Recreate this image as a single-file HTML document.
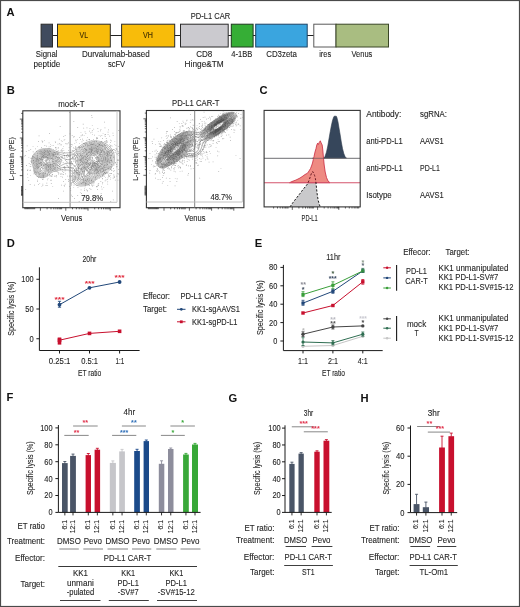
<!DOCTYPE html>
<html><head><meta charset="utf-8"><style>
html,body{margin:0;padding:0;background:#fff;overflow:hidden;}
svg{display:block;font-family:"Liberation Sans", sans-serif;will-change:transform;}
</style></head><body>
<svg width="520" height="607" viewBox="0 0 520 607">
<rect x="0" y="0" width="520" height="607" fill="#fff"/>
<rect x="0.50" y="0.50" width="519.00" height="606.00" fill="none" stroke="#4a4a4a" stroke-width="1.2"/>
<text x="6.60" y="16.00" font-size="11.2" fill="#111" font-weight="bold">A</text>
<line x1="52.00" y1="35.50" x2="314.00" y2="35.50" stroke="#222" stroke-width="1"/>
<rect x="41.10" y="24.20" width="11.40" height="22.80" fill="#404b5e" stroke="#2a2a2a" stroke-width="1.0"/>
<rect x="57.50" y="24.20" width="52.80" height="22.80" fill="#f8bc0a" stroke="#2a2a2a" stroke-width="1.0"/>
<rect x="121.60" y="24.20" width="53.10" height="22.80" fill="#f8bc0a" stroke="#2a2a2a" stroke-width="1.0"/>
<rect x="180.50" y="24.20" width="47.70" height="22.80" fill="#cbcacf" stroke="#2a2a2a" stroke-width="1.0"/>
<rect x="231.30" y="24.20" width="21.80" height="22.80" fill="#36ae36" stroke="#1f3a1f" stroke-width="1.0"/>
<rect x="255.70" y="24.20" width="51.50" height="22.80" fill="#3aa5df" stroke="#1e4466" stroke-width="1.0"/>
<rect x="313.80" y="24.20" width="22.20" height="22.80" fill="#ffffff" stroke="#5a5a5a" stroke-width="1.0"/>
<rect x="336.00" y="24.20" width="52.50" height="22.80" fill="#a9bd81" stroke="#3a4626" stroke-width="1.0"/>
<text x="79.50" y="37.90" font-size="8.4" fill="#3a2a00" stroke="#3a2a00" stroke-width="0.1" textLength="8.50" lengthAdjust="spacingAndGlyphs">VL</text>
<text x="143.10" y="37.90" font-size="8.4" fill="#3a2a00" stroke="#3a2a00" stroke-width="0.1" textLength="9.90" lengthAdjust="spacingAndGlyphs">VH</text>
<text x="190.80" y="19.10" font-size="8.6" fill="#242424" stroke="#242424" stroke-width="0.1" textLength="39.40" lengthAdjust="spacingAndGlyphs">PD-L1 CAR</text>
<text x="35.80" y="57.00" font-size="8.3" fill="#242424" stroke="#242424" stroke-width="0.1" textLength="21.70" lengthAdjust="spacingAndGlyphs">Signal</text>
<text x="33.50" y="66.70" font-size="8.3" fill="#242424" stroke="#242424" stroke-width="0.1" textLength="26.80" lengthAdjust="spacingAndGlyphs">peptide</text>
<text x="81.90" y="57.00" font-size="8.3" fill="#242424" stroke="#242424" stroke-width="0.1" textLength="67.80" lengthAdjust="spacingAndGlyphs">Durvalumab-based</text>
<text x="107.90" y="66.70" font-size="8.3" fill="#242424" stroke="#242424" stroke-width="0.1" textLength="17.30" lengthAdjust="spacingAndGlyphs">scFV</text>
<text x="196.20" y="57.00" font-size="8.3" fill="#242424" stroke="#242424" stroke-width="0.1" textLength="16.10" lengthAdjust="spacingAndGlyphs">CD8</text>
<text x="184.60" y="66.70" font-size="8.3" fill="#242424" stroke="#242424" stroke-width="0.1" textLength="39.20" lengthAdjust="spacingAndGlyphs">Hinge&amp;TM</text>
<text x="231.20" y="57.00" font-size="8.3" fill="#242424" stroke="#242424" stroke-width="0.1" textLength="21.10" lengthAdjust="spacingAndGlyphs">4-1BB</text>
<text x="266.20" y="57.00" font-size="8.3" fill="#242424" stroke="#242424" stroke-width="0.1" textLength="30.70" lengthAdjust="spacingAndGlyphs">CD3zeta</text>
<text x="319.20" y="57.00" font-size="8.3" fill="#242424" stroke="#242424" stroke-width="0.1" textLength="11.90" lengthAdjust="spacingAndGlyphs">ires</text>
<text x="351.50" y="57.00" font-size="8.3" fill="#242424" stroke="#242424" stroke-width="0.1" textLength="20.80" lengthAdjust="spacingAndGlyphs">Venus</text>
<text x="6.80" y="93.90" font-size="11.2" fill="#111" font-weight="bold">B</text>
<rect x="22.80" y="110.80" width="97.20" height="96.90" fill="none" stroke="#333" stroke-width="1.1"/>
<line x1="70.10" y1="110.80" x2="70.10" y2="207.70" stroke="#777" stroke-width="0.9"/>
<line x1="22.80" y1="202.30" x2="117.00" y2="202.30" stroke="#bbb" stroke-width="0.9"/>
<line x1="117.00" y1="110.80" x2="117.00" y2="202.30" stroke="#c4c4c4" stroke-width="0.9"/>
<path d="M22.8,119.1h-3.0M22.8,138.0h-3.0M22.8,156.8h-3.0M22.8,175.6h-3.0M22.8,113.4h-1.6M22.8,132.3h-1.6M22.8,129.0h-1.6M22.8,126.7h-1.6M22.8,124.9h-1.6M22.8,123.4h-1.6M22.8,122.1h-1.6M22.8,121.0h-1.6M22.8,120.1h-1.6M22.8,151.1h-1.6M22.8,147.8h-1.6M22.8,145.5h-1.6M22.8,143.7h-1.6M22.8,142.2h-1.6M22.8,140.9h-1.6M22.8,139.8h-1.6M22.8,138.9h-1.6M22.8,169.9h-1.6M22.8,166.6h-1.6M22.8,164.3h-1.6M22.8,162.5h-1.6M22.8,161.0h-1.6M22.8,159.7h-1.6M22.8,158.6h-1.6M22.8,157.7h-1.6M22.8,186.5h-1.8M22.8,187.3h-1.8M22.8,188.1h-1.8M22.8,188.9h-1.8M22.8,189.7h-1.8M22.8,190.5h-1.8M22.8,191.3h-1.8M22.8,192.1h-1.8M22.8,192.9h-1.8M22.8,193.7h-1.8M22.8,194.5h-1.8M22.8,195.3h-1.8" fill="none" stroke="#222" stroke-width="0.7"/>
<path d="M40.4,207.7v3.0M65.8,207.7v3.0M88.0,207.7v3.0M110.2,207.7v3.0M47.1,207.7v1.6M51.0,207.7v1.6M53.8,207.7v1.6M55.9,207.7v1.6M57.7,207.7v1.6M59.2,207.7v1.6M60.4,207.7v1.6M61.6,207.7v1.6M72.5,207.7v1.6M76.4,207.7v1.6M79.2,207.7v1.6M81.3,207.7v1.6M83.1,207.7v1.6M84.6,207.7v1.6M85.8,207.7v1.6M87.0,207.7v1.6M94.7,207.7v1.6M98.6,207.7v1.6M101.4,207.7v1.6M103.5,207.7v1.6M105.3,207.7v1.6M106.8,207.7v1.6M108.0,207.7v1.6M109.2,207.7v1.6M24.8,207.7v1.5M25.7,207.7v1.5M26.6,207.7v1.5M27.5,207.7v1.5M28.4,207.7v1.5M29.3,207.7v1.5M30.2,207.7v1.5M31.1,207.7v1.5M32.0,207.7v1.5M32.9,207.7v1.5M33.8,207.7v1.5M34.7,207.7v1.5" fill="none" stroke="#222" stroke-width="0.7"/>
<text x="58.30" y="106.50" font-size="8.3" fill="#242424" stroke="#242424" stroke-width="0.1" textLength="26.20" lengthAdjust="spacingAndGlyphs">mock-T</text>
<text x="61.10" y="220.60" font-size="8.3" fill="#242424" stroke="#242424" stroke-width="0.1" textLength="21.20" lengthAdjust="spacingAndGlyphs">Venus</text>
<text x="14.30" y="180.50" font-size="8.1" fill="#242424" stroke="#242424" stroke-width="0.1" textLength="43.20" lengthAdjust="spacingAndGlyphs" transform="rotate(-90 14.30 180.50)">L-protein (PE)</text>
<text x="81.30" y="200.60" font-size="8.3" fill="#242424" stroke="#242424" stroke-width="0.1" textLength="21.80" lengthAdjust="spacingAndGlyphs">79.8%</text>
<rect x="146.40" y="110.50" width="97.50" height="97.20" fill="none" stroke="#333" stroke-width="1.1"/>
<line x1="194.70" y1="110.50" x2="194.70" y2="207.70" stroke="#777" stroke-width="0.9"/>
<line x1="146.40" y1="202.00" x2="242.40" y2="202.00" stroke="#bbb" stroke-width="0.9"/>
<line x1="242.40" y1="110.50" x2="242.40" y2="202.00" stroke="#c4c4c4" stroke-width="0.9"/>
<path d="M146.4,118.8h-3.0M146.4,137.7h-3.0M146.4,156.5h-3.0M146.4,175.3h-3.0M146.4,113.1h-1.6M146.4,132.0h-1.6M146.4,128.7h-1.6M146.4,126.4h-1.6M146.4,124.6h-1.6M146.4,123.1h-1.6M146.4,121.8h-1.6M146.4,120.7h-1.6M146.4,119.8h-1.6M146.4,150.8h-1.6M146.4,147.5h-1.6M146.4,145.2h-1.6M146.4,143.4h-1.6M146.4,141.9h-1.6M146.4,140.6h-1.6M146.4,139.5h-1.6M146.4,138.6h-1.6M146.4,169.6h-1.6M146.4,166.3h-1.6M146.4,164.0h-1.6M146.4,162.2h-1.6M146.4,160.7h-1.6M146.4,159.4h-1.6M146.4,158.3h-1.6M146.4,157.4h-1.6M146.4,186.2h-1.8M146.4,187.0h-1.8M146.4,187.8h-1.8M146.4,188.6h-1.8M146.4,189.4h-1.8M146.4,190.2h-1.8M146.4,191.0h-1.8M146.4,191.8h-1.8M146.4,192.6h-1.8M146.4,193.4h-1.8M146.4,194.2h-1.8M146.4,195.0h-1.8" fill="none" stroke="#222" stroke-width="0.7"/>
<path d="M164.0,207.7v3.0M189.4,207.7v3.0M211.6,207.7v3.0M233.8,207.7v3.0M170.7,207.7v1.6M174.6,207.7v1.6M177.4,207.7v1.6M179.5,207.7v1.6M181.3,207.7v1.6M182.8,207.7v1.6M184.0,207.7v1.6M185.2,207.7v1.6M196.1,207.7v1.6M200.0,207.7v1.6M202.8,207.7v1.6M204.9,207.7v1.6M206.7,207.7v1.6M208.2,207.7v1.6M209.4,207.7v1.6M210.6,207.7v1.6M218.3,207.7v1.6M222.2,207.7v1.6M225.0,207.7v1.6M227.1,207.7v1.6M228.9,207.7v1.6M230.4,207.7v1.6M231.6,207.7v1.6M232.8,207.7v1.6M148.4,207.7v1.5M149.3,207.7v1.5M150.2,207.7v1.5M151.1,207.7v1.5M152.0,207.7v1.5M152.9,207.7v1.5M153.8,207.7v1.5M154.7,207.7v1.5M155.6,207.7v1.5M156.5,207.7v1.5M157.4,207.7v1.5M158.3,207.7v1.5" fill="none" stroke="#222" stroke-width="0.7"/>
<text x="172.00" y="105.70" font-size="8.3" fill="#242424" stroke="#242424" stroke-width="0.1" textLength="47.50" lengthAdjust="spacingAndGlyphs">PD-L1 CAR-T</text>
<text x="184.60" y="220.60" font-size="8.3" fill="#242424" stroke="#242424" stroke-width="0.1" textLength="20.90" lengthAdjust="spacingAndGlyphs">Venus</text>
<text x="137.60" y="180.80" font-size="8.1" fill="#242424" stroke="#242424" stroke-width="0.1" textLength="43.60" lengthAdjust="spacingAndGlyphs" transform="rotate(-90 137.60 180.80)">L-protein (PE)</text>
<text x="210.40" y="199.80" font-size="8.3" fill="#242424" stroke="#242424" stroke-width="0.1" textLength="21.60" lengthAdjust="spacingAndGlyphs">48.7%</text>
<path d="M56.4,151.5h0.7v0.7h-0.7zM71.3,161.0h0.7v0.7h-0.7zM29.6,170.2h0.7v0.7h-0.7zM107.0,164.1h0.7v0.7h-0.7zM51.7,145.4h0.7v0.7h-0.7zM75.5,157.5h0.7v0.7h-0.7zM85.8,154.1h0.7v0.7h-0.7zM40.9,159.8h0.7v0.7h-0.7zM42.1,172.9h0.7v0.7h-0.7zM65.0,173.5h0.7v0.7h-0.7zM79.4,147.1h0.7v0.7h-0.7zM81.2,163.8h0.7v0.7h-0.7zM111.3,159.8h0.7v0.7h-0.7zM90.5,169.3h0.7v0.7h-0.7zM68.3,167.4h0.7v0.7h-0.7zM101.9,145.4h0.7v0.7h-0.7zM86.1,174.6h0.7v0.7h-0.7zM50.4,166.4h0.7v0.7h-0.7zM83.0,179.4h0.7v0.7h-0.7zM94.8,146.9h0.7v0.7h-0.7zM29.8,184.2h0.7v0.7h-0.7zM104.5,165.0h0.7v0.7h-0.7zM64.7,167.4h0.7v0.7h-0.7zM32.9,156.3h0.7v0.7h-0.7zM41.5,166.9h0.7v0.7h-0.7zM108.7,167.3h0.7v0.7h-0.7zM58.0,198.1h0.7v0.7h-0.7zM86.3,189.5h0.7v0.7h-0.7zM28.4,180.3h0.7v0.7h-0.7zM63.8,185.3h0.7v0.7h-0.7zM92.9,164.6h0.7v0.7h-0.7zM37.3,156.6h0.7v0.7h-0.7zM82.7,172.4h0.7v0.7h-0.7zM69.3,186.2h0.7v0.7h-0.7zM99.1,166.1h0.7v0.7h-0.7zM86.8,166.7h0.7v0.7h-0.7zM40.6,152.8h0.7v0.7h-0.7zM59.3,166.1h0.7v0.7h-0.7zM87.5,163.1h0.7v0.7h-0.7zM53.5,158.7h0.7v0.7h-0.7zM96.5,186.6h0.7v0.7h-0.7zM92.4,168.1h0.7v0.7h-0.7zM105.7,161.7h0.7v0.7h-0.7zM105.8,140.5h0.7v0.7h-0.7zM58.8,158.1h0.7v0.7h-0.7zM43.4,171.9h0.7v0.7h-0.7zM50.1,169.6h0.7v0.7h-0.7zM106.4,167.6h0.7v0.7h-0.7zM118.3,152.7h0.7v0.7h-0.7zM85.4,155.8h0.7v0.7h-0.7zM70.9,163.1h0.7v0.7h-0.7zM97.3,157.6h0.7v0.7h-0.7zM67.0,165.3h0.7v0.7h-0.7zM100.7,157.8h0.7v0.7h-0.7zM86.6,127.5h0.7v0.7h-0.7zM81.8,134.8h0.7v0.7h-0.7zM79.9,192.4h0.7v0.7h-0.7zM91.8,163.0h0.7v0.7h-0.7zM106.4,142.1h0.7v0.7h-0.7zM79.3,174.3h0.7v0.7h-0.7zM116.7,166.0h0.7v0.7h-0.7zM96.2,156.5h0.7v0.7h-0.7zM89.2,139.6h0.7v0.7h-0.7zM97.0,153.0h0.7v0.7h-0.7zM117.2,159.4h0.7v0.7h-0.7zM100.5,181.1h0.7v0.7h-0.7zM62.2,140.9h0.7v0.7h-0.7zM86.4,162.3h0.7v0.7h-0.7zM98.3,167.0h0.7v0.7h-0.7zM73.8,171.6h0.7v0.7h-0.7zM85.0,179.9h0.7v0.7h-0.7zM27.5,176.9h0.7v0.7h-0.7zM92.3,163.7h0.7v0.7h-0.7zM91.3,166.7h0.7v0.7h-0.7zM107.7,131.8h0.7v0.7h-0.7zM106.5,153.3h0.7v0.7h-0.7zM35.9,163.1h0.7v0.7h-0.7zM36.9,171.5h0.7v0.7h-0.7zM84.7,186.6h0.7v0.7h-0.7zM81.6,178.9h0.7v0.7h-0.7zM47.4,158.3h0.7v0.7h-0.7zM80.0,155.2h0.7v0.7h-0.7zM103.3,158.5h0.7v0.7h-0.7zM70.8,164.8h0.7v0.7h-0.7zM72.3,168.9h0.7v0.7h-0.7zM104.2,121.7h0.7v0.7h-0.7zM102.3,173.9h0.7v0.7h-0.7zM58.4,161.3h0.7v0.7h-0.7zM101.3,168.6h0.7v0.7h-0.7zM84.9,142.8h0.7v0.7h-0.7zM92.6,143.9h0.7v0.7h-0.7zM99.5,154.4h0.7v0.7h-0.7zM82.2,171.2h0.7v0.7h-0.7zM64.5,139.4h0.7v0.7h-0.7zM60.5,150.5h0.7v0.7h-0.7zM111.0,150.6h0.7v0.7h-0.7zM104.8,180.5h0.7v0.7h-0.7zM74.4,142.9h0.7v0.7h-0.7zM61.0,184.8h0.7v0.7h-0.7zM111.0,164.5h0.7v0.7h-0.7zM93.9,141.5h0.7v0.7h-0.7zM46.6,156.9h0.7v0.7h-0.7zM102.8,169.6h0.7v0.7h-0.7zM101.0,164.4h0.7v0.7h-0.7zM84.7,131.6h0.7v0.7h-0.7zM111.8,150.4h0.7v0.7h-0.7zM95.9,173.5h0.7v0.7h-0.7zM90.4,182.9h0.7v0.7h-0.7zM61.0,159.3h0.7v0.7h-0.7zM89.6,173.1h0.7v0.7h-0.7zM102.6,151.6h0.7v0.7h-0.7zM113.8,152.4h0.7v0.7h-0.7zM102.8,175.4h0.7v0.7h-0.7zM90.5,157.1h0.7v0.7h-0.7zM72.1,181.9h0.7v0.7h-0.7zM74.8,154.7h0.7v0.7h-0.7zM114.4,163.5h0.7v0.7h-0.7zM53.6,162.7h0.7v0.7h-0.7zM104.6,127.6h0.7v0.7h-0.7zM90.7,168.2h0.7v0.7h-0.7zM101.5,154.1h0.7v0.7h-0.7zM105.2,158.6h0.7v0.7h-0.7zM57.8,150.2h0.7v0.7h-0.7zM87.5,154.9h0.7v0.7h-0.7zM110.3,169.1h0.7v0.7h-0.7zM75.6,177.6h0.7v0.7h-0.7zM83.0,171.3h0.7v0.7h-0.7zM101.4,166.4h0.7v0.7h-0.7zM78.6,146.8h0.7v0.7h-0.7zM65.8,143.5h0.7v0.7h-0.7zM63.4,136.3h0.7v0.7h-0.7zM85.3,184.5h0.7v0.7h-0.7zM112.9,199.6h0.7v0.7h-0.7zM103.5,165.8h0.7v0.7h-0.7zM94.5,165.5h0.7v0.7h-0.7zM69.3,174.9h0.7v0.7h-0.7zM30.2,169.7h0.7v0.7h-0.7zM50.5,175.7h0.7v0.7h-0.7zM92.0,170.4h0.7v0.7h-0.7zM92.6,141.2h0.7v0.7h-0.7zM97.2,163.7h0.7v0.7h-0.7zM59.6,163.6h0.7v0.7h-0.7zM84.8,156.5h0.7v0.7h-0.7zM46.8,185.1h0.7v0.7h-0.7zM90.4,170.2h0.7v0.7h-0.7zM57.6,157.0h0.7v0.7h-0.7zM87.2,174.8h0.7v0.7h-0.7zM74.4,170.3h0.7v0.7h-0.7zM38.1,141.1h0.7v0.7h-0.7zM26.3,165.4h0.7v0.7h-0.7zM98.6,166.7h0.7v0.7h-0.7zM80.6,131.9h0.7v0.7h-0.7zM76.6,172.8h0.7v0.7h-0.7zM99.9,149.4h0.7v0.7h-0.7zM98.9,144.0h0.7v0.7h-0.7zM110.9,140.5h0.7v0.7h-0.7zM93.5,143.5h0.7v0.7h-0.7zM108.9,162.6h0.7v0.7h-0.7zM110.0,157.5h0.7v0.7h-0.7zM84.2,152.5h0.7v0.7h-0.7zM76.0,171.8h0.7v0.7h-0.7zM73.9,153.7h0.7v0.7h-0.7zM118.4,155.4h0.7v0.7h-0.7zM91.7,117.0h0.7v0.7h-0.7zM30.4,149.0h0.7v0.7h-0.7zM59.7,164.1h0.7v0.7h-0.7zM39.2,173.5h0.7v0.7h-0.7zM91.4,151.7h0.7v0.7h-0.7zM115.0,151.8h0.7v0.7h-0.7zM63.4,172.2h0.7v0.7h-0.7zM28.6,150.2h0.7v0.7h-0.7zM51.3,157.9h0.7v0.7h-0.7zM105.8,172.6h0.7v0.7h-0.7zM70.9,158.6h0.7v0.7h-0.7zM91.4,180.6h0.7v0.7h-0.7zM91.6,182.6h0.7v0.7h-0.7zM60.4,161.6h0.7v0.7h-0.7zM56.0,175.2h0.7v0.7h-0.7zM114.5,140.9h0.7v0.7h-0.7zM73.5,158.7h0.7v0.7h-0.7zM55.4,154.2h0.7v0.7h-0.7zM106.3,155.2h0.7v0.7h-0.7zM117.9,146.2h0.7v0.7h-0.7zM113.8,170.0h0.7v0.7h-0.7zM96.2,163.2h0.7v0.7h-0.7zM108.6,168.2h0.7v0.7h-0.7zM81.7,163.8h0.7v0.7h-0.7zM70.0,174.9h0.7v0.7h-0.7zM95.6,166.0h0.7v0.7h-0.7zM96.2,137.8h0.7v0.7h-0.7zM93.7,181.6h0.7v0.7h-0.7zM72.2,150.2h0.7v0.7h-0.7zM100.2,168.6h0.7v0.7h-0.7zM104.5,152.5h0.7v0.7h-0.7zM53.8,163.6h0.7v0.7h-0.7zM87.7,154.8h0.7v0.7h-0.7zM100.9,160.7h0.7v0.7h-0.7zM70.3,155.5h0.7v0.7h-0.7zM82.6,161.8h0.7v0.7h-0.7zM89.0,130.7h0.7v0.7h-0.7zM60.8,173.6h0.7v0.7h-0.7zM94.0,148.4h0.7v0.7h-0.7zM96.2,186.0h0.7v0.7h-0.7zM59.8,126.2h0.7v0.7h-0.7zM66.1,155.2h0.7v0.7h-0.7zM76.6,185.3h0.7v0.7h-0.7zM48.4,157.5h0.7v0.7h-0.7zM32.4,155.7h0.7v0.7h-0.7zM88.6,184.5h0.7v0.7h-0.7zM49.0,175.6h0.7v0.7h-0.7zM38.7,176.5h0.7v0.7h-0.7zM93.2,167.1h0.7v0.7h-0.7zM89.6,145.2h0.7v0.7h-0.7zM41.1,147.2h0.7v0.7h-0.7zM109.4,152.2h0.7v0.7h-0.7zM97.1,146.2h0.7v0.7h-0.7zM64.8,183.7h0.7v0.7h-0.7zM96.1,172.8h0.7v0.7h-0.7zM84.4,171.6h0.7v0.7h-0.7zM103.9,175.7h0.7v0.7h-0.7zM61.7,156.1h0.7v0.7h-0.7zM109.9,179.4h0.7v0.7h-0.7zM93.7,162.0h0.7v0.7h-0.7zM72.1,156.5h0.7v0.7h-0.7zM64.7,170.5h0.7v0.7h-0.7zM25.0,155.1h0.7v0.7h-0.7zM61.9,169.0h0.7v0.7h-0.7zM116.3,166.5h0.7v0.7h-0.7zM44.5,145.2h0.7v0.7h-0.7zM73.6,184.7h0.7v0.7h-0.7zM93.5,143.8h0.7v0.7h-0.7zM118.3,150.9h0.7v0.7h-0.7zM66.8,157.0h0.7v0.7h-0.7zM107.9,148.9h0.7v0.7h-0.7zM73.8,136.0h0.7v0.7h-0.7zM108.1,129.5h0.7v0.7h-0.7zM71.0,172.9h0.7v0.7h-0.7zM97.7,143.3h0.7v0.7h-0.7zM113.7,175.8h0.7v0.7h-0.7zM82.4,182.0h0.7v0.7h-0.7zM35.5,173.9h0.7v0.7h-0.7zM98.2,171.5h0.7v0.7h-0.7zM32.7,145.9h0.7v0.7h-0.7zM57.2,165.0h0.7v0.7h-0.7zM97.6,156.1h0.7v0.7h-0.7zM48.3,167.3h0.7v0.7h-0.7zM59.4,143.3h0.7v0.7h-0.7zM73.8,171.8h0.7v0.7h-0.7zM45.5,151.4h0.7v0.7h-0.7zM99.8,142.2h0.7v0.7h-0.7zM106.8,141.5h0.7v0.7h-0.7zM51.7,153.6h0.7v0.7h-0.7zM95.6,163.3h0.7v0.7h-0.7zM85.5,164.6h0.7v0.7h-0.7zM80.3,159.5h0.7v0.7h-0.7zM77.6,172.8h0.7v0.7h-0.7zM33.7,162.2h0.7v0.7h-0.7zM85.9,139.9h0.7v0.7h-0.7zM50.8,168.3h0.7v0.7h-0.7zM85.9,149.3h0.7v0.7h-0.7zM107.3,156.4h0.7v0.7h-0.7zM113.9,177.0h0.7v0.7h-0.7zM55.0,142.1h0.7v0.7h-0.7zM106.5,163.0h0.7v0.7h-0.7zM111.3,166.3h0.7v0.7h-0.7zM114.9,150.3h0.7v0.7h-0.7zM87.6,184.9h0.7v0.7h-0.7zM100.0,154.7h0.7v0.7h-0.7zM102.0,175.9h0.7v0.7h-0.7zM114.9,179.7h0.7v0.7h-0.7zM92.3,164.6h0.7v0.7h-0.7zM68.3,167.3h0.7v0.7h-0.7zM90.0,152.8h0.7v0.7h-0.7zM52.2,174.1h0.7v0.7h-0.7zM92.2,157.1h0.7v0.7h-0.7zM89.4,148.7h0.7v0.7h-0.7zM91.7,159.7h0.7v0.7h-0.7zM85.6,167.8h0.7v0.7h-0.7zM91.8,173.3h0.7v0.7h-0.7zM91.2,172.3h0.7v0.7h-0.7zM86.1,149.8h0.7v0.7h-0.7zM41.1,164.2h0.7v0.7h-0.7zM63.2,181.1h0.7v0.7h-0.7zM96.7,152.5h0.7v0.7h-0.7zM59.8,169.4h0.7v0.7h-0.7zM103.3,171.4h0.7v0.7h-0.7zM87.3,156.1h0.7v0.7h-0.7zM72.9,167.5h0.7v0.7h-0.7zM69.3,160.7h0.7v0.7h-0.7zM99.4,144.6h0.7v0.7h-0.7zM91.6,160.5h0.7v0.7h-0.7zM73.5,121.0h0.7v0.7h-0.7zM79.1,143.4h0.7v0.7h-0.7zM39.7,168.9h0.7v0.7h-0.7zM108.2,165.9h0.7v0.7h-0.7zM97.8,130.9h0.7v0.7h-0.7zM112.8,177.8h0.7v0.7h-0.7zM72.8,179.5h0.7v0.7h-0.7zM113.5,174.6h0.7v0.7h-0.7zM64.2,185.8h0.7v0.7h-0.7zM112.1,190.7h0.7v0.7h-0.7zM97.1,164.3h0.7v0.7h-0.7zM32.8,151.6h0.7v0.7h-0.7zM107.7,150.7h0.7v0.7h-0.7zM57.3,153.0h0.7v0.7h-0.7zM81.0,156.2h0.7v0.7h-0.7zM110.1,160.0h0.7v0.7h-0.7zM58.9,157.1h0.7v0.7h-0.7zM98.1,149.8h0.7v0.7h-0.7zM98.1,160.0h0.7v0.7h-0.7zM73.0,158.5h0.7v0.7h-0.7zM87.9,180.7h0.7v0.7h-0.7zM79.1,174.6h0.7v0.7h-0.7zM105.4,158.2h0.7v0.7h-0.7zM106.1,168.8h0.7v0.7h-0.7zM105.7,173.4h0.7v0.7h-0.7zM46.2,156.3h0.7v0.7h-0.7zM60.6,156.9h0.7v0.7h-0.7zM75.4,172.6h0.7v0.7h-0.7zM92.0,133.9h0.7v0.7h-0.7zM80.0,169.5h0.7v0.7h-0.7zM109.8,146.2h0.7v0.7h-0.7zM62.3,176.8h0.7v0.7h-0.7zM88.6,139.3h0.7v0.7h-0.7zM88.9,178.6h0.7v0.7h-0.7zM54.2,168.6h0.7v0.7h-0.7zM90.0,162.3h0.7v0.7h-0.7zM81.4,158.7h0.7v0.7h-0.7zM85.1,166.8h0.7v0.7h-0.7zM71.3,145.9h0.7v0.7h-0.7zM104.3,145.6h0.7v0.7h-0.7zM102.4,182.3h0.7v0.7h-0.7zM99.8,154.1h0.7v0.7h-0.7zM110.9,169.6h0.7v0.7h-0.7zM96.0,169.3h0.7v0.7h-0.7zM51.4,163.8h0.7v0.7h-0.7zM98.9,144.2h0.7v0.7h-0.7zM89.2,157.1h0.7v0.7h-0.7zM53.2,155.1h0.7v0.7h-0.7zM99.5,170.2h0.7v0.7h-0.7zM91.0,167.5h0.7v0.7h-0.7zM84.2,173.7h0.7v0.7h-0.7zM73.4,136.7h0.7v0.7h-0.7zM38.1,167.3h0.7v0.7h-0.7zM102.0,159.9h0.7v0.7h-0.7zM84.1,190.1h0.7v0.7h-0.7zM90.8,151.3h0.7v0.7h-0.7zM110.2,150.3h0.7v0.7h-0.7zM46.7,169.4h0.7v0.7h-0.7zM98.8,167.1h0.7v0.7h-0.7zM44.1,140.4h0.7v0.7h-0.7zM71.8,135.2h0.7v0.7h-0.7zM97.6,171.0h0.7v0.7h-0.7zM77.2,172.1h0.7v0.7h-0.7zM73.0,158.5h0.7v0.7h-0.7zM37.1,155.4h0.7v0.7h-0.7zM69.4,155.9h0.7v0.7h-0.7zM53.3,154.4h0.7v0.7h-0.7zM46.9,159.3h0.7v0.7h-0.7zM98.4,157.9h0.7v0.7h-0.7zM92.0,144.2h0.7v0.7h-0.7zM77.6,179.9h0.7v0.7h-0.7zM82.6,149.1h0.7v0.7h-0.7zM95.8,140.7h0.7v0.7h-0.7zM105.9,138.2h0.7v0.7h-0.7zM103.6,154.6h0.7v0.7h-0.7zM108.3,174.6h0.7v0.7h-0.7zM27.2,170.2h0.7v0.7h-0.7zM95.7,147.8h0.7v0.7h-0.7zM100.7,177.4h0.7v0.7h-0.7zM117.0,160.1h0.7v0.7h-0.7zM61.2,149.9h0.7v0.7h-0.7zM46.3,162.1h0.7v0.7h-0.7zM78.1,167.5h0.7v0.7h-0.7zM68.8,156.4h0.7v0.7h-0.7zM68.2,179.2h0.7v0.7h-0.7zM95.9,167.0h0.7v0.7h-0.7zM108.7,160.2h0.7v0.7h-0.7zM80.6,158.8h0.7v0.7h-0.7zM44.8,166.7h0.7v0.7h-0.7zM105.3,134.0h0.7v0.7h-0.7zM35.4,165.9h0.7v0.7h-0.7zM73.0,160.8h0.7v0.7h-0.7zM91.4,115.1h0.7v0.7h-0.7zM26.1,165.3h0.7v0.7h-0.7zM46.5,182.7h0.7v0.7h-0.7zM37.2,166.0h0.7v0.7h-0.7zM98.2,160.0h0.7v0.7h-0.7zM79.8,160.0h0.7v0.7h-0.7zM65.4,179.1h0.7v0.7h-0.7zM74.1,198.0h0.7v0.7h-0.7zM111.2,160.2h0.7v0.7h-0.7zM109.2,161.6h0.7v0.7h-0.7zM106.9,141.8h0.7v0.7h-0.7zM78.0,164.6h0.7v0.7h-0.7zM74.7,179.4h0.7v0.7h-0.7zM57.1,168.7h0.7v0.7h-0.7zM101.1,166.5h0.7v0.7h-0.7zM45.6,163.9h0.7v0.7h-0.7zM100.7,172.1h0.7v0.7h-0.7zM40.9,151.1h0.7v0.7h-0.7zM59.2,161.6h0.7v0.7h-0.7zM94.1,173.0h0.7v0.7h-0.7zM55.3,156.6h0.7v0.7h-0.7zM83.4,127.8h0.7v0.7h-0.7zM39.9,169.9h0.7v0.7h-0.7zM52.8,154.2h0.7v0.7h-0.7zM88.2,159.0h0.7v0.7h-0.7zM95.0,163.0h0.7v0.7h-0.7zM42.5,159.0h0.7v0.7h-0.7zM76.3,170.0h0.7v0.7h-0.7zM42.5,152.6h0.7v0.7h-0.7zM88.2,152.3h0.7v0.7h-0.7zM39.4,182.9h0.7v0.7h-0.7zM71.0,181.9h0.7v0.7h-0.7zM60.2,173.8h0.7v0.7h-0.7zM71.2,162.3h0.7v0.7h-0.7zM64.2,151.9h0.7v0.7h-0.7zM87.1,190.6h0.7v0.7h-0.7zM97.7,185.3h0.7v0.7h-0.7zM58.9,157.1h0.7v0.7h-0.7zM89.8,162.7h0.7v0.7h-0.7zM86.8,175.4h0.7v0.7h-0.7zM58.5,168.5h0.7v0.7h-0.7zM109.2,176.0h0.7v0.7h-0.7zM84.5,168.5h0.7v0.7h-0.7zM109.3,172.9h0.7v0.7h-0.7zM68.0,154.8h0.7v0.7h-0.7zM36.2,166.8h0.7v0.7h-0.7zM41.7,162.5h0.7v0.7h-0.7zM76.4,152.5h0.7v0.7h-0.7zM94.4,162.0h0.7v0.7h-0.7zM109.4,144.4h0.7v0.7h-0.7zM58.4,153.8h0.7v0.7h-0.7zM58.9,138.8h0.7v0.7h-0.7zM55.7,147.6h0.7v0.7h-0.7zM75.4,146.3h0.7v0.7h-0.7zM83.1,166.5h0.7v0.7h-0.7zM104.7,147.1h0.7v0.7h-0.7zM93.6,172.1h0.7v0.7h-0.7zM90.1,172.7h0.7v0.7h-0.7zM93.7,176.6h0.7v0.7h-0.7zM58.5,152.3h0.7v0.7h-0.7zM33.6,157.6h0.7v0.7h-0.7zM31.0,162.3h0.7v0.7h-0.7zM76.6,147.6h0.7v0.7h-0.7zM108.6,154.1h0.7v0.7h-0.7zM104.0,148.8h0.7v0.7h-0.7zM82.3,138.8h0.7v0.7h-0.7zM86.9,168.4h0.7v0.7h-0.7zM72.3,163.0h0.7v0.7h-0.7zM91.1,183.7h0.7v0.7h-0.7zM96.6,169.8h0.7v0.7h-0.7zM105.2,173.5h0.7v0.7h-0.7zM49.1,162.0h0.7v0.7h-0.7zM43.4,155.5h0.7v0.7h-0.7zM94.3,141.6h0.7v0.7h-0.7zM61.0,144.6h0.7v0.7h-0.7zM44.7,173.1h0.7v0.7h-0.7zM75.1,176.5h0.7v0.7h-0.7zM61.4,149.5h0.7v0.7h-0.7zM91.9,130.1h0.7v0.7h-0.7zM76.9,154.7h0.7v0.7h-0.7zM68.3,142.5h0.7v0.7h-0.7zM107.1,167.4h0.7v0.7h-0.7zM96.6,168.0h0.7v0.7h-0.7zM105.2,176.9h0.7v0.7h-0.7zM80.9,149.5h0.7v0.7h-0.7zM90.1,172.4h0.7v0.7h-0.7zM98.1,161.2h0.7v0.7h-0.7zM49.3,133.2h0.7v0.7h-0.7zM43.7,162.6h0.7v0.7h-0.7zM77.9,162.6h0.7v0.7h-0.7zM100.3,130.5h0.7v0.7h-0.7zM42.3,168.7h0.7v0.7h-0.7zM110.5,154.7h0.7v0.7h-0.7zM63.7,155.3h0.7v0.7h-0.7zM47.6,165.0h0.7v0.7h-0.7zM91.6,185.0h0.7v0.7h-0.7zM44.0,162.4h0.7v0.7h-0.7zM111.0,173.0h0.7v0.7h-0.7zM54.6,171.0h0.7v0.7h-0.7zM94.3,163.6h0.7v0.7h-0.7zM53.0,154.8h0.7v0.7h-0.7zM50.6,171.6h0.7v0.7h-0.7zM103.4,186.9h0.7v0.7h-0.7zM69.4,176.3h0.7v0.7h-0.7zM115.0,162.6h0.7v0.7h-0.7zM83.0,151.8h0.7v0.7h-0.7zM102.3,138.0h0.7v0.7h-0.7zM104.8,136.3h0.7v0.7h-0.7zM52.1,161.6h0.7v0.7h-0.7zM55.0,165.0h0.7v0.7h-0.7zM88.8,176.4h0.7v0.7h-0.7zM52.4,186.4h0.7v0.7h-0.7zM90.3,144.1h0.7v0.7h-0.7zM104.5,134.5h0.7v0.7h-0.7zM88.9,148.5h0.7v0.7h-0.7zM104.3,166.7h0.7v0.7h-0.7zM48.2,170.1h0.7v0.7h-0.7zM98.2,144.9h0.7v0.7h-0.7zM87.0,169.5h0.7v0.7h-0.7zM85.4,179.9h0.7v0.7h-0.7zM92.0,148.7h0.7v0.7h-0.7zM68.5,155.8h0.7v0.7h-0.7zM50.2,164.1h0.7v0.7h-0.7zM92.0,160.0h0.7v0.7h-0.7zM82.8,168.0h0.7v0.7h-0.7zM104.6,154.3h0.7v0.7h-0.7zM84.9,182.9h0.7v0.7h-0.7zM57.6,159.6h0.7v0.7h-0.7zM93.6,182.1h0.7v0.7h-0.7zM101.4,168.6h0.7v0.7h-0.7zM107.6,152.6h0.7v0.7h-0.7zM25.4,189.2h0.7v0.7h-0.7zM37.3,152.8h0.7v0.7h-0.7zM102.3,178.0h0.7v0.7h-0.7zM106.5,140.4h0.7v0.7h-0.7zM86.0,156.9h0.7v0.7h-0.7zM85.0,144.6h0.7v0.7h-0.7zM80.4,167.9h0.7v0.7h-0.7zM40.5,150.8h0.7v0.7h-0.7zM118.0,159.7h0.7v0.7h-0.7zM73.4,150.5h0.7v0.7h-0.7zM99.2,177.9h0.7v0.7h-0.7zM80.9,168.1h0.7v0.7h-0.7zM111.1,155.4h0.7v0.7h-0.7zM101.2,186.6h0.7v0.7h-0.7zM39.6,162.9h0.7v0.7h-0.7zM57.8,148.4h0.7v0.7h-0.7zM75.4,147.2h0.7v0.7h-0.7zM100.4,150.4h0.7v0.7h-0.7zM50.6,158.3h0.7v0.7h-0.7zM96.2,141.4h0.7v0.7h-0.7zM80.7,135.6h0.7v0.7h-0.7zM57.5,153.9h0.7v0.7h-0.7zM105.0,169.0h0.7v0.7h-0.7zM55.7,162.7h0.7v0.7h-0.7zM97.4,151.8h0.7v0.7h-0.7zM27.3,173.7h0.7v0.7h-0.7zM98.9,154.7h0.7v0.7h-0.7zM97.8,183.7h0.7v0.7h-0.7zM91.1,149.3h0.7v0.7h-0.7zM91.4,160.3h0.7v0.7h-0.7zM87.1,179.3h0.7v0.7h-0.7zM40.8,152.8h0.7v0.7h-0.7zM57.7,172.2h0.7v0.7h-0.7zM100.6,163.3h0.7v0.7h-0.7zM73.4,175.4h0.7v0.7h-0.7zM55.5,170.6h0.7v0.7h-0.7zM86.0,169.9h0.7v0.7h-0.7zM110.9,173.4h0.7v0.7h-0.7zM99.5,144.0h0.7v0.7h-0.7zM53.3,163.0h0.7v0.7h-0.7zM89.0,148.9h0.7v0.7h-0.7zM90.6,189.2h0.7v0.7h-0.7zM62.1,150.5h0.7v0.7h-0.7zM108.6,150.7h0.7v0.7h-0.7zM77.7,151.3h0.7v0.7h-0.7zM36.6,164.7h0.7v0.7h-0.7zM107.1,153.4h0.7v0.7h-0.7zM86.6,149.8h0.7v0.7h-0.7zM46.6,167.6h0.7v0.7h-0.7zM105.1,140.9h0.7v0.7h-0.7zM37.5,168.2h0.7v0.7h-0.7zM84.7,148.0h0.7v0.7h-0.7zM97.4,157.3h0.7v0.7h-0.7zM78.6,163.7h0.7v0.7h-0.7zM86.6,180.4h0.7v0.7h-0.7zM71.9,196.3h0.7v0.7h-0.7zM69.2,112.2h0.7v0.7h-0.7zM33.3,163.0h0.7v0.7h-0.7zM110.4,201.3h0.7v0.7h-0.7zM38.7,174.1h0.7v0.7h-0.7zM92.8,152.7h0.7v0.7h-0.7zM35.2,148.6h0.7v0.7h-0.7zM97.1,185.9h0.7v0.7h-0.7zM94.4,151.2h0.7v0.7h-0.7zM87.7,172.5h0.7v0.7h-0.7zM73.0,157.6h0.7v0.7h-0.7zM47.5,151.8h0.7v0.7h-0.7zM111.5,170.1h0.7v0.7h-0.7zM57.1,167.2h0.7v0.7h-0.7zM54.3,154.5h0.7v0.7h-0.7zM105.7,160.7h0.7v0.7h-0.7zM75.6,155.4h0.7v0.7h-0.7zM59.2,158.1h0.7v0.7h-0.7zM65.5,143.3h0.7v0.7h-0.7zM84.7,176.6h0.7v0.7h-0.7zM53.1,144.9h0.7v0.7h-0.7zM107.7,172.4h0.7v0.7h-0.7zM52.7,166.2h0.7v0.7h-0.7zM62.4,171.3h0.7v0.7h-0.7zM40.9,162.6h0.7v0.7h-0.7zM107.4,181.6h0.7v0.7h-0.7zM69.5,163.8h0.7v0.7h-0.7zM113.9,149.5h0.7v0.7h-0.7zM106.8,148.4h0.7v0.7h-0.7zM52.5,154.2h0.7v0.7h-0.7zM77.6,168.5h0.7v0.7h-0.7zM78.1,168.0h0.7v0.7h-0.7zM47.2,157.3h0.7v0.7h-0.7zM77.0,156.7h0.7v0.7h-0.7zM85.0,169.3h0.7v0.7h-0.7zM81.9,161.6h0.7v0.7h-0.7zM91.7,159.3h0.7v0.7h-0.7zM95.9,158.2h0.7v0.7h-0.7zM109.2,153.1h0.7v0.7h-0.7zM85.5,169.4h0.7v0.7h-0.7zM80.5,153.7h0.7v0.7h-0.7zM65.3,160.3h0.7v0.7h-0.7zM52.6,164.9h0.7v0.7h-0.7zM73.2,147.5h0.7v0.7h-0.7zM83.6,167.4h0.7v0.7h-0.7zM88.6,171.2h0.7v0.7h-0.7zM96.9,137.4h0.7v0.7h-0.7zM45.3,157.2h0.7v0.7h-0.7zM55.6,153.1h0.7v0.7h-0.7zM92.3,158.3h0.7v0.7h-0.7zM73.2,172.9h0.7v0.7h-0.7zM89.6,170.7h0.7v0.7h-0.7zM68.9,171.5h0.7v0.7h-0.7zM77.5,166.3h0.7v0.7h-0.7zM36.8,176.1h0.7v0.7h-0.7zM61.8,173.8h0.7v0.7h-0.7zM85.7,157.8h0.7v0.7h-0.7zM34.1,184.8h0.7v0.7h-0.7zM103.7,152.6h0.7v0.7h-0.7zM61.5,156.8h0.7v0.7h-0.7zM54.4,152.0h0.7v0.7h-0.7zM34.5,164.8h0.7v0.7h-0.7zM110.8,148.8h0.7v0.7h-0.7zM73.8,178.6h0.7v0.7h-0.7zM44.7,154.1h0.7v0.7h-0.7zM100.5,171.2h0.7v0.7h-0.7zM35.7,171.9h0.7v0.7h-0.7zM78.8,173.7h0.7v0.7h-0.7zM82.0,176.0h0.7v0.7h-0.7zM108.8,155.1h0.7v0.7h-0.7zM97.0,170.1h0.7v0.7h-0.7zM81.6,155.3h0.7v0.7h-0.7zM50.2,151.3h0.7v0.7h-0.7zM73.7,170.2h0.7v0.7h-0.7zM81.8,161.4h0.7v0.7h-0.7zM106.7,164.8h0.7v0.7h-0.7zM78.9,156.6h0.7v0.7h-0.7zM64.3,155.0h0.7v0.7h-0.7zM75.4,177.8h0.7v0.7h-0.7zM117.4,173.2h0.7v0.7h-0.7zM70.4,190.1h0.7v0.7h-0.7zM89.5,188.3h0.7v0.7h-0.7zM94.4,170.1h0.7v0.7h-0.7zM36.2,158.6h0.7v0.7h-0.7zM52.9,165.7h0.7v0.7h-0.7zM93.7,171.1h0.7v0.7h-0.7zM32.9,160.0h0.7v0.7h-0.7zM59.8,144.5h0.7v0.7h-0.7zM66.5,156.0h0.7v0.7h-0.7zM69.6,133.6h0.7v0.7h-0.7zM94.3,163.8h0.7v0.7h-0.7zM77.4,195.3h0.7v0.7h-0.7zM43.7,165.4h0.7v0.7h-0.7zM112.1,150.0h0.7v0.7h-0.7zM88.0,168.6h0.7v0.7h-0.7zM117.9,173.9h0.7v0.7h-0.7zM39.5,158.4h0.7v0.7h-0.7zM85.5,196.9h0.7v0.7h-0.7zM42.8,157.1h0.7v0.7h-0.7zM109.4,135.7h0.7v0.7h-0.7zM113.6,164.7h0.7v0.7h-0.7zM33.9,169.8h0.7v0.7h-0.7zM105.7,179.5h0.7v0.7h-0.7zM87.2,160.3h0.7v0.7h-0.7zM49.4,150.7h0.7v0.7h-0.7zM104.8,166.8h0.7v0.7h-0.7zM77.4,127.0h0.7v0.7h-0.7zM111.4,152.3h0.7v0.7h-0.7zM97.0,157.2h0.7v0.7h-0.7zM70.5,149.7h0.7v0.7h-0.7zM60.9,140.5h0.7v0.7h-0.7zM63.3,174.3h0.7v0.7h-0.7zM89.6,173.4h0.7v0.7h-0.7zM83.9,143.3h0.7v0.7h-0.7zM91.7,131.7h0.7v0.7h-0.7zM64.2,168.3h0.7v0.7h-0.7zM88.4,163.5h0.7v0.7h-0.7zM92.6,161.1h0.7v0.7h-0.7zM95.0,178.7h0.7v0.7h-0.7zM83.7,179.7h0.7v0.7h-0.7zM101.7,188.8h0.7v0.7h-0.7zM50.3,167.0h0.7v0.7h-0.7zM95.4,145.3h0.7v0.7h-0.7zM55.4,152.6h0.7v0.7h-0.7zM97.2,189.3h0.7v0.7h-0.7zM42.8,177.5h0.7v0.7h-0.7zM87.2,137.4h0.7v0.7h-0.7zM87.1,158.2h0.7v0.7h-0.7zM95.9,169.1h0.7v0.7h-0.7zM110.2,155.6h0.7v0.7h-0.7zM116.5,175.7h0.7v0.7h-0.7zM81.3,183.3h0.7v0.7h-0.7zM91.5,178.9h0.7v0.7h-0.7zM63.6,167.3h0.7v0.7h-0.7zM33.4,160.6h0.7v0.7h-0.7zM50.7,157.5h0.7v0.7h-0.7zM58.1,157.4h0.7v0.7h-0.7zM78.8,201.3h0.7v0.7h-0.7zM38.7,135.6h0.7v0.7h-0.7zM50.7,179.7h0.7v0.7h-0.7zM82.9,123.9h0.7v0.7h-0.7zM88.8,165.0h0.7v0.7h-0.7zM56.5,159.7h0.7v0.7h-0.7zM40.4,173.0h0.7v0.7h-0.7zM98.5,165.2h0.7v0.7h-0.7zM72.0,157.0h0.7v0.7h-0.7zM52.5,158.5h0.7v0.7h-0.7zM45.8,164.7h0.7v0.7h-0.7zM91.9,124.9h0.7v0.7h-0.7zM103.7,168.9h0.7v0.7h-0.7zM89.2,185.2h0.7v0.7h-0.7zM70.1,188.1h0.7v0.7h-0.7zM83.5,162.4h0.7v0.7h-0.7zM88.8,173.0h0.7v0.7h-0.7zM89.9,162.3h0.7v0.7h-0.7zM54.0,175.8h0.7v0.7h-0.7zM48.2,171.7h0.7v0.7h-0.7zM69.3,162.4h0.7v0.7h-0.7zM95.6,161.0h0.7v0.7h-0.7zM107.2,160.0h0.7v0.7h-0.7zM82.6,172.9h0.7v0.7h-0.7zM89.3,172.4h0.7v0.7h-0.7zM77.5,153.5h0.7v0.7h-0.7zM79.7,164.2h0.7v0.7h-0.7zM100.8,193.1h0.7v0.7h-0.7zM100.6,151.8h0.7v0.7h-0.7zM107.8,155.7h0.7v0.7h-0.7zM43.6,152.9h0.7v0.7h-0.7zM65.4,168.7h0.7v0.7h-0.7zM74.6,155.1h0.7v0.7h-0.7zM72.6,181.7h0.7v0.7h-0.7zM35.6,160.7h0.7v0.7h-0.7zM79.5,148.4h0.7v0.7h-0.7zM31.4,160.7h0.7v0.7h-0.7zM107.2,154.7h0.7v0.7h-0.7zM86.6,139.7h0.7v0.7h-0.7zM89.5,152.1h0.7v0.7h-0.7zM53.7,152.1h0.7v0.7h-0.7zM80.2,162.1h0.7v0.7h-0.7zM78.4,160.7h0.7v0.7h-0.7zM45.6,185.2h0.7v0.7h-0.7zM98.7,135.4h0.7v0.7h-0.7zM96.1,149.6h0.7v0.7h-0.7zM91.3,169.9h0.7v0.7h-0.7zM102.7,167.3h0.7v0.7h-0.7zM97.3,138.3h0.7v0.7h-0.7zM100.5,159.8h0.7v0.7h-0.7zM42.2,156.1h0.7v0.7h-0.7zM90.9,165.1h0.7v0.7h-0.7zM36.9,158.8h0.7v0.7h-0.7zM79.3,174.8h0.7v0.7h-0.7zM97.5,128.3h0.7v0.7h-0.7zM115.7,148.2h0.7v0.7h-0.7zM83.4,169.7h0.7v0.7h-0.7zM56.2,176.5h0.7v0.7h-0.7zM42.2,141.8h0.7v0.7h-0.7zM79.1,159.6h0.7v0.7h-0.7zM58.5,172.7h0.7v0.7h-0.7zM107.6,152.1h0.7v0.7h-0.7zM93.2,165.8h0.7v0.7h-0.7zM52.3,174.5h0.7v0.7h-0.7zM88.6,170.2h0.7v0.7h-0.7zM89.5,159.7h0.7v0.7h-0.7zM74.7,157.7h0.7v0.7h-0.7zM95.4,168.7h0.7v0.7h-0.7zM96.7,171.9h0.7v0.7h-0.7zM55.5,163.7h0.7v0.7h-0.7zM116.1,148.9h0.7v0.7h-0.7zM84.5,166.3h0.7v0.7h-0.7zM102.1,155.7h0.7v0.7h-0.7zM79.4,137.3h0.7v0.7h-0.7zM64.8,135.3h0.7v0.7h-0.7zM92.1,185.8h0.7v0.7h-0.7zM76.9,179.0h0.7v0.7h-0.7zM103.5,160.5h0.7v0.7h-0.7zM93.5,182.7h0.7v0.7h-0.7zM85.0,183.4h0.7v0.7h-0.7zM86.7,143.8h0.7v0.7h-0.7zM110.6,167.1h0.7v0.7h-0.7zM88.4,171.1h0.7v0.7h-0.7zM42.8,176.6h0.7v0.7h-0.7zM108.0,168.3h0.7v0.7h-0.7zM91.3,143.8h0.7v0.7h-0.7zM81.6,141.6h0.7v0.7h-0.7zM43.5,155.1h0.7v0.7h-0.7zM42.8,160.8h0.7v0.7h-0.7zM34.7,168.0h0.7v0.7h-0.7zM67.3,154.6h0.7v0.7h-0.7zM80.4,153.8h0.7v0.7h-0.7zM97.2,175.2h0.7v0.7h-0.7zM85.2,149.1h0.7v0.7h-0.7zM68.0,181.2h0.7v0.7h-0.7zM75.7,140.5h0.7v0.7h-0.7zM83.6,172.4h0.7v0.7h-0.7zM87.2,179.1h0.7v0.7h-0.7zM87.7,184.2h0.7v0.7h-0.7zM60.2,168.7h0.7v0.7h-0.7zM71.3,184.7h0.7v0.7h-0.7zM84.1,164.8h0.7v0.7h-0.7zM91.4,146.5h0.7v0.7h-0.7zM116.6,148.8h0.7v0.7h-0.7zM72.5,170.5h0.7v0.7h-0.7zM69.8,144.4h0.7v0.7h-0.7zM81.1,193.0h0.7v0.7h-0.7zM27.5,169.6h0.7v0.7h-0.7zM53.1,155.1h0.7v0.7h-0.7zM105.2,156.8h0.7v0.7h-0.7zM104.8,169.7h0.7v0.7h-0.7zM101.1,145.0h0.7v0.7h-0.7zM83.8,135.4h0.7v0.7h-0.7zM81.9,155.0h0.7v0.7h-0.7zM73.3,154.6h0.7v0.7h-0.7zM107.7,177.5h0.7v0.7h-0.7zM82.8,123.7h0.7v0.7h-0.7zM41.9,156.6h0.7v0.7h-0.7zM108.4,175.1h0.7v0.7h-0.7zM85.3,149.4h0.7v0.7h-0.7zM86.2,164.0h0.7v0.7h-0.7zM74.4,166.1h0.7v0.7h-0.7zM50.9,183.3h0.7v0.7h-0.7zM93.6,152.9h0.7v0.7h-0.7zM47.6,148.4h0.7v0.7h-0.7zM85.2,168.3h0.7v0.7h-0.7zM90.2,158.6h0.7v0.7h-0.7zM87.7,152.5h0.7v0.7h-0.7zM118.1,130.2h0.7v0.7h-0.7zM71.3,167.7h0.7v0.7h-0.7zM50.3,143.9h0.7v0.7h-0.7zM28.8,163.0h0.7v0.7h-0.7zM54.9,141.5h0.7v0.7h-0.7zM38.1,159.6h0.7v0.7h-0.7zM101.6,150.4h0.7v0.7h-0.7zM88.9,174.5h0.7v0.7h-0.7zM71.7,153.1h0.7v0.7h-0.7zM91.0,180.1h0.7v0.7h-0.7zM78.0,166.9h0.7v0.7h-0.7zM114.4,144.4h0.7v0.7h-0.7zM33.6,173.6h0.7v0.7h-0.7zM102.4,142.6h0.7v0.7h-0.7zM54.5,169.0h0.7v0.7h-0.7zM53.1,149.4h0.7v0.7h-0.7zM98.6,160.7h0.7v0.7h-0.7z" fill="#959595" stroke="none" stroke-width="0"/>
<path d="M82.1,146.9h0.7v0.7h-0.7zM53.4,161.0h0.7v0.7h-0.7zM57.1,151.9h0.7v0.7h-0.7zM76.2,155.5h0.7v0.7h-0.7zM40.2,162.2h0.7v0.7h-0.7zM105.1,169.5h0.7v0.7h-0.7zM42.0,154.1h0.7v0.7h-0.7zM95.1,156.9h0.7v0.7h-0.7zM53.9,155.8h0.7v0.7h-0.7zM65.9,159.0h0.7v0.7h-0.7zM40.9,162.4h0.7v0.7h-0.7zM88.0,155.1h0.7v0.7h-0.7zM101.5,159.9h0.7v0.7h-0.7zM84.5,166.8h0.7v0.7h-0.7zM82.2,162.0h0.7v0.7h-0.7zM41.6,140.6h0.7v0.7h-0.7zM78.4,172.7h0.7v0.7h-0.7zM85.1,144.8h0.7v0.7h-0.7zM45.8,167.8h0.7v0.7h-0.7zM97.7,146.3h0.7v0.7h-0.7zM49.0,153.2h0.7v0.7h-0.7zM97.8,169.7h0.7v0.7h-0.7zM94.1,153.7h0.7v0.7h-0.7zM104.4,172.6h0.7v0.7h-0.7zM43.7,167.5h0.7v0.7h-0.7zM107.5,160.8h0.7v0.7h-0.7zM40.6,177.2h0.7v0.7h-0.7zM63.0,190.7h0.7v0.7h-0.7zM52.3,157.2h0.7v0.7h-0.7zM41.9,158.7h0.7v0.7h-0.7zM43.3,173.6h0.7v0.7h-0.7zM94.3,160.2h0.7v0.7h-0.7zM26.8,145.5h0.7v0.7h-0.7zM83.8,176.2h0.7v0.7h-0.7zM96.7,138.2h0.7v0.7h-0.7zM97.8,171.6h0.7v0.7h-0.7zM86.4,153.7h0.7v0.7h-0.7zM89.2,170.1h0.7v0.7h-0.7zM57.1,157.3h0.7v0.7h-0.7zM70.6,182.7h0.7v0.7h-0.7zM97.5,167.1h0.7v0.7h-0.7zM55.0,147.3h0.7v0.7h-0.7zM51.8,155.3h0.7v0.7h-0.7zM71.9,144.5h0.7v0.7h-0.7zM82.9,168.1h0.7v0.7h-0.7zM110.2,145.2h0.7v0.7h-0.7zM88.4,168.2h0.7v0.7h-0.7zM91.8,158.3h0.7v0.7h-0.7zM110.6,145.3h0.7v0.7h-0.7zM105.9,149.9h0.7v0.7h-0.7zM90.4,162.7h0.7v0.7h-0.7zM86.3,183.6h0.7v0.7h-0.7zM76.8,157.3h0.7v0.7h-0.7zM31.9,158.0h0.7v0.7h-0.7zM95.9,169.8h0.7v0.7h-0.7zM90.5,153.7h0.7v0.7h-0.7zM39.9,171.4h0.7v0.7h-0.7zM75.5,139.8h0.7v0.7h-0.7zM108.4,159.1h0.7v0.7h-0.7zM103.9,172.1h0.7v0.7h-0.7zM96.2,168.3h0.7v0.7h-0.7zM95.3,170.0h0.7v0.7h-0.7zM55.3,167.5h0.7v0.7h-0.7zM84.1,155.7h0.7v0.7h-0.7zM102.7,168.0h0.7v0.7h-0.7zM98.2,151.3h0.7v0.7h-0.7zM106.0,140.7h0.7v0.7h-0.7zM37.1,157.5h0.7v0.7h-0.7zM83.6,145.9h0.7v0.7h-0.7zM70.4,179.9h0.7v0.7h-0.7zM91.5,149.5h0.7v0.7h-0.7zM88.2,166.8h0.7v0.7h-0.7zM46.6,170.0h0.7v0.7h-0.7zM96.4,166.7h0.7v0.7h-0.7zM62.0,157.6h0.7v0.7h-0.7zM110.1,139.8h0.7v0.7h-0.7zM108.0,168.0h0.7v0.7h-0.7zM75.5,149.3h0.7v0.7h-0.7zM86.1,154.1h0.7v0.7h-0.7zM86.2,167.3h0.7v0.7h-0.7zM95.8,152.3h0.7v0.7h-0.7zM41.5,185.9h0.7v0.7h-0.7zM117.1,162.4h0.7v0.7h-0.7zM97.7,148.9h0.7v0.7h-0.7zM92.5,164.6h0.7v0.7h-0.7zM97.3,151.8h0.7v0.7h-0.7zM104.7,158.8h0.7v0.7h-0.7zM47.5,164.5h0.7v0.7h-0.7zM92.6,165.8h0.7v0.7h-0.7zM37.2,181.3h0.7v0.7h-0.7zM110.4,166.5h0.7v0.7h-0.7zM80.2,165.0h0.7v0.7h-0.7zM96.9,146.0h0.7v0.7h-0.7zM77.3,164.3h0.7v0.7h-0.7zM82.1,167.2h0.7v0.7h-0.7zM92.4,183.6h0.7v0.7h-0.7zM103.8,144.2h0.7v0.7h-0.7zM78.3,171.4h0.7v0.7h-0.7zM76.3,149.8h0.7v0.7h-0.7zM97.4,161.2h0.7v0.7h-0.7zM47.5,161.8h0.7v0.7h-0.7zM45.0,164.3h0.7v0.7h-0.7zM67.4,143.6h0.7v0.7h-0.7zM76.7,160.0h0.7v0.7h-0.7zM47.7,177.9h0.7v0.7h-0.7zM102.1,175.5h0.7v0.7h-0.7zM83.3,157.7h0.7v0.7h-0.7zM86.5,168.7h0.7v0.7h-0.7zM101.9,164.6h0.7v0.7h-0.7zM83.0,182.1h0.7v0.7h-0.7zM71.2,176.3h0.7v0.7h-0.7zM46.3,169.2h0.7v0.7h-0.7zM101.3,141.3h0.7v0.7h-0.7zM77.9,175.9h0.7v0.7h-0.7zM79.9,179.1h0.7v0.7h-0.7zM82.3,158.1h0.7v0.7h-0.7zM47.8,170.7h0.7v0.7h-0.7zM24.4,155.7h0.7v0.7h-0.7zM95.4,170.0h0.7v0.7h-0.7zM44.0,149.7h0.7v0.7h-0.7zM33.9,157.4h0.7v0.7h-0.7zM87.2,166.3h0.7v0.7h-0.7zM105.0,157.1h0.7v0.7h-0.7zM86.9,161.5h0.7v0.7h-0.7zM98.3,167.5h0.7v0.7h-0.7zM79.8,181.8h0.7v0.7h-0.7zM47.8,169.1h0.7v0.7h-0.7zM76.0,159.8h0.7v0.7h-0.7zM43.1,157.4h0.7v0.7h-0.7zM85.5,133.2h0.7v0.7h-0.7zM101.7,168.1h0.7v0.7h-0.7zM55.8,157.1h0.7v0.7h-0.7zM36.1,164.9h0.7v0.7h-0.7zM63.5,166.8h0.7v0.7h-0.7zM104.8,153.1h0.7v0.7h-0.7zM83.4,173.7h0.7v0.7h-0.7zM96.9,171.8h0.7v0.7h-0.7zM75.8,161.2h0.7v0.7h-0.7zM90.0,149.3h0.7v0.7h-0.7zM71.6,180.2h0.7v0.7h-0.7zM102.3,178.5h0.7v0.7h-0.7zM91.3,167.0h0.7v0.7h-0.7zM97.9,159.4h0.7v0.7h-0.7zM43.2,164.7h0.7v0.7h-0.7zM49.2,154.0h0.7v0.7h-0.7zM68.8,147.2h0.7v0.7h-0.7zM47.4,175.6h0.7v0.7h-0.7zM95.0,165.6h0.7v0.7h-0.7zM107.3,179.3h0.7v0.7h-0.7zM72.4,155.6h0.7v0.7h-0.7zM28.5,156.9h0.7v0.7h-0.7zM40.9,157.2h0.7v0.7h-0.7zM101.6,144.4h0.7v0.7h-0.7zM108.5,158.5h0.7v0.7h-0.7zM90.3,161.9h0.7v0.7h-0.7zM73.0,181.0h0.7v0.7h-0.7zM105.3,148.8h0.7v0.7h-0.7zM99.6,149.3h0.7v0.7h-0.7zM104.1,166.8h0.7v0.7h-0.7zM63.7,139.8h0.7v0.7h-0.7zM39.6,171.4h0.7v0.7h-0.7zM72.4,158.9h0.7v0.7h-0.7zM104.6,145.6h0.7v0.7h-0.7zM93.4,163.3h0.7v0.7h-0.7zM67.7,166.0h0.7v0.7h-0.7zM41.3,158.0h0.7v0.7h-0.7zM79.6,177.6h0.7v0.7h-0.7zM112.6,132.8h0.7v0.7h-0.7zM44.8,170.0h0.7v0.7h-0.7zM42.9,156.8h0.7v0.7h-0.7zM101.0,141.4h0.7v0.7h-0.7zM53.3,154.2h0.7v0.7h-0.7zM57.0,161.9h0.7v0.7h-0.7zM106.9,164.1h0.7v0.7h-0.7zM88.5,172.2h0.7v0.7h-0.7zM57.3,157.9h0.7v0.7h-0.7zM87.0,190.5h0.7v0.7h-0.7zM97.7,156.8h0.7v0.7h-0.7zM109.6,149.9h0.7v0.7h-0.7zM96.5,163.8h0.7v0.7h-0.7zM92.4,173.4h0.7v0.7h-0.7zM99.8,143.0h0.7v0.7h-0.7zM84.1,167.3h0.7v0.7h-0.7zM85.8,177.6h0.7v0.7h-0.7zM92.9,162.7h0.7v0.7h-0.7zM97.5,165.7h0.7v0.7h-0.7zM53.2,165.4h0.7v0.7h-0.7zM106.8,151.6h0.7v0.7h-0.7zM73.6,165.5h0.7v0.7h-0.7zM117.5,153.5h0.7v0.7h-0.7zM87.2,156.2h0.7v0.7h-0.7zM87.5,161.8h0.7v0.7h-0.7zM38.6,172.8h0.7v0.7h-0.7zM80.7,189.5h0.7v0.7h-0.7zM80.7,159.4h0.7v0.7h-0.7zM107.4,183.8h0.7v0.7h-0.7zM73.5,172.5h0.7v0.7h-0.7zM40.0,159.3h0.7v0.7h-0.7zM87.1,156.3h0.7v0.7h-0.7zM63.5,150.0h0.7v0.7h-0.7zM97.4,162.3h0.7v0.7h-0.7zM70.9,175.6h0.7v0.7h-0.7zM117.6,179.8h0.7v0.7h-0.7zM99.4,154.7h0.7v0.7h-0.7zM47.8,159.5h0.7v0.7h-0.7zM94.3,163.2h0.7v0.7h-0.7zM42.1,179.0h0.7v0.7h-0.7zM86.3,149.7h0.7v0.7h-0.7zM47.2,157.0h0.7v0.7h-0.7zM30.3,175.4h0.7v0.7h-0.7zM54.9,175.7h0.7v0.7h-0.7zM44.5,156.3h0.7v0.7h-0.7zM55.0,167.6h0.7v0.7h-0.7zM88.7,164.8h0.7v0.7h-0.7zM48.3,166.2h0.7v0.7h-0.7zM96.3,157.2h0.7v0.7h-0.7zM100.6,156.3h0.7v0.7h-0.7zM43.2,176.5h0.7v0.7h-0.7zM64.4,156.5h0.7v0.7h-0.7zM103.9,170.3h0.7v0.7h-0.7zM102.4,149.5h0.7v0.7h-0.7zM71.2,194.8h0.7v0.7h-0.7zM90.6,172.3h0.7v0.7h-0.7zM48.0,148.4h0.7v0.7h-0.7zM68.3,150.1h0.7v0.7h-0.7zM45.9,161.0h0.7v0.7h-0.7zM90.2,155.3h0.7v0.7h-0.7zM103.9,151.9h0.7v0.7h-0.7zM81.4,146.7h0.7v0.7h-0.7zM48.9,157.6h0.7v0.7h-0.7zM83.9,143.4h0.7v0.7h-0.7zM91.2,167.7h0.7v0.7h-0.7zM118.9,161.8h0.7v0.7h-0.7zM86.5,165.8h0.7v0.7h-0.7zM97.8,163.5h0.7v0.7h-0.7zM53.2,168.4h0.7v0.7h-0.7zM96.9,169.0h0.7v0.7h-0.7zM91.1,168.6h0.7v0.7h-0.7zM39.0,163.3h0.7v0.7h-0.7zM58.1,173.7h0.7v0.7h-0.7zM116.2,153.5h0.7v0.7h-0.7zM95.6,163.8h0.7v0.7h-0.7zM74.5,169.4h0.7v0.7h-0.7zM47.8,151.3h0.7v0.7h-0.7zM50.6,180.0h0.7v0.7h-0.7zM98.6,160.6h0.7v0.7h-0.7zM86.9,169.8h0.7v0.7h-0.7zM49.4,168.6h0.7v0.7h-0.7zM97.6,164.1h0.7v0.7h-0.7zM97.7,160.8h0.7v0.7h-0.7zM113.9,161.7h0.7v0.7h-0.7zM82.0,134.5h0.7v0.7h-0.7zM37.1,164.3h0.7v0.7h-0.7zM46.6,158.8h0.7v0.7h-0.7zM64.1,166.2h0.7v0.7h-0.7zM62.5,148.2h0.7v0.7h-0.7zM77.3,153.5h0.7v0.7h-0.7zM102.2,146.1h0.7v0.7h-0.7zM80.8,169.3h0.7v0.7h-0.7zM112.8,149.2h0.7v0.7h-0.7zM91.2,151.3h0.7v0.7h-0.7zM74.0,158.7h0.7v0.7h-0.7zM48.3,164.4h0.7v0.7h-0.7zM103.3,169.8h0.7v0.7h-0.7zM86.6,163.3h0.7v0.7h-0.7zM83.6,166.5h0.7v0.7h-0.7zM41.7,154.1h0.7v0.7h-0.7zM71.4,183.7h0.7v0.7h-0.7zM87.9,173.7h0.7v0.7h-0.7zM110.1,173.3h0.7v0.7h-0.7zM95.6,176.0h0.7v0.7h-0.7zM78.0,165.6h0.7v0.7h-0.7zM81.6,146.4h0.7v0.7h-0.7zM36.3,151.3h0.7v0.7h-0.7zM78.5,157.9h0.7v0.7h-0.7zM51.1,175.9h0.7v0.7h-0.7zM48.6,158.2h0.7v0.7h-0.7zM91.6,157.3h0.7v0.7h-0.7zM96.2,148.2h0.7v0.7h-0.7zM64.6,167.3h0.7v0.7h-0.7zM39.0,150.9h0.7v0.7h-0.7zM42.8,157.5h0.7v0.7h-0.7zM42.5,183.7h0.7v0.7h-0.7zM35.0,171.4h0.7v0.7h-0.7zM105.1,142.6h0.7v0.7h-0.7zM88.6,158.3h0.7v0.7h-0.7zM76.1,168.8h0.7v0.7h-0.7zM103.8,164.9h0.7v0.7h-0.7zM75.7,161.7h0.7v0.7h-0.7zM46.2,166.4h0.7v0.7h-0.7zM118.3,173.4h0.7v0.7h-0.7zM103.2,157.6h0.7v0.7h-0.7zM75.2,148.0h0.7v0.7h-0.7zM61.7,157.7h0.7v0.7h-0.7zM86.6,152.3h0.7v0.7h-0.7zM67.0,161.8h0.7v0.7h-0.7zM78.9,165.9h0.7v0.7h-0.7zM91.2,154.5h0.7v0.7h-0.7zM103.3,170.6h0.7v0.7h-0.7zM102.1,145.3h0.7v0.7h-0.7zM48.3,153.7h0.7v0.7h-0.7zM100.6,129.1h0.7v0.7h-0.7zM37.8,162.4h0.7v0.7h-0.7zM74.3,176.0h0.7v0.7h-0.7zM76.9,170.3h0.7v0.7h-0.7zM102.5,163.8h0.7v0.7h-0.7zM49.3,153.8h0.7v0.7h-0.7zM48.7,142.6h0.7v0.7h-0.7zM42.8,155.3h0.7v0.7h-0.7zM90.9,140.4h0.7v0.7h-0.7zM113.4,171.0h0.7v0.7h-0.7zM25.9,151.1h0.7v0.7h-0.7zM39.8,163.3h0.7v0.7h-0.7zM89.7,169.6h0.7v0.7h-0.7zM91.5,152.5h0.7v0.7h-0.7zM102.4,145.7h0.7v0.7h-0.7zM94.3,167.8h0.7v0.7h-0.7zM94.5,164.4h0.7v0.7h-0.7zM56.9,150.9h0.7v0.7h-0.7zM41.8,167.3h0.7v0.7h-0.7zM110.3,157.5h0.7v0.7h-0.7zM76.6,160.8h0.7v0.7h-0.7zM30.4,164.0h0.7v0.7h-0.7zM91.3,144.3h0.7v0.7h-0.7zM92.0,149.7h0.7v0.7h-0.7zM97.9,147.7h0.7v0.7h-0.7zM81.1,168.0h0.7v0.7h-0.7zM84.0,162.4h0.7v0.7h-0.7zM79.7,150.9h0.7v0.7h-0.7zM86.7,161.3h0.7v0.7h-0.7zM83.8,163.6h0.7v0.7h-0.7zM107.8,168.5h0.7v0.7h-0.7zM89.8,164.2h0.7v0.7h-0.7zM77.6,174.8h0.7v0.7h-0.7zM39.6,158.1h0.7v0.7h-0.7zM90.7,150.6h0.7v0.7h-0.7zM102.1,161.7h0.7v0.7h-0.7zM102.6,149.8h0.7v0.7h-0.7zM87.5,178.0h0.7v0.7h-0.7zM87.7,165.9h0.7v0.7h-0.7zM86.7,154.8h0.7v0.7h-0.7zM34.6,154.0h0.7v0.7h-0.7zM109.7,175.0h0.7v0.7h-0.7zM68.4,156.4h0.7v0.7h-0.7zM35.9,160.7h0.7v0.7h-0.7zM96.5,166.5h0.7v0.7h-0.7zM52.1,158.4h0.7v0.7h-0.7zM92.6,161.5h0.7v0.7h-0.7zM99.5,145.2h0.7v0.7h-0.7zM99.8,156.4h0.7v0.7h-0.7zM103.5,151.1h0.7v0.7h-0.7zM44.8,171.1h0.7v0.7h-0.7zM80.0,139.0h0.7v0.7h-0.7zM119.0,170.4h0.7v0.7h-0.7zM100.3,135.8h0.7v0.7h-0.7zM83.1,143.2h0.7v0.7h-0.7zM45.8,160.5h0.7v0.7h-0.7zM79.9,155.2h0.7v0.7h-0.7zM83.2,159.8h0.7v0.7h-0.7zM105.4,159.1h0.7v0.7h-0.7zM91.7,159.7h0.7v0.7h-0.7zM106.7,151.2h0.7v0.7h-0.7zM71.2,182.7h0.7v0.7h-0.7zM98.5,143.9h0.7v0.7h-0.7zM74.0,177.4h0.7v0.7h-0.7zM98.3,157.1h0.7v0.7h-0.7zM82.9,180.1h0.7v0.7h-0.7zM79.6,153.2h0.7v0.7h-0.7zM42.2,159.5h0.7v0.7h-0.7zM98.8,172.9h0.7v0.7h-0.7zM38.1,172.1h0.7v0.7h-0.7zM33.3,166.8h0.7v0.7h-0.7zM75.9,141.9h0.7v0.7h-0.7zM38.4,160.2h0.7v0.7h-0.7zM77.5,164.5h0.7v0.7h-0.7zM81.0,160.5h0.7v0.7h-0.7zM110.4,177.6h0.7v0.7h-0.7zM70.3,162.3h0.7v0.7h-0.7zM113.4,155.8h0.7v0.7h-0.7zM75.7,169.5h0.7v0.7h-0.7zM110.0,157.5h0.7v0.7h-0.7zM81.5,176.6h0.7v0.7h-0.7zM100.9,151.8h0.7v0.7h-0.7zM83.0,156.6h0.7v0.7h-0.7zM64.6,167.4h0.7v0.7h-0.7zM49.9,165.0h0.7v0.7h-0.7zM69.3,163.0h0.7v0.7h-0.7zM35.9,172.7h0.7v0.7h-0.7zM107.0,161.6h0.7v0.7h-0.7zM94.0,169.4h0.7v0.7h-0.7zM92.3,162.5h0.7v0.7h-0.7zM101.1,147.8h0.7v0.7h-0.7zM83.7,171.2h0.7v0.7h-0.7zM50.7,169.7h0.7v0.7h-0.7zM52.6,163.9h0.7v0.7h-0.7zM40.7,170.6h0.7v0.7h-0.7zM69.5,153.9h0.7v0.7h-0.7zM75.9,173.5h0.7v0.7h-0.7zM46.4,157.3h0.7v0.7h-0.7zM68.8,180.2h0.7v0.7h-0.7zM82.9,145.7h0.7v0.7h-0.7zM51.6,176.3h0.7v0.7h-0.7zM66.3,164.8h0.7v0.7h-0.7zM94.4,155.8h0.7v0.7h-0.7zM106.0,165.6h0.7v0.7h-0.7zM95.2,168.4h0.7v0.7h-0.7zM94.8,150.4h0.7v0.7h-0.7zM79.7,160.3h0.7v0.7h-0.7zM62.9,153.2h0.7v0.7h-0.7zM30.8,157.8h0.7v0.7h-0.7zM93.5,159.7h0.7v0.7h-0.7zM37.1,154.9h0.7v0.7h-0.7zM85.1,163.0h0.7v0.7h-0.7zM104.4,167.0h0.7v0.7h-0.7zM102.4,170.9h0.7v0.7h-0.7zM80.2,171.5h0.7v0.7h-0.7zM99.0,161.5h0.7v0.7h-0.7zM87.4,144.9h0.7v0.7h-0.7zM82.4,177.3h0.7v0.7h-0.7zM101.0,141.9h0.7v0.7h-0.7zM97.3,149.0h0.7v0.7h-0.7zM107.7,134.2h0.7v0.7h-0.7zM97.1,164.6h0.7v0.7h-0.7zM92.3,164.8h0.7v0.7h-0.7zM77.6,170.0h0.7v0.7h-0.7zM38.4,165.4h0.7v0.7h-0.7zM49.6,165.7h0.7v0.7h-0.7zM107.1,168.8h0.7v0.7h-0.7zM89.3,179.8h0.7v0.7h-0.7zM85.4,162.9h0.7v0.7h-0.7zM79.5,145.9h0.7v0.7h-0.7zM101.3,157.8h0.7v0.7h-0.7zM73.6,179.3h0.7v0.7h-0.7zM48.7,146.5h0.7v0.7h-0.7zM93.9,163.0h0.7v0.7h-0.7zM80.5,159.7h0.7v0.7h-0.7zM50.2,163.7h0.7v0.7h-0.7zM117.3,150.7h0.7v0.7h-0.7zM79.4,178.6h0.7v0.7h-0.7zM80.5,147.1h0.7v0.7h-0.7zM78.2,178.5h0.7v0.7h-0.7zM101.6,154.4h0.7v0.7h-0.7zM93.0,139.3h0.7v0.7h-0.7zM47.2,155.1h0.7v0.7h-0.7zM54.2,163.1h0.7v0.7h-0.7zM103.8,173.4h0.7v0.7h-0.7zM62.8,162.2h0.7v0.7h-0.7zM98.7,158.7h0.7v0.7h-0.7zM83.0,175.5h0.7v0.7h-0.7zM94.6,165.2h0.7v0.7h-0.7zM81.9,164.9h0.7v0.7h-0.7zM38.3,167.4h0.7v0.7h-0.7zM93.4,168.9h0.7v0.7h-0.7zM111.5,161.6h0.7v0.7h-0.7zM78.2,159.6h0.7v0.7h-0.7zM84.1,188.5h0.7v0.7h-0.7zM93.1,154.8h0.7v0.7h-0.7zM89.9,163.5h0.7v0.7h-0.7zM89.0,182.6h0.7v0.7h-0.7zM102.6,163.5h0.7v0.7h-0.7zM78.9,147.0h0.7v0.7h-0.7zM42.6,174.8h0.7v0.7h-0.7zM91.4,147.0h0.7v0.7h-0.7zM117.8,159.8h0.7v0.7h-0.7zM82.1,171.6h0.7v0.7h-0.7zM88.6,151.5h0.7v0.7h-0.7zM100.7,152.4h0.7v0.7h-0.7zM96.6,159.1h0.7v0.7h-0.7zM38.3,177.1h0.7v0.7h-0.7zM87.1,160.4h0.7v0.7h-0.7zM97.6,161.3h0.7v0.7h-0.7zM95.6,177.7h0.7v0.7h-0.7zM86.7,153.0h0.7v0.7h-0.7zM102.5,163.5h0.7v0.7h-0.7zM78.9,172.5h0.7v0.7h-0.7zM111.7,145.7h0.7v0.7h-0.7zM96.7,161.4h0.7v0.7h-0.7zM51.4,148.4h0.7v0.7h-0.7zM92.0,153.1h0.7v0.7h-0.7zM97.2,158.5h0.7v0.7h-0.7zM106.8,157.5h0.7v0.7h-0.7zM100.8,150.4h0.7v0.7h-0.7zM40.4,168.1h0.7v0.7h-0.7zM107.2,150.8h0.7v0.7h-0.7zM98.4,164.9h0.7v0.7h-0.7zM77.0,167.6h0.7v0.7h-0.7zM30.6,166.4h0.7v0.7h-0.7zM55.0,157.9h0.7v0.7h-0.7zM103.2,159.6h0.7v0.7h-0.7zM48.5,169.4h0.7v0.7h-0.7zM101.5,135.3h0.7v0.7h-0.7zM83.1,157.4h0.7v0.7h-0.7zM91.1,150.6h0.7v0.7h-0.7zM46.9,163.3h0.7v0.7h-0.7zM104.5,145.3h0.7v0.7h-0.7zM49.3,148.0h0.7v0.7h-0.7zM102.3,183.5h0.7v0.7h-0.7zM85.8,157.4h0.7v0.7h-0.7zM46.0,167.6h0.7v0.7h-0.7zM48.5,158.0h0.7v0.7h-0.7zM56.7,154.4h0.7v0.7h-0.7zM45.5,168.5h0.7v0.7h-0.7zM118.9,164.9h0.7v0.7h-0.7zM47.0,159.9h0.7v0.7h-0.7zM86.5,174.0h0.7v0.7h-0.7zM49.3,174.3h0.7v0.7h-0.7zM90.7,173.6h0.7v0.7h-0.7zM83.7,172.9h0.7v0.7h-0.7zM77.8,174.1h0.7v0.7h-0.7zM72.1,163.0h0.7v0.7h-0.7zM100.8,149.9h0.7v0.7h-0.7zM74.3,156.0h0.7v0.7h-0.7zM95.9,156.9h0.7v0.7h-0.7zM99.8,169.4h0.7v0.7h-0.7zM100.1,163.3h0.7v0.7h-0.7zM81.3,173.2h0.7v0.7h-0.7zM102.9,151.6h0.7v0.7h-0.7zM101.9,171.2h0.7v0.7h-0.7zM79.3,164.9h0.7v0.7h-0.7zM37.3,167.6h0.7v0.7h-0.7zM97.1,172.0h0.7v0.7h-0.7zM89.3,151.6h0.7v0.7h-0.7zM41.4,164.4h0.7v0.7h-0.7zM90.1,158.8h0.7v0.7h-0.7zM90.3,169.7h0.7v0.7h-0.7zM54.8,160.6h0.7v0.7h-0.7zM33.9,171.6h0.7v0.7h-0.7zM30.7,158.2h0.7v0.7h-0.7zM78.0,166.7h0.7v0.7h-0.7zM84.4,161.0h0.7v0.7h-0.7zM95.3,154.0h0.7v0.7h-0.7zM88.0,162.8h0.7v0.7h-0.7zM116.0,164.3h0.7v0.7h-0.7zM72.4,170.6h0.7v0.7h-0.7zM91.7,160.9h0.7v0.7h-0.7zM97.9,173.2h0.7v0.7h-0.7zM50.1,146.2h0.7v0.7h-0.7zM46.6,157.4h0.7v0.7h-0.7zM39.1,158.3h0.7v0.7h-0.7zM81.6,174.1h0.7v0.7h-0.7zM100.1,152.6h0.7v0.7h-0.7zM74.8,152.6h0.7v0.7h-0.7zM38.6,160.4h0.7v0.7h-0.7zM88.5,163.3h0.7v0.7h-0.7zM99.0,154.1h0.7v0.7h-0.7zM55.5,161.5h0.7v0.7h-0.7zM83.1,178.0h0.7v0.7h-0.7zM43.0,175.2h0.7v0.7h-0.7zM102.0,150.1h0.7v0.7h-0.7zM107.4,153.5h0.7v0.7h-0.7zM105.2,145.3h0.7v0.7h-0.7zM96.6,150.8h0.7v0.7h-0.7zM45.8,167.4h0.7v0.7h-0.7zM94.5,163.0h0.7v0.7h-0.7zM48.2,151.9h0.7v0.7h-0.7zM85.0,179.6h0.7v0.7h-0.7zM45.1,151.4h0.7v0.7h-0.7zM107.0,152.9h0.7v0.7h-0.7zM55.5,147.6h0.7v0.7h-0.7zM72.3,158.0h0.7v0.7h-0.7zM83.1,179.6h0.7v0.7h-0.7zM73.4,187.4h0.7v0.7h-0.7zM74.1,180.8h0.7v0.7h-0.7zM100.3,176.4h0.7v0.7h-0.7zM37.0,179.7h0.7v0.7h-0.7zM56.9,154.4h0.7v0.7h-0.7zM89.5,163.8h0.7v0.7h-0.7zM118.3,169.2h0.7v0.7h-0.7zM90.8,167.5h0.7v0.7h-0.7zM85.1,180.0h0.7v0.7h-0.7zM57.6,143.7h0.7v0.7h-0.7zM55.8,149.2h0.7v0.7h-0.7zM107.5,173.2h0.7v0.7h-0.7zM54.2,166.9h0.7v0.7h-0.7zM72.4,167.7h0.7v0.7h-0.7zM77.3,139.4h0.7v0.7h-0.7zM87.1,170.3h0.7v0.7h-0.7zM44.4,163.5h0.7v0.7h-0.7zM106.3,147.1h0.7v0.7h-0.7zM88.8,173.2h0.7v0.7h-0.7zM56.3,160.7h0.7v0.7h-0.7zM104.5,171.7h0.7v0.7h-0.7zM112.8,135.0h0.7v0.7h-0.7zM89.4,174.0h0.7v0.7h-0.7zM78.6,183.4h0.7v0.7h-0.7zM84.4,175.4h0.7v0.7h-0.7zM96.6,160.6h0.7v0.7h-0.7zM92.9,147.8h0.7v0.7h-0.7zM87.7,176.6h0.7v0.7h-0.7zM38.3,160.9h0.7v0.7h-0.7zM107.5,154.5h0.7v0.7h-0.7zM110.5,168.1h0.7v0.7h-0.7zM47.0,165.5h0.7v0.7h-0.7zM87.8,164.7h0.7v0.7h-0.7zM87.3,160.3h0.7v0.7h-0.7zM48.8,164.6h0.7v0.7h-0.7zM32.0,156.7h0.7v0.7h-0.7zM42.8,155.8h0.7v0.7h-0.7zM96.6,149.9h0.7v0.7h-0.7zM103.6,162.4h0.7v0.7h-0.7zM52.4,170.3h0.7v0.7h-0.7zM84.4,170.2h0.7v0.7h-0.7zM86.5,153.3h0.7v0.7h-0.7zM57.9,147.0h0.7v0.7h-0.7zM113.1,168.2h0.7v0.7h-0.7zM60.6,176.3h0.7v0.7h-0.7zM42.7,179.2h0.7v0.7h-0.7zM88.8,154.2h0.7v0.7h-0.7zM89.1,165.0h0.7v0.7h-0.7zM97.4,169.8h0.7v0.7h-0.7zM36.7,164.2h0.7v0.7h-0.7zM55.2,160.5h0.7v0.7h-0.7zM83.0,163.5h0.7v0.7h-0.7zM101.9,160.8h0.7v0.7h-0.7zM48.0,165.9h0.7v0.7h-0.7zM47.3,159.4h0.7v0.7h-0.7zM87.5,166.9h0.7v0.7h-0.7zM81.9,157.1h0.7v0.7h-0.7zM76.6,151.2h0.7v0.7h-0.7zM94.3,163.0h0.7v0.7h-0.7zM56.0,171.2h0.7v0.7h-0.7zM109.7,162.3h0.7v0.7h-0.7zM85.8,162.7h0.7v0.7h-0.7zM85.2,161.9h0.7v0.7h-0.7zM115.6,145.3h0.7v0.7h-0.7zM92.2,156.7h0.7v0.7h-0.7zM85.6,176.5h0.7v0.7h-0.7zM43.8,152.5h0.7v0.7h-0.7zM40.1,164.8h0.7v0.7h-0.7zM94.6,166.9h0.7v0.7h-0.7zM78.6,172.3h0.7v0.7h-0.7zM41.2,163.9h0.7v0.7h-0.7zM30.5,160.8h0.7v0.7h-0.7zM100.9,150.7h0.7v0.7h-0.7zM48.7,155.1h0.7v0.7h-0.7zM42.4,141.0h0.7v0.7h-0.7zM85.0,159.4h0.7v0.7h-0.7zM41.3,164.7h0.7v0.7h-0.7zM101.3,164.0h0.7v0.7h-0.7zM65.7,162.8h0.7v0.7h-0.7zM86.3,142.7h0.7v0.7h-0.7zM85.8,159.0h0.7v0.7h-0.7zM89.9,166.8h0.7v0.7h-0.7zM110.0,142.3h0.7v0.7h-0.7zM67.4,175.8h0.7v0.7h-0.7zM99.9,153.6h0.7v0.7h-0.7zM47.3,174.1h0.7v0.7h-0.7zM77.6,177.0h0.7v0.7h-0.7zM88.6,173.0h0.7v0.7h-0.7zM88.5,145.3h0.7v0.7h-0.7zM96.9,162.7h0.7v0.7h-0.7zM34.7,172.2h0.7v0.7h-0.7zM103.0,174.3h0.7v0.7h-0.7zM77.6,177.9h0.7v0.7h-0.7zM66.9,154.3h0.7v0.7h-0.7zM52.0,164.0h0.7v0.7h-0.7zM52.4,158.7h0.7v0.7h-0.7zM103.6,168.4h0.7v0.7h-0.7zM39.6,153.2h0.7v0.7h-0.7zM95.4,164.8h0.7v0.7h-0.7zM85.5,184.7h0.7v0.7h-0.7zM103.0,145.9h0.7v0.7h-0.7zM95.7,171.8h0.7v0.7h-0.7zM38.4,165.8h0.7v0.7h-0.7zM69.8,176.6h0.7v0.7h-0.7zM59.8,159.2h0.7v0.7h-0.7zM55.2,147.3h0.7v0.7h-0.7zM93.4,163.3h0.7v0.7h-0.7zM41.1,165.6h0.7v0.7h-0.7zM45.1,168.4h0.7v0.7h-0.7zM104.8,164.5h0.7v0.7h-0.7zM50.8,174.8h0.7v0.7h-0.7zM82.1,150.9h0.7v0.7h-0.7zM96.3,161.2h0.7v0.7h-0.7zM94.6,160.7h0.7v0.7h-0.7zM76.6,149.1h0.7v0.7h-0.7zM57.4,171.2h0.7v0.7h-0.7zM38.0,184.2h0.7v0.7h-0.7zM96.3,138.5h0.7v0.7h-0.7zM50.0,164.3h0.7v0.7h-0.7zM88.7,171.0h0.7v0.7h-0.7zM107.7,161.0h0.7v0.7h-0.7zM85.3,162.8h0.7v0.7h-0.7zM43.4,164.4h0.7v0.7h-0.7zM45.9,163.7h0.7v0.7h-0.7zM102.9,166.4h0.7v0.7h-0.7zM59.2,160.4h0.7v0.7h-0.7zM44.0,157.0h0.7v0.7h-0.7zM74.0,153.7h0.7v0.7h-0.7zM91.3,148.6h0.7v0.7h-0.7zM94.0,164.8h0.7v0.7h-0.7zM108.9,150.8h0.7v0.7h-0.7zM69.0,168.3h0.7v0.7h-0.7zM86.9,166.1h0.7v0.7h-0.7zM86.4,162.3h0.7v0.7h-0.7zM41.7,157.3h0.7v0.7h-0.7zM104.4,164.4h0.7v0.7h-0.7zM97.7,153.3h0.7v0.7h-0.7zM91.3,166.0h0.7v0.7h-0.7zM104.8,147.8h0.7v0.7h-0.7zM50.3,158.5h0.7v0.7h-0.7zM90.4,132.5h0.7v0.7h-0.7zM72.9,172.7h0.7v0.7h-0.7zM101.4,151.5h0.7v0.7h-0.7zM77.6,154.6h0.7v0.7h-0.7zM82.5,153.3h0.7v0.7h-0.7zM56.2,156.7h0.7v0.7h-0.7zM103.6,143.5h0.7v0.7h-0.7zM48.7,159.6h0.7v0.7h-0.7zM100.0,165.6h0.7v0.7h-0.7zM104.6,161.9h0.7v0.7h-0.7zM93.2,161.0h0.7v0.7h-0.7zM78.3,146.6h0.7v0.7h-0.7zM95.3,165.5h0.7v0.7h-0.7zM47.2,179.6h0.7v0.7h-0.7zM72.9,153.9h0.7v0.7h-0.7zM82.1,169.0h0.7v0.7h-0.7zM49.9,148.2h0.7v0.7h-0.7zM49.8,155.8h0.7v0.7h-0.7zM52.5,161.6h0.7v0.7h-0.7zM100.0,145.3h0.7v0.7h-0.7zM82.2,170.5h0.7v0.7h-0.7zM99.6,152.2h0.7v0.7h-0.7zM49.4,171.7h0.7v0.7h-0.7zM94.9,158.2h0.7v0.7h-0.7zM80.9,157.7h0.7v0.7h-0.7zM84.3,181.7h0.7v0.7h-0.7zM96.1,150.8h0.7v0.7h-0.7zM105.9,151.7h0.7v0.7h-0.7zM97.2,151.3h0.7v0.7h-0.7zM93.1,162.9h0.7v0.7h-0.7zM41.0,159.4h0.7v0.7h-0.7zM85.5,151.5h0.7v0.7h-0.7zM102.5,175.7h0.7v0.7h-0.7zM99.3,169.6h0.7v0.7h-0.7zM41.5,156.4h0.7v0.7h-0.7zM100.2,170.2h0.7v0.7h-0.7zM76.4,172.3h0.7v0.7h-0.7zM82.8,140.0h0.7v0.7h-0.7zM89.6,128.3h0.7v0.7h-0.7zM81.7,178.8h0.7v0.7h-0.7zM52.7,169.6h0.7v0.7h-0.7zM86.8,160.2h0.7v0.7h-0.7zM93.9,162.6h0.7v0.7h-0.7zM98.5,167.7h0.7v0.7h-0.7zM87.5,164.0h0.7v0.7h-0.7zM109.7,152.4h0.7v0.7h-0.7zM87.3,173.0h0.7v0.7h-0.7zM103.7,156.6h0.7v0.7h-0.7zM61.6,151.3h0.7v0.7h-0.7zM102.5,149.1h0.7v0.7h-0.7zM36.5,159.5h0.7v0.7h-0.7zM43.1,165.2h0.7v0.7h-0.7zM92.6,164.7h0.7v0.7h-0.7zM77.6,187.0h0.7v0.7h-0.7zM112.4,153.3h0.7v0.7h-0.7zM40.4,158.8h0.7v0.7h-0.7zM98.2,185.1h0.7v0.7h-0.7zM102.7,132.9h0.7v0.7h-0.7zM102.3,168.0h0.7v0.7h-0.7zM45.8,164.0h0.7v0.7h-0.7zM88.9,170.9h0.7v0.7h-0.7zM75.5,165.2h0.7v0.7h-0.7zM80.7,161.2h0.7v0.7h-0.7zM45.1,156.4h0.7v0.7h-0.7zM94.6,171.0h0.7v0.7h-0.7zM81.9,164.2h0.7v0.7h-0.7zM86.1,170.4h0.7v0.7h-0.7zM92.0,150.0h0.7v0.7h-0.7zM36.8,158.5h0.7v0.7h-0.7zM90.5,155.3h0.7v0.7h-0.7zM104.1,141.0h0.7v0.7h-0.7zM100.1,166.4h0.7v0.7h-0.7zM117.8,153.3h0.7v0.7h-0.7zM98.8,175.1h0.7v0.7h-0.7zM104.9,160.2h0.7v0.7h-0.7zM93.3,159.7h0.7v0.7h-0.7zM114.0,176.6h0.7v0.7h-0.7zM74.8,170.1h0.7v0.7h-0.7zM84.0,177.0h0.7v0.7h-0.7zM87.1,145.8h0.7v0.7h-0.7zM75.0,168.0h0.7v0.7h-0.7zM104.3,151.6h0.7v0.7h-0.7zM92.6,181.0h0.7v0.7h-0.7zM110.6,151.3h0.7v0.7h-0.7zM102.6,168.6h0.7v0.7h-0.7zM89.2,168.8h0.7v0.7h-0.7zM90.9,154.5h0.7v0.7h-0.7zM44.2,152.1h0.7v0.7h-0.7zM108.4,176.3h0.7v0.7h-0.7zM71.2,144.0h0.7v0.7h-0.7zM45.0,173.1h0.7v0.7h-0.7zM66.0,161.0h0.7v0.7h-0.7zM39.6,156.2h0.7v0.7h-0.7zM84.0,148.2h0.7v0.7h-0.7zM41.5,162.5h0.7v0.7h-0.7zM92.1,166.1h0.7v0.7h-0.7zM58.1,159.4h0.7v0.7h-0.7zM109.2,166.6h0.7v0.7h-0.7zM88.4,163.4h0.7v0.7h-0.7zM92.4,169.8h0.7v0.7h-0.7zM85.4,159.2h0.7v0.7h-0.7zM49.3,150.4h0.7v0.7h-0.7zM91.5,150.1h0.7v0.7h-0.7zM85.4,175.2h0.7v0.7h-0.7zM93.7,155.6h0.7v0.7h-0.7zM89.0,164.3h0.7v0.7h-0.7zM89.2,139.3h0.7v0.7h-0.7zM81.8,178.6h0.7v0.7h-0.7zM81.2,169.6h0.7v0.7h-0.7zM77.1,163.4h0.7v0.7h-0.7zM108.3,151.8h0.7v0.7h-0.7zM63.0,145.9h0.7v0.7h-0.7zM98.7,158.5h0.7v0.7h-0.7zM106.9,154.2h0.7v0.7h-0.7zM43.6,169.3h0.7v0.7h-0.7zM73.9,148.4h0.7v0.7h-0.7zM85.2,182.6h0.7v0.7h-0.7zM64.5,157.6h0.7v0.7h-0.7zM113.5,149.0h0.7v0.7h-0.7zM90.9,142.4h0.7v0.7h-0.7zM95.1,170.0h0.7v0.7h-0.7zM86.5,154.0h0.7v0.7h-0.7zM90.3,163.1h0.7v0.7h-0.7zM111.2,154.7h0.7v0.7h-0.7zM98.1,159.8h0.7v0.7h-0.7zM52.8,152.8h0.7v0.7h-0.7zM106.8,158.8h0.7v0.7h-0.7zM69.9,151.6h0.7v0.7h-0.7zM70.9,161.3h0.7v0.7h-0.7zM37.1,145.9h0.7v0.7h-0.7zM92.2,165.4h0.7v0.7h-0.7zM84.9,150.6h0.7v0.7h-0.7zM40.4,170.7h0.7v0.7h-0.7zM46.3,145.8h0.7v0.7h-0.7zM96.6,158.2h0.7v0.7h-0.7zM94.9,169.2h0.7v0.7h-0.7zM92.8,166.3h0.7v0.7h-0.7zM113.3,157.0h0.7v0.7h-0.7zM55.9,156.0h0.7v0.7h-0.7zM96.0,159.0h0.7v0.7h-0.7zM89.5,143.1h0.7v0.7h-0.7zM95.3,177.2h0.7v0.7h-0.7zM96.2,136.9h0.7v0.7h-0.7zM103.3,173.1h0.7v0.7h-0.7zM83.8,150.5h0.7v0.7h-0.7zM111.6,164.3h0.7v0.7h-0.7zM100.7,150.4h0.7v0.7h-0.7zM75.0,171.1h0.7v0.7h-0.7zM79.0,168.1h0.7v0.7h-0.7zM95.1,157.4h0.7v0.7h-0.7zM61.6,160.3h0.7v0.7h-0.7zM59.7,167.5h0.7v0.7h-0.7zM105.0,172.8h0.7v0.7h-0.7zM97.1,164.8h0.7v0.7h-0.7zM86.7,172.9h0.7v0.7h-0.7zM58.5,165.3h0.7v0.7h-0.7zM115.0,162.3h0.7v0.7h-0.7zM117.3,153.9h0.7v0.7h-0.7zM35.0,158.4h0.7v0.7h-0.7zM52.7,156.3h0.7v0.7h-0.7zM79.2,172.6h0.7v0.7h-0.7zM98.4,183.1h0.7v0.7h-0.7zM90.3,158.7h0.7v0.7h-0.7zM90.3,148.4h0.7v0.7h-0.7zM91.4,151.5h0.7v0.7h-0.7zM94.0,134.7h0.7v0.7h-0.7zM106.8,171.7h0.7v0.7h-0.7zM89.1,142.4h0.7v0.7h-0.7zM89.0,155.7h0.7v0.7h-0.7zM29.8,166.0h0.7v0.7h-0.7zM46.4,159.4h0.7v0.7h-0.7zM88.1,166.8h0.7v0.7h-0.7zM93.5,184.7h0.7v0.7h-0.7zM83.0,180.9h0.7v0.7h-0.7zM75.4,171.0h0.7v0.7h-0.7zM47.3,150.0h0.7v0.7h-0.7zM99.6,159.4h0.7v0.7h-0.7zM95.6,150.8h0.7v0.7h-0.7zM99.5,147.6h0.7v0.7h-0.7zM99.5,160.7h0.7v0.7h-0.7zM82.5,176.0h0.7v0.7h-0.7zM50.5,175.4h0.7v0.7h-0.7zM39.2,165.9h0.7v0.7h-0.7zM86.1,181.1h0.7v0.7h-0.7zM93.4,128.8h0.7v0.7h-0.7zM116.7,163.8h0.7v0.7h-0.7zM37.9,163.2h0.7v0.7h-0.7zM83.8,167.0h0.7v0.7h-0.7zM42.5,185.0h0.7v0.7h-0.7zM56.4,164.3h0.7v0.7h-0.7zM96.9,164.5h0.7v0.7h-0.7z" fill="#a0a0a0" stroke="none" stroke-width="0"/>
<path d="M84.4,185.6 L83.6,185.8 L82.8,185.9 L82.0,186.0 L81.2,186.0 L80.4,186.0 L79.6,185.9 L78.8,185.8 L78.0,185.6 L77.6,185.5 L76.8,185.3 L76.4,185.1 L75.8,184.8 L75.2,184.4 L74.8,184.1 L74.4,183.8 L74.0,183.4 L73.6,182.9 L73.3,182.4 L73.1,182.0 L72.8,181.4 L72.6,180.8 L72.4,180.0 L72.3,179.6 L72.3,178.8 L72.3,178.0 L72.3,177.2 L72.4,176.4 L72.4,176.0 L72.5,175.2 L72.6,174.4 L72.7,173.6 L72.7,172.8 L72.5,172.0 L72.3,171.6 L72.0,171.2 L71.5,170.8 L70.8,170.5 L70.4,170.3 L69.6,170.2 L68.8,170.1 L68.0,170.0 L67.2,170.0 L66.8,170.0 L66.0,170.0 L65.2,170.0 L64.4,169.9 L63.6,169.9 L62.8,169.9 L62.0,169.9 L61.2,169.9 L60.4,170.0 L60.0,170.0 L59.2,170.1 L58.4,170.3 L57.7,170.4 L57.2,170.5 L56.4,170.7 L56.0,170.8 L55.2,171.0 L54.6,171.2 L54.0,171.4 L53.4,171.6 L52.8,171.9 L52.4,172.1 L51.9,172.4 L51.3,172.8 L50.8,173.2 L50.4,173.5 L50.0,173.9 L49.6,174.2 L49.2,174.6 L48.8,174.9 L48.4,175.3 L48.0,175.6 L47.4,176.0 L46.8,176.4 L46.4,176.6 L46.0,176.8 L45.2,177.1 L44.8,177.3 L44.0,177.5 L43.4,177.6 L42.8,177.7 L42.0,177.7 L41.2,177.7 L40.8,177.6 L40.0,177.5 L39.2,177.2 L38.8,177.1 L38.2,176.8 L37.6,176.5 L37.2,176.2 L36.8,175.9 L36.4,175.6 L36.0,175.2 L35.6,174.7 L35.2,174.2 L34.8,173.6 L34.6,173.2 L34.4,172.7 L34.1,172.0 L34.0,171.5 L33.8,170.8 L33.7,170.0 L33.6,169.4 L33.5,168.8 L33.4,168.0 L33.2,167.3 L33.1,166.8 L32.8,166.0 L32.7,165.6 L32.5,164.8 L32.3,164.4 L32.1,163.6 L32.0,163.0 L31.9,162.4 L31.8,161.6 L31.7,160.8 L31.7,160.0 L31.8,159.2 L32.0,158.4 L32.0,158.0 L32.3,157.2 L32.4,156.8 L32.7,156.0 L32.9,155.6 L33.2,155.1 L33.6,154.5 L33.9,154.0 L34.2,153.6 L34.6,153.2 L35.0,152.8 L35.4,152.4 L35.8,152.0 L36.3,151.6 L36.8,151.2 L37.2,151.0 L37.6,150.7 L38.2,150.4 L38.8,150.1 L39.2,149.9 L39.9,149.6 L40.4,149.4 L41.1,149.2 L41.6,149.1 L42.4,148.9 L43.1,148.8 L43.6,148.7 L44.4,148.7 L45.2,148.6 L46.0,148.6 L46.8,148.7 L47.6,148.8 L48.0,148.8 L48.8,149.0 L49.6,149.1 L50.0,149.2 L50.8,149.4 L51.4,149.6 L52.0,149.8 L52.7,150.0 L53.2,150.2 L53.8,150.4 L54.4,150.6 L54.9,150.8 L55.6,151.0 L56.0,151.2 L56.8,151.5 L57.2,151.6 L58.0,151.9 L58.4,152.0 L59.2,152.3 L59.7,152.4 L60.4,152.6 L61.2,152.7 L61.7,152.8 L62.4,152.9 L63.2,152.9 L64.0,153.0 L64.8,153.0 L65.6,153.0 L66.4,152.9 L67.2,152.9 L68.0,152.9 L68.8,152.8 L69.2,152.8 L70.0,152.6 L70.8,152.5 L71.2,152.4 L72.0,152.1 L72.4,151.9 L73.0,151.6 L73.6,151.2 L74.0,151.0 L74.4,150.7 L74.8,150.4 L75.3,150.0 L75.8,149.6 L76.2,149.2 L76.7,148.8 L77.1,148.4 L77.6,148.0 L78.0,147.6 L78.4,147.3 L78.8,146.9 L79.2,146.6 L79.6,146.3 L80.0,146.0 L80.5,145.6 L81.1,145.2 L81.6,144.8 L82.0,144.6 L82.4,144.3 L83.0,144.0 L83.6,143.6 L84.0,143.4 L84.5,143.2 L85.2,142.9 L85.6,142.7 L86.3,142.4 L86.8,142.2 L87.5,142.0 L88.0,141.8 L88.8,141.6 L89.2,141.5 L90.0,141.3 L90.7,141.2 L91.2,141.1 L92.0,141.0 L92.8,140.9 L93.6,140.9 L94.4,140.8 L95.2,140.8 L96.0,140.9 L96.8,140.9 L97.6,141.0 L98.4,141.1 L98.8,141.2 L99.6,141.3 L100.4,141.5 L100.8,141.6 L101.6,141.9 L102.0,142.0 L102.8,142.3 L103.2,142.5 L104.0,142.8 L104.4,143.0 L104.8,143.2 L105.6,143.6 L106.0,143.9 L106.4,144.1 L106.9,144.4 L107.4,144.8 L108.0,145.2 L108.4,145.6 L108.8,145.9 L109.2,146.3 L109.6,146.6 L110.0,147.1 L110.4,147.5 L110.8,148.0 L111.1,148.4 L111.4,148.8 L111.7,149.2 L112.0,149.6 L112.4,150.3 L112.7,150.8 L112.9,151.2 L113.2,151.9 L113.4,152.4 L113.6,152.9 L113.8,153.6 L114.0,154.2 L114.1,154.8 L114.3,155.6 L114.4,156.4 L114.4,156.8 L114.5,157.6 L114.5,158.4 L114.5,159.2 L114.4,159.8 L114.3,160.4 L114.2,161.2 L114.0,162.0 L113.9,162.4 L113.7,163.2 L113.5,163.6 L113.2,164.4 L113.0,164.8 L112.8,165.3 L112.5,166.0 L112.2,166.4 L112.0,166.8 L111.6,167.4 L111.2,168.0 L110.9,168.4 L110.6,168.8 L110.3,169.2 L109.9,169.6 L109.6,170.0 L109.2,170.4 L108.8,170.8 L108.4,171.2 L107.9,171.6 L107.4,172.0 L107.0,172.4 L106.4,172.8 L106.0,173.1 L105.6,173.4 L105.2,173.7 L104.7,174.0 L104.1,174.4 L103.6,174.7 L103.2,175.0 L102.8,175.3 L102.2,175.6 L101.6,176.0 L101.2,176.3 L100.8,176.5 L100.4,176.8 L99.7,177.2 L99.2,177.6 L98.8,177.8 L98.4,178.1 L98.0,178.4 L97.5,178.8 L96.9,179.2 L96.4,179.6 L96.0,179.9 L95.6,180.2 L95.2,180.4 L94.7,180.8 L94.1,181.2 L93.6,181.6 L93.2,181.8 L92.8,182.1 L92.3,182.4 L91.6,182.8 L91.2,183.0 L90.8,183.3 L90.1,183.6 L89.6,183.9 L89.2,184.0 L88.4,184.4 L88.0,184.6 L87.4,184.8 L86.8,185.0 L86.1,185.2 L85.6,185.4 L84.8,185.6 L84.4,185.6 M84.4,184.5 L83.6,184.6 L82.8,184.7 L82.0,184.7 L81.2,184.7 L80.4,184.7 L79.6,184.6 L78.8,184.4 L78.4,184.3 L77.6,184.0 L77.2,183.8 L76.8,183.6 L76.2,183.2 L75.7,182.8 L75.3,182.4 L75.0,182.0 L74.7,181.6 L74.4,181.0 L74.2,180.4 L74.0,179.8 L73.9,179.2 L73.8,178.4 L73.8,177.6 L73.9,176.8 L74.0,176.1 L74.1,175.6 L74.3,174.8 L74.4,174.3 L74.6,173.6 L74.7,172.8 L74.8,172.4 L74.9,171.6 L74.9,170.8 L74.8,170.3 L74.5,169.6 L74.3,169.2 L73.9,168.8 L73.4,168.4 L72.8,168.1 L72.4,167.9 L71.6,167.7 L71.2,167.6 L70.4,167.5 L69.6,167.4 L68.8,167.4 L68.0,167.4 L67.2,167.4 L66.4,167.4 L65.6,167.4 L64.8,167.4 L64.0,167.5 L63.2,167.5 L62.7,167.6 L62.0,167.7 L61.2,167.9 L60.6,168.0 L60.0,168.2 L59.2,168.4 L58.8,168.5 L58.0,168.8 L57.6,168.9 L56.8,169.2 L56.4,169.3 L55.6,169.6 L55.2,169.7 L54.4,170.0 L54.0,170.2 L53.3,170.4 L52.8,170.6 L52.4,170.8 L51.7,171.2 L51.2,171.5 L50.8,171.8 L50.4,172.1 L50.0,172.4 L49.6,172.8 L49.2,173.2 L48.8,173.6 L48.4,174.0 L47.9,174.4 L47.4,174.8 L46.9,175.2 L46.4,175.5 L46.0,175.8 L45.5,176.0 L44.8,176.3 L44.4,176.4 L43.6,176.6 L42.8,176.8 L42.0,176.8 L41.2,176.7 L40.4,176.6 L39.7,176.4 L39.2,176.2 L38.7,176.0 L38.0,175.6 L37.6,175.3 L37.2,175.0 L36.8,174.6 L36.4,174.2 L36.0,173.6 L35.7,173.2 L35.5,172.8 L35.2,172.0 L35.1,171.6 L34.9,170.8 L34.8,170.3 L34.7,169.6 L34.6,168.8 L34.5,168.0 L34.4,167.6 L34.2,166.8 L34.0,166.1 L33.8,165.6 L33.6,164.8 L33.5,164.4 L33.2,163.6 L33.1,163.2 L33.0,162.4 L32.9,161.6 L32.8,160.8 L32.8,160.0 L32.9,159.2 L33.1,158.4 L33.2,157.8 L33.4,157.2 L33.6,156.7 L33.9,156.0 L34.1,155.6 L34.4,155.2 L34.8,154.6 L35.2,154.1 L35.6,153.6 L36.0,153.2 L36.4,152.8 L36.8,152.5 L37.2,152.2 L37.6,151.9 L38.1,151.6 L38.8,151.2 L39.2,151.0 L39.6,150.8 L40.4,150.5 L40.8,150.3 L41.6,150.1 L42.0,150.0 L42.8,149.8 L43.6,149.7 L44.4,149.6 L45.0,149.6 L45.6,149.6 L46.0,149.6 L46.8,149.7 L47.6,149.7 L48.4,149.9 L49.0,150.0 L49.6,150.1 L50.4,150.3 L50.8,150.5 L51.6,150.7 L52.0,150.9 L52.8,151.1 L53.2,151.3 L54.0,151.6 L54.4,151.8 L54.9,152.0 L55.6,152.3 L56.0,152.5 L56.8,152.8 L57.2,153.0 L57.6,153.2 L58.4,153.5 L58.8,153.7 L59.5,154.0 L60.0,154.2 L60.4,154.4 L61.2,154.7 L61.6,154.8 L62.4,155.1 L63.0,155.2 L63.6,155.3 L64.4,155.4 L65.2,155.5 L66.0,155.5 L66.8,155.5 L67.6,155.5 L68.4,155.4 L69.2,155.4 L70.0,155.3 L70.4,155.2 L71.2,155.0 L71.6,154.8 L72.4,154.5 L72.8,154.2 L73.2,154.0 L73.7,153.6 L74.2,153.2 L74.7,152.8 L75.2,152.4 L75.6,152.0 L76.0,151.6 L76.4,151.2 L76.8,150.8 L77.2,150.4 L77.5,150.0 L77.9,149.6 L78.4,149.2 L78.8,148.8 L79.2,148.4 L79.6,148.0 L80.0,147.7 L80.4,147.4 L80.8,147.0 L81.2,146.7 L81.6,146.4 L82.2,146.0 L82.8,145.6 L83.2,145.4 L83.6,145.1 L84.2,144.8 L84.8,144.5 L85.2,144.3 L85.8,144.0 L86.4,143.7 L86.8,143.6 L87.6,143.3 L88.0,143.2 L88.8,142.9 L89.2,142.8 L90.0,142.6 L90.8,142.5 L91.2,142.4 L92.0,142.3 L92.8,142.2 L93.6,142.1 L94.4,142.1 L95.2,142.1 L96.0,142.1 L96.8,142.2 L97.6,142.3 L98.3,142.4 L98.8,142.5 L99.6,142.7 L100.1,142.8 L100.8,143.0 L101.5,143.2 L102.0,143.4 L102.5,143.6 L103.2,143.9 L103.6,144.1 L104.3,144.4 L104.8,144.7 L105.2,144.9 L105.6,145.2 L106.2,145.6 L106.8,146.0 L107.2,146.3 L107.6,146.7 L108.0,147.0 L108.4,147.4 L108.8,147.8 L109.2,148.2 L109.6,148.7 L110.0,149.2 L110.3,149.6 L110.6,150.0 L110.8,150.4 L111.2,151.1 L111.5,151.6 L111.7,152.0 L112.0,152.7 L112.2,153.2 L112.4,153.9 L112.6,154.4 L112.7,155.2 L112.8,155.6 L112.9,156.4 L113.0,157.2 L113.1,158.0 L113.0,158.8 L113.0,159.6 L112.9,160.4 L112.8,160.9 L112.7,161.6 L112.4,162.4 L112.3,162.8 L112.0,163.6 L111.9,164.0 L111.6,164.6 L111.3,165.2 L111.1,165.6 L110.8,166.1 L110.4,166.8 L110.1,167.2 L109.8,167.6 L109.5,168.0 L109.2,168.4 L108.8,168.9 L108.4,169.3 L108.0,169.7 L107.6,170.1 L107.2,170.5 L106.8,170.8 L106.4,171.2 L105.9,171.6 L105.4,172.0 L104.8,172.4 L104.4,172.7 L104.0,173.0 L103.6,173.3 L103.1,173.6 L102.5,174.0 L102.0,174.3 L101.6,174.6 L101.2,174.8 L100.6,175.2 L100.0,175.6 L99.6,175.9 L99.2,176.1 L98.8,176.4 L98.3,176.8 L97.7,177.2 L97.2,177.6 L96.8,177.9 L96.4,178.2 L96.0,178.5 L95.6,178.8 L95.0,179.2 L94.5,179.6 L94.0,180.0 L93.6,180.3 L93.2,180.5 L92.8,180.8 L92.2,181.2 L91.6,181.6 L91.2,181.8 L90.8,182.0 L90.1,182.4 L89.6,182.7 L89.2,182.9 L88.5,183.2 L88.0,183.4 L87.5,183.6 L86.8,183.8 L86.3,184.0 L85.6,184.2 L84.8,184.4 L84.4,184.5 M84.8,183.3 L84.0,183.4 L83.2,183.5 L82.4,183.5 L81.6,183.5 L80.8,183.5 L80.0,183.3 L79.6,183.2 L78.8,182.9 L78.4,182.8 L77.8,182.4 L77.2,182.0 L76.8,181.6 L76.4,181.2 L76.1,180.8 L75.9,180.4 L75.6,179.6 L75.5,179.2 L75.3,178.4 L75.3,177.6 L75.4,176.8 L75.5,176.0 L75.6,175.5 L75.8,174.8 L76.0,174.0 L76.1,173.6 L76.4,172.8 L76.5,172.4 L76.7,171.6 L76.8,171.2 L76.9,170.4 L76.9,169.6 L76.8,169.1 L76.6,168.4 L76.4,168.0 L76.0,167.4 L75.6,166.8 L75.2,166.4 L74.8,166.0 L74.4,165.6 L74.0,165.3 L73.6,164.9 L73.2,164.7 L72.8,164.4 L72.1,164.0 L71.6,163.8 L71.2,163.6 L70.4,163.4 L69.6,163.2 L69.1,163.2 L68.4,163.2 L68.0,163.2 L67.2,163.3 L66.4,163.4 L65.6,163.6 L65.2,163.7 L64.4,163.9 L64.0,164.1 L63.4,164.4 L62.8,164.7 L62.4,164.9 L61.8,165.2 L61.2,165.6 L60.8,165.8 L60.4,166.0 L59.7,166.4 L59.2,166.7 L58.8,166.9 L58.2,167.2 L57.6,167.5 L57.2,167.7 L56.5,168.0 L56.0,168.2 L55.5,168.4 L54.8,168.7 L54.4,168.9 L53.6,169.2 L53.2,169.3 L52.6,169.6 L52.0,169.9 L51.6,170.1 L51.0,170.4 L50.4,170.8 L50.0,171.1 L49.6,171.4 L49.2,171.8 L48.8,172.1 L48.4,172.6 L48.0,173.0 L47.6,173.4 L47.2,173.7 L46.8,174.1 L46.4,174.4 L45.8,174.8 L45.2,175.1 L44.8,175.3 L44.0,175.6 L43.6,175.7 L42.8,175.8 L42.0,175.9 L41.2,175.8 L40.4,175.7 L40.0,175.5 L39.2,175.2 L38.8,175.0 L38.4,174.7 L38.0,174.4 L37.6,174.0 L37.2,173.6 L36.8,173.0 L36.5,172.4 L36.3,172.0 L36.0,171.2 L35.9,170.8 L35.8,170.0 L35.7,169.2 L35.6,168.7 L35.5,168.0 L35.3,167.2 L35.2,166.6 L35.0,166.0 L34.8,165.3 L34.6,164.8 L34.4,164.0 L34.3,163.6 L34.1,162.8 L34.0,162.4 L33.9,161.6 L33.8,160.8 L33.8,160.0 L33.9,159.2 L34.0,158.8 L34.2,158.0 L34.4,157.4 L34.6,156.8 L34.8,156.4 L35.2,155.8 L35.6,155.2 L35.9,154.8 L36.2,154.4 L36.6,154.0 L37.0,153.6 L37.4,153.2 L38.0,152.8 L38.4,152.5 L38.8,152.2 L39.2,152.0 L40.0,151.6 L40.4,151.4 L41.1,151.2 L41.6,151.0 L42.4,150.8 L42.8,150.7 L43.6,150.6 L44.4,150.5 L45.2,150.5 L46.0,150.5 L46.8,150.6 L47.6,150.7 L48.4,150.8 L48.8,150.9 L49.6,151.1 L50.0,151.2 L50.8,151.4 L51.3,151.6 L52.0,151.9 L52.4,152.0 L53.2,152.3 L53.6,152.5 L54.2,152.8 L54.8,153.1 L55.2,153.3 L55.9,153.6 L56.4,153.9 L56.8,154.1 L57.3,154.4 L58.0,154.8 L58.4,155.0 L58.8,155.3 L59.3,155.6 L59.9,156.0 L60.4,156.3 L60.8,156.6 L61.2,156.9 L61.7,157.2 L62.3,157.6 L62.8,158.0 L63.2,158.2 L63.6,158.4 L64.3,158.8 L64.8,159.0 L65.3,159.2 L66.0,159.4 L66.8,159.5 L67.4,159.6 L68.0,159.6 L68.8,159.6 L69.2,159.6 L70.0,159.4 L70.5,159.2 L71.2,158.8 L71.6,158.6 L72.0,158.3 L72.4,158.0 L72.9,157.6 L73.3,157.2 L73.7,156.8 L74.0,156.4 L74.4,156.0 L74.8,155.5 L75.2,155.0 L75.6,154.5 L76.0,154.0 L76.3,153.6 L76.6,153.2 L77.0,152.8 L77.3,152.4 L77.6,152.0 L78.0,151.6 L78.4,151.1 L78.8,150.7 L79.2,150.2 L79.6,149.8 L80.0,149.4 L80.4,149.0 L80.8,148.7 L81.2,148.3 L81.6,148.0 L82.1,147.6 L82.6,147.2 L83.2,146.8 L83.6,146.5 L84.0,146.3 L84.5,146.0 L85.2,145.6 L85.6,145.4 L86.0,145.2 L86.8,144.8 L87.2,144.7 L88.0,144.4 L88.4,144.3 L89.2,144.0 L89.6,143.9 L90.4,143.7 L91.0,143.6 L91.6,143.5 L92.4,143.4 L93.2,143.3 L94.0,143.3 L94.8,143.3 L95.6,143.3 L96.4,143.3 L97.2,143.4 L98.0,143.6 L98.4,143.6 L99.2,143.8 L100.0,144.0 L100.4,144.1 L101.2,144.4 L101.6,144.5 L102.3,144.8 L102.8,145.0 L103.2,145.2 L103.9,145.6 L104.4,145.9 L104.8,146.1 L105.2,146.4 L105.8,146.8 L106.3,147.2 L106.7,147.6 L107.2,148.0 L107.6,148.4 L108.0,148.8 L108.3,149.2 L108.7,149.6 L109.0,150.0 L109.2,150.4 L109.6,150.9 L110.0,151.6 L110.2,152.0 L110.4,152.4 L110.8,153.2 L110.9,153.6 L111.2,154.4 L111.3,154.8 L111.5,155.6 L111.6,156.4 L111.6,156.8 L111.7,157.6 L111.7,158.4 L111.7,159.2 L111.6,160.0 L111.5,160.4 L111.4,161.2 L111.2,161.9 L111.1,162.4 L110.8,163.2 L110.6,163.6 L110.4,164.1 L110.1,164.8 L109.9,165.2 L109.6,165.7 L109.2,166.3 L108.9,166.8 L108.6,167.2 L108.2,167.6 L107.9,168.0 L107.6,168.4 L107.2,168.8 L106.8,169.2 L106.4,169.6 L105.9,170.0 L105.5,170.4 L105.0,170.8 L104.5,171.2 L104.0,171.5 L103.6,171.8 L103.2,172.1 L102.8,172.4 L102.2,172.8 L101.6,173.2 L101.2,173.4 L100.8,173.7 L100.3,174.0 L99.7,174.4 L99.2,174.8 L98.8,175.0 L98.4,175.3 L98.0,175.6 L97.5,176.0 L96.9,176.4 L96.4,176.8 L96.0,177.1 L95.6,177.4 L95.2,177.7 L94.8,178.0 L94.3,178.4 L93.8,178.8 L93.3,179.2 L92.8,179.5 L92.4,179.8 L92.0,180.1 L91.5,180.4 L90.9,180.8 L90.4,181.1 L90.0,181.3 L89.5,181.6 L88.8,181.9 L88.4,182.1 L87.7,182.4 L87.2,182.6 L86.6,182.8 L86.0,183.0 L85.2,183.2 L84.8,183.3 M85.2,182.1 L84.4,182.2 L83.6,182.3 L82.8,182.4 L82.0,182.3 L81.2,182.2 L80.4,182.0 L80.0,181.9 L79.3,181.6 L78.8,181.3 L78.4,181.0 L78.0,180.6 L77.6,180.1 L77.3,179.6 L77.1,179.2 L76.9,178.4 L76.8,177.7 L76.8,177.2 L76.8,176.8 L76.9,176.0 L77.1,175.2 L77.2,174.8 L77.4,174.0 L77.6,173.5 L77.9,172.8 L78.0,172.4 L78.3,171.6 L78.4,171.2 L78.6,170.4 L78.6,169.6 L78.6,168.8 L78.4,168.0 L78.3,167.6 L78.0,167.0 L77.7,166.4 L77.5,166.0 L77.2,165.5 L76.8,164.8 L76.5,164.4 L76.3,164.0 L76.0,163.4 L75.7,162.8 L75.6,162.4 L75.3,161.6 L75.2,160.8 L75.3,160.0 L75.4,159.2 L75.6,158.5 L75.8,158.0 L76.0,157.4 L76.3,156.8 L76.5,156.4 L76.8,155.8 L77.1,155.2 L77.4,154.8 L77.6,154.4 L78.0,153.8 L78.4,153.2 L78.7,152.8 L79.0,152.4 L79.3,152.0 L79.6,151.6 L80.0,151.2 L80.4,150.7 L80.8,150.3 L81.2,149.9 L81.6,149.5 L82.0,149.1 L82.4,148.8 L82.9,148.4 L83.4,148.0 L84.0,147.6 L84.4,147.3 L84.8,147.1 L85.3,146.8 L86.0,146.4 L86.4,146.2 L86.9,146.0 L87.6,145.7 L88.0,145.5 L88.8,145.3 L89.2,145.1 L90.0,144.9 L90.5,144.8 L91.2,144.7 L92.0,144.5 L92.8,144.4 L93.3,144.4 L94.0,144.4 L94.8,144.4 L95.6,144.4 L96.0,144.4 L96.8,144.5 L97.6,144.6 L98.4,144.7 L98.8,144.8 L99.6,145.0 L100.1,145.2 L100.8,145.4 L101.3,145.6 L102.0,145.9 L102.4,146.1 L103.0,146.4 L103.6,146.7 L104.0,147.0 L104.4,147.3 L104.9,147.6 L105.4,148.0 L105.9,148.4 L106.3,148.8 L106.7,149.2 L107.1,149.6 L107.4,150.0 L107.8,150.4 L108.1,150.8 L108.4,151.3 L108.8,152.0 L109.0,152.4 L109.2,152.8 L109.6,153.6 L109.7,154.0 L110.0,154.8 L110.1,155.2 L110.3,156.0 L110.4,156.8 L110.4,157.2 L110.5,158.0 L110.5,158.8 L110.4,159.6 L110.4,160.0 L110.2,160.8 L110.0,161.6 L109.9,162.0 L109.7,162.8 L109.5,163.2 L109.2,163.9 L109.0,164.4 L108.7,164.8 L108.4,165.4 L108.0,166.0 L107.7,166.4 L107.4,166.8 L107.1,167.2 L106.7,167.6 L106.4,168.0 L106.0,168.4 L105.6,168.8 L105.2,169.2 L104.7,169.6 L104.2,170.0 L103.7,170.4 L103.2,170.8 L102.8,171.1 L102.4,171.3 L102.0,171.6 L101.4,172.0 L100.8,172.4 L100.4,172.7 L100.0,172.9 L99.6,173.2 L99.0,173.6 L98.4,174.0 L98.0,174.3 L97.6,174.6 L97.2,174.8 L96.7,175.2 L96.2,175.6 L95.7,176.0 L95.2,176.4 L94.8,176.7 L94.4,177.0 L94.0,177.4 L93.6,177.7 L93.2,178.0 L92.7,178.4 L92.1,178.8 L91.6,179.2 L91.2,179.4 L90.8,179.7 L90.3,180.0 L89.6,180.4 L89.2,180.6 L88.8,180.8 L88.0,181.2 L87.6,181.3 L86.9,181.6 L86.4,181.8 L85.6,182.0 L85.2,182.1 M43.2,174.8 L42.4,174.9 L41.6,174.9 L40.9,174.8 L40.4,174.7 L39.8,174.4 L39.2,174.1 L38.8,173.8 L38.4,173.4 L38.0,173.0 L37.6,172.4 L37.4,172.0 L37.2,171.6 L37.0,170.8 L36.8,170.0 L36.7,169.6 L36.6,168.8 L36.5,168.0 L36.4,167.3 L36.3,166.8 L36.1,166.0 L35.9,165.6 L35.7,164.8 L35.5,164.4 L35.3,163.6 L35.2,163.2 L35.0,162.4 L34.8,161.6 L34.8,161.1 L34.8,160.4 L34.8,160.0 L34.9,159.2 L35.1,158.4 L35.2,158.0 L35.5,157.2 L35.7,156.8 L36.0,156.2 L36.4,155.6 L36.7,155.2 L37.1,154.8 L37.4,154.4 L37.9,154.0 L38.4,153.6 L38.8,153.3 L39.2,153.0 L39.6,152.8 L40.4,152.4 L40.8,152.2 L41.4,152.0 L42.0,151.8 L42.8,151.6 L43.2,151.5 L44.0,151.4 L44.8,151.3 L45.6,151.3 L46.4,151.4 L47.2,151.4 L48.0,151.6 L48.4,151.7 L49.2,151.8 L49.7,152.0 L50.4,152.2 L51.0,152.4 L51.6,152.6 L52.0,152.8 L52.8,153.2 L53.2,153.3 L53.7,153.6 L54.4,153.9 L54.8,154.2 L55.2,154.4 L55.9,154.8 L56.4,155.1 L56.8,155.4 L57.2,155.7 L57.7,156.0 L58.2,156.4 L58.6,156.8 L59.0,157.2 L59.4,157.6 L59.7,158.0 L60.1,158.4 L60.4,158.9 L60.7,159.6 L60.9,160.0 L61.1,160.8 L61.1,161.6 L60.9,162.4 L60.7,162.8 L60.4,163.3 L60.0,163.9 L59.6,164.4 L59.2,164.8 L58.8,165.1 L58.4,165.5 L58.0,165.8 L57.6,166.0 L57.0,166.4 L56.4,166.8 L56.0,167.0 L55.6,167.2 L54.8,167.6 L54.4,167.8 L53.9,168.0 L53.2,168.3 L52.8,168.5 L52.1,168.8 L51.6,169.0 L51.2,169.2 L50.4,169.6 L50.0,169.9 L49.6,170.1 L49.2,170.4 L48.8,170.8 L48.3,171.2 L47.9,171.6 L47.6,172.0 L47.2,172.4 L46.8,172.8 L46.4,173.2 L45.9,173.6 L45.3,174.0 L44.8,174.3 L44.4,174.5 L43.6,174.7 L43.2,174.8 M85.6,180.9 L84.8,181.0 L84.0,181.1 L83.2,181.1 L82.4,181.1 L81.6,180.9 L81.1,180.8 L80.4,180.5 L80.0,180.3 L79.6,180.0 L79.2,179.6 L78.8,179.0 L78.5,178.4 L78.4,178.0 L78.3,177.2 L78.3,176.4 L78.4,175.6 L78.5,175.2 L78.7,174.4 L78.8,174.0 L79.1,173.2 L79.3,172.8 L79.6,172.0 L79.7,171.6 L80.0,170.8 L80.1,170.4 L80.2,169.6 L80.2,168.8 L80.0,168.0 L79.9,167.6 L79.6,166.8 L79.5,166.4 L79.2,165.8 L78.9,165.2 L78.7,164.8 L78.4,164.2 L78.1,163.6 L78.0,163.2 L77.7,162.4 L77.6,162.0 L77.4,161.2 L77.3,160.4 L77.4,159.6 L77.4,158.8 L77.6,158.1 L77.7,157.6 L78.0,156.8 L78.1,156.4 L78.4,155.8 L78.7,155.2 L78.9,154.8 L79.2,154.3 L79.6,153.6 L79.9,153.2 L80.2,152.8 L80.5,152.4 L80.8,152.0 L81.2,151.5 L81.6,151.0 L82.0,150.6 L82.4,150.2 L82.8,149.9 L83.2,149.5 L83.6,149.2 L84.1,148.8 L84.7,148.4 L85.2,148.1 L85.6,147.8 L86.0,147.6 L86.7,147.2 L87.2,147.0 L87.6,146.8 L88.4,146.5 L88.8,146.3 L89.6,146.1 L90.0,146.0 L90.8,145.8 L91.6,145.6 L92.0,145.6 L92.8,145.4 L93.6,145.4 L94.4,145.4 L95.2,145.4 L96.0,145.4 L96.8,145.5 L97.4,145.6 L98.0,145.7 L98.8,145.9 L99.2,146.0 L100.0,146.2 L100.4,146.4 L101.2,146.7 L101.6,146.9 L102.2,147.2 L102.8,147.5 L103.2,147.8 L103.6,148.0 L104.1,148.4 L104.7,148.8 L105.1,149.2 L105.6,149.6 L106.0,150.0 L106.3,150.4 L106.7,150.8 L107.0,151.2 L107.2,151.6 L107.6,152.2 L108.0,152.8 L108.2,153.2 L108.4,153.7 L108.7,154.4 L108.8,154.8 L109.0,155.6 L109.2,156.4 L109.2,156.8 L109.3,157.6 L109.3,158.4 L109.3,159.2 L109.2,160.0 L109.1,160.4 L109.0,161.2 L108.8,161.8 L108.6,162.4 L108.4,162.9 L108.1,163.6 L107.9,164.0 L107.6,164.6 L107.2,165.2 L107.0,165.6 L106.7,166.0 L106.4,166.4 L106.0,166.8 L105.6,167.3 L105.2,167.7 L104.8,168.1 L104.4,168.5 L104.0,168.8 L103.6,169.2 L103.1,169.6 L102.5,170.0 L102.0,170.4 L101.6,170.7 L101.2,170.9 L100.8,171.2 L100.2,171.6 L99.6,172.0 L99.2,172.2 L98.8,172.5 L98.3,172.8 L97.7,173.2 L97.2,173.6 L96.8,173.8 L96.4,174.1 L96.0,174.4 L95.5,174.8 L95.0,175.2 L94.5,175.6 L94.0,176.0 L93.6,176.4 L93.2,176.7 L92.8,177.0 L92.4,177.3 L92.0,177.6 L91.5,178.0 L90.9,178.4 L90.4,178.7 L90.0,179.0 L89.6,179.2 L88.9,179.6 L88.4,179.9 L88.0,180.0 L87.2,180.4 L86.8,180.5 L86.0,180.8 L85.6,180.9 M43.6,173.7 L42.8,173.9 L42.0,173.9 L41.2,173.8 L40.5,173.6 L40.0,173.4 L39.6,173.1 L39.2,172.8 L38.8,172.3 L38.4,171.6 L38.2,171.2 L38.0,170.6 L37.9,170.0 L37.7,169.2 L37.6,168.4 L37.6,168.0 L37.4,167.2 L37.2,166.4 L37.1,166.0 L36.8,165.3 L36.6,164.8 L36.4,164.2 L36.2,163.6 L36.0,162.9 L35.9,162.4 L35.7,161.6 L35.7,160.8 L35.7,160.0 L35.8,159.2 L36.0,158.4 L36.1,158.0 L36.4,157.4 L36.7,156.8 L36.9,156.4 L37.2,156.0 L37.6,155.5 L38.0,155.1 L38.4,154.7 L38.8,154.3 L39.2,154.0 L39.9,153.6 L40.4,153.3 L40.8,153.1 L41.5,152.8 L42.0,152.6 L42.8,152.4 L43.2,152.3 L44.0,152.2 L44.8,152.1 L45.6,152.1 L46.4,152.2 L47.2,152.3 L48.0,152.4 L48.4,152.5 L49.2,152.7 L49.6,152.8 L50.4,153.1 L50.8,153.2 L51.6,153.5 L52.0,153.7 L52.6,154.0 L53.2,154.3 L53.6,154.5 L54.1,154.8 L54.8,155.2 L55.2,155.5 L55.6,155.8 L56.0,156.1 L56.4,156.4 L56.9,156.8 L57.3,157.2 L57.7,157.6 L58.0,158.0 L58.4,158.6 L58.7,159.2 L58.9,159.6 L59.1,160.4 L59.1,161.2 L59.0,162.0 L58.8,162.6 L58.5,163.2 L58.3,163.6 L58.0,164.0 L57.6,164.4 L57.2,164.8 L56.8,165.2 L56.3,165.6 L55.7,166.0 L55.2,166.3 L54.8,166.5 L54.3,166.8 L53.6,167.1 L53.2,167.3 L52.6,167.6 L52.0,167.9 L51.6,168.0 L50.8,168.4 L50.4,168.6 L50.0,168.8 L49.3,169.2 L48.8,169.5 L48.4,169.8 L48.0,170.2 L47.6,170.5 L47.2,170.9 L46.8,171.3 L46.4,171.8 L46.0,172.2 L45.6,172.5 L45.2,172.9 L44.7,173.2 L44.0,173.6 L43.6,173.7 M85.6,179.7 L84.8,179.8 L84.0,179.9 L83.2,179.8 L82.4,179.7 L82.0,179.5 L81.3,179.2 L80.8,178.8 L80.4,178.4 L80.2,178.0 L80.0,177.5 L79.8,176.8 L79.8,176.0 L79.9,175.2 L80.0,174.8 L80.3,174.0 L80.4,173.6 L80.7,172.8 L80.9,172.4 L81.2,171.6 L81.3,171.2 L81.5,170.4 L81.6,169.9 L81.6,169.2 L81.6,168.5 L81.5,168.0 L81.3,167.2 L81.1,166.8 L80.8,166.0 L80.6,165.6 L80.4,165.2 L80.0,164.4 L79.8,164.0 L79.6,163.4 L79.4,162.8 L79.2,162.2 L79.1,161.6 L78.9,160.8 L78.9,160.0 L78.9,159.2 L79.0,158.4 L79.2,157.6 L79.3,157.2 L79.5,156.4 L79.7,156.0 L80.0,155.3 L80.2,154.8 L80.5,154.4 L80.8,153.8 L81.2,153.2 L81.5,152.8 L81.8,152.4 L82.1,152.0 L82.5,151.6 L82.9,151.2 L83.3,150.8 L83.7,150.4 L84.2,150.0 L84.7,149.6 L85.2,149.2 L85.6,149.0 L86.0,148.7 L86.5,148.4 L87.2,148.0 L87.6,147.8 L88.2,147.6 L88.8,147.3 L89.2,147.2 L90.0,147.0 L90.6,146.8 L91.2,146.7 L92.0,146.5 L92.8,146.4 L93.2,146.4 L94.0,146.3 L94.8,146.3 L95.6,146.4 L96.2,146.4 L96.8,146.5 L97.6,146.6 L98.4,146.8 L98.8,146.9 L99.6,147.1 L100.0,147.3 L100.8,147.6 L101.2,147.8 L101.6,148.0 L102.3,148.4 L102.8,148.7 L103.2,149.0 L103.6,149.3 L104.0,149.6 L104.5,150.0 L104.9,150.4 L105.3,150.8 L105.6,151.2 L106.0,151.7 L106.4,152.3 L106.7,152.8 L107.0,153.2 L107.2,153.7 L107.5,154.4 L107.7,154.8 L107.9,155.6 L108.0,156.1 L108.1,156.8 L108.2,157.6 L108.2,158.4 L108.2,159.2 L108.1,160.0 L108.0,160.6 L107.9,161.2 L107.6,162.0 L107.5,162.4 L107.2,163.1 L107.0,163.6 L106.7,164.0 L106.4,164.6 L106.0,165.2 L105.7,165.6 L105.4,166.0 L105.1,166.4 L104.7,166.8 L104.3,167.2 L103.9,167.6 L103.5,168.0 L103.0,168.4 L102.5,168.8 L102.0,169.2 L101.6,169.5 L101.2,169.7 L100.8,170.0 L100.2,170.4 L99.6,170.8 L99.2,171.0 L98.8,171.3 L98.3,171.6 L97.7,172.0 L97.2,172.3 L96.8,172.6 L96.4,172.8 L95.9,173.2 L95.3,173.6 L94.8,174.0 L94.4,174.3 L94.0,174.6 L93.6,175.0 L93.2,175.3 L92.8,175.6 L92.3,176.0 L91.8,176.4 L91.3,176.8 L90.8,177.2 L90.4,177.5 L90.0,177.7 L89.6,178.0 L88.9,178.4 L88.4,178.7 L88.0,178.9 L87.2,179.2 L86.8,179.3 L86.0,179.6 L85.6,179.7 M43.6,172.5 L42.8,172.7 L42.0,172.8 L41.2,172.6 L40.8,172.4 L40.2,172.0 L39.8,171.6 L39.5,171.2 L39.2,170.4 L39.1,170.0 L38.9,169.2 L38.8,168.6 L38.7,168.0 L38.5,167.2 L38.4,166.8 L38.1,166.0 L37.9,165.6 L37.6,164.8 L37.4,164.4 L37.2,163.8 L37.0,163.2 L36.8,162.5 L36.7,162.0 L36.6,161.2 L36.6,160.4 L36.6,159.6 L36.8,158.8 L36.9,158.4 L37.2,157.7 L37.4,157.2 L37.7,156.8 L38.0,156.3 L38.4,155.8 L38.8,155.4 L39.2,155.1 L39.6,154.7 L40.1,154.4 L40.8,154.0 L41.2,153.8 L41.6,153.6 L42.4,153.3 L42.9,153.2 L43.6,153.0 L44.4,152.9 L45.2,152.9 L46.0,152.9 L46.8,153.0 L47.6,153.1 L48.1,153.2 L48.8,153.4 L49.6,153.6 L50.0,153.7 L50.7,154.0 L51.2,154.2 L51.6,154.4 L52.4,154.8 L52.8,155.0 L53.2,155.3 L53.8,155.6 L54.4,156.0 L54.8,156.3 L55.2,156.7 L55.6,157.0 L56.0,157.4 L56.4,157.9 L56.8,158.4 L57.1,158.8 L57.3,159.2 L57.5,160.0 L57.6,160.4 L57.7,161.2 L57.6,161.6 L57.4,162.4 L57.2,162.8 L56.8,163.5 L56.4,164.0 L56.0,164.4 L55.6,164.8 L55.2,165.1 L54.8,165.4 L54.4,165.7 L53.8,166.0 L53.2,166.4 L52.8,166.6 L52.3,166.8 L51.6,167.1 L51.2,167.3 L50.5,167.6 L50.0,167.9 L49.6,168.0 L48.9,168.4 L48.4,168.7 L48.0,168.9 L47.6,169.2 L47.1,169.6 L46.6,170.0 L46.2,170.4 L45.8,170.8 L45.4,171.2 L45.0,171.6 L44.5,172.0 L44.0,172.3 L43.6,172.5 M86.8,178.0 L86.0,178.2 L85.2,178.4 L84.4,178.4 L83.6,178.3 L82.9,178.0 L82.4,177.7 L82.0,177.2 L81.8,176.8 L81.6,176.2 L81.6,175.6 L81.6,175.1 L81.7,174.4 L82.0,173.6 L82.1,173.2 L82.4,172.4 L82.6,172.0 L82.8,171.3 L82.9,170.8 L83.1,170.0 L83.1,169.2 L83.0,168.4 L82.8,167.6 L82.7,167.2 L82.4,166.5 L82.2,166.0 L82.0,165.6 L81.6,164.8 L81.4,164.4 L81.2,164.0 L80.9,163.2 L80.7,162.8 L80.5,162.0 L80.4,161.6 L80.2,160.8 L80.2,160.0 L80.2,159.2 L80.3,158.4 L80.4,157.6 L80.5,157.2 L80.8,156.4 L80.9,156.0 L81.2,155.3 L81.5,154.8 L81.7,154.4 L82.0,153.9 L82.4,153.3 L82.8,152.8 L83.1,152.4 L83.5,152.0 L83.8,151.6 L84.3,151.2 L84.7,150.8 L85.2,150.4 L85.6,150.1 L86.0,149.8 L86.4,149.6 L87.0,149.2 L87.6,148.9 L88.0,148.7 L88.6,148.4 L89.2,148.2 L89.7,148.0 L90.4,147.8 L91.2,147.6 L91.6,147.5 L92.4,147.4 L93.2,147.3 L94.0,147.2 L94.8,147.2 L95.6,147.3 L96.4,147.4 L97.2,147.5 L97.8,147.6 L98.4,147.8 L99.2,148.0 L99.6,148.1 L100.2,148.4 L100.8,148.7 L101.2,148.9 L101.8,149.2 L102.4,149.6 L102.8,149.9 L103.2,150.2 L103.6,150.5 L104.0,150.9 L104.4,151.3 L104.8,151.8 L105.2,152.3 L105.5,152.8 L105.8,153.2 L106.0,153.6 L106.4,154.4 L106.5,154.8 L106.8,155.6 L106.9,156.0 L107.1,156.8 L107.2,157.6 L107.2,158.4 L107.2,159.2 L107.1,160.0 L106.9,160.8 L106.8,161.2 L106.6,162.0 L106.4,162.4 L106.0,163.2 L105.8,163.6 L105.6,164.0 L105.2,164.6 L104.8,165.2 L104.5,165.6 L104.1,166.0 L103.7,166.4 L103.4,166.8 L102.9,167.2 L102.5,167.6 L102.0,168.0 L101.6,168.3 L101.2,168.6 L100.8,168.9 L100.3,169.2 L99.7,169.6 L99.2,169.9 L98.8,170.2 L98.4,170.4 L97.7,170.8 L97.2,171.1 L96.8,171.4 L96.4,171.6 L95.8,172.0 L95.2,172.4 L94.8,172.6 L94.4,172.9 L94.0,173.2 L93.5,173.6 L93.0,174.0 L92.5,174.4 L92.0,174.8 L91.6,175.1 L91.2,175.4 L90.8,175.7 L90.4,176.0 L89.9,176.4 L89.3,176.8 L88.8,177.1 L88.4,177.3 L87.8,177.6 L87.2,177.9 L86.8,178.0 M43.2,171.0 L42.4,171.1 L41.6,170.9 L41.2,170.6 L40.8,170.2 L40.5,169.6 L40.4,169.2 L40.1,168.4 L40.0,168.0 L39.7,167.2 L39.5,166.8 L39.2,166.1 L39.0,165.6 L38.8,165.2 L38.4,164.4 L38.2,164.0 L38.0,163.5 L37.8,162.8 L37.6,162.2 L37.5,161.6 L37.4,160.8 L37.4,160.0 L37.6,159.2 L37.7,158.8 L38.0,158.0 L38.2,157.6 L38.4,157.2 L38.8,156.6 L39.2,156.2 L39.6,155.8 L40.0,155.4 L40.4,155.1 L40.9,154.8 L41.6,154.5 L42.0,154.3 L42.8,154.0 L43.2,153.9 L44.0,153.7 L44.8,153.7 L45.6,153.6 L46.4,153.7 L47.2,153.8 L48.0,153.9 L48.4,154.0 L49.2,154.3 L49.6,154.4 L50.4,154.7 L50.8,154.9 L51.4,155.2 L52.0,155.5 L52.4,155.7 L52.8,156.0 L53.4,156.4 L53.9,156.8 L54.4,157.2 L54.8,157.6 L55.2,158.0 L55.5,158.4 L55.7,158.8 L56.0,159.3 L56.2,160.0 L56.4,160.8 L56.3,161.6 L56.0,162.4 L55.9,162.8 L55.6,163.2 L55.2,163.7 L54.8,164.1 L54.4,164.5 L54.0,164.8 L53.4,165.2 L52.8,165.6 L52.4,165.8 L52.0,166.0 L51.2,166.4 L50.8,166.6 L50.3,166.8 L49.6,167.1 L49.2,167.3 L48.5,167.6 L48.0,167.9 L47.6,168.1 L47.0,168.4 L46.4,168.7 L46.0,169.0 L45.6,169.3 L45.2,169.6 L44.7,170.0 L44.2,170.4 L43.6,170.8 L43.2,171.0 M86.0,176.4 L85.4,176.4 L84.8,176.3 L84.4,176.0 L84.0,175.5 L83.8,174.8 L83.8,174.0 L84.0,173.3 L84.1,172.8 L84.4,172.0 L84.5,171.6 L84.7,170.8 L84.7,170.0 L84.7,169.2 L84.5,168.4 L84.4,168.0 L84.1,167.2 L83.9,166.8 L83.6,166.2 L83.3,165.6 L83.1,165.2 L82.8,164.7 L82.5,164.0 L82.3,163.6 L82.0,162.9 L81.8,162.4 L81.6,161.6 L81.5,161.2 L81.4,160.4 L81.3,159.6 L81.4,158.8 L81.5,158.0 L81.6,157.4 L81.8,156.8 L82.0,156.2 L82.2,155.6 L82.4,155.2 L82.8,154.5 L83.1,154.0 L83.4,153.6 L83.7,153.2 L84.0,152.8 L84.4,152.4 L84.8,152.0 L85.2,151.6 L85.7,151.2 L86.2,150.8 L86.8,150.4 L87.2,150.1 L87.6,149.9 L88.2,149.6 L88.8,149.3 L89.2,149.1 L90.0,148.8 L90.4,148.7 L91.2,148.5 L91.7,148.4 L92.4,148.3 L93.2,148.2 L94.0,148.1 L94.8,148.1 L95.6,148.2 L96.4,148.3 L97.2,148.4 L97.6,148.5 L98.4,148.7 L98.8,148.8 L99.6,149.1 L100.0,149.3 L100.6,149.6 L101.2,150.0 L101.6,150.2 L102.0,150.5 L102.4,150.8 L102.9,151.2 L103.3,151.6 L103.7,152.0 L104.0,152.4 L104.4,152.9 L104.8,153.5 L105.1,154.0 L105.3,154.4 L105.6,155.2 L105.8,155.6 L106.0,156.4 L106.0,156.8 L106.2,157.6 L106.2,158.4 L106.2,159.2 L106.1,160.0 L106.0,160.4 L105.8,161.2 L105.6,161.7 L105.3,162.4 L105.1,162.8 L104.8,163.4 L104.5,164.0 L104.2,164.4 L103.9,164.8 L103.6,165.2 L103.2,165.6 L102.8,166.0 L102.4,166.4 L102.0,166.8 L101.5,167.2 L101.0,167.6 L100.4,168.0 L100.0,168.3 L99.6,168.6 L99.2,168.8 L98.6,169.2 L98.0,169.5 L97.6,169.7 L97.1,170.0 L96.4,170.4 L96.0,170.6 L95.6,170.8 L95.0,171.2 L94.4,171.5 L94.0,171.8 L93.6,172.0 L93.0,172.4 L92.4,172.8 L92.0,173.1 L91.6,173.4 L91.2,173.7 L90.7,174.0 L90.2,174.4 L89.7,174.8 L89.2,175.1 L88.8,175.4 L88.4,175.6 L87.6,176.0 L87.2,176.1 L86.4,176.4 L86.0,176.4 M43.6,168.5 L42.8,168.4 L42.4,168.3 L42.0,168.0 L41.6,167.6 L41.2,167.1 L40.8,166.6 L40.4,166.0 L40.1,165.6 L39.9,165.2 L39.6,164.7 L39.2,164.0 L39.0,163.6 L38.8,163.1 L38.6,162.4 L38.4,161.8 L38.3,161.2 L38.3,160.4 L38.4,159.6 L38.5,159.2 L38.7,158.4 L38.9,158.0 L39.2,157.5 L39.6,157.0 L40.0,156.5 L40.4,156.2 L40.8,155.8 L41.2,155.6 L41.9,155.2 L42.4,155.0 L42.9,154.8 L43.6,154.6 L44.4,154.5 L45.1,154.4 L45.6,154.4 L46.0,154.4 L46.8,154.5 L47.6,154.6 L48.4,154.8 L48.8,154.9 L49.6,155.2 L50.0,155.4 L50.5,155.6 L51.2,156.0 L51.6,156.2 L52.0,156.5 L52.5,156.8 L53.0,157.2 L53.5,157.6 L53.8,158.0 L54.2,158.4 L54.5,158.8 L54.8,159.5 L55.0,160.0 L55.1,160.8 L55.0,161.6 L54.8,162.3 L54.5,162.8 L54.2,163.2 L53.9,163.6 L53.5,164.0 L53.0,164.4 L52.4,164.8 L52.0,165.1 L51.6,165.3 L51.0,165.6 L50.4,165.9 L50.0,166.1 L49.2,166.4 L48.8,166.6 L48.2,166.8 L47.6,167.0 L47.2,167.2 L46.4,167.5 L46.0,167.7 L45.2,168.0 L44.8,168.1 L44.0,168.4 L43.6,168.5 M88.8,172.4 L88.0,172.4 L87.6,172.1 L87.3,171.6 L87.1,171.2 L86.9,170.4 L86.8,170.0 L86.5,169.2 L86.3,168.8 L86.0,168.1 L85.7,167.6 L85.5,167.2 L85.2,166.6 L84.8,166.0 L84.6,165.6 L84.3,165.2 L84.0,164.6 L83.7,164.0 L83.5,163.6 L83.2,162.9 L83.0,162.4 L82.8,161.8 L82.6,161.2 L82.5,160.4 L82.5,159.6 L82.5,158.8 L82.6,158.0 L82.8,157.2 L82.9,156.8 L83.2,156.0 L83.3,155.6 L83.6,155.1 L84.0,154.4 L84.3,154.0 L84.6,153.6 L84.9,153.2 L85.3,152.8 L85.7,152.4 L86.2,152.0 L86.6,151.6 L87.2,151.2 L87.6,150.9 L88.0,150.7 L88.6,150.4 L89.2,150.1 L89.6,149.9 L90.4,149.6 L90.8,149.5 L91.6,149.3 L92.1,149.2 L92.8,149.1 L93.6,149.0 L94.4,149.0 L95.2,149.0 L96.0,149.1 L96.7,149.2 L97.2,149.3 L98.0,149.5 L98.4,149.6 L99.2,150.0 L99.6,150.1 L100.1,150.4 L100.8,150.8 L101.2,151.1 L101.6,151.4 L102.0,151.7 L102.4,152.1 L102.8,152.5 L103.2,152.9 L103.6,153.5 L104.0,154.0 L104.2,154.4 L104.4,154.9 L104.7,155.6 L104.8,156.0 L105.0,156.8 L105.1,157.6 L105.2,158.4 L105.2,159.2 L105.0,160.0 L104.9,160.8 L104.7,161.2 L104.4,162.0 L104.3,162.4 L104.0,162.9 L103.6,163.6 L103.3,164.0 L103.0,164.4 L102.7,164.8 L102.3,165.2 L101.9,165.6 L101.5,166.0 L101.0,166.4 L100.5,166.8 L100.0,167.2 L99.6,167.5 L99.2,167.7 L98.8,168.0 L98.1,168.4 L97.6,168.6 L97.2,168.9 L96.5,169.2 L96.0,169.4 L95.6,169.6 L94.8,170.0 L94.4,170.2 L93.9,170.4 L93.2,170.7 L92.8,170.9 L92.1,171.2 L91.6,171.4 L91.2,171.6 L90.4,171.9 L90.0,172.1 L89.2,172.3 L88.8,172.4 M46.4,166.5 L45.6,166.6 L44.8,166.8 L44.0,166.8 L43.2,166.6 L42.7,166.4 L42.1,166.0 L41.6,165.6 L41.2,165.2 L40.9,164.8 L40.5,164.4 L40.3,164.0 L40.0,163.5 L39.6,162.8 L39.5,162.4 L39.3,161.6 L39.2,161.1 L39.2,160.4 L39.2,160.0 L39.4,159.2 L39.6,158.6 L39.9,158.0 L40.2,157.6 L40.5,157.2 L40.9,156.8 L41.4,156.4 L42.0,156.0 L42.4,155.8 L43.0,155.6 L43.6,155.4 L44.4,155.2 L44.8,155.2 L45.6,155.2 L46.4,155.2 L46.8,155.2 L47.6,155.4 L48.4,155.6 L48.8,155.7 L49.4,156.0 L50.0,156.3 L50.4,156.5 L51.0,156.8 L51.5,157.2 L52.0,157.6 L52.4,157.9 L52.8,158.3 L53.2,158.8 L53.4,159.2 L53.6,159.6 L53.8,160.4 L53.8,161.2 L53.6,162.0 L53.4,162.4 L53.2,162.8 L52.8,163.2 L52.4,163.6 L51.9,164.0 L51.4,164.4 L50.8,164.7 L50.4,164.9 L49.9,165.2 L49.2,165.5 L48.8,165.7 L48.0,166.0 L47.6,166.1 L46.8,166.3 L46.4,166.5 M93.2,169.3 L92.4,169.4 L91.6,169.6 L90.8,169.6 L90.0,169.5 L89.3,169.2 L88.8,168.9 L88.4,168.5 L88.0,168.2 L87.6,167.7 L87.2,167.2 L86.8,166.8 L86.5,166.4 L86.2,166.0 L85.9,165.6 L85.6,165.1 L85.2,164.5 L84.9,164.0 L84.7,163.6 L84.4,163.0 L84.1,162.4 L84.0,162.0 L83.8,161.2 L83.6,160.4 L83.6,160.0 L83.5,159.2 L83.6,158.4 L83.6,158.0 L83.8,157.2 L84.0,156.7 L84.3,156.0 L84.5,155.6 L84.8,155.0 L85.2,154.4 L85.5,154.0 L85.8,153.6 L86.2,153.2 L86.6,152.8 L87.1,152.4 L87.6,152.0 L88.0,151.7 L88.4,151.5 L88.9,151.2 L89.6,150.9 L90.0,150.7 L90.8,150.4 L91.2,150.3 L92.0,150.1 L92.6,150.0 L93.2,149.9 L94.0,149.9 L94.8,149.9 L95.6,149.9 L96.1,150.0 L96.8,150.1 L97.6,150.3 L98.0,150.5 L98.8,150.8 L99.2,151.0 L99.7,151.2 L100.3,151.6 L100.8,151.9 L101.2,152.3 L101.6,152.6 L102.0,153.0 L102.4,153.5 L102.8,154.0 L103.0,154.4 L103.3,154.8 L103.6,155.5 L103.8,156.0 L104.0,156.8 L104.1,157.2 L104.2,158.0 L104.2,158.8 L104.1,159.6 L104.0,160.2 L103.8,160.8 L103.6,161.5 L103.4,162.0 L103.2,162.4 L102.8,163.1 L102.4,163.6 L102.1,164.0 L101.8,164.4 L101.4,164.8 L101.0,165.2 L100.6,165.6 L100.1,166.0 L99.6,166.4 L99.2,166.6 L98.8,166.9 L98.3,167.2 L97.6,167.6 L97.2,167.8 L96.7,168.0 L96.0,168.3 L95.6,168.5 L94.8,168.8 L94.4,168.9 L93.6,169.2 L93.2,169.3 M47.2,165.3 L46.4,165.5 L45.6,165.6 L44.8,165.6 L44.0,165.5 L43.2,165.2 L42.8,165.0 L42.4,164.8 L41.9,164.4 L41.5,164.0 L41.2,163.6 L40.8,163.0 L40.5,162.4 L40.4,162.0 L40.2,161.2 L40.1,160.4 L40.2,159.6 L40.4,159.1 L40.8,158.4 L41.0,158.0 L41.4,157.6 L41.8,157.2 L42.4,156.8 L42.8,156.6 L43.2,156.4 L44.0,156.2 L44.8,156.0 L45.2,156.0 L46.0,156.0 L46.4,156.0 L47.2,156.1 L48.0,156.3 L48.4,156.5 L49.2,156.8 L49.6,157.0 L50.0,157.2 L50.5,157.6 L51.0,158.0 L51.5,158.4 L51.8,158.8 L52.1,159.2 L52.4,159.9 L52.5,160.4 L52.5,161.2 L52.4,161.7 L52.0,162.4 L51.7,162.8 L51.3,163.2 L50.8,163.6 L50.4,163.9 L50.0,164.1 L49.5,164.4 L48.8,164.7 L48.4,164.9 L47.6,165.2 L47.2,165.3 M92.4,168.0 L92.0,168.0 L91.2,167.9 L90.4,167.7 L90.0,167.6 L89.3,167.2 L88.8,166.8 L88.4,166.5 L88.0,166.2 L87.6,165.8 L87.2,165.3 L86.8,164.8 L86.5,164.4 L86.2,164.0 L85.9,163.6 L85.6,163.0 L85.3,162.4 L85.1,162.0 L84.9,161.2 L84.8,160.8 L84.6,160.0 L84.6,159.2 L84.7,158.4 L84.8,157.6 L84.9,157.2 L85.2,156.4 L85.4,156.0 L85.6,155.6 L86.0,155.0 L86.4,154.4 L86.8,154.0 L87.2,153.6 L87.6,153.2 L88.0,152.9 L88.4,152.6 L88.8,152.3 L89.4,152.0 L90.0,151.7 L90.4,151.5 L91.2,151.2 L91.6,151.1 L92.4,150.9 L93.2,150.8 L93.6,150.8 L94.4,150.8 L95.2,150.8 L95.6,150.8 L96.4,151.0 L97.2,151.2 L97.6,151.3 L98.4,151.6 L98.8,151.8 L99.2,152.0 L99.8,152.4 L100.3,152.8 L100.8,153.2 L101.2,153.6 L101.6,154.0 L101.9,154.4 L102.1,154.8 L102.4,155.3 L102.7,156.0 L102.8,156.4 L103.0,157.2 L103.2,158.0 L103.2,158.8 L103.1,159.6 L102.9,160.4 L102.8,160.8 L102.5,161.6 L102.3,162.0 L102.0,162.5 L101.6,163.1 L101.2,163.6 L100.9,164.0 L100.5,164.4 L100.1,164.8 L99.6,165.2 L99.2,165.5 L98.8,165.8 L98.4,166.0 L97.8,166.4 L97.2,166.7 L96.8,166.9 L96.0,167.2 L95.6,167.4 L94.8,167.6 L94.4,167.7 L93.6,167.9 L92.8,168.0 L92.4,168.0 M46.4,164.4 L45.6,164.5 L44.8,164.5 L44.4,164.4 L43.6,164.1 L43.2,163.9 L42.7,163.6 L42.3,163.2 L41.9,162.8 L41.6,162.2 L41.3,161.6 L41.2,160.9 L41.2,160.4 L41.2,160.0 L41.5,159.2 L41.7,158.8 L42.0,158.4 L42.4,158.0 L42.9,157.6 L43.6,157.3 L44.0,157.1 L44.8,156.9 L45.6,156.9 L46.4,156.9 L47.2,157.1 L47.7,157.2 L48.4,157.5 L48.8,157.7 L49.3,158.0 L49.9,158.4 L50.3,158.8 L50.6,159.2 L50.9,159.6 L51.1,160.4 L51.1,161.2 L50.8,161.9 L50.5,162.4 L50.1,162.8 L49.6,163.2 L49.2,163.4 L48.8,163.7 L48.0,164.0 L47.6,164.1 L46.8,164.4 L46.4,164.4 M94.8,166.5 L94.0,166.6 L93.2,166.7 L92.4,166.7 L91.6,166.6 L90.9,166.4 L90.4,166.2 L90.0,166.0 L89.3,165.6 L88.8,165.2 L88.4,164.9 L88.0,164.5 L87.6,164.0 L87.3,163.6 L87.0,163.2 L86.7,162.8 L86.4,162.2 L86.1,161.6 L86.0,161.2 L85.8,160.4 L85.7,159.6 L85.7,158.8 L85.8,158.0 L86.0,157.3 L86.2,156.8 L86.4,156.3 L86.8,155.6 L87.1,155.2 L87.4,154.8 L87.7,154.4 L88.2,154.0 L88.6,153.6 L89.2,153.2 L89.6,152.9 L90.0,152.7 L90.7,152.4 L91.2,152.2 L91.9,152.0 L92.4,151.9 L93.2,151.7 L94.0,151.7 L94.8,151.7 L95.6,151.8 L96.4,151.9 L96.8,152.0 L97.6,152.3 L98.0,152.5 L98.6,152.8 L99.2,153.2 L99.6,153.5 L100.0,153.8 L100.4,154.2 L100.8,154.7 L101.1,155.2 L101.4,155.6 L101.6,156.1 L101.9,156.8 L102.0,157.4 L102.1,158.0 L102.1,158.8 L102.0,159.6 L102.0,160.0 L101.7,160.8 L101.6,161.2 L101.2,161.9 L100.9,162.4 L100.6,162.8 L100.3,163.2 L99.9,163.6 L99.5,164.0 L99.0,164.4 L98.5,164.8 L98.0,165.1 L97.6,165.4 L97.2,165.6 L96.4,165.9 L96.0,166.1 L95.2,166.4 L94.8,166.5 M46.4,163.3 L45.6,163.3 L44.8,163.2 L44.4,163.1 L43.8,162.8 L43.3,162.4 L43.0,162.0 L42.7,161.6 L42.5,160.8 L42.6,160.0 L42.8,159.5 L43.2,158.9 L43.6,158.6 L44.0,158.3 L44.8,158.1 L45.2,158.0 L46.0,158.0 L46.4,158.0 L47.2,158.2 L47.7,158.4 L48.4,158.8 L48.8,159.2 L49.2,159.6 L49.4,160.0 L49.5,160.8 L49.2,161.6 L48.9,162.0 L48.5,162.4 L48.0,162.7 L47.6,162.9 L46.8,163.2 L46.4,163.3 M95.2,165.2 L94.4,165.4 L93.6,165.5 L92.8,165.5 L92.0,165.4 L91.4,165.2 L90.8,165.0 L90.4,164.8 L89.8,164.4 L89.3,164.0 L88.8,163.6 L88.4,163.2 L88.1,162.8 L87.8,162.4 L87.6,162.0 L87.2,161.2 L87.1,160.8 L86.9,160.0 L86.8,159.2 L86.9,158.4 L87.1,157.6 L87.2,157.2 L87.6,156.4 L87.8,156.0 L88.1,155.6 L88.4,155.2 L88.8,154.8 L89.3,154.4 L89.8,154.0 L90.4,153.6 L90.8,153.4 L91.4,153.2 L92.0,153.0 L92.8,152.8 L93.2,152.7 L94.0,152.7 L94.8,152.7 L95.6,152.8 L96.0,152.9 L96.8,153.1 L97.2,153.3 L97.9,153.6 L98.4,153.9 L98.8,154.2 L99.2,154.5 L99.6,155.0 L100.0,155.5 L100.3,156.0 L100.5,156.4 L100.8,157.2 L100.9,157.6 L101.0,158.4 L101.0,159.2 L100.8,160.0 L100.7,160.4 L100.4,161.1 L100.2,161.6 L99.9,162.0 L99.6,162.4 L99.2,162.9 L98.8,163.3 L98.4,163.6 L97.9,164.0 L97.2,164.4 L96.8,164.6 L96.4,164.8 L95.6,165.1 L95.2,165.2 M46.0,161.3 L45.3,161.2 L44.9,160.8 L45.2,160.1 L45.6,159.9 L46.3,160.0 L46.7,160.4 L46.4,161.2 L46.0,161.3 M94.8,164.1 L94.0,164.2 L93.2,164.2 L92.4,164.1 L92.0,164.0 L91.2,163.7 L90.8,163.5 L90.3,163.2 L89.8,162.8 L89.4,162.4 L89.1,162.0 L88.8,161.5 L88.4,160.8 L88.3,160.4 L88.1,159.6 L88.1,158.8 L88.3,158.0 L88.4,157.5 L88.7,156.8 L89.0,156.4 L89.3,156.0 L89.6,155.6 L90.1,155.2 L90.6,154.8 L91.2,154.5 L91.6,154.3 L92.4,154.0 L92.8,153.9 L93.6,153.8 L94.4,153.8 L95.2,153.8 L95.9,154.0 L96.4,154.2 L97.0,154.4 L97.6,154.8 L98.0,155.1 L98.4,155.4 L98.8,155.9 L99.1,156.4 L99.4,156.8 L99.6,157.5 L99.7,158.0 L99.8,158.8 L99.7,159.6 L99.6,160.0 L99.2,160.8 L99.0,161.2 L98.7,161.6 L98.4,162.0 L98.0,162.4 L97.6,162.8 L97.0,163.2 L96.4,163.5 L96.0,163.7 L95.2,164.0 L94.8,164.1 M95.6,162.4 L94.8,162.7 L94.0,162.8 L93.2,162.8 L92.4,162.6 L91.9,162.4 L91.2,162.0 L90.8,161.7 L90.4,161.2 L90.1,160.8 L89.9,160.4 L89.7,159.6 L89.6,158.8 L89.8,158.0 L90.0,157.5 L90.4,156.8 L90.8,156.4 L91.2,156.0 L91.6,155.8 L92.0,155.5 L92.8,155.2 L93.2,155.2 L94.0,155.1 L94.8,155.1 L95.3,155.2 L96.0,155.4 L96.4,155.6 L96.9,156.0 L97.4,156.4 L97.7,156.8 L98.0,157.4 L98.2,158.0 L98.3,158.8 L98.2,159.6 L98.0,160.1 L97.6,160.8 L97.3,161.2 L96.9,161.6 L96.4,162.0 L96.0,162.2 L95.6,162.4" fill="none" stroke="#555" stroke-width="0.42" stroke-linejoin="round"/>
<path d="M157.7,158.2h0.7v0.7h-0.7zM167.9,162.7h0.7v0.7h-0.7zM189.7,150.5h0.7v0.7h-0.7zM192.3,144.5h0.7v0.7h-0.7zM160.8,161.1h0.7v0.7h-0.7zM203.4,132.2h0.7v0.7h-0.7zM200.4,129.3h0.7v0.7h-0.7zM188.2,173.0h0.7v0.7h-0.7zM161.1,154.3h0.7v0.7h-0.7zM195.5,138.9h0.7v0.7h-0.7zM200.6,133.7h0.7v0.7h-0.7zM219.9,129.3h0.7v0.7h-0.7zM179.8,138.0h0.7v0.7h-0.7zM175.2,151.7h0.7v0.7h-0.7zM156.0,156.7h0.7v0.7h-0.7zM177.8,155.1h0.7v0.7h-0.7zM175.2,134.0h0.7v0.7h-0.7zM194.3,146.3h0.7v0.7h-0.7zM216.6,122.0h0.7v0.7h-0.7zM227.1,114.7h0.7v0.7h-0.7zM239.7,158.1h0.7v0.7h-0.7zM170.0,155.7h0.7v0.7h-0.7zM200.2,119.1h0.7v0.7h-0.7zM190.0,144.1h0.7v0.7h-0.7zM191.3,154.6h0.7v0.7h-0.7zM164.9,160.8h0.7v0.7h-0.7zM204.3,132.3h0.7v0.7h-0.7zM163.8,158.5h0.7v0.7h-0.7zM161.7,157.3h0.7v0.7h-0.7zM186.7,131.3h0.7v0.7h-0.7zM189.9,122.0h0.7v0.7h-0.7zM214.1,121.4h0.7v0.7h-0.7zM218.7,115.8h0.7v0.7h-0.7zM174.4,162.9h0.7v0.7h-0.7zM205.9,131.2h0.7v0.7h-0.7zM240.0,117.8h0.7v0.7h-0.7zM155.6,158.7h0.7v0.7h-0.7zM175.2,148.1h0.7v0.7h-0.7zM204.7,133.9h0.7v0.7h-0.7zM201.5,139.3h0.7v0.7h-0.7zM227.1,120.0h0.7v0.7h-0.7zM165.0,151.8h0.7v0.7h-0.7zM177.5,150.2h0.7v0.7h-0.7zM195.8,143.2h0.7v0.7h-0.7zM154.1,166.2h0.7v0.7h-0.7zM182.9,139.7h0.7v0.7h-0.7zM210.1,122.2h0.7v0.7h-0.7zM181.2,155.0h0.7v0.7h-0.7zM189.3,134.1h0.7v0.7h-0.7zM167.4,168.1h0.7v0.7h-0.7zM170.5,150.8h0.7v0.7h-0.7zM189.7,141.4h0.7v0.7h-0.7zM182.8,131.0h0.7v0.7h-0.7zM166.5,159.0h0.7v0.7h-0.7zM193.4,148.9h0.7v0.7h-0.7zM172.9,144.1h0.7v0.7h-0.7zM189.8,151.0h0.7v0.7h-0.7zM224.2,129.2h0.7v0.7h-0.7zM171.8,148.0h0.7v0.7h-0.7zM210.8,138.5h0.7v0.7h-0.7zM209.9,131.9h0.7v0.7h-0.7zM240.3,129.4h0.7v0.7h-0.7zM198.0,144.4h0.7v0.7h-0.7zM232.4,125.8h0.7v0.7h-0.7zM168.7,139.7h0.7v0.7h-0.7zM213.1,133.3h0.7v0.7h-0.7zM173.1,144.8h0.7v0.7h-0.7zM181.9,159.8h0.7v0.7h-0.7zM163.5,154.6h0.7v0.7h-0.7zM160.8,145.6h0.7v0.7h-0.7zM199.4,177.8h0.7v0.7h-0.7zM203.3,136.0h0.7v0.7h-0.7zM172.0,129.0h0.7v0.7h-0.7zM163.0,173.2h0.7v0.7h-0.7zM213.5,128.1h0.7v0.7h-0.7zM191.9,138.7h0.7v0.7h-0.7zM179.8,130.4h0.7v0.7h-0.7zM186.2,150.9h0.7v0.7h-0.7zM207.8,134.9h0.7v0.7h-0.7zM188.4,137.5h0.7v0.7h-0.7zM155.1,162.5h0.7v0.7h-0.7zM210.9,132.3h0.7v0.7h-0.7zM215.2,133.0h0.7v0.7h-0.7zM184.1,144.3h0.7v0.7h-0.7zM178.9,123.4h0.7v0.7h-0.7zM215.6,132.6h0.7v0.7h-0.7zM232.1,120.3h0.7v0.7h-0.7zM174.0,149.2h0.7v0.7h-0.7zM165.7,159.4h0.7v0.7h-0.7zM212.8,140.0h0.7v0.7h-0.7zM207.5,127.5h0.7v0.7h-0.7zM167.4,185.4h0.7v0.7h-0.7zM184.8,155.6h0.7v0.7h-0.7zM214.2,122.4h0.7v0.7h-0.7zM227.0,125.5h0.7v0.7h-0.7zM219.3,122.6h0.7v0.7h-0.7zM230.7,113.5h0.7v0.7h-0.7zM190.6,119.8h0.7v0.7h-0.7zM171.4,148.5h0.7v0.7h-0.7zM167.1,137.6h0.7v0.7h-0.7zM173.1,141.0h0.7v0.7h-0.7zM218.8,121.9h0.7v0.7h-0.7zM220.7,121.3h0.7v0.7h-0.7zM229.0,123.4h0.7v0.7h-0.7zM165.2,152.7h0.7v0.7h-0.7zM225.9,121.4h0.7v0.7h-0.7zM205.5,130.6h0.7v0.7h-0.7zM216.6,123.9h0.7v0.7h-0.7zM216.3,135.7h0.7v0.7h-0.7zM186.7,132.0h0.7v0.7h-0.7zM234.2,118.3h0.7v0.7h-0.7zM191.5,135.1h0.7v0.7h-0.7zM167.8,135.0h0.7v0.7h-0.7zM187.7,151.3h0.7v0.7h-0.7zM175.1,143.3h0.7v0.7h-0.7zM178.5,132.4h0.7v0.7h-0.7zM225.6,115.6h0.7v0.7h-0.7zM218.3,114.7h0.7v0.7h-0.7zM200.2,134.2h0.7v0.7h-0.7zM178.9,153.1h0.7v0.7h-0.7zM199.2,126.0h0.7v0.7h-0.7zM177.7,159.6h0.7v0.7h-0.7zM215.9,128.8h0.7v0.7h-0.7zM215.6,130.0h0.7v0.7h-0.7zM236.3,112.6h0.7v0.7h-0.7zM236.0,121.8h0.7v0.7h-0.7zM211.3,122.3h0.7v0.7h-0.7zM177.5,143.2h0.7v0.7h-0.7zM202.4,140.1h0.7v0.7h-0.7zM194.4,139.8h0.7v0.7h-0.7zM177.4,135.3h0.7v0.7h-0.7zM203.9,145.0h0.7v0.7h-0.7zM181.5,123.1h0.7v0.7h-0.7zM175.7,132.1h0.7v0.7h-0.7zM234.6,122.4h0.7v0.7h-0.7zM192.8,129.4h0.7v0.7h-0.7zM153.6,138.7h0.7v0.7h-0.7zM174.6,165.1h0.7v0.7h-0.7zM193.7,127.9h0.7v0.7h-0.7zM186.0,135.5h0.7v0.7h-0.7zM170.9,136.5h0.7v0.7h-0.7zM180.0,151.6h0.7v0.7h-0.7zM171.0,162.6h0.7v0.7h-0.7zM161.3,163.3h0.7v0.7h-0.7zM186.4,120.5h0.7v0.7h-0.7zM223.5,126.2h0.7v0.7h-0.7zM230.3,140.1h0.7v0.7h-0.7zM184.0,135.6h0.7v0.7h-0.7zM152.1,156.5h0.7v0.7h-0.7zM192.0,119.4h0.7v0.7h-0.7zM158.8,143.6h0.7v0.7h-0.7zM218.1,134.5h0.7v0.7h-0.7zM216.0,125.5h0.7v0.7h-0.7zM182.6,163.7h0.7v0.7h-0.7zM178.0,149.5h0.7v0.7h-0.7zM155.1,177.8h0.7v0.7h-0.7zM200.0,138.7h0.7v0.7h-0.7zM158.6,155.6h0.7v0.7h-0.7zM170.1,136.8h0.7v0.7h-0.7zM223.9,131.2h0.7v0.7h-0.7zM225.8,112.0h0.7v0.7h-0.7zM229.7,120.4h0.7v0.7h-0.7zM196.6,156.7h0.7v0.7h-0.7zM216.7,129.1h0.7v0.7h-0.7zM216.4,125.6h0.7v0.7h-0.7zM171.6,151.2h0.7v0.7h-0.7zM226.6,129.7h0.7v0.7h-0.7zM157.7,156.6h0.7v0.7h-0.7zM230.9,120.7h0.7v0.7h-0.7zM192.4,134.4h0.7v0.7h-0.7zM197.8,131.8h0.7v0.7h-0.7zM226.9,125.7h0.7v0.7h-0.7zM214.5,133.6h0.7v0.7h-0.7zM178.6,154.1h0.7v0.7h-0.7zM218.4,133.0h0.7v0.7h-0.7zM170.9,152.6h0.7v0.7h-0.7zM178.9,143.6h0.7v0.7h-0.7zM180.8,157.7h0.7v0.7h-0.7zM240.6,117.9h0.7v0.7h-0.7zM178.0,140.5h0.7v0.7h-0.7zM175.7,154.2h0.7v0.7h-0.7zM176.7,152.4h0.7v0.7h-0.7zM207.2,132.1h0.7v0.7h-0.7zM180.0,141.8h0.7v0.7h-0.7zM170.2,152.9h0.7v0.7h-0.7zM155.8,149.8h0.7v0.7h-0.7zM166.4,163.9h0.7v0.7h-0.7zM236.8,115.7h0.7v0.7h-0.7zM166.9,153.9h0.7v0.7h-0.7zM204.0,135.7h0.7v0.7h-0.7zM216.3,120.9h0.7v0.7h-0.7zM178.9,142.4h0.7v0.7h-0.7zM226.9,125.7h0.7v0.7h-0.7zM233.5,129.5h0.7v0.7h-0.7zM160.3,154.7h0.7v0.7h-0.7zM225.4,124.4h0.7v0.7h-0.7zM189.0,150.5h0.7v0.7h-0.7zM188.6,146.4h0.7v0.7h-0.7zM176.5,161.0h0.7v0.7h-0.7zM167.3,131.1h0.7v0.7h-0.7zM170.4,146.6h0.7v0.7h-0.7zM200.0,151.3h0.7v0.7h-0.7zM184.9,124.0h0.7v0.7h-0.7zM181.1,132.4h0.7v0.7h-0.7zM203.9,134.8h0.7v0.7h-0.7zM231.3,117.6h0.7v0.7h-0.7zM166.6,165.8h0.7v0.7h-0.7zM158.9,171.6h0.7v0.7h-0.7zM193.3,139.1h0.7v0.7h-0.7zM167.9,135.9h0.7v0.7h-0.7zM208.9,135.6h0.7v0.7h-0.7zM157.7,170.1h0.7v0.7h-0.7zM202.2,127.1h0.7v0.7h-0.7zM208.6,146.8h0.7v0.7h-0.7zM156.9,160.4h0.7v0.7h-0.7zM214.8,124.8h0.7v0.7h-0.7zM192.8,138.6h0.7v0.7h-0.7zM218.2,130.0h0.7v0.7h-0.7zM224.0,131.0h0.7v0.7h-0.7zM181.8,161.5h0.7v0.7h-0.7zM171.3,167.5h0.7v0.7h-0.7zM209.9,146.2h0.7v0.7h-0.7zM181.9,157.2h0.7v0.7h-0.7zM236.6,124.5h0.7v0.7h-0.7zM164.9,152.5h0.7v0.7h-0.7zM226.7,129.9h0.7v0.7h-0.7zM175.5,132.8h0.7v0.7h-0.7zM187.5,138.1h0.7v0.7h-0.7zM191.0,149.0h0.7v0.7h-0.7zM168.3,150.4h0.7v0.7h-0.7zM177.9,145.5h0.7v0.7h-0.7zM199.2,128.1h0.7v0.7h-0.7zM188.7,128.7h0.7v0.7h-0.7zM218.7,132.1h0.7v0.7h-0.7zM210.2,119.6h0.7v0.7h-0.7zM165.2,164.0h0.7v0.7h-0.7zM192.9,147.8h0.7v0.7h-0.7zM171.1,155.3h0.7v0.7h-0.7zM209.8,129.6h0.7v0.7h-0.7zM222.7,122.5h0.7v0.7h-0.7zM221.2,122.4h0.7v0.7h-0.7zM182.0,146.3h0.7v0.7h-0.7zM202.4,133.0h0.7v0.7h-0.7zM226.7,126.4h0.7v0.7h-0.7zM185.9,164.7h0.7v0.7h-0.7zM165.9,132.7h0.7v0.7h-0.7zM200.4,154.3h0.7v0.7h-0.7zM157.7,179.2h0.7v0.7h-0.7zM205.5,146.7h0.7v0.7h-0.7zM218.2,120.0h0.7v0.7h-0.7zM194.9,129.8h0.7v0.7h-0.7zM192.9,125.1h0.7v0.7h-0.7zM162.8,156.9h0.7v0.7h-0.7zM205.4,159.5h0.7v0.7h-0.7zM174.3,127.2h0.7v0.7h-0.7zM170.9,148.8h0.7v0.7h-0.7zM167.2,164.4h0.7v0.7h-0.7zM197.2,145.5h0.7v0.7h-0.7zM167.0,155.0h0.7v0.7h-0.7zM207.5,124.0h0.7v0.7h-0.7zM174.3,158.3h0.7v0.7h-0.7zM210.5,132.5h0.7v0.7h-0.7zM175.6,150.6h0.7v0.7h-0.7zM176.1,158.7h0.7v0.7h-0.7zM179.7,159.4h0.7v0.7h-0.7zM186.9,154.0h0.7v0.7h-0.7zM224.9,121.8h0.7v0.7h-0.7zM187.9,127.2h0.7v0.7h-0.7zM196.1,127.7h0.7v0.7h-0.7zM223.8,120.3h0.7v0.7h-0.7zM168.4,143.6h0.7v0.7h-0.7zM197.7,148.2h0.7v0.7h-0.7zM159.9,166.5h0.7v0.7h-0.7zM231.7,121.8h0.7v0.7h-0.7zM181.7,144.8h0.7v0.7h-0.7zM162.1,163.7h0.7v0.7h-0.7zM163.4,162.7h0.7v0.7h-0.7zM159.9,160.5h0.7v0.7h-0.7zM192.6,119.8h0.7v0.7h-0.7zM156.1,152.7h0.7v0.7h-0.7zM161.5,159.7h0.7v0.7h-0.7zM177.7,148.7h0.7v0.7h-0.7zM190.2,133.9h0.7v0.7h-0.7zM190.8,135.5h0.7v0.7h-0.7zM217.8,141.3h0.7v0.7h-0.7zM182.4,138.3h0.7v0.7h-0.7zM178.3,165.4h0.7v0.7h-0.7zM234.2,120.9h0.7v0.7h-0.7zM178.5,149.4h0.7v0.7h-0.7zM173.9,163.6h0.7v0.7h-0.7zM165.7,136.4h0.7v0.7h-0.7zM181.1,156.2h0.7v0.7h-0.7zM181.4,145.4h0.7v0.7h-0.7zM217.5,134.6h0.7v0.7h-0.7zM170.0,150.8h0.7v0.7h-0.7zM171.5,139.1h0.7v0.7h-0.7zM172.5,150.5h0.7v0.7h-0.7zM214.2,136.9h0.7v0.7h-0.7zM167.6,150.3h0.7v0.7h-0.7zM221.3,133.3h0.7v0.7h-0.7zM198.8,137.9h0.7v0.7h-0.7zM169.7,181.0h0.7v0.7h-0.7zM227.3,127.8h0.7v0.7h-0.7zM170.1,148.2h0.7v0.7h-0.7zM192.3,128.5h0.7v0.7h-0.7zM201.1,125.7h0.7v0.7h-0.7zM167.2,142.7h0.7v0.7h-0.7zM174.7,185.6h0.7v0.7h-0.7zM201.6,145.4h0.7v0.7h-0.7zM161.9,182.8h0.7v0.7h-0.7zM204.1,129.6h0.7v0.7h-0.7zM175.9,162.7h0.7v0.7h-0.7zM161.7,166.1h0.7v0.7h-0.7zM152.1,160.5h0.7v0.7h-0.7zM175.1,156.1h0.7v0.7h-0.7zM161.9,168.4h0.7v0.7h-0.7zM170.6,147.0h0.7v0.7h-0.7zM225.5,123.1h0.7v0.7h-0.7zM151.8,141.2h0.7v0.7h-0.7zM229.7,119.6h0.7v0.7h-0.7zM223.7,132.2h0.7v0.7h-0.7zM168.5,152.5h0.7v0.7h-0.7zM199.1,158.0h0.7v0.7h-0.7zM173.2,158.0h0.7v0.7h-0.7zM224.3,122.5h0.7v0.7h-0.7zM227.0,114.2h0.7v0.7h-0.7zM211.5,123.8h0.7v0.7h-0.7zM184.7,150.4h0.7v0.7h-0.7zM172.2,150.5h0.7v0.7h-0.7zM180.1,146.6h0.7v0.7h-0.7zM148.2,158.0h0.7v0.7h-0.7zM155.4,161.5h0.7v0.7h-0.7zM160.4,141.4h0.7v0.7h-0.7zM173.8,168.7h0.7v0.7h-0.7zM224.2,128.5h0.7v0.7h-0.7zM156.5,159.9h0.7v0.7h-0.7zM162.8,181.0h0.7v0.7h-0.7zM190.5,155.9h0.7v0.7h-0.7zM201.1,139.3h0.7v0.7h-0.7zM161.9,153.9h0.7v0.7h-0.7zM189.6,130.4h0.7v0.7h-0.7zM178.9,154.7h0.7v0.7h-0.7zM211.4,127.0h0.7v0.7h-0.7zM168.3,160.6h0.7v0.7h-0.7zM226.3,128.3h0.7v0.7h-0.7zM189.6,134.9h0.7v0.7h-0.7zM170.5,169.8h0.7v0.7h-0.7zM182.4,163.2h0.7v0.7h-0.7zM177.5,157.9h0.7v0.7h-0.7zM174.9,165.2h0.7v0.7h-0.7zM177.6,140.5h0.7v0.7h-0.7zM218.9,129.0h0.7v0.7h-0.7zM213.8,125.4h0.7v0.7h-0.7zM184.0,157.6h0.7v0.7h-0.7zM173.3,150.7h0.7v0.7h-0.7zM223.5,115.0h0.7v0.7h-0.7zM238.4,124.0h0.7v0.7h-0.7zM222.8,111.6h0.7v0.7h-0.7zM227.0,115.3h0.7v0.7h-0.7zM189.9,155.0h0.7v0.7h-0.7zM167.6,157.2h0.7v0.7h-0.7zM181.3,136.8h0.7v0.7h-0.7zM188.2,147.6h0.7v0.7h-0.7zM157.6,160.1h0.7v0.7h-0.7zM171.1,137.6h0.7v0.7h-0.7zM194.9,144.3h0.7v0.7h-0.7zM202.3,125.6h0.7v0.7h-0.7zM185.5,135.7h0.7v0.7h-0.7zM156.2,170.5h0.7v0.7h-0.7zM201.8,136.1h0.7v0.7h-0.7zM163.8,145.7h0.7v0.7h-0.7zM199.0,123.2h0.7v0.7h-0.7zM208.5,127.0h0.7v0.7h-0.7zM185.6,139.4h0.7v0.7h-0.7zM217.4,125.9h0.7v0.7h-0.7zM190.7,168.5h0.7v0.7h-0.7zM222.9,131.0h0.7v0.7h-0.7zM179.9,153.0h0.7v0.7h-0.7zM171.9,165.2h0.7v0.7h-0.7zM165.5,157.6h0.7v0.7h-0.7zM164.5,144.3h0.7v0.7h-0.7zM159.8,179.3h0.7v0.7h-0.7zM185.7,154.7h0.7v0.7h-0.7zM209.1,126.5h0.7v0.7h-0.7zM203.4,151.0h0.7v0.7h-0.7zM190.3,150.6h0.7v0.7h-0.7zM219.9,113.4h0.7v0.7h-0.7zM166.1,131.3h0.7v0.7h-0.7zM178.4,155.2h0.7v0.7h-0.7zM185.8,152.0h0.7v0.7h-0.7zM199.9,141.0h0.7v0.7h-0.7zM210.2,131.7h0.7v0.7h-0.7zM205.8,152.3h0.7v0.7h-0.7zM233.2,120.7h0.7v0.7h-0.7zM170.5,141.6h0.7v0.7h-0.7zM166.0,163.1h0.7v0.7h-0.7zM204.4,122.8h0.7v0.7h-0.7zM168.1,162.0h0.7v0.7h-0.7zM202.5,132.9h0.7v0.7h-0.7zM168.8,154.8h0.7v0.7h-0.7zM185.4,142.5h0.7v0.7h-0.7zM184.3,147.9h0.7v0.7h-0.7zM176.5,181.3h0.7v0.7h-0.7zM229.1,113.6h0.7v0.7h-0.7zM193.8,136.3h0.7v0.7h-0.7zM180.4,142.2h0.7v0.7h-0.7zM164.3,172.0h0.7v0.7h-0.7zM237.4,120.4h0.7v0.7h-0.7zM162.3,177.1h0.7v0.7h-0.7zM172.0,159.3h0.7v0.7h-0.7zM188.7,149.6h0.7v0.7h-0.7zM196.5,132.5h0.7v0.7h-0.7zM166.9,155.5h0.7v0.7h-0.7zM155.3,173.1h0.7v0.7h-0.7zM189.6,135.3h0.7v0.7h-0.7zM165.1,157.1h0.7v0.7h-0.7zM195.4,140.2h0.7v0.7h-0.7zM201.7,121.3h0.7v0.7h-0.7zM186.8,161.0h0.7v0.7h-0.7zM192.1,158.8h0.7v0.7h-0.7zM225.3,115.0h0.7v0.7h-0.7zM238.1,113.0h0.7v0.7h-0.7zM187.6,174.8h0.7v0.7h-0.7zM185.5,135.2h0.7v0.7h-0.7zM173.7,170.8h0.7v0.7h-0.7zM196.1,136.4h0.7v0.7h-0.7zM163.4,155.5h0.7v0.7h-0.7zM169.6,151.8h0.7v0.7h-0.7zM220.6,167.9h0.7v0.7h-0.7zM172.6,140.8h0.7v0.7h-0.7zM220.8,129.3h0.7v0.7h-0.7zM203.9,120.9h0.7v0.7h-0.7zM202.8,117.1h0.7v0.7h-0.7zM162.6,155.0h0.7v0.7h-0.7zM181.9,152.2h0.7v0.7h-0.7zM220.1,131.6h0.7v0.7h-0.7zM180.1,167.0h0.7v0.7h-0.7zM185.4,139.4h0.7v0.7h-0.7zM179.2,161.4h0.7v0.7h-0.7zM171.0,165.9h0.7v0.7h-0.7zM223.5,138.4h0.7v0.7h-0.7zM168.0,151.1h0.7v0.7h-0.7zM207.4,129.3h0.7v0.7h-0.7zM181.8,148.3h0.7v0.7h-0.7zM232.7,112.3h0.7v0.7h-0.7zM194.1,160.8h0.7v0.7h-0.7zM168.8,157.9h0.7v0.7h-0.7zM176.8,178.5h0.7v0.7h-0.7zM168.3,160.6h0.7v0.7h-0.7zM194.6,145.7h0.7v0.7h-0.7zM192.4,154.8h0.7v0.7h-0.7zM166.2,142.1h0.7v0.7h-0.7zM224.9,126.3h0.7v0.7h-0.7zM184.3,130.5h0.7v0.7h-0.7zM221.0,117.0h0.7v0.7h-0.7zM221.9,114.3h0.7v0.7h-0.7zM157.2,169.2h0.7v0.7h-0.7zM164.8,165.1h0.7v0.7h-0.7zM192.7,124.8h0.7v0.7h-0.7zM160.2,162.0h0.7v0.7h-0.7zM198.1,140.2h0.7v0.7h-0.7zM175.0,144.1h0.7v0.7h-0.7zM168.1,162.5h0.7v0.7h-0.7zM167.3,141.7h0.7v0.7h-0.7zM192.1,154.6h0.7v0.7h-0.7zM160.2,157.6h0.7v0.7h-0.7zM186.0,138.6h0.7v0.7h-0.7zM183.0,143.5h0.7v0.7h-0.7zM191.1,140.6h0.7v0.7h-0.7zM217.2,150.7h0.7v0.7h-0.7zM204.2,146.8h0.7v0.7h-0.7zM197.7,134.9h0.7v0.7h-0.7zM226.0,117.9h0.7v0.7h-0.7zM200.4,138.3h0.7v0.7h-0.7zM164.0,155.3h0.7v0.7h-0.7zM215.1,128.4h0.7v0.7h-0.7zM219.1,132.3h0.7v0.7h-0.7zM178.5,147.1h0.7v0.7h-0.7zM233.1,114.7h0.7v0.7h-0.7zM186.6,157.8h0.7v0.7h-0.7zM152.9,166.5h0.7v0.7h-0.7zM156.3,164.7h0.7v0.7h-0.7zM183.4,133.3h0.7v0.7h-0.7zM155.4,166.4h0.7v0.7h-0.7zM168.9,162.2h0.7v0.7h-0.7zM158.3,159.7h0.7v0.7h-0.7zM189.9,149.1h0.7v0.7h-0.7zM200.4,143.3h0.7v0.7h-0.7zM202.3,149.2h0.7v0.7h-0.7zM215.6,134.7h0.7v0.7h-0.7zM191.0,154.3h0.7v0.7h-0.7zM205.9,151.0h0.7v0.7h-0.7zM221.1,135.9h0.7v0.7h-0.7zM162.8,169.6h0.7v0.7h-0.7zM184.2,149.2h0.7v0.7h-0.7zM230.9,125.7h0.7v0.7h-0.7zM222.7,129.9h0.7v0.7h-0.7zM222.3,113.5h0.7v0.7h-0.7zM224.0,122.2h0.7v0.7h-0.7zM194.8,137.0h0.7v0.7h-0.7zM201.2,128.6h0.7v0.7h-0.7zM181.0,136.5h0.7v0.7h-0.7zM186.5,150.2h0.7v0.7h-0.7zM197.7,145.1h0.7v0.7h-0.7zM174.0,162.3h0.7v0.7h-0.7zM161.5,163.5h0.7v0.7h-0.7zM171.3,163.6h0.7v0.7h-0.7zM230.1,117.7h0.7v0.7h-0.7zM178.2,152.9h0.7v0.7h-0.7zM229.6,123.6h0.7v0.7h-0.7zM188.1,130.6h0.7v0.7h-0.7zM179.1,156.8h0.7v0.7h-0.7zM232.3,116.3h0.7v0.7h-0.7zM231.6,122.0h0.7v0.7h-0.7zM205.0,138.3h0.7v0.7h-0.7zM205.5,122.8h0.7v0.7h-0.7zM210.2,137.9h0.7v0.7h-0.7zM184.8,122.8h0.7v0.7h-0.7zM229.3,127.1h0.7v0.7h-0.7zM180.3,167.8h0.7v0.7h-0.7zM149.8,158.4h0.7v0.7h-0.7zM191.2,148.7h0.7v0.7h-0.7zM160.4,145.7h0.7v0.7h-0.7zM236.8,116.4h0.7v0.7h-0.7zM226.0,134.8h0.7v0.7h-0.7zM188.3,165.5h0.7v0.7h-0.7zM216.8,143.0h0.7v0.7h-0.7zM166.8,155.5h0.7v0.7h-0.7zM183.0,149.3h0.7v0.7h-0.7zM224.5,112.6h0.7v0.7h-0.7zM162.9,160.2h0.7v0.7h-0.7zM192.3,127.4h0.7v0.7h-0.7zM174.8,158.2h0.7v0.7h-0.7zM192.1,127.8h0.7v0.7h-0.7zM179.6,130.7h0.7v0.7h-0.7zM202.7,142.5h0.7v0.7h-0.7zM192.4,155.8h0.7v0.7h-0.7zM166.9,151.8h0.7v0.7h-0.7zM177.1,161.0h0.7v0.7h-0.7zM229.4,114.9h0.7v0.7h-0.7zM166.4,165.4h0.7v0.7h-0.7zM218.8,127.4h0.7v0.7h-0.7zM154.7,156.7h0.7v0.7h-0.7zM178.3,133.9h0.7v0.7h-0.7zM217.7,133.0h0.7v0.7h-0.7zM210.5,139.9h0.7v0.7h-0.7zM203.4,132.2h0.7v0.7h-0.7zM196.5,163.2h0.7v0.7h-0.7zM192.4,137.0h0.7v0.7h-0.7zM220.6,118.6h0.7v0.7h-0.7zM167.6,153.6h0.7v0.7h-0.7zM200.4,140.2h0.7v0.7h-0.7zM221.4,116.7h0.7v0.7h-0.7zM213.2,129.1h0.7v0.7h-0.7zM229.8,136.7h0.7v0.7h-0.7zM195.2,136.3h0.7v0.7h-0.7zM222.3,123.9h0.7v0.7h-0.7zM228.5,134.5h0.7v0.7h-0.7zM169.3,144.7h0.7v0.7h-0.7zM162.3,152.0h0.7v0.7h-0.7zM205.1,125.7h0.7v0.7h-0.7zM193.0,154.0h0.7v0.7h-0.7zM217.9,135.6h0.7v0.7h-0.7zM215.7,147.4h0.7v0.7h-0.7zM209.2,123.9h0.7v0.7h-0.7zM218.3,130.0h0.7v0.7h-0.7zM181.7,156.5h0.7v0.7h-0.7zM173.0,136.3h0.7v0.7h-0.7zM197.2,129.4h0.7v0.7h-0.7zM184.3,150.4h0.7v0.7h-0.7zM186.6,135.4h0.7v0.7h-0.7zM201.4,132.6h0.7v0.7h-0.7zM200.1,132.3h0.7v0.7h-0.7zM212.1,132.2h0.7v0.7h-0.7zM189.6,137.7h0.7v0.7h-0.7zM180.1,145.4h0.7v0.7h-0.7zM163.5,144.5h0.7v0.7h-0.7zM175.9,142.1h0.7v0.7h-0.7zM179.1,147.2h0.7v0.7h-0.7zM218.9,141.2h0.7v0.7h-0.7zM197.8,127.5h0.7v0.7h-0.7zM199.5,144.3h0.7v0.7h-0.7zM170.2,149.7h0.7v0.7h-0.7zM156.8,128.4h0.7v0.7h-0.7zM204.6,140.9h0.7v0.7h-0.7zM205.5,135.9h0.7v0.7h-0.7zM179.0,157.3h0.7v0.7h-0.7zM206.9,137.5h0.7v0.7h-0.7zM213.5,133.9h0.7v0.7h-0.7zM205.6,138.4h0.7v0.7h-0.7zM178.4,145.9h0.7v0.7h-0.7zM222.6,129.1h0.7v0.7h-0.7zM185.2,146.6h0.7v0.7h-0.7zM179.7,126.0h0.7v0.7h-0.7zM186.1,134.9h0.7v0.7h-0.7zM210.9,139.5h0.7v0.7h-0.7zM218.6,120.1h0.7v0.7h-0.7zM178.1,167.5h0.7v0.7h-0.7zM166.8,162.5h0.7v0.7h-0.7zM185.0,132.3h0.7v0.7h-0.7zM181.7,140.9h0.7v0.7h-0.7zM164.2,143.2h0.7v0.7h-0.7zM162.3,172.0h0.7v0.7h-0.7zM225.7,129.2h0.7v0.7h-0.7zM183.6,149.5h0.7v0.7h-0.7zM175.3,143.0h0.7v0.7h-0.7zM181.1,139.1h0.7v0.7h-0.7zM168.8,168.7h0.7v0.7h-0.7zM209.9,153.4h0.7v0.7h-0.7zM231.4,122.9h0.7v0.7h-0.7zM184.3,144.2h0.7v0.7h-0.7zM149.6,153.1h0.7v0.7h-0.7zM187.2,134.6h0.7v0.7h-0.7zM166.2,151.8h0.7v0.7h-0.7zM165.1,152.9h0.7v0.7h-0.7zM200.0,144.0h0.7v0.7h-0.7zM174.7,146.5h0.7v0.7h-0.7zM222.8,115.7h0.7v0.7h-0.7zM232.3,122.3h0.7v0.7h-0.7zM176.4,147.0h0.7v0.7h-0.7zM179.1,133.9h0.7v0.7h-0.7zM228.4,123.4h0.7v0.7h-0.7zM228.7,125.4h0.7v0.7h-0.7zM177.1,132.4h0.7v0.7h-0.7zM219.3,116.1h0.7v0.7h-0.7zM181.3,143.5h0.7v0.7h-0.7zM216.7,122.7h0.7v0.7h-0.7zM166.1,137.9h0.7v0.7h-0.7zM174.5,167.0h0.7v0.7h-0.7zM219.8,117.6h0.7v0.7h-0.7zM166.1,144.8h0.7v0.7h-0.7zM189.8,144.1h0.7v0.7h-0.7zM185.7,152.9h0.7v0.7h-0.7zM188.1,155.8h0.7v0.7h-0.7zM170.3,151.5h0.7v0.7h-0.7zM195.5,144.2h0.7v0.7h-0.7zM173.6,137.6h0.7v0.7h-0.7zM240.6,114.2h0.7v0.7h-0.7zM169.5,178.2h0.7v0.7h-0.7zM208.7,132.9h0.7v0.7h-0.7zM164.1,155.4h0.7v0.7h-0.7zM215.8,124.2h0.7v0.7h-0.7zM187.0,139.6h0.7v0.7h-0.7zM162.8,175.0h0.7v0.7h-0.7zM239.8,125.5h0.7v0.7h-0.7zM231.0,119.2h0.7v0.7h-0.7zM157.7,156.3h0.7v0.7h-0.7zM176.1,150.9h0.7v0.7h-0.7zM159.1,158.7h0.7v0.7h-0.7zM221.5,117.1h0.7v0.7h-0.7zM177.3,148.3h0.7v0.7h-0.7zM222.9,121.8h0.7v0.7h-0.7zM222.2,119.9h0.7v0.7h-0.7zM191.5,132.9h0.7v0.7h-0.7zM172.3,143.4h0.7v0.7h-0.7zM189.9,138.4h0.7v0.7h-0.7zM234.5,129.8h0.7v0.7h-0.7zM185.2,150.2h0.7v0.7h-0.7zM209.3,116.8h0.7v0.7h-0.7zM160.4,154.7h0.7v0.7h-0.7zM164.3,153.1h0.7v0.7h-0.7zM174.9,149.2h0.7v0.7h-0.7zM177.4,152.8h0.7v0.7h-0.7zM197.6,151.7h0.7v0.7h-0.7zM163.6,151.7h0.7v0.7h-0.7zM199.8,134.9h0.7v0.7h-0.7zM216.3,142.1h0.7v0.7h-0.7zM193.0,131.8h0.7v0.7h-0.7zM170.2,117.5h0.7v0.7h-0.7zM222.2,124.3h0.7v0.7h-0.7zM175.0,150.9h0.7v0.7h-0.7zM179.7,171.4h0.7v0.7h-0.7zM197.4,165.1h0.7v0.7h-0.7zM172.6,148.7h0.7v0.7h-0.7zM169.3,160.8h0.7v0.7h-0.7zM237.9,123.5h0.7v0.7h-0.7zM173.4,155.4h0.7v0.7h-0.7zM156.5,159.1h0.7v0.7h-0.7zM194.1,127.0h0.7v0.7h-0.7zM171.1,153.3h0.7v0.7h-0.7zM172.0,145.2h0.7v0.7h-0.7zM204.6,116.7h0.7v0.7h-0.7zM229.0,118.2h0.7v0.7h-0.7zM159.8,146.0h0.7v0.7h-0.7zM208.7,161.7h0.7v0.7h-0.7zM210.6,128.3h0.7v0.7h-0.7zM154.6,150.7h0.7v0.7h-0.7zM201.6,136.6h0.7v0.7h-0.7zM201.6,133.9h0.7v0.7h-0.7zM181.0,150.3h0.7v0.7h-0.7zM166.0,135.4h0.7v0.7h-0.7zM198.4,137.1h0.7v0.7h-0.7zM231.7,119.4h0.7v0.7h-0.7zM184.1,140.0h0.7v0.7h-0.7zM212.7,143.3h0.7v0.7h-0.7zM195.6,158.3h0.7v0.7h-0.7zM190.8,143.9h0.7v0.7h-0.7zM214.0,124.5h0.7v0.7h-0.7zM169.4,147.1h0.7v0.7h-0.7zM173.6,162.9h0.7v0.7h-0.7zM151.3,164.4h0.7v0.7h-0.7zM201.7,140.3h0.7v0.7h-0.7zM211.0,125.0h0.7v0.7h-0.7zM170.4,135.7h0.7v0.7h-0.7zM187.8,144.5h0.7v0.7h-0.7zM155.2,143.9h0.7v0.7h-0.7zM226.9,121.3h0.7v0.7h-0.7zM189.6,146.7h0.7v0.7h-0.7zM165.3,148.1h0.7v0.7h-0.7zM179.5,143.4h0.7v0.7h-0.7zM212.3,138.2h0.7v0.7h-0.7zM196.2,162.0h0.7v0.7h-0.7zM193.3,151.3h0.7v0.7h-0.7zM205.9,135.0h0.7v0.7h-0.7zM220.6,128.1h0.7v0.7h-0.7zM207.6,158.7h0.7v0.7h-0.7zM181.7,150.1h0.7v0.7h-0.7zM195.5,160.0h0.7v0.7h-0.7zM190.1,126.6h0.7v0.7h-0.7zM192.1,145.9h0.7v0.7h-0.7zM178.4,149.9h0.7v0.7h-0.7zM179.4,160.6h0.7v0.7h-0.7zM222.5,130.6h0.7v0.7h-0.7zM241.9,117.0h0.7v0.7h-0.7zM192.4,136.0h0.7v0.7h-0.7zM156.7,163.3h0.7v0.7h-0.7zM160.2,158.7h0.7v0.7h-0.7zM194.3,131.6h0.7v0.7h-0.7zM168.0,165.0h0.7v0.7h-0.7zM156.9,168.3h0.7v0.7h-0.7zM183.1,145.4h0.7v0.7h-0.7zM217.4,132.7h0.7v0.7h-0.7zM171.9,151.6h0.7v0.7h-0.7zM189.3,130.6h0.7v0.7h-0.7zM233.5,123.3h0.7v0.7h-0.7zM182.0,141.0h0.7v0.7h-0.7zM211.1,125.9h0.7v0.7h-0.7zM159.3,157.8h0.7v0.7h-0.7zM152.0,143.2h0.7v0.7h-0.7zM157.8,165.7h0.7v0.7h-0.7zM165.1,153.5h0.7v0.7h-0.7zM187.2,154.3h0.7v0.7h-0.7zM182.5,147.2h0.7v0.7h-0.7zM174.7,144.2h0.7v0.7h-0.7zM228.0,122.0h0.7v0.7h-0.7zM170.5,146.3h0.7v0.7h-0.7zM164.1,150.9h0.7v0.7h-0.7zM169.7,150.2h0.7v0.7h-0.7zM209.2,137.6h0.7v0.7h-0.7zM192.4,140.2h0.7v0.7h-0.7zM192.8,146.1h0.7v0.7h-0.7zM208.9,133.8h0.7v0.7h-0.7zM205.2,127.8h0.7v0.7h-0.7zM175.2,135.4h0.7v0.7h-0.7zM218.4,171.1h0.7v0.7h-0.7zM164.3,145.9h0.7v0.7h-0.7zM212.6,125.7h0.7v0.7h-0.7zM235.8,125.6h0.7v0.7h-0.7zM206.2,118.7h0.7v0.7h-0.7zM177.7,132.3h0.7v0.7h-0.7zM192.4,145.0h0.7v0.7h-0.7zM178.1,146.6h0.7v0.7h-0.7zM182.1,144.7h0.7v0.7h-0.7zM186.6,142.1h0.7v0.7h-0.7zM206.6,152.3h0.7v0.7h-0.7zM186.5,142.1h0.7v0.7h-0.7zM166.7,144.5h0.7v0.7h-0.7zM201.6,134.6h0.7v0.7h-0.7zM161.8,165.6h0.7v0.7h-0.7zM225.3,132.2h0.7v0.7h-0.7zM211.3,122.7h0.7v0.7h-0.7zM162.6,170.4h0.7v0.7h-0.7zM174.4,141.7h0.7v0.7h-0.7zM153.5,164.9h0.7v0.7h-0.7zM183.0,121.9h0.7v0.7h-0.7zM193.2,139.0h0.7v0.7h-0.7zM171.2,144.3h0.7v0.7h-0.7zM208.3,124.3h0.7v0.7h-0.7zM215.8,134.1h0.7v0.7h-0.7zM217.4,155.5h0.7v0.7h-0.7zM179.4,160.6h0.7v0.7h-0.7zM203.7,111.8h0.7v0.7h-0.7zM160.7,157.8h0.7v0.7h-0.7zM158.4,141.4h0.7v0.7h-0.7zM168.3,150.2h0.7v0.7h-0.7zM202.3,135.5h0.7v0.7h-0.7zM214.6,134.8h0.7v0.7h-0.7zM199.8,161.0h0.7v0.7h-0.7zM184.1,131.9h0.7v0.7h-0.7zM162.3,166.8h0.7v0.7h-0.7zM158.3,153.3h0.7v0.7h-0.7zM171.7,150.8h0.7v0.7h-0.7zM216.3,124.7h0.7v0.7h-0.7zM195.6,141.4h0.7v0.7h-0.7zM206.7,156.5h0.7v0.7h-0.7zM205.6,142.6h0.7v0.7h-0.7zM229.9,122.8h0.7v0.7h-0.7zM214.1,136.2h0.7v0.7h-0.7zM191.3,131.7h0.7v0.7h-0.7zM165.9,177.7h0.7v0.7h-0.7zM176.3,151.0h0.7v0.7h-0.7zM191.7,145.2h0.7v0.7h-0.7zM189.2,153.9h0.7v0.7h-0.7zM213.4,133.4h0.7v0.7h-0.7zM188.7,155.2h0.7v0.7h-0.7zM162.9,147.3h0.7v0.7h-0.7zM191.0,137.6h0.7v0.7h-0.7zM196.5,128.6h0.7v0.7h-0.7zM215.0,131.5h0.7v0.7h-0.7zM184.8,147.7h0.7v0.7h-0.7zM185.2,150.9h0.7v0.7h-0.7zM177.9,145.5h0.7v0.7h-0.7zM201.0,137.0h0.7v0.7h-0.7zM169.3,165.4h0.7v0.7h-0.7zM180.7,135.4h0.7v0.7h-0.7zM219.6,124.5h0.7v0.7h-0.7zM197.6,142.8h0.7v0.7h-0.7zM173.8,142.6h0.7v0.7h-0.7zM218.8,123.9h0.7v0.7h-0.7zM235.6,154.9h0.7v0.7h-0.7zM217.3,125.8h0.7v0.7h-0.7zM176.5,156.9h0.7v0.7h-0.7zM230.1,125.9h0.7v0.7h-0.7zM172.6,142.4h0.7v0.7h-0.7zM159.8,144.3h0.7v0.7h-0.7zM175.4,138.3h0.7v0.7h-0.7zM223.9,113.8h0.7v0.7h-0.7zM222.5,132.5h0.7v0.7h-0.7zM232.5,119.7h0.7v0.7h-0.7zM174.4,147.2h0.7v0.7h-0.7zM222.1,132.4h0.7v0.7h-0.7zM176.8,121.2h0.7v0.7h-0.7zM228.4,112.5h0.7v0.7h-0.7zM186.4,148.6h0.7v0.7h-0.7zM214.6,129.4h0.7v0.7h-0.7zM166.1,146.7h0.7v0.7h-0.7zM157.0,151.2h0.7v0.7h-0.7zM205.6,135.7h0.7v0.7h-0.7zM172.7,158.1h0.7v0.7h-0.7zM222.6,123.2h0.7v0.7h-0.7zM183.1,141.4h0.7v0.7h-0.7zM174.9,144.5h0.7v0.7h-0.7zM174.1,141.6h0.7v0.7h-0.7zM197.4,140.9h0.7v0.7h-0.7zM149.4,172.7h0.7v0.7h-0.7zM180.5,138.7h0.7v0.7h-0.7zM236.2,115.1h0.7v0.7h-0.7zM176.0,144.0h0.7v0.7h-0.7zM172.9,149.2h0.7v0.7h-0.7zM167.2,142.2h0.7v0.7h-0.7zM236.7,116.7h0.7v0.7h-0.7zM177.5,145.8h0.7v0.7h-0.7zM218.1,132.9h0.7v0.7h-0.7z" fill="#959595" stroke="none" stroke-width="0"/>
<path d="M216.1,124.5h0.7v0.7h-0.7zM200.7,158.7h0.7v0.7h-0.7zM169.2,150.0h0.7v0.7h-0.7zM207.7,124.1h0.7v0.7h-0.7zM186.7,119.8h0.7v0.7h-0.7zM150.1,169.9h0.7v0.7h-0.7zM216.3,129.0h0.7v0.7h-0.7zM217.7,138.9h0.7v0.7h-0.7zM229.0,122.6h0.7v0.7h-0.7zM171.9,150.5h0.7v0.7h-0.7zM228.6,116.6h0.7v0.7h-0.7zM226.8,121.0h0.7v0.7h-0.7zM215.0,118.6h0.7v0.7h-0.7zM196.2,146.7h0.7v0.7h-0.7zM225.7,119.7h0.7v0.7h-0.7zM185.1,144.9h0.7v0.7h-0.7zM159.6,142.9h0.7v0.7h-0.7zM215.8,126.9h0.7v0.7h-0.7zM217.3,134.5h0.7v0.7h-0.7zM205.1,141.3h0.7v0.7h-0.7zM167.1,160.3h0.7v0.7h-0.7zM180.9,155.1h0.7v0.7h-0.7zM182.4,138.5h0.7v0.7h-0.7zM190.5,139.4h0.7v0.7h-0.7zM169.8,159.4h0.7v0.7h-0.7zM183.8,141.0h0.7v0.7h-0.7zM210.6,129.7h0.7v0.7h-0.7zM177.8,151.2h0.7v0.7h-0.7zM182.3,151.0h0.7v0.7h-0.7zM191.3,126.9h0.7v0.7h-0.7zM176.2,159.8h0.7v0.7h-0.7zM205.2,138.8h0.7v0.7h-0.7zM200.0,152.8h0.7v0.7h-0.7zM220.5,132.4h0.7v0.7h-0.7zM190.0,137.6h0.7v0.7h-0.7zM166.6,140.8h0.7v0.7h-0.7zM164.1,159.0h0.7v0.7h-0.7zM182.9,145.3h0.7v0.7h-0.7zM212.9,128.1h0.7v0.7h-0.7zM193.6,137.8h0.7v0.7h-0.7zM181.6,152.0h0.7v0.7h-0.7zM169.4,145.0h0.7v0.7h-0.7zM217.9,134.2h0.7v0.7h-0.7zM171.9,145.4h0.7v0.7h-0.7zM199.3,139.1h0.7v0.7h-0.7zM184.5,146.1h0.7v0.7h-0.7zM177.2,146.4h0.7v0.7h-0.7zM227.6,127.0h0.7v0.7h-0.7zM173.6,164.8h0.7v0.7h-0.7zM220.1,123.4h0.7v0.7h-0.7zM186.9,141.6h0.7v0.7h-0.7zM179.8,147.6h0.7v0.7h-0.7zM174.6,136.9h0.7v0.7h-0.7zM177.1,149.6h0.7v0.7h-0.7zM220.2,120.8h0.7v0.7h-0.7zM173.4,163.7h0.7v0.7h-0.7zM225.6,125.8h0.7v0.7h-0.7zM179.3,142.2h0.7v0.7h-0.7zM204.9,155.4h0.7v0.7h-0.7zM221.2,121.7h0.7v0.7h-0.7zM169.9,134.6h0.7v0.7h-0.7zM180.4,148.3h0.7v0.7h-0.7zM185.4,136.8h0.7v0.7h-0.7zM173.7,148.5h0.7v0.7h-0.7zM149.1,170.4h0.7v0.7h-0.7zM222.0,132.5h0.7v0.7h-0.7zM214.2,126.3h0.7v0.7h-0.7zM161.6,149.1h0.7v0.7h-0.7zM175.7,152.6h0.7v0.7h-0.7zM228.7,114.3h0.7v0.7h-0.7zM211.7,127.5h0.7v0.7h-0.7zM167.9,162.1h0.7v0.7h-0.7zM172.1,148.5h0.7v0.7h-0.7zM216.6,125.8h0.7v0.7h-0.7zM190.3,136.5h0.7v0.7h-0.7zM188.3,135.5h0.7v0.7h-0.7zM179.8,127.6h0.7v0.7h-0.7zM193.5,140.4h0.7v0.7h-0.7zM166.0,154.0h0.7v0.7h-0.7zM210.3,117.7h0.7v0.7h-0.7zM179.4,154.1h0.7v0.7h-0.7zM201.9,153.7h0.7v0.7h-0.7zM191.9,138.9h0.7v0.7h-0.7zM168.8,158.2h0.7v0.7h-0.7zM218.6,133.6h0.7v0.7h-0.7zM162.8,162.2h0.7v0.7h-0.7zM170.7,143.8h0.7v0.7h-0.7zM168.4,153.7h0.7v0.7h-0.7zM226.7,111.9h0.7v0.7h-0.7zM186.8,144.9h0.7v0.7h-0.7zM183.7,130.5h0.7v0.7h-0.7zM219.3,127.6h0.7v0.7h-0.7zM210.2,133.3h0.7v0.7h-0.7zM212.7,161.6h0.7v0.7h-0.7zM228.1,116.5h0.7v0.7h-0.7zM182.4,160.6h0.7v0.7h-0.7zM166.9,156.9h0.7v0.7h-0.7zM209.4,125.7h0.7v0.7h-0.7zM177.5,143.2h0.7v0.7h-0.7zM222.7,120.0h0.7v0.7h-0.7zM174.5,147.4h0.7v0.7h-0.7zM164.0,164.9h0.7v0.7h-0.7zM189.3,144.6h0.7v0.7h-0.7zM222.3,120.1h0.7v0.7h-0.7zM198.3,138.9h0.7v0.7h-0.7zM212.6,122.3h0.7v0.7h-0.7zM210.1,131.7h0.7v0.7h-0.7zM148.7,158.2h0.7v0.7h-0.7zM186.4,157.2h0.7v0.7h-0.7zM223.8,130.8h0.7v0.7h-0.7zM207.4,135.7h0.7v0.7h-0.7zM178.6,152.5h0.7v0.7h-0.7zM193.2,151.1h0.7v0.7h-0.7zM232.7,121.5h0.7v0.7h-0.7zM207.9,118.0h0.7v0.7h-0.7zM191.1,151.4h0.7v0.7h-0.7zM161.0,152.0h0.7v0.7h-0.7zM218.6,151.5h0.7v0.7h-0.7zM210.0,130.2h0.7v0.7h-0.7zM166.3,156.4h0.7v0.7h-0.7zM202.5,130.3h0.7v0.7h-0.7zM179.5,166.9h0.7v0.7h-0.7zM190.5,140.2h0.7v0.7h-0.7zM211.2,116.0h0.7v0.7h-0.7zM187.4,133.6h0.7v0.7h-0.7zM179.2,147.8h0.7v0.7h-0.7zM230.8,116.3h0.7v0.7h-0.7zM209.2,144.2h0.7v0.7h-0.7zM188.5,150.7h0.7v0.7h-0.7zM229.2,119.7h0.7v0.7h-0.7zM203.2,130.0h0.7v0.7h-0.7zM176.6,138.3h0.7v0.7h-0.7zM225.3,125.0h0.7v0.7h-0.7zM223.1,119.2h0.7v0.7h-0.7zM167.1,159.3h0.7v0.7h-0.7zM190.6,132.5h0.7v0.7h-0.7zM181.2,135.1h0.7v0.7h-0.7zM192.5,134.2h0.7v0.7h-0.7zM199.7,141.6h0.7v0.7h-0.7zM187.0,145.4h0.7v0.7h-0.7zM188.9,159.7h0.7v0.7h-0.7zM176.4,150.9h0.7v0.7h-0.7zM164.5,161.9h0.7v0.7h-0.7zM219.0,115.8h0.7v0.7h-0.7zM166.4,155.8h0.7v0.7h-0.7zM177.2,153.7h0.7v0.7h-0.7zM218.7,127.2h0.7v0.7h-0.7zM218.8,137.4h0.7v0.7h-0.7zM174.5,153.0h0.7v0.7h-0.7zM179.4,142.4h0.7v0.7h-0.7zM218.5,123.4h0.7v0.7h-0.7zM212.4,116.3h0.7v0.7h-0.7zM214.3,124.6h0.7v0.7h-0.7zM183.4,144.4h0.7v0.7h-0.7zM214.9,131.5h0.7v0.7h-0.7zM192.5,144.2h0.7v0.7h-0.7zM194.1,146.2h0.7v0.7h-0.7zM173.5,168.3h0.7v0.7h-0.7zM181.7,143.8h0.7v0.7h-0.7zM171.6,151.2h0.7v0.7h-0.7zM163.5,146.7h0.7v0.7h-0.7zM182.8,142.0h0.7v0.7h-0.7zM220.7,133.9h0.7v0.7h-0.7zM169.6,153.6h0.7v0.7h-0.7zM211.2,127.2h0.7v0.7h-0.7zM179.8,143.4h0.7v0.7h-0.7zM183.3,143.3h0.7v0.7h-0.7zM187.7,139.2h0.7v0.7h-0.7zM176.7,160.9h0.7v0.7h-0.7zM182.6,120.7h0.7v0.7h-0.7zM172.3,153.6h0.7v0.7h-0.7zM154.7,154.5h0.7v0.7h-0.7zM220.3,121.5h0.7v0.7h-0.7zM180.9,162.5h0.7v0.7h-0.7zM178.7,145.1h0.7v0.7h-0.7zM183.3,132.5h0.7v0.7h-0.7zM170.1,158.8h0.7v0.7h-0.7zM170.3,152.4h0.7v0.7h-0.7zM179.6,151.4h0.7v0.7h-0.7zM218.4,123.1h0.7v0.7h-0.7zM166.7,164.7h0.7v0.7h-0.7zM167.5,145.8h0.7v0.7h-0.7zM193.9,138.2h0.7v0.7h-0.7zM163.9,172.9h0.7v0.7h-0.7zM184.1,150.0h0.7v0.7h-0.7zM176.9,145.1h0.7v0.7h-0.7zM170.9,147.4h0.7v0.7h-0.7zM179.5,149.5h0.7v0.7h-0.7zM181.6,141.8h0.7v0.7h-0.7zM232.2,114.4h0.7v0.7h-0.7zM150.9,158.4h0.7v0.7h-0.7zM176.7,142.4h0.7v0.7h-0.7zM169.7,164.3h0.7v0.7h-0.7zM198.4,144.0h0.7v0.7h-0.7zM158.8,153.9h0.7v0.7h-0.7zM158.7,159.1h0.7v0.7h-0.7zM177.6,145.5h0.7v0.7h-0.7zM177.5,153.6h0.7v0.7h-0.7zM214.3,131.9h0.7v0.7h-0.7zM204.2,129.1h0.7v0.7h-0.7zM186.7,132.4h0.7v0.7h-0.7zM184.0,138.6h0.7v0.7h-0.7zM168.4,150.4h0.7v0.7h-0.7zM229.3,123.4h0.7v0.7h-0.7zM190.1,166.2h0.7v0.7h-0.7zM183.6,149.7h0.7v0.7h-0.7zM185.3,145.8h0.7v0.7h-0.7zM178.9,139.3h0.7v0.7h-0.7zM195.3,162.6h0.7v0.7h-0.7zM180.4,151.3h0.7v0.7h-0.7zM176.6,139.2h0.7v0.7h-0.7zM186.7,127.7h0.7v0.7h-0.7zM179.3,142.6h0.7v0.7h-0.7zM183.7,134.9h0.7v0.7h-0.7zM183.8,160.2h0.7v0.7h-0.7zM202.2,124.5h0.7v0.7h-0.7zM217.8,122.3h0.7v0.7h-0.7zM233.4,117.6h0.7v0.7h-0.7zM179.5,166.3h0.7v0.7h-0.7zM232.2,119.2h0.7v0.7h-0.7zM231.1,115.3h0.7v0.7h-0.7zM167.1,145.3h0.7v0.7h-0.7zM160.6,163.3h0.7v0.7h-0.7zM215.6,124.6h0.7v0.7h-0.7zM176.0,150.3h0.7v0.7h-0.7zM173.0,164.4h0.7v0.7h-0.7zM180.3,133.4h0.7v0.7h-0.7zM220.0,115.7h0.7v0.7h-0.7zM197.3,141.0h0.7v0.7h-0.7zM173.5,155.7h0.7v0.7h-0.7zM177.2,151.5h0.7v0.7h-0.7zM161.4,137.5h0.7v0.7h-0.7zM208.6,126.2h0.7v0.7h-0.7zM164.2,148.0h0.7v0.7h-0.7zM182.4,125.3h0.7v0.7h-0.7zM179.8,146.5h0.7v0.7h-0.7zM207.0,133.8h0.7v0.7h-0.7zM168.9,156.7h0.7v0.7h-0.7zM188.1,127.0h0.7v0.7h-0.7zM228.7,123.6h0.7v0.7h-0.7zM173.4,153.6h0.7v0.7h-0.7zM167.0,150.2h0.7v0.7h-0.7zM207.7,133.6h0.7v0.7h-0.7zM208.8,132.8h0.7v0.7h-0.7zM174.5,150.4h0.7v0.7h-0.7zM175.2,165.3h0.7v0.7h-0.7zM170.1,149.1h0.7v0.7h-0.7zM172.0,139.6h0.7v0.7h-0.7zM183.7,137.7h0.7v0.7h-0.7zM182.9,130.1h0.7v0.7h-0.7zM193.9,162.8h0.7v0.7h-0.7zM186.7,136.7h0.7v0.7h-0.7zM194.5,139.5h0.7v0.7h-0.7zM193.3,130.5h0.7v0.7h-0.7zM232.2,121.0h0.7v0.7h-0.7zM190.2,150.4h0.7v0.7h-0.7zM195.8,130.9h0.7v0.7h-0.7zM177.1,149.4h0.7v0.7h-0.7zM174.4,158.8h0.7v0.7h-0.7zM161.2,146.4h0.7v0.7h-0.7zM169.9,154.9h0.7v0.7h-0.7zM192.0,147.9h0.7v0.7h-0.7zM213.4,140.5h0.7v0.7h-0.7zM202.9,139.8h0.7v0.7h-0.7zM224.2,117.2h0.7v0.7h-0.7zM235.6,122.7h0.7v0.7h-0.7zM185.6,135.2h0.7v0.7h-0.7zM183.8,150.1h0.7v0.7h-0.7zM215.3,129.0h0.7v0.7h-0.7zM193.8,139.4h0.7v0.7h-0.7zM186.5,136.4h0.7v0.7h-0.7zM156.5,160.5h0.7v0.7h-0.7zM215.1,123.7h0.7v0.7h-0.7zM201.2,139.7h0.7v0.7h-0.7zM197.4,152.9h0.7v0.7h-0.7zM167.9,167.2h0.7v0.7h-0.7zM184.9,150.8h0.7v0.7h-0.7zM203.7,133.5h0.7v0.7h-0.7zM171.6,157.2h0.7v0.7h-0.7zM191.7,133.7h0.7v0.7h-0.7zM196.7,125.4h0.7v0.7h-0.7zM174.2,161.4h0.7v0.7h-0.7zM189.2,150.4h0.7v0.7h-0.7zM215.8,127.6h0.7v0.7h-0.7zM166.1,154.1h0.7v0.7h-0.7zM215.2,132.7h0.7v0.7h-0.7zM167.0,149.7h0.7v0.7h-0.7zM177.5,165.7h0.7v0.7h-0.7zM181.3,145.4h0.7v0.7h-0.7zM219.8,131.5h0.7v0.7h-0.7zM181.8,150.2h0.7v0.7h-0.7zM198.5,147.4h0.7v0.7h-0.7zM211.9,123.4h0.7v0.7h-0.7zM206.3,139.8h0.7v0.7h-0.7zM183.6,135.7h0.7v0.7h-0.7zM182.7,143.3h0.7v0.7h-0.7zM178.5,147.9h0.7v0.7h-0.7zM165.3,148.9h0.7v0.7h-0.7zM209.0,126.9h0.7v0.7h-0.7zM203.9,152.6h0.7v0.7h-0.7zM182.1,136.8h0.7v0.7h-0.7zM163.6,147.1h0.7v0.7h-0.7zM181.0,144.1h0.7v0.7h-0.7zM186.5,128.1h0.7v0.7h-0.7zM163.6,164.0h0.7v0.7h-0.7zM173.2,154.2h0.7v0.7h-0.7zM168.2,159.3h0.7v0.7h-0.7zM179.4,149.8h0.7v0.7h-0.7zM198.0,153.5h0.7v0.7h-0.7zM195.5,130.1h0.7v0.7h-0.7zM215.4,132.6h0.7v0.7h-0.7zM214.9,130.2h0.7v0.7h-0.7zM204.6,124.8h0.7v0.7h-0.7zM161.3,161.2h0.7v0.7h-0.7zM164.3,164.6h0.7v0.7h-0.7zM203.0,142.5h0.7v0.7h-0.7zM182.0,151.3h0.7v0.7h-0.7zM230.2,116.4h0.7v0.7h-0.7zM180.7,146.6h0.7v0.7h-0.7zM200.3,136.7h0.7v0.7h-0.7zM170.5,147.9h0.7v0.7h-0.7zM168.2,148.2h0.7v0.7h-0.7zM219.1,129.7h0.7v0.7h-0.7zM211.5,131.7h0.7v0.7h-0.7zM169.8,154.3h0.7v0.7h-0.7zM167.2,147.3h0.7v0.7h-0.7zM224.7,122.6h0.7v0.7h-0.7zM213.2,133.3h0.7v0.7h-0.7zM202.9,149.0h0.7v0.7h-0.7zM216.2,133.9h0.7v0.7h-0.7zM182.5,133.1h0.7v0.7h-0.7zM163.7,155.4h0.7v0.7h-0.7zM174.5,148.1h0.7v0.7h-0.7zM209.1,137.5h0.7v0.7h-0.7zM174.3,158.4h0.7v0.7h-0.7zM159.2,158.7h0.7v0.7h-0.7zM195.7,138.7h0.7v0.7h-0.7zM226.9,114.1h0.7v0.7h-0.7zM178.2,145.7h0.7v0.7h-0.7zM181.9,154.7h0.7v0.7h-0.7zM215.1,132.3h0.7v0.7h-0.7zM202.8,136.5h0.7v0.7h-0.7zM183.5,134.8h0.7v0.7h-0.7zM172.2,154.9h0.7v0.7h-0.7zM177.1,148.7h0.7v0.7h-0.7zM223.1,120.0h0.7v0.7h-0.7zM172.0,148.6h0.7v0.7h-0.7zM207.3,136.5h0.7v0.7h-0.7zM184.5,150.0h0.7v0.7h-0.7zM207.3,135.1h0.7v0.7h-0.7zM208.2,137.2h0.7v0.7h-0.7zM219.5,126.0h0.7v0.7h-0.7zM193.0,134.6h0.7v0.7h-0.7zM225.3,115.0h0.7v0.7h-0.7zM220.0,121.9h0.7v0.7h-0.7zM199.2,142.3h0.7v0.7h-0.7zM223.5,119.4h0.7v0.7h-0.7zM182.8,125.8h0.7v0.7h-0.7zM177.9,152.2h0.7v0.7h-0.7zM201.0,136.1h0.7v0.7h-0.7zM232.0,113.4h0.7v0.7h-0.7zM162.5,167.4h0.7v0.7h-0.7zM220.1,125.4h0.7v0.7h-0.7zM176.3,156.2h0.7v0.7h-0.7zM175.0,153.9h0.7v0.7h-0.7zM179.3,146.2h0.7v0.7h-0.7zM174.1,134.1h0.7v0.7h-0.7zM158.9,162.4h0.7v0.7h-0.7zM165.0,164.6h0.7v0.7h-0.7zM172.5,154.1h0.7v0.7h-0.7zM174.1,149.3h0.7v0.7h-0.7zM211.8,131.7h0.7v0.7h-0.7zM221.3,118.3h0.7v0.7h-0.7zM188.3,141.8h0.7v0.7h-0.7zM199.7,149.7h0.7v0.7h-0.7zM162.0,157.8h0.7v0.7h-0.7zM185.4,143.7h0.7v0.7h-0.7zM182.5,145.4h0.7v0.7h-0.7zM168.3,151.1h0.7v0.7h-0.7zM232.3,123.5h0.7v0.7h-0.7zM179.9,149.1h0.7v0.7h-0.7zM177.7,149.7h0.7v0.7h-0.7zM218.1,123.9h0.7v0.7h-0.7zM209.7,124.9h0.7v0.7h-0.7zM185.0,133.7h0.7v0.7h-0.7zM192.1,130.5h0.7v0.7h-0.7zM196.4,140.8h0.7v0.7h-0.7zM181.6,147.3h0.7v0.7h-0.7zM224.8,116.7h0.7v0.7h-0.7zM193.5,145.0h0.7v0.7h-0.7zM204.0,133.6h0.7v0.7h-0.7zM193.7,132.8h0.7v0.7h-0.7zM216.0,131.8h0.7v0.7h-0.7zM219.5,126.0h0.7v0.7h-0.7zM181.9,143.1h0.7v0.7h-0.7zM201.3,153.6h0.7v0.7h-0.7zM203.5,135.9h0.7v0.7h-0.7zM217.5,129.4h0.7v0.7h-0.7zM222.5,138.5h0.7v0.7h-0.7zM175.0,163.0h0.7v0.7h-0.7zM219.1,122.2h0.7v0.7h-0.7zM225.4,122.8h0.7v0.7h-0.7zM165.2,144.2h0.7v0.7h-0.7zM230.8,118.6h0.7v0.7h-0.7zM215.0,132.2h0.7v0.7h-0.7zM226.8,114.7h0.7v0.7h-0.7zM180.2,136.1h0.7v0.7h-0.7zM179.5,150.5h0.7v0.7h-0.7zM208.7,128.3h0.7v0.7h-0.7zM222.5,129.2h0.7v0.7h-0.7zM179.0,158.0h0.7v0.7h-0.7zM223.3,113.0h0.7v0.7h-0.7zM162.0,163.4h0.7v0.7h-0.7zM184.6,136.7h0.7v0.7h-0.7zM219.5,117.8h0.7v0.7h-0.7zM160.7,163.5h0.7v0.7h-0.7zM188.7,140.7h0.7v0.7h-0.7zM179.3,151.3h0.7v0.7h-0.7zM222.6,130.6h0.7v0.7h-0.7zM187.2,151.2h0.7v0.7h-0.7zM198.8,123.6h0.7v0.7h-0.7zM163.3,156.2h0.7v0.7h-0.7zM174.9,177.9h0.7v0.7h-0.7zM176.8,150.9h0.7v0.7h-0.7zM172.5,153.6h0.7v0.7h-0.7zM185.8,122.9h0.7v0.7h-0.7zM231.2,129.3h0.7v0.7h-0.7zM217.5,121.3h0.7v0.7h-0.7zM176.7,145.2h0.7v0.7h-0.7zM198.5,144.9h0.7v0.7h-0.7zM229.2,120.1h0.7v0.7h-0.7zM185.2,145.1h0.7v0.7h-0.7zM161.2,164.4h0.7v0.7h-0.7zM178.8,154.2h0.7v0.7h-0.7zM199.3,137.4h0.7v0.7h-0.7zM213.9,123.7h0.7v0.7h-0.7zM155.8,157.1h0.7v0.7h-0.7zM202.8,153.4h0.7v0.7h-0.7zM176.0,132.1h0.7v0.7h-0.7zM235.2,124.0h0.7v0.7h-0.7zM189.1,143.3h0.7v0.7h-0.7zM233.2,113.3h0.7v0.7h-0.7zM230.5,117.8h0.7v0.7h-0.7zM225.0,122.9h0.7v0.7h-0.7zM182.9,143.5h0.7v0.7h-0.7zM158.5,160.5h0.7v0.7h-0.7zM223.1,129.9h0.7v0.7h-0.7zM209.8,129.7h0.7v0.7h-0.7zM215.7,131.5h0.7v0.7h-0.7zM205.6,137.7h0.7v0.7h-0.7zM201.9,134.7h0.7v0.7h-0.7zM218.0,131.4h0.7v0.7h-0.7zM165.7,151.2h0.7v0.7h-0.7zM189.4,145.5h0.7v0.7h-0.7zM230.4,115.8h0.7v0.7h-0.7zM167.4,140.3h0.7v0.7h-0.7zM186.3,164.7h0.7v0.7h-0.7zM162.5,150.0h0.7v0.7h-0.7zM208.2,129.1h0.7v0.7h-0.7zM184.5,142.0h0.7v0.7h-0.7zM227.0,120.4h0.7v0.7h-0.7zM172.2,139.6h0.7v0.7h-0.7zM162.2,171.4h0.7v0.7h-0.7zM164.1,170.0h0.7v0.7h-0.7zM191.9,142.6h0.7v0.7h-0.7zM190.2,141.7h0.7v0.7h-0.7zM217.7,125.7h0.7v0.7h-0.7zM175.7,151.9h0.7v0.7h-0.7zM168.0,154.7h0.7v0.7h-0.7zM197.1,144.5h0.7v0.7h-0.7zM182.7,142.3h0.7v0.7h-0.7zM226.7,119.7h0.7v0.7h-0.7zM177.4,153.4h0.7v0.7h-0.7zM173.9,152.3h0.7v0.7h-0.7zM205.5,133.4h0.7v0.7h-0.7zM228.9,127.1h0.7v0.7h-0.7zM155.5,163.1h0.7v0.7h-0.7zM182.2,143.4h0.7v0.7h-0.7zM197.1,147.6h0.7v0.7h-0.7zM216.8,121.7h0.7v0.7h-0.7zM226.5,117.2h0.7v0.7h-0.7zM223.6,114.4h0.7v0.7h-0.7zM222.4,124.3h0.7v0.7h-0.7zM159.6,167.0h0.7v0.7h-0.7zM189.3,128.2h0.7v0.7h-0.7zM206.0,130.4h0.7v0.7h-0.7zM220.7,126.9h0.7v0.7h-0.7zM225.1,122.0h0.7v0.7h-0.7zM163.9,148.5h0.7v0.7h-0.7zM185.7,148.7h0.7v0.7h-0.7zM157.5,158.7h0.7v0.7h-0.7zM199.8,136.6h0.7v0.7h-0.7zM197.4,156.5h0.7v0.7h-0.7zM213.6,131.3h0.7v0.7h-0.7zM224.8,116.5h0.7v0.7h-0.7zM177.5,160.5h0.7v0.7h-0.7zM160.3,158.9h0.7v0.7h-0.7zM187.7,159.0h0.7v0.7h-0.7zM224.2,121.0h0.7v0.7h-0.7zM203.9,133.6h0.7v0.7h-0.7zM215.6,131.8h0.7v0.7h-0.7zM181.3,155.9h0.7v0.7h-0.7zM168.8,168.2h0.7v0.7h-0.7zM180.5,146.4h0.7v0.7h-0.7zM167.0,157.7h0.7v0.7h-0.7zM160.1,158.7h0.7v0.7h-0.7zM219.4,127.3h0.7v0.7h-0.7zM190.1,144.2h0.7v0.7h-0.7zM182.9,145.7h0.7v0.7h-0.7zM193.3,129.0h0.7v0.7h-0.7zM177.5,144.0h0.7v0.7h-0.7zM167.0,146.7h0.7v0.7h-0.7zM185.1,138.4h0.7v0.7h-0.7zM168.6,154.3h0.7v0.7h-0.7zM224.9,125.5h0.7v0.7h-0.7zM160.4,157.6h0.7v0.7h-0.7zM223.2,113.4h0.7v0.7h-0.7zM175.3,149.5h0.7v0.7h-0.7zM166.2,142.3h0.7v0.7h-0.7zM171.1,166.7h0.7v0.7h-0.7zM221.8,114.8h0.7v0.7h-0.7zM194.5,139.2h0.7v0.7h-0.7zM179.5,156.5h0.7v0.7h-0.7zM178.7,153.8h0.7v0.7h-0.7zM191.9,156.5h0.7v0.7h-0.7zM205.0,133.4h0.7v0.7h-0.7zM159.5,146.2h0.7v0.7h-0.7zM178.7,137.8h0.7v0.7h-0.7zM217.7,130.5h0.7v0.7h-0.7zM214.9,127.4h0.7v0.7h-0.7zM163.1,140.2h0.7v0.7h-0.7zM225.7,120.4h0.7v0.7h-0.7zM209.7,125.8h0.7v0.7h-0.7zM182.3,134.2h0.7v0.7h-0.7zM158.0,163.7h0.7v0.7h-0.7zM155.2,160.9h0.7v0.7h-0.7zM162.7,163.9h0.7v0.7h-0.7zM179.5,129.0h0.7v0.7h-0.7zM176.0,138.7h0.7v0.7h-0.7zM173.1,140.7h0.7v0.7h-0.7zM204.7,135.6h0.7v0.7h-0.7zM221.8,125.0h0.7v0.7h-0.7zM186.6,150.2h0.7v0.7h-0.7zM185.9,152.5h0.7v0.7h-0.7zM209.9,124.8h0.7v0.7h-0.7zM221.4,120.8h0.7v0.7h-0.7zM162.1,159.4h0.7v0.7h-0.7zM179.5,136.6h0.7v0.7h-0.7zM227.4,124.2h0.7v0.7h-0.7zM233.0,114.9h0.7v0.7h-0.7zM185.9,131.1h0.7v0.7h-0.7zM169.2,155.3h0.7v0.7h-0.7zM218.2,126.8h0.7v0.7h-0.7zM223.3,114.6h0.7v0.7h-0.7zM202.6,157.8h0.7v0.7h-0.7zM187.1,138.0h0.7v0.7h-0.7zM197.7,146.5h0.7v0.7h-0.7zM181.1,137.7h0.7v0.7h-0.7zM223.7,130.5h0.7v0.7h-0.7zM170.5,146.5h0.7v0.7h-0.7zM205.8,138.6h0.7v0.7h-0.7zM209.7,132.2h0.7v0.7h-0.7zM161.9,163.9h0.7v0.7h-0.7zM180.5,140.2h0.7v0.7h-0.7zM232.8,118.8h0.7v0.7h-0.7zM219.2,132.6h0.7v0.7h-0.7zM215.6,129.8h0.7v0.7h-0.7zM220.8,124.5h0.7v0.7h-0.7zM206.5,137.1h0.7v0.7h-0.7zM188.9,152.9h0.7v0.7h-0.7zM195.8,134.0h0.7v0.7h-0.7zM233.1,125.5h0.7v0.7h-0.7zM227.2,127.6h0.7v0.7h-0.7zM213.0,129.5h0.7v0.7h-0.7zM183.7,139.7h0.7v0.7h-0.7zM197.9,153.9h0.7v0.7h-0.7zM197.1,159.6h0.7v0.7h-0.7zM166.6,145.8h0.7v0.7h-0.7zM176.1,156.9h0.7v0.7h-0.7zM186.2,137.6h0.7v0.7h-0.7zM168.6,145.0h0.7v0.7h-0.7zM204.3,137.4h0.7v0.7h-0.7zM176.8,143.0h0.7v0.7h-0.7zM164.7,147.3h0.7v0.7h-0.7zM178.8,131.2h0.7v0.7h-0.7zM179.7,134.8h0.7v0.7h-0.7zM233.7,132.3h0.7v0.7h-0.7zM216.2,126.8h0.7v0.7h-0.7zM194.4,146.0h0.7v0.7h-0.7zM225.1,121.8h0.7v0.7h-0.7zM187.6,137.2h0.7v0.7h-0.7zM159.5,172.7h0.7v0.7h-0.7zM162.7,153.1h0.7v0.7h-0.7zM231.4,117.1h0.7v0.7h-0.7zM196.4,133.6h0.7v0.7h-0.7zM215.9,125.6h0.7v0.7h-0.7zM172.5,140.7h0.7v0.7h-0.7zM201.6,136.8h0.7v0.7h-0.7zM180.3,141.4h0.7v0.7h-0.7zM176.4,152.9h0.7v0.7h-0.7zM214.0,136.0h0.7v0.7h-0.7zM156.8,155.4h0.7v0.7h-0.7zM201.4,132.0h0.7v0.7h-0.7zM223.9,127.4h0.7v0.7h-0.7zM189.9,140.6h0.7v0.7h-0.7zM178.0,146.2h0.7v0.7h-0.7zM171.1,151.4h0.7v0.7h-0.7zM164.8,161.1h0.7v0.7h-0.7zM206.4,137.6h0.7v0.7h-0.7zM182.0,135.1h0.7v0.7h-0.7zM192.6,140.8h0.7v0.7h-0.7zM173.3,160.4h0.7v0.7h-0.7zM177.3,147.5h0.7v0.7h-0.7zM158.5,157.4h0.7v0.7h-0.7zM159.1,160.5h0.7v0.7h-0.7zM157.6,161.1h0.7v0.7h-0.7zM180.0,144.9h0.7v0.7h-0.7zM187.3,148.8h0.7v0.7h-0.7zM168.9,155.0h0.7v0.7h-0.7zM199.0,140.3h0.7v0.7h-0.7zM222.1,128.0h0.7v0.7h-0.7zM179.4,149.6h0.7v0.7h-0.7zM224.1,124.1h0.7v0.7h-0.7zM167.6,159.3h0.7v0.7h-0.7zM176.5,141.9h0.7v0.7h-0.7zM182.5,126.0h0.7v0.7h-0.7zM184.8,150.7h0.7v0.7h-0.7zM169.7,163.1h0.7v0.7h-0.7zM209.8,131.3h0.7v0.7h-0.7zM191.6,134.6h0.7v0.7h-0.7zM190.2,140.1h0.7v0.7h-0.7zM215.5,130.2h0.7v0.7h-0.7zM177.8,144.9h0.7v0.7h-0.7zM211.4,127.0h0.7v0.7h-0.7zM181.1,143.2h0.7v0.7h-0.7zM177.2,154.6h0.7v0.7h-0.7zM221.2,118.4h0.7v0.7h-0.7zM167.1,149.4h0.7v0.7h-0.7zM206.9,140.1h0.7v0.7h-0.7zM167.9,156.1h0.7v0.7h-0.7zM177.1,160.9h0.7v0.7h-0.7zM220.7,135.7h0.7v0.7h-0.7zM183.1,141.4h0.7v0.7h-0.7zM180.8,135.7h0.7v0.7h-0.7zM232.0,114.7h0.7v0.7h-0.7zM156.7,153.5h0.7v0.7h-0.7zM218.4,123.0h0.7v0.7h-0.7zM179.8,162.1h0.7v0.7h-0.7zM197.4,129.6h0.7v0.7h-0.7zM175.5,138.3h0.7v0.7h-0.7zM221.8,118.6h0.7v0.7h-0.7zM170.7,149.0h0.7v0.7h-0.7zM223.1,123.4h0.7v0.7h-0.7zM186.1,156.4h0.7v0.7h-0.7zM225.7,119.6h0.7v0.7h-0.7zM209.2,151.2h0.7v0.7h-0.7zM174.5,151.4h0.7v0.7h-0.7zM190.3,114.1h0.7v0.7h-0.7zM165.6,147.5h0.7v0.7h-0.7zM159.4,158.3h0.7v0.7h-0.7zM217.3,116.0h0.7v0.7h-0.7zM231.1,120.7h0.7v0.7h-0.7zM219.0,122.9h0.7v0.7h-0.7zM179.6,161.0h0.7v0.7h-0.7zM209.2,125.7h0.7v0.7h-0.7zM171.5,143.5h0.7v0.7h-0.7zM216.1,131.7h0.7v0.7h-0.7zM179.9,152.4h0.7v0.7h-0.7zM231.4,112.6h0.7v0.7h-0.7zM184.3,161.8h0.7v0.7h-0.7zM202.0,131.4h0.7v0.7h-0.7zM184.0,155.3h0.7v0.7h-0.7zM170.9,162.2h0.7v0.7h-0.7zM189.4,147.2h0.7v0.7h-0.7zM182.6,147.2h0.7v0.7h-0.7zM176.4,153.3h0.7v0.7h-0.7zM227.8,123.3h0.7v0.7h-0.7zM165.5,143.7h0.7v0.7h-0.7zM162.4,149.8h0.7v0.7h-0.7zM202.7,138.7h0.7v0.7h-0.7zM227.6,128.9h0.7v0.7h-0.7zM219.4,133.5h0.7v0.7h-0.7zM208.5,140.3h0.7v0.7h-0.7zM181.9,148.7h0.7v0.7h-0.7zM179.0,152.5h0.7v0.7h-0.7zM170.2,156.3h0.7v0.7h-0.7zM187.1,139.3h0.7v0.7h-0.7zM184.7,156.1h0.7v0.7h-0.7zM176.2,150.8h0.7v0.7h-0.7zM193.0,136.5h0.7v0.7h-0.7zM204.2,139.5h0.7v0.7h-0.7zM181.8,170.7h0.7v0.7h-0.7zM185.4,147.4h0.7v0.7h-0.7zM221.7,122.6h0.7v0.7h-0.7zM182.0,145.5h0.7v0.7h-0.7zM176.3,147.0h0.7v0.7h-0.7zM161.8,146.8h0.7v0.7h-0.7zM177.4,147.0h0.7v0.7h-0.7zM216.1,134.9h0.7v0.7h-0.7zM168.5,156.5h0.7v0.7h-0.7zM178.0,160.3h0.7v0.7h-0.7zM174.9,171.5h0.7v0.7h-0.7zM222.5,138.1h0.7v0.7h-0.7zM184.3,148.6h0.7v0.7h-0.7zM190.3,165.3h0.7v0.7h-0.7zM182.6,158.4h0.7v0.7h-0.7zM177.0,154.1h0.7v0.7h-0.7zM204.0,137.9h0.7v0.7h-0.7zM180.2,154.7h0.7v0.7h-0.7zM183.2,143.8h0.7v0.7h-0.7zM219.4,128.4h0.7v0.7h-0.7zM226.8,121.2h0.7v0.7h-0.7zM200.6,135.7h0.7v0.7h-0.7zM210.4,144.5h0.7v0.7h-0.7zM174.4,150.5h0.7v0.7h-0.7zM193.7,131.8h0.7v0.7h-0.7zM229.8,123.4h0.7v0.7h-0.7zM225.1,120.5h0.7v0.7h-0.7zM217.6,129.0h0.7v0.7h-0.7zM179.8,146.6h0.7v0.7h-0.7zM162.8,169.0h0.7v0.7h-0.7zM225.9,118.6h0.7v0.7h-0.7zM176.8,139.0h0.7v0.7h-0.7zM214.1,127.7h0.7v0.7h-0.7zM167.7,156.7h0.7v0.7h-0.7zM165.3,152.2h0.7v0.7h-0.7zM172.6,143.3h0.7v0.7h-0.7zM165.4,155.0h0.7v0.7h-0.7zM181.7,125.5h0.7v0.7h-0.7zM208.2,124.4h0.7v0.7h-0.7zM206.8,134.7h0.7v0.7h-0.7zM224.0,115.9h0.7v0.7h-0.7zM205.0,129.6h0.7v0.7h-0.7zM174.7,143.6h0.7v0.7h-0.7zM203.6,145.9h0.7v0.7h-0.7zM224.4,116.4h0.7v0.7h-0.7zM235.3,120.4h0.7v0.7h-0.7zM165.6,159.3h0.7v0.7h-0.7zM182.8,151.2h0.7v0.7h-0.7zM211.4,133.5h0.7v0.7h-0.7zM178.4,150.8h0.7v0.7h-0.7zM175.0,149.6h0.7v0.7h-0.7zM186.9,142.0h0.7v0.7h-0.7zM219.3,122.7h0.7v0.7h-0.7zM217.3,131.1h0.7v0.7h-0.7zM220.7,119.6h0.7v0.7h-0.7zM188.3,134.3h0.7v0.7h-0.7zM218.3,124.8h0.7v0.7h-0.7zM163.0,158.4h0.7v0.7h-0.7zM205.0,145.2h0.7v0.7h-0.7zM196.2,152.4h0.7v0.7h-0.7zM215.5,125.5h0.7v0.7h-0.7zM177.2,135.0h0.7v0.7h-0.7zM177.3,146.5h0.7v0.7h-0.7zM174.1,131.3h0.7v0.7h-0.7zM190.2,135.5h0.7v0.7h-0.7zM192.9,168.3h0.7v0.7h-0.7zM152.3,151.4h0.7v0.7h-0.7zM219.1,123.5h0.7v0.7h-0.7zM176.4,132.8h0.7v0.7h-0.7zM206.9,157.7h0.7v0.7h-0.7zM173.6,161.7h0.7v0.7h-0.7zM173.1,159.5h0.7v0.7h-0.7zM226.0,122.2h0.7v0.7h-0.7zM207.7,128.3h0.7v0.7h-0.7zM204.8,129.6h0.7v0.7h-0.7zM184.3,145.0h0.7v0.7h-0.7zM182.9,148.6h0.7v0.7h-0.7zM178.4,142.9h0.7v0.7h-0.7zM183.4,154.3h0.7v0.7h-0.7zM199.4,133.8h0.7v0.7h-0.7zM183.9,158.0h0.7v0.7h-0.7zM190.7,146.1h0.7v0.7h-0.7zM228.5,119.5h0.7v0.7h-0.7zM211.4,129.0h0.7v0.7h-0.7zM177.1,153.5h0.7v0.7h-0.7zM172.5,162.7h0.7v0.7h-0.7zM183.2,143.9h0.7v0.7h-0.7zM182.0,152.6h0.7v0.7h-0.7zM202.9,132.7h0.7v0.7h-0.7zM204.1,139.9h0.7v0.7h-0.7zM182.9,146.8h0.7v0.7h-0.7zM178.9,148.0h0.7v0.7h-0.7zM210.3,126.5h0.7v0.7h-0.7zM188.5,140.0h0.7v0.7h-0.7zM209.6,133.6h0.7v0.7h-0.7zM167.0,158.7h0.7v0.7h-0.7zM193.1,141.4h0.7v0.7h-0.7zM171.7,143.4h0.7v0.7h-0.7zM204.5,141.7h0.7v0.7h-0.7zM163.7,163.1h0.7v0.7h-0.7zM163.6,168.1h0.7v0.7h-0.7zM208.5,128.9h0.7v0.7h-0.7zM205.8,125.9h0.7v0.7h-0.7zM171.3,155.0h0.7v0.7h-0.7zM227.9,118.4h0.7v0.7h-0.7zM176.7,145.2h0.7v0.7h-0.7zM214.5,132.0h0.7v0.7h-0.7zM212.6,140.5h0.7v0.7h-0.7zM184.0,153.8h0.7v0.7h-0.7zM193.5,137.7h0.7v0.7h-0.7zM173.0,159.7h0.7v0.7h-0.7zM223.9,115.5h0.7v0.7h-0.7zM167.7,152.0h0.7v0.7h-0.7zM176.1,159.7h0.7v0.7h-0.7zM220.0,124.4h0.7v0.7h-0.7zM200.0,139.8h0.7v0.7h-0.7zM171.3,144.1h0.7v0.7h-0.7zM156.9,171.3h0.7v0.7h-0.7zM186.5,156.0h0.7v0.7h-0.7zM201.0,161.0h0.7v0.7h-0.7zM198.1,164.8h0.7v0.7h-0.7zM226.9,118.6h0.7v0.7h-0.7zM226.2,119.5h0.7v0.7h-0.7zM206.8,144.5h0.7v0.7h-0.7zM218.5,130.4h0.7v0.7h-0.7zM187.1,141.3h0.7v0.7h-0.7zM164.9,156.9h0.7v0.7h-0.7zM231.4,120.4h0.7v0.7h-0.7zM177.0,150.9h0.7v0.7h-0.7zM230.6,121.3h0.7v0.7h-0.7zM173.4,158.3h0.7v0.7h-0.7zM163.4,158.3h0.7v0.7h-0.7zM176.1,148.5h0.7v0.7h-0.7zM180.0,139.8h0.7v0.7h-0.7zM174.4,146.5h0.7v0.7h-0.7zM185.7,154.2h0.7v0.7h-0.7zM204.9,138.8h0.7v0.7h-0.7zM156.3,158.1h0.7v0.7h-0.7zM197.7,137.1h0.7v0.7h-0.7zM211.3,145.6h0.7v0.7h-0.7zM176.0,149.7h0.7v0.7h-0.7zM213.8,120.3h0.7v0.7h-0.7zM170.8,141.2h0.7v0.7h-0.7zM227.8,125.8h0.7v0.7h-0.7zM224.7,119.4h0.7v0.7h-0.7zM226.3,116.9h0.7v0.7h-0.7zM216.6,130.7h0.7v0.7h-0.7zM220.2,129.6h0.7v0.7h-0.7zM189.8,141.5h0.7v0.7h-0.7zM161.7,161.4h0.7v0.7h-0.7zM202.0,155.7h0.7v0.7h-0.7zM204.9,128.3h0.7v0.7h-0.7zM220.0,130.7h0.7v0.7h-0.7zM226.3,119.9h0.7v0.7h-0.7zM201.1,133.7h0.7v0.7h-0.7zM166.8,148.2h0.7v0.7h-0.7zM170.1,150.3h0.7v0.7h-0.7zM186.3,150.8h0.7v0.7h-0.7zM233.1,123.5h0.7v0.7h-0.7zM175.1,149.4h0.7v0.7h-0.7zM222.7,126.2h0.7v0.7h-0.7zM173.8,138.8h0.7v0.7h-0.7zM172.7,150.5h0.7v0.7h-0.7zM200.7,155.0h0.7v0.7h-0.7zM169.4,157.2h0.7v0.7h-0.7zM174.8,139.8h0.7v0.7h-0.7zM221.1,118.7h0.7v0.7h-0.7zM220.3,127.0h0.7v0.7h-0.7zM171.5,152.8h0.7v0.7h-0.7zM173.6,161.0h0.7v0.7h-0.7zM218.7,128.9h0.7v0.7h-0.7zM171.7,148.8h0.7v0.7h-0.7zM171.6,157.0h0.7v0.7h-0.7zM227.0,123.5h0.7v0.7h-0.7zM191.4,143.8h0.7v0.7h-0.7zM169.6,140.0h0.7v0.7h-0.7zM154.8,173.7h0.7v0.7h-0.7zM206.8,153.9h0.7v0.7h-0.7zM224.2,127.4h0.7v0.7h-0.7zM193.6,136.6h0.7v0.7h-0.7zM179.0,145.5h0.7v0.7h-0.7zM175.7,141.1h0.7v0.7h-0.7zM213.3,134.0h0.7v0.7h-0.7zM196.5,141.0h0.7v0.7h-0.7zM217.2,128.2h0.7v0.7h-0.7zM220.6,122.2h0.7v0.7h-0.7zM183.0,140.6h0.7v0.7h-0.7zM220.5,123.3h0.7v0.7h-0.7zM209.2,123.5h0.7v0.7h-0.7zM225.2,123.1h0.7v0.7h-0.7zM192.6,151.0h0.7v0.7h-0.7zM221.8,134.8h0.7v0.7h-0.7zM201.9,122.9h0.7v0.7h-0.7zM207.3,131.5h0.7v0.7h-0.7zM211.5,132.0h0.7v0.7h-0.7zM167.1,156.4h0.7v0.7h-0.7zM185.8,147.0h0.7v0.7h-0.7zM169.4,149.5h0.7v0.7h-0.7z" fill="#a0a0a0" stroke="none" stroke-width="0"/>
<path d="M164.4,167.8 L163.6,168.0 L162.8,168.0 L162.0,168.0 L161.2,167.9 L160.4,167.7 L160.0,167.5 L159.5,167.3 L158.9,166.9 L158.5,166.5 L158.1,166.1 L157.8,165.7 L157.6,165.3 L157.2,164.5 L157.1,164.1 L156.9,163.3 L156.9,162.5 L156.9,161.7 L156.9,160.9 L157.1,160.1 L157.2,159.6 L157.4,158.9 L157.6,158.1 L157.7,157.7 L158.0,156.9 L158.1,156.5 L158.4,155.7 L158.6,155.3 L158.8,154.7 L159.1,154.1 L159.2,153.7 L159.6,153.0 L159.8,152.5 L160.0,152.1 L160.4,151.5 L160.8,150.9 L161.0,150.5 L161.3,150.1 L161.6,149.6 L162.0,149.1 L162.4,148.5 L162.8,148.1 L163.1,147.7 L163.4,147.3 L163.8,146.9 L164.1,146.5 L164.5,146.1 L164.9,145.7 L165.3,145.3 L165.7,144.9 L166.1,144.5 L166.5,144.1 L166.9,143.7 L167.3,143.3 L167.7,142.9 L168.2,142.5 L168.6,142.1 L169.0,141.7 L169.5,141.3 L169.9,140.9 L170.4,140.5 L170.8,140.1 L171.2,139.8 L171.6,139.4 L172.0,139.1 L172.4,138.8 L172.8,138.4 L173.2,138.1 L173.7,137.7 L174.2,137.3 L174.8,136.9 L175.2,136.6 L175.6,136.3 L176.0,136.0 L176.5,135.7 L177.1,135.3 L177.6,135.0 L178.0,134.7 L178.4,134.5 L179.1,134.1 L179.6,133.9 L180.0,133.7 L180.8,133.3 L181.2,133.1 L181.7,132.9 L182.4,132.6 L182.8,132.5 L183.6,132.2 L184.1,132.1 L184.8,131.9 L185.6,131.7 L186.0,131.7 L186.8,131.5 L187.6,131.5 L188.4,131.4 L189.2,131.4 L190.0,131.4 L190.8,131.5 L191.6,131.6 L192.3,131.7 L192.8,131.8 L193.6,132.0 L194.2,132.1 L194.8,132.2 L195.6,132.4 L196.0,132.5 L196.8,132.7 L197.6,132.7 L198.4,132.6 L198.8,132.5 L199.6,132.2 L200.0,132.0 L200.4,131.7 L201.0,131.3 L201.5,130.9 L202.0,130.5 L202.4,130.1 L202.8,129.8 L203.2,129.4 L203.6,129.0 L204.0,128.6 L204.4,128.3 L204.8,127.9 L205.2,127.5 L205.6,127.1 L206.0,126.8 L206.4,126.4 L206.8,126.1 L207.2,125.7 L207.7,125.3 L208.1,124.9 L208.6,124.5 L209.1,124.1 L209.6,123.7 L210.0,123.4 L210.4,123.1 L210.8,122.8 L211.2,122.5 L211.7,122.1 L212.2,121.7 L212.8,121.3 L213.2,121.0 L213.6,120.7 L214.0,120.4 L214.4,120.1 L215.0,119.7 L215.6,119.3 L216.0,119.0 L216.4,118.8 L216.8,118.5 L217.4,118.1 L218.0,117.7 L218.4,117.5 L218.8,117.2 L219.4,116.9 L220.0,116.5 L220.4,116.3 L220.8,116.1 L221.5,115.7 L222.0,115.4 L222.4,115.2 L223.1,114.9 L223.6,114.6 L224.0,114.5 L224.8,114.1 L225.2,113.9 L225.8,113.7 L226.4,113.5 L226.9,113.3 L227.6,113.1 L228.2,112.9 L228.8,112.7 L229.6,112.6 L230.1,112.5 L230.8,112.4 L231.6,112.3 L232.4,112.3 L233.2,112.4 L233.6,112.5 L234.4,112.8 L234.8,113.0 L235.2,113.3 L235.6,113.7 L236.0,114.4 L236.2,114.9 L236.2,115.7 L236.2,116.5 L236.0,117.2 L235.8,117.7 L235.6,118.3 L235.3,118.9 L235.1,119.3 L234.8,119.9 L234.4,120.5 L234.1,120.9 L233.9,121.3 L233.6,121.7 L233.2,122.2 L232.8,122.7 L232.4,123.1 L232.0,123.6 L231.6,124.0 L231.2,124.4 L230.8,124.8 L230.4,125.2 L230.0,125.6 L229.6,126.0 L229.2,126.4 L228.8,126.7 L228.4,127.1 L228.0,127.4 L227.6,127.7 L227.1,128.1 L226.7,128.5 L226.1,128.9 L225.6,129.3 L225.2,129.6 L224.8,129.9 L224.4,130.2 L224.0,130.5 L223.5,130.9 L222.9,131.3 L222.4,131.7 L222.0,131.9 L221.6,132.2 L221.2,132.5 L220.6,132.9 L220.0,133.3 L219.6,133.5 L219.2,133.8 L218.7,134.1 L218.1,134.5 L217.6,134.8 L217.2,135.0 L216.8,135.3 L216.1,135.7 L215.6,136.0 L215.2,136.2 L214.7,136.5 L214.0,136.9 L213.6,137.1 L213.2,137.3 L212.5,137.7 L212.0,138.0 L211.6,138.2 L211.0,138.5 L210.4,138.8 L210.0,139.0 L209.5,139.3 L208.8,139.7 L208.4,139.9 L208.0,140.2 L207.5,140.5 L207.0,140.9 L206.6,141.3 L206.2,141.7 L205.9,142.1 L205.6,142.5 L205.2,143.3 L205.0,143.7 L204.8,144.3 L204.6,144.9 L204.4,145.5 L204.2,146.1 L204.0,146.7 L203.8,147.3 L203.6,147.8 L203.3,148.5 L203.1,148.9 L202.8,149.5 L202.5,150.1 L202.3,150.5 L202.0,150.9 L201.6,151.5 L201.2,152.0 L200.8,152.5 L200.4,152.9 L200.0,153.3 L199.6,153.7 L199.2,154.0 L198.8,154.3 L198.4,154.6 L198.0,154.9 L197.3,155.3 L196.8,155.6 L196.4,155.8 L195.7,156.1 L195.2,156.3 L194.5,156.5 L194.0,156.6 L193.2,156.8 L192.6,156.9 L192.0,157.0 L191.2,157.0 L190.4,157.0 L189.6,156.9 L189.2,156.9 L188.4,156.8 L187.6,156.6 L186.8,156.5 L186.0,156.5 L185.2,156.6 L184.4,156.8 L184.0,156.9 L183.2,157.3 L182.8,157.4 L182.3,157.7 L181.6,158.1 L181.2,158.4 L180.8,158.6 L180.4,158.9 L179.8,159.3 L179.2,159.7 L178.8,160.0 L178.4,160.3 L178.0,160.6 L177.5,160.9 L176.9,161.3 L176.4,161.7 L176.0,161.9 L175.6,162.2 L175.1,162.5 L174.4,162.9 L174.0,163.2 L173.6,163.4 L173.0,163.7 L172.4,164.0 L172.0,164.2 L171.5,164.5 L170.8,164.9 L170.4,165.1 L169.9,165.3 L169.2,165.7 L168.8,165.9 L168.4,166.1 L167.7,166.5 L167.2,166.7 L166.8,166.9 L166.0,167.3 L165.6,167.4 L164.8,167.7 L164.4,167.8 M163.2,167.3 L162.4,167.4 L161.8,167.3 L161.2,167.2 L160.4,166.9 L160.0,166.7 L159.6,166.5 L159.2,166.1 L158.8,165.7 L158.4,165.2 L158.0,164.5 L157.9,164.1 L157.7,163.3 L157.6,162.5 L157.6,162.1 L157.6,161.7 L157.7,160.9 L157.8,160.1 L158.0,159.3 L158.1,158.9 L158.3,158.1 L158.5,157.7 L158.7,156.9 L158.9,156.5 L159.2,155.7 L159.3,155.3 L159.6,154.6 L159.8,154.1 L160.0,153.7 L160.4,152.9 L160.6,152.5 L160.8,152.1 L161.2,151.4 L161.5,150.9 L161.8,150.5 L162.0,150.1 L162.4,149.6 L162.8,149.0 L163.2,148.5 L163.5,148.1 L163.9,147.7 L164.2,147.3 L164.6,146.9 L164.9,146.5 L165.3,146.1 L165.7,145.7 L166.1,145.3 L166.5,144.9 L166.9,144.5 L167.3,144.1 L167.7,143.7 L168.2,143.3 L168.6,142.9 L169.0,142.5 L169.5,142.1 L169.9,141.7 L170.4,141.3 L170.8,140.9 L171.2,140.6 L171.6,140.2 L172.0,139.9 L172.4,139.5 L172.8,139.2 L173.2,138.9 L173.7,138.5 L174.2,138.1 L174.7,137.7 L175.2,137.3 L175.6,137.0 L176.0,136.8 L176.4,136.5 L177.0,136.1 L177.6,135.7 L178.0,135.5 L178.4,135.2 L179.0,134.9 L179.6,134.6 L180.0,134.4 L180.6,134.1 L181.2,133.8 L181.6,133.7 L182.4,133.4 L182.8,133.3 L183.6,133.0 L184.0,132.9 L184.8,132.7 L185.6,132.6 L186.1,132.5 L186.8,132.4 L187.6,132.4 L188.4,132.4 L189.2,132.4 L190.0,132.5 L190.4,132.6 L191.2,132.7 L191.9,132.9 L192.4,133.0 L193.1,133.3 L193.6,133.5 L194.2,133.7 L194.8,134.0 L195.2,134.1 L196.0,134.4 L196.4,134.5 L197.2,134.6 L198.0,134.6 L198.4,134.5 L199.2,134.1 L199.6,133.9 L200.0,133.6 L200.4,133.2 L200.8,132.8 L201.2,132.5 L201.6,132.0 L202.0,131.6 L202.4,131.2 L202.8,130.7 L203.2,130.3 L203.6,129.9 L204.0,129.5 L204.4,129.0 L204.8,128.6 L205.2,128.2 L205.6,127.8 L206.0,127.4 L206.4,127.1 L206.8,126.7 L207.2,126.3 L207.6,125.9 L208.0,125.6 L208.4,125.2 L208.8,124.9 L209.3,124.5 L209.8,124.1 L210.3,123.7 L210.8,123.3 L211.2,123.0 L211.6,122.6 L212.0,122.3 L212.4,122.0 L212.9,121.7 L213.4,121.3 L214.0,120.9 L214.4,120.6 L214.8,120.3 L215.2,120.0 L215.7,119.7 L216.3,119.3 L216.8,119.0 L217.2,118.7 L217.6,118.5 L218.2,118.1 L218.8,117.7 L219.2,117.5 L219.6,117.2 L220.2,116.9 L220.8,116.5 L221.2,116.3 L221.6,116.1 L222.4,115.7 L222.8,115.5 L223.2,115.3 L224.0,114.9 L224.4,114.8 L225.0,114.5 L225.6,114.3 L226.1,114.1 L226.8,113.8 L227.3,113.7 L228.0,113.5 L228.8,113.3 L229.2,113.2 L230.0,113.1 L230.8,113.0 L231.6,113.0 L232.4,113.1 L233.2,113.2 L233.6,113.4 L234.2,113.7 L234.6,114.1 L234.9,114.5 L235.2,115.1 L235.3,115.7 L235.4,116.5 L235.2,117.3 L235.1,117.7 L234.8,118.5 L234.7,118.9 L234.4,119.4 L234.0,120.1 L233.8,120.5 L233.5,120.9 L233.2,121.3 L232.8,121.9 L232.4,122.4 L232.0,122.9 L231.6,123.3 L231.3,123.7 L230.9,124.1 L230.5,124.5 L230.1,124.9 L229.7,125.3 L229.3,125.7 L228.9,126.1 L228.4,126.5 L228.0,126.9 L227.6,127.2 L227.2,127.5 L226.8,127.9 L226.4,128.2 L226.0,128.5 L225.5,128.9 L225.0,129.3 L224.4,129.7 L224.0,130.0 L223.6,130.3 L223.2,130.6 L222.8,130.9 L222.2,131.3 L221.7,131.7 L221.2,132.0 L220.8,132.3 L220.4,132.5 L219.9,132.9 L219.2,133.3 L218.8,133.6 L218.4,133.8 L218.0,134.1 L217.3,134.5 L216.8,134.8 L216.4,135.0 L215.9,135.3 L215.2,135.7 L214.8,135.9 L214.4,136.1 L213.7,136.5 L213.2,136.8 L212.8,137.0 L212.1,137.3 L211.6,137.6 L211.2,137.7 L210.4,138.1 L210.0,138.3 L209.5,138.5 L208.8,138.8 L208.4,139.0 L207.7,139.3 L207.2,139.6 L206.8,139.7 L206.1,140.1 L205.6,140.4 L205.2,140.6 L204.8,140.9 L204.2,141.3 L203.8,141.7 L203.5,142.1 L203.2,142.6 L202.8,143.3 L202.7,143.7 L202.4,144.5 L202.3,144.9 L202.1,145.7 L202.0,146.1 L201.8,146.9 L201.6,147.4 L201.4,148.1 L201.2,148.6 L200.9,149.3 L200.7,149.7 L200.4,150.2 L200.0,150.9 L199.7,151.3 L199.4,151.7 L199.1,152.1 L198.7,152.5 L198.3,152.9 L197.8,153.3 L197.3,153.7 L196.8,154.0 L196.4,154.2 L195.9,154.5 L195.2,154.8 L194.8,155.0 L194.0,155.2 L193.6,155.3 L192.8,155.5 L192.0,155.5 L191.2,155.5 L190.4,155.5 L189.6,155.4 L188.9,155.3 L188.4,155.2 L187.6,155.1 L186.8,155.1 L186.0,155.2 L185.6,155.3 L184.8,155.6 L184.4,155.7 L183.6,156.1 L183.2,156.3 L182.8,156.5 L182.2,156.9 L181.6,157.3 L181.2,157.5 L180.8,157.8 L180.4,158.1 L179.8,158.5 L179.3,158.9 L178.8,159.2 L178.4,159.5 L178.0,159.8 L177.6,160.1 L177.0,160.5 L176.4,160.9 L176.0,161.2 L175.6,161.5 L175.2,161.7 L174.6,162.1 L174.0,162.4 L173.6,162.7 L173.2,162.9 L172.4,163.3 L172.0,163.5 L171.6,163.7 L170.9,164.1 L170.4,164.3 L170.0,164.5 L169.3,164.9 L168.8,165.2 L168.4,165.4 L167.8,165.7 L167.2,166.0 L166.8,166.2 L166.2,166.5 L165.6,166.8 L165.2,166.9 L164.4,167.1 L163.6,167.3 L163.2,167.3 M164.0,166.5 L163.2,166.7 L162.4,166.7 L161.6,166.5 L161.2,166.4 L160.5,166.1 L160.0,165.8 L159.6,165.5 L159.2,165.0 L158.9,164.5 L158.7,164.1 L158.4,163.3 L158.4,162.9 L158.3,162.1 L158.3,161.3 L158.4,160.9 L158.5,160.1 L158.7,159.3 L158.8,158.9 L159.1,158.1 L159.2,157.7 L159.5,156.9 L159.6,156.5 L159.9,155.7 L160.1,155.3 L160.4,154.5 L160.5,154.1 L160.8,153.5 L161.1,152.9 L161.3,152.5 L161.6,152.0 L162.0,151.3 L162.2,150.9 L162.5,150.5 L162.8,150.0 L163.2,149.5 L163.6,149.0 L164.0,148.5 L164.3,148.1 L164.6,147.7 L165.0,147.3 L165.3,146.9 L165.7,146.5 L166.1,146.1 L166.5,145.7 L166.9,145.3 L167.3,144.9 L167.7,144.5 L168.1,144.1 L168.5,143.7 L169.0,143.3 L169.4,142.9 L169.9,142.5 L170.3,142.1 L170.8,141.7 L171.2,141.3 L171.6,141.0 L172.0,140.6 L172.4,140.3 L172.8,139.9 L173.2,139.6 L173.6,139.3 L174.1,138.9 L174.6,138.5 L175.1,138.1 L175.6,137.8 L176.0,137.5 L176.4,137.2 L176.8,136.9 L177.5,136.5 L178.0,136.2 L178.4,135.9 L178.8,135.7 L179.6,135.3 L180.0,135.1 L180.4,134.9 L181.2,134.6 L181.6,134.4 L182.4,134.1 L182.8,134.0 L183.6,133.8 L184.0,133.7 L184.8,133.5 L185.6,133.4 L186.3,133.3 L186.8,133.3 L187.6,133.3 L188.3,133.3 L188.8,133.4 L189.6,133.5 L190.4,133.7 L190.8,133.8 L191.6,134.1 L192.0,134.3 L192.5,134.5 L193.2,134.9 L193.6,135.2 L194.0,135.4 L194.4,135.7 L195.0,136.1 L195.6,136.5 L196.0,136.8 L196.4,137.0 L197.2,137.2 L198.0,137.3 L198.8,137.0 L199.2,136.7 L199.6,136.3 L200.0,135.8 L200.4,135.3 L200.6,134.9 L200.9,134.5 L201.2,134.1 L201.6,133.5 L202.0,132.9 L202.3,132.5 L202.6,132.1 L202.9,131.7 L203.2,131.3 L203.6,130.8 L204.0,130.3 L204.4,129.9 L204.8,129.4 L205.2,129.0 L205.6,128.5 L206.0,128.1 L206.4,127.7 L206.8,127.3 L207.2,126.9 L207.6,126.5 L208.0,126.2 L208.4,125.8 L208.8,125.4 L209.2,125.1 L209.6,124.7 L210.0,124.4 L210.4,124.1 L210.9,123.7 L211.4,123.3 L211.9,122.9 L212.4,122.5 L212.8,122.2 L213.2,121.9 L213.6,121.6 L214.1,121.3 L214.6,120.9 L215.2,120.5 L215.6,120.2 L216.0,119.9 L216.4,119.7 L217.0,119.3 L217.6,118.9 L218.0,118.6 L218.4,118.4 L218.9,118.1 L219.6,117.7 L220.0,117.4 L220.4,117.2 L221.0,116.9 L221.6,116.6 L222.0,116.3 L222.5,116.1 L223.2,115.8 L223.6,115.6 L224.2,115.3 L224.8,115.1 L225.2,114.9 L226.0,114.6 L226.4,114.5 L227.2,114.2 L227.7,114.1 L228.4,113.9 L229.2,113.8 L229.8,113.7 L230.4,113.7 L231.2,113.7 L231.7,113.7 L232.4,113.8 L233.1,114.1 L233.6,114.4 L234.0,114.8 L234.3,115.3 L234.4,115.7 L234.5,116.5 L234.5,117.3 L234.4,117.7 L234.2,118.5 L234.0,118.9 L233.6,119.7 L233.4,120.1 L233.2,120.5 L232.8,121.1 L232.4,121.6 L232.0,122.1 L231.7,122.5 L231.4,122.9 L231.1,123.3 L230.7,123.7 L230.3,124.1 L229.9,124.5 L229.5,124.9 L229.1,125.3 L228.7,125.7 L228.3,126.1 L227.8,126.5 L227.4,126.9 L226.9,127.3 L226.4,127.7 L226.0,128.0 L225.6,128.4 L225.2,128.7 L224.8,129.0 L224.4,129.3 L223.8,129.7 L223.3,130.1 L222.8,130.4 L222.4,130.7 L222.0,131.0 L221.6,131.3 L221.0,131.7 L220.4,132.1 L220.0,132.4 L219.6,132.6 L219.2,132.9 L218.5,133.3 L218.0,133.6 L217.6,133.9 L217.2,134.1 L216.5,134.5 L216.0,134.8 L215.6,135.0 L215.1,135.3 L214.4,135.7 L214.0,135.9 L213.5,136.1 L212.8,136.4 L212.4,136.6 L211.8,136.9 L211.2,137.2 L210.8,137.3 L210.0,137.7 L209.6,137.8 L208.8,138.1 L208.4,138.3 L207.7,138.5 L207.2,138.7 L206.4,138.9 L206.0,139.0 L205.2,139.2 L204.8,139.4 L204.0,139.6 L203.6,139.7 L202.8,139.9 L202.3,140.1 L201.6,140.4 L201.2,140.7 L200.8,141.0 L200.4,141.5 L200.1,142.1 L199.9,142.5 L199.7,143.3 L199.6,143.7 L199.5,144.5 L199.3,145.3 L199.2,146.1 L199.2,146.5 L199.0,147.3 L198.9,148.1 L198.7,148.5 L198.5,149.3 L198.3,149.7 L198.0,150.2 L197.6,150.8 L197.2,151.3 L196.8,151.7 L196.4,152.1 L196.0,152.4 L195.6,152.7 L195.2,152.9 L194.4,153.3 L194.0,153.4 L193.2,153.6 L192.5,153.7 L192.0,153.7 L191.2,153.7 L190.8,153.7 L190.0,153.6 L189.2,153.5 L188.4,153.5 L187.6,153.6 L186.9,153.7 L186.4,153.9 L185.7,154.1 L185.2,154.3 L184.8,154.5 L184.1,154.9 L183.6,155.2 L183.2,155.4 L182.8,155.7 L182.1,156.1 L181.6,156.5 L181.2,156.8 L180.8,157.0 L180.4,157.3 L179.9,157.7 L179.4,158.1 L178.8,158.5 L178.4,158.8 L178.0,159.1 L177.6,159.4 L177.2,159.7 L176.6,160.1 L176.0,160.5 L175.6,160.8 L175.2,161.0 L174.7,161.3 L174.1,161.7 L173.6,162.0 L173.2,162.2 L172.6,162.5 L172.0,162.8 L171.6,163.0 L171.0,163.3 L170.4,163.6 L170.0,163.8 L169.5,164.1 L168.8,164.4 L168.4,164.7 L168.0,164.9 L167.2,165.3 L166.8,165.5 L166.4,165.7 L165.6,166.1 L165.2,166.2 L164.4,166.5 L164.0,166.5 M205.6,138.1 L204.8,138.2 L204.0,138.2 L203.6,138.1 L202.8,137.8 L202.4,137.6 L202.0,137.0 L201.9,136.5 L201.9,135.7 L202.0,135.2 L202.2,134.5 L202.4,134.1 L202.8,133.3 L203.0,132.9 L203.2,132.5 L203.6,131.9 L204.0,131.3 L204.3,130.9 L204.6,130.5 L204.9,130.1 L205.2,129.7 L205.6,129.2 L206.0,128.8 L206.4,128.3 L206.8,127.9 L207.2,127.5 L207.6,127.1 L208.0,126.7 L208.4,126.3 L208.8,126.0 L209.2,125.6 L209.6,125.3 L210.0,124.9 L210.5,124.5 L211.0,124.1 L211.5,123.7 L212.0,123.3 L212.4,123.0 L212.8,122.7 L213.2,122.4 L213.6,122.1 L214.1,121.7 L214.7,121.3 L215.2,120.9 L215.6,120.6 L216.0,120.4 L216.4,120.1 L217.0,119.7 L217.6,119.3 L218.0,119.1 L218.4,118.8 L218.9,118.5 L219.6,118.1 L220.0,117.9 L220.4,117.6 L221.0,117.3 L221.6,117.0 L222.0,116.8 L222.6,116.5 L223.2,116.2 L223.6,116.0 L224.3,115.7 L224.8,115.5 L225.4,115.3 L226.0,115.1 L226.5,114.9 L227.2,114.7 L228.0,114.5 L228.4,114.4 L229.2,114.3 L230.0,114.3 L230.8,114.3 L231.6,114.4 L232.0,114.5 L232.7,114.9 L233.2,115.3 L233.4,115.7 L233.6,116.1 L233.7,116.9 L233.7,117.7 L233.6,118.1 L233.4,118.9 L233.2,119.3 L232.8,120.1 L232.6,120.5 L232.3,120.9 L232.0,121.4 L231.6,121.9 L231.2,122.5 L230.8,122.9 L230.5,123.3 L230.1,123.7 L229.8,124.1 L229.4,124.5 L229.0,124.9 L228.6,125.3 L228.1,125.7 L227.7,126.1 L227.3,126.5 L226.8,126.9 L226.4,127.2 L226.0,127.6 L225.6,127.9 L225.2,128.2 L224.8,128.5 L224.3,128.9 L223.8,129.3 L223.2,129.7 L222.8,130.0 L222.4,130.3 L222.0,130.6 L221.5,130.9 L220.9,131.3 L220.4,131.7 L220.0,131.9 L219.6,132.2 L219.1,132.5 L218.5,132.9 L218.0,133.2 L217.6,133.4 L217.1,133.7 L216.4,134.1 L216.0,134.4 L215.6,134.6 L215.0,134.9 L214.4,135.2 L214.0,135.4 L213.4,135.7 L212.8,136.0 L212.4,136.1 L211.6,136.5 L211.2,136.6 L210.5,136.9 L210.0,137.1 L209.4,137.3 L208.8,137.5 L208.0,137.7 L207.6,137.8 L206.8,138.0 L206.0,138.1 L205.6,138.1 M164.4,165.8 L163.6,165.9 L162.8,166.0 L162.0,165.9 L161.4,165.7 L160.8,165.4 L160.4,165.1 L160.0,164.7 L159.6,164.1 L159.4,163.7 L159.2,163.1 L159.1,162.5 L159.0,161.7 L159.1,160.9 L159.2,160.4 L159.3,159.7 L159.6,158.9 L159.7,158.5 L159.9,157.7 L160.1,157.3 L160.3,156.5 L160.5,156.1 L160.8,155.3 L160.9,154.9 L161.2,154.2 L161.4,153.7 L161.6,153.3 L162.0,152.5 L162.2,152.1 L162.4,151.7 L162.8,151.1 L163.2,150.5 L163.5,150.1 L163.7,149.7 L164.1,149.3 L164.4,148.9 L164.8,148.4 L165.2,147.9 L165.6,147.4 L166.0,147.0 L166.4,146.6 L166.8,146.1 L167.2,145.7 L167.6,145.3 L168.0,145.0 L168.4,144.6 L168.8,144.2 L169.2,143.8 L169.6,143.5 L170.0,143.1 L170.4,142.7 L170.8,142.4 L171.2,142.0 L171.6,141.7 L172.0,141.3 L172.5,140.9 L173.0,140.5 L173.5,140.1 L173.9,139.7 L174.4,139.3 L174.8,139.0 L175.2,138.7 L175.6,138.4 L176.1,138.1 L176.7,137.7 L177.2,137.3 L177.6,137.1 L178.0,136.8 L178.6,136.5 L179.2,136.2 L179.6,136.0 L180.2,135.7 L180.8,135.4 L181.2,135.2 L182.0,134.9 L182.4,134.8 L183.2,134.6 L183.6,134.5 L184.4,134.3 L185.2,134.2 L186.0,134.1 L186.4,134.1 L186.9,134.1 L187.6,134.1 L188.4,134.2 L189.2,134.4 L189.6,134.5 L190.4,134.8 L190.8,135.0 L191.3,135.3 L191.9,135.7 L192.4,136.1 L192.8,136.4 L193.2,136.9 L193.6,137.3 L193.9,137.7 L194.2,138.1 L194.4,138.5 L194.8,139.3 L195.0,139.7 L195.2,140.4 L195.3,140.9 L195.4,141.7 L195.4,142.5 L195.3,143.3 L195.2,144.1 L195.2,144.5 L195.1,145.3 L195.0,146.1 L194.9,146.9 L194.8,147.5 L194.7,148.1 L194.4,148.9 L194.2,149.3 L193.9,149.7 L193.4,150.1 L192.8,150.4 L192.4,150.5 L191.6,150.7 L190.9,150.9 L190.4,151.0 L189.6,151.2 L189.2,151.4 L188.4,151.7 L188.0,151.8 L187.4,152.1 L186.8,152.4 L186.4,152.6 L185.9,152.9 L185.2,153.3 L184.8,153.5 L184.4,153.8 L183.9,154.1 L183.3,154.5 L182.8,154.9 L182.4,155.1 L182.0,155.4 L181.6,155.7 L181.1,156.1 L180.5,156.5 L180.0,156.9 L179.6,157.2 L179.2,157.5 L178.8,157.8 L178.4,158.1 L177.9,158.5 L177.3,158.9 L176.8,159.3 L176.4,159.6 L176.0,159.8 L175.6,160.1 L175.0,160.5 L174.4,160.8 L174.0,161.1 L173.6,161.3 L172.9,161.7 L172.4,162.0 L172.0,162.2 L171.3,162.5 L170.8,162.7 L170.4,162.9 L169.6,163.3 L169.2,163.5 L168.8,163.7 L168.1,164.1 L167.6,164.4 L167.2,164.6 L166.6,164.9 L166.0,165.2 L165.6,165.4 L164.8,165.6 L164.4,165.8 M208.4,137.0 L207.6,137.1 L206.8,137.2 L206.0,137.2 L205.2,137.2 L204.4,136.9 L204.0,136.7 L203.6,136.3 L203.3,135.7 L203.3,134.9 L203.4,134.1 L203.6,133.4 L203.8,132.9 L204.0,132.5 L204.4,131.8 L204.7,131.3 L204.9,130.9 L205.2,130.5 L205.6,130.0 L206.0,129.5 L206.4,129.0 L206.8,128.5 L207.2,128.1 L207.6,127.7 L208.0,127.3 L208.4,126.9 L208.8,126.5 L209.2,126.1 L209.6,125.7 L210.0,125.4 L210.4,125.0 L210.8,124.7 L211.2,124.4 L211.6,124.0 L212.0,123.7 L212.5,123.3 L213.1,122.9 L213.6,122.5 L214.0,122.2 L214.4,121.9 L214.8,121.6 L215.3,121.3 L215.8,120.9 L216.4,120.5 L216.8,120.2 L217.2,120.0 L217.6,119.7 L218.3,119.3 L218.8,119.0 L219.2,118.7 L219.6,118.5 L220.3,118.1 L220.8,117.8 L221.2,117.6 L221.8,117.3 L222.4,117.0 L222.8,116.8 L223.5,116.5 L224.0,116.3 L224.4,116.1 L225.2,115.8 L225.6,115.6 L226.4,115.4 L226.8,115.3 L227.6,115.1 L228.4,114.9 L228.8,114.9 L229.6,114.9 L230.4,114.9 L230.8,115.0 L231.6,115.2 L232.0,115.4 L232.4,115.8 L232.8,116.4 L232.9,116.9 L233.0,117.7 L232.8,118.5 L232.7,118.9 L232.4,119.7 L232.2,120.1 L232.0,120.5 L231.6,121.1 L231.2,121.7 L230.9,122.1 L230.6,122.5 L230.3,122.9 L230.0,123.3 L229.6,123.7 L229.2,124.1 L228.8,124.5 L228.4,124.9 L228.0,125.3 L227.6,125.7 L227.2,126.1 L226.7,126.5 L226.2,126.9 L225.8,127.3 L225.3,127.7 L224.8,128.1 L224.4,128.4 L224.0,128.7 L223.6,129.0 L223.2,129.3 L222.6,129.7 L222.1,130.1 L221.6,130.4 L221.2,130.7 L220.8,131.0 L220.3,131.3 L219.7,131.7 L219.2,132.0 L218.8,132.3 L218.4,132.5 L217.8,132.9 L217.2,133.3 L216.8,133.5 L216.4,133.7 L215.7,134.1 L215.2,134.4 L214.8,134.6 L214.1,134.9 L213.6,135.2 L213.2,135.3 L212.4,135.7 L212.0,135.8 L211.3,136.1 L210.8,136.3 L210.2,136.5 L209.6,136.7 L208.8,136.9 L208.4,137.0 M164.8,164.9 L164.0,165.1 L163.2,165.2 L162.4,165.1 L161.6,164.9 L161.2,164.7 L160.8,164.3 L160.4,163.9 L160.1,163.3 L160.0,162.9 L159.8,162.1 L159.8,161.3 L159.9,160.5 L160.0,160.1 L160.2,159.3 L160.4,158.6 L160.5,158.1 L160.8,157.3 L160.9,156.9 L161.2,156.1 L161.3,155.7 L161.6,154.9 L161.8,154.5 L162.0,153.9 L162.3,153.3 L162.5,152.9 L162.8,152.3 L163.1,151.7 L163.3,151.3 L163.6,150.9 L164.0,150.3 L164.4,149.7 L164.7,149.3 L165.0,148.9 L165.4,148.5 L165.7,148.1 L166.1,147.7 L166.4,147.3 L166.8,146.9 L167.2,146.5 L167.6,146.1 L168.0,145.7 L168.4,145.3 L168.8,144.9 L169.2,144.5 L169.7,144.1 L170.1,143.7 L170.5,143.3 L171.0,142.9 L171.4,142.5 L171.9,142.1 L172.3,141.7 L172.8,141.3 L173.2,141.0 L173.6,140.6 L174.0,140.3 L174.4,140.0 L174.8,139.7 L175.3,139.3 L175.9,138.9 L176.4,138.5 L176.8,138.2 L177.2,138.0 L177.7,137.7 L178.3,137.3 L178.8,137.0 L179.2,136.8 L179.8,136.5 L180.4,136.2 L180.8,136.1 L181.6,135.7 L182.0,135.6 L182.8,135.4 L183.2,135.3 L184.0,135.1 L184.8,135.0 L185.5,134.9 L186.0,134.9 L186.7,134.9 L187.2,134.9 L188.0,135.1 L188.8,135.3 L189.2,135.4 L189.8,135.7 L190.4,136.1 L190.8,136.4 L191.2,136.7 L191.6,137.1 L192.0,137.6 L192.3,138.1 L192.5,138.5 L192.8,139.2 L192.9,139.7 L193.1,140.5 L193.1,141.3 L193.1,142.1 L192.9,142.9 L192.8,143.4 L192.6,144.1 L192.4,144.6 L192.1,145.3 L191.9,145.7 L191.6,146.3 L191.3,146.9 L191.0,147.3 L190.7,147.7 L190.4,148.1 L190.0,148.5 L189.6,148.9 L189.2,149.3 L188.7,149.7 L188.3,150.1 L187.7,150.5 L187.2,150.9 L186.8,151.2 L186.4,151.5 L186.0,151.8 L185.5,152.1 L185.0,152.5 L184.4,152.9 L184.0,153.2 L183.6,153.5 L183.2,153.8 L182.8,154.1 L182.2,154.5 L181.7,154.9 L181.2,155.3 L180.8,155.6 L180.4,155.9 L180.0,156.2 L179.6,156.5 L179.1,156.9 L178.6,157.3 L178.0,157.7 L177.6,158.0 L177.2,158.3 L176.8,158.6 L176.4,158.9 L175.8,159.3 L175.2,159.7 L174.8,160.0 L174.4,160.2 L173.9,160.5 L173.2,160.9 L172.8,161.1 L172.4,161.3 L171.6,161.7 L171.2,161.9 L170.8,162.1 L170.0,162.5 L169.6,162.6 L169.1,162.9 L168.4,163.2 L168.0,163.4 L167.5,163.7 L166.8,164.1 L166.4,164.3 L165.9,164.5 L165.2,164.8 L164.8,164.9 M209.6,136.2 L208.8,136.3 L208.0,136.4 L207.2,136.5 L206.4,136.4 L205.6,136.2 L205.2,136.0 L204.8,135.7 L204.4,135.0 L204.3,134.5 L204.4,133.7 L204.4,133.3 L204.7,132.5 L204.9,132.1 L205.2,131.5 L205.6,130.9 L205.8,130.5 L206.1,130.1 L206.4,129.7 L206.8,129.2 L207.2,128.7 L207.6,128.3 L208.0,127.8 L208.4,127.4 L208.8,127.0 L209.2,126.6 L209.6,126.2 L210.0,125.9 L210.4,125.5 L210.8,125.2 L211.2,124.8 L211.6,124.5 L212.1,124.1 L212.6,123.7 L213.1,123.3 L213.6,122.9 L214.0,122.6 L214.4,122.3 L214.8,122.0 L215.3,121.7 L215.8,121.3 L216.4,120.9 L216.8,120.6 L217.2,120.4 L217.6,120.1 L218.3,119.7 L218.8,119.4 L219.2,119.1 L219.6,118.9 L220.3,118.5 L220.8,118.2 L221.2,118.0 L221.8,117.7 L222.4,117.4 L222.8,117.2 L223.5,116.9 L224.0,116.7 L224.4,116.5 L225.2,116.2 L225.6,116.1 L226.4,115.8 L227.0,115.7 L227.6,115.6 L228.4,115.5 L229.2,115.4 L230.0,115.5 L230.8,115.7 L231.2,115.9 L231.6,116.2 L232.0,116.7 L232.2,117.3 L232.2,118.1 L232.1,118.9 L232.0,119.3 L231.6,120.1 L231.4,120.5 L231.2,120.9 L230.8,121.5 L230.4,122.1 L230.1,122.5 L229.8,122.9 L229.4,123.3 L229.1,123.7 L228.7,124.1 L228.3,124.5 L227.9,124.9 L227.5,125.3 L227.1,125.7 L226.6,126.1 L226.2,126.5 L225.7,126.9 L225.2,127.3 L224.8,127.7 L224.4,128.0 L224.0,128.3 L223.6,128.6 L223.2,128.9 L222.6,129.3 L222.1,129.7 L221.6,130.0 L221.2,130.3 L220.8,130.6 L220.3,130.9 L219.7,131.3 L219.2,131.6 L218.8,131.9 L218.4,132.1 L217.8,132.5 L217.2,132.9 L216.8,133.1 L216.4,133.3 L215.7,133.7 L215.2,134.0 L214.8,134.2 L214.1,134.5 L213.6,134.7 L213.2,134.9 L212.4,135.2 L212.0,135.4 L211.2,135.7 L210.8,135.8 L210.0,136.1 L209.6,136.2 M164.8,164.2 L164.0,164.3 L163.2,164.4 L162.4,164.2 L162.0,164.1 L161.5,163.7 L161.1,163.3 L160.8,162.6 L160.7,162.1 L160.6,161.3 L160.7,160.5 L160.8,159.9 L160.9,159.3 L161.2,158.5 L161.3,158.1 L161.5,157.3 L161.6,156.9 L161.9,156.1 L162.0,155.7 L162.3,154.9 L162.4,154.5 L162.8,153.7 L162.9,153.3 L163.2,152.7 L163.5,152.1 L163.8,151.7 L164.0,151.3 L164.4,150.7 L164.8,150.1 L165.1,149.7 L165.4,149.3 L165.7,148.9 L166.0,148.5 L166.4,148.1 L166.8,147.6 L167.2,147.2 L167.6,146.8 L168.0,146.4 L168.4,146.0 L168.8,145.6 L169.2,145.2 L169.6,144.8 L170.0,144.4 L170.4,144.1 L170.8,143.7 L171.3,143.3 L171.7,142.9 L172.2,142.5 L172.6,142.1 L173.1,141.7 L173.6,141.3 L174.0,141.0 L174.4,140.6 L174.8,140.3 L175.2,140.0 L175.6,139.7 L176.2,139.3 L176.8,138.9 L177.2,138.6 L177.6,138.3 L178.0,138.1 L178.7,137.7 L179.2,137.4 L179.6,137.2 L180.3,136.9 L180.8,136.7 L181.3,136.5 L182.0,136.2 L182.5,136.1 L183.2,135.9 L184.0,135.8 L184.5,135.7 L185.2,135.6 L186.0,135.6 L186.7,135.7 L187.2,135.8 L188.0,136.0 L188.4,136.1 L189.1,136.5 L189.6,136.8 L190.0,137.1 L190.4,137.5 L190.8,138.1 L191.1,138.5 L191.3,138.9 L191.5,139.7 L191.6,140.1 L191.7,140.9 L191.7,141.7 L191.6,142.4 L191.5,142.9 L191.3,143.7 L191.1,144.1 L190.8,144.9 L190.6,145.3 L190.4,145.7 L190.0,146.4 L189.7,146.9 L189.4,147.3 L189.1,147.7 L188.7,148.1 L188.4,148.5 L188.0,148.9 L187.6,149.3 L187.2,149.7 L186.8,150.1 L186.3,150.5 L185.9,150.9 L185.4,151.3 L184.9,151.7 L184.4,152.1 L184.0,152.4 L183.6,152.7 L183.2,153.0 L182.8,153.3 L182.3,153.7 L181.8,154.1 L181.3,154.5 L180.8,154.9 L180.4,155.2 L180.0,155.5 L179.6,155.9 L179.2,156.2 L178.8,156.5 L178.3,156.9 L177.7,157.3 L177.2,157.7 L176.8,158.0 L176.4,158.3 L176.0,158.6 L175.5,158.9 L174.9,159.3 L174.4,159.6 L174.0,159.8 L173.5,160.1 L172.8,160.5 L172.4,160.7 L172.0,160.9 L171.2,161.3 L170.8,161.4 L170.2,161.7 L169.6,162.0 L169.2,162.1 L168.4,162.5 L168.0,162.7 L167.6,162.9 L166.8,163.3 L166.4,163.5 L166.0,163.7 L165.2,164.0 L164.8,164.2 M208.8,135.7 L208.0,135.7 L207.3,135.7 L206.8,135.6 L206.1,135.3 L205.7,134.9 L205.4,134.5 L205.3,133.7 L205.4,132.9 L205.6,132.2 L205.8,131.7 L206.0,131.3 L206.4,130.6 L206.7,130.1 L207.0,129.7 L207.3,129.3 L207.6,128.9 L208.0,128.5 L208.4,128.0 L208.8,127.6 L209.2,127.2 L209.6,126.8 L210.0,126.4 L210.4,126.0 L210.8,125.6 L211.2,125.3 L211.7,124.9 L212.1,124.5 L212.6,124.1 L213.1,123.7 L213.6,123.3 L214.0,123.0 L214.4,122.7 L214.8,122.5 L215.3,122.1 L215.9,121.7 L216.4,121.3 L216.8,121.1 L217.2,120.8 L217.7,120.5 L218.3,120.1 L218.8,119.8 L219.2,119.5 L219.6,119.3 L220.3,118.9 L220.8,118.6 L221.2,118.4 L221.8,118.1 L222.4,117.8 L222.8,117.6 L223.5,117.3 L224.0,117.1 L224.6,116.9 L225.2,116.7 L225.8,116.5 L226.4,116.3 L227.2,116.2 L227.7,116.1 L228.4,116.0 L229.2,116.1 L229.6,116.1 L230.4,116.4 L230.8,116.7 L231.2,117.2 L231.4,117.7 L231.4,118.5 L231.3,119.3 L231.2,119.7 L230.8,120.5 L230.6,120.9 L230.4,121.3 L230.0,121.9 L229.6,122.4 L229.2,122.9 L228.9,123.3 L228.5,123.7 L228.2,124.1 L227.8,124.5 L227.4,124.9 L227.0,125.3 L226.5,125.7 L226.1,126.1 L225.6,126.5 L225.2,126.9 L224.8,127.2 L224.4,127.5 L224.0,127.8 L223.6,128.1 L223.1,128.5 L222.6,128.9 L222.0,129.3 L221.6,129.6 L221.2,129.9 L220.8,130.2 L220.3,130.5 L219.7,130.9 L219.2,131.2 L218.8,131.5 L218.4,131.7 L217.8,132.1 L217.2,132.4 L216.8,132.7 L216.4,132.9 L215.6,133.3 L215.2,133.5 L214.8,133.7 L214.0,134.1 L213.6,134.3 L213.1,134.5 L212.4,134.8 L212.0,134.9 L211.2,135.2 L210.8,135.3 L210.0,135.5 L209.2,135.7 L208.8,135.7 M164.0,163.3 L163.3,163.3 L162.8,163.2 L162.4,162.9 L162.0,162.5 L161.7,161.7 L161.6,160.9 L161.7,160.1 L161.8,159.3 L162.0,158.6 L162.1,158.1 L162.3,157.3 L162.4,156.9 L162.6,156.1 L162.8,155.6 L163.0,154.9 L163.2,154.4 L163.5,153.7 L163.6,153.3 L164.0,152.5 L164.2,152.1 L164.5,151.7 L164.8,151.1 L165.2,150.5 L165.5,150.1 L165.8,149.7 L166.1,149.3 L166.4,148.9 L166.8,148.5 L167.2,148.0 L167.6,147.6 L168.0,147.1 L168.4,146.7 L168.8,146.3 L169.2,145.9 L169.6,145.5 L170.0,145.2 L170.4,144.8 L170.8,144.4 L171.2,144.1 L171.6,143.7 L172.1,143.3 L172.5,142.9 L173.0,142.5 L173.5,142.1 L173.9,141.7 L174.4,141.3 L174.8,141.0 L175.2,140.7 L175.6,140.4 L176.0,140.1 L176.6,139.7 L177.2,139.3 L177.6,139.0 L178.0,138.8 L178.5,138.5 L179.2,138.1 L179.6,137.9 L180.0,137.7 L180.8,137.4 L181.2,137.2 L182.0,136.9 L182.4,136.8 L183.2,136.6 L184.0,136.5 L184.4,136.5 L185.2,136.4 L186.0,136.5 L186.4,136.5 L187.2,136.7 L187.6,136.9 L188.4,137.3 L188.8,137.6 L189.2,138.0 L189.6,138.4 L189.9,138.9 L190.1,139.3 L190.3,140.1 L190.4,140.5 L190.5,141.3 L190.4,142.1 L190.4,142.5 L190.2,143.3 L190.0,143.9 L189.8,144.5 L189.6,144.9 L189.2,145.7 L189.0,146.1 L188.7,146.5 L188.4,146.9 L188.0,147.5 L187.6,148.0 L187.2,148.5 L186.8,148.9 L186.4,149.3 L186.0,149.7 L185.6,150.1 L185.2,150.5 L184.8,150.9 L184.4,151.2 L184.0,151.5 L183.6,151.9 L183.2,152.2 L182.8,152.6 L182.4,152.9 L181.9,153.3 L181.4,153.7 L180.9,154.1 L180.4,154.5 L180.0,154.8 L179.6,155.1 L179.2,155.5 L178.8,155.8 L178.4,156.1 L177.9,156.5 L177.4,156.9 L176.8,157.3 L176.4,157.6 L176.0,157.9 L175.6,158.2 L175.1,158.5 L174.4,158.9 L174.0,159.2 L173.6,159.4 L173.0,159.7 L172.4,160.0 L172.0,160.2 L171.4,160.5 L170.8,160.8 L170.4,160.9 L169.6,161.2 L169.2,161.4 L168.5,161.7 L168.0,161.9 L167.5,162.1 L166.8,162.4 L166.4,162.6 L165.7,162.9 L165.2,163.1 L164.4,163.3 L164.0,163.3 M210.4,134.9 L209.6,135.1 L208.8,135.1 L208.0,135.1 L207.3,134.9 L206.8,134.6 L206.4,134.2 L206.2,133.7 L206.1,132.9 L206.3,132.1 L206.4,131.7 L206.8,130.9 L207.0,130.5 L207.3,130.1 L207.6,129.6 L208.0,129.1 L208.4,128.6 L208.8,128.1 L209.2,127.7 L209.6,127.3 L210.0,126.9 L210.4,126.5 L210.8,126.1 L211.2,125.7 L211.6,125.4 L212.0,125.0 L212.4,124.7 L212.8,124.4 L213.2,124.0 L213.6,123.7 L214.2,123.3 L214.7,122.9 L215.2,122.5 L215.6,122.2 L216.0,122.0 L216.4,121.7 L217.0,121.3 L217.6,120.9 L218.0,120.6 L218.4,120.4 L218.9,120.1 L219.5,119.7 L220.0,119.4 L220.4,119.2 L221.0,118.9 L221.6,118.6 L222.0,118.4 L222.6,118.1 L223.2,117.8 L223.6,117.7 L224.4,117.4 L224.8,117.2 L225.6,117.0 L226.0,116.9 L226.8,116.7 L227.6,116.6 L228.4,116.6 L229.2,116.7 L229.7,116.9 L230.3,117.3 L230.5,117.7 L230.7,118.5 L230.7,119.3 L230.4,120.1 L230.3,120.5 L230.0,121.0 L229.6,121.7 L229.3,122.1 L229.0,122.5 L228.7,122.9 L228.4,123.3 L228.0,123.8 L227.6,124.2 L227.2,124.6 L226.8,125.0 L226.4,125.4 L226.0,125.8 L225.6,126.1 L225.1,126.5 L224.7,126.9 L224.2,127.3 L223.7,127.7 L223.2,128.1 L222.8,128.4 L222.4,128.7 L222.0,129.0 L221.5,129.3 L221.0,129.7 L220.4,130.1 L220.0,130.3 L219.6,130.6 L219.1,130.9 L218.5,131.3 L218.0,131.6 L217.6,131.9 L217.2,132.1 L216.4,132.5 L216.0,132.7 L215.6,133.0 L214.9,133.3 L214.4,133.5 L214.0,133.7 L213.2,134.1 L212.8,134.2 L212.0,134.5 L211.6,134.6 L210.8,134.8 L210.4,134.9 M164.8,162.1 L164.0,162.1 L163.6,162.0 L163.1,161.7 L162.8,161.0 L162.7,160.5 L162.7,159.7 L162.8,159.0 L162.9,158.5 L163.0,157.7 L163.2,156.9 L163.3,156.5 L163.4,155.7 L163.6,155.1 L163.8,154.5 L164.0,153.9 L164.3,153.3 L164.4,152.9 L164.8,152.2 L165.1,151.7 L165.3,151.3 L165.6,150.9 L166.0,150.3 L166.4,149.7 L166.7,149.3 L167.1,148.9 L167.4,148.5 L167.8,148.1 L168.1,147.7 L168.5,147.3 L168.9,146.9 L169.3,146.5 L169.7,146.1 L170.1,145.7 L170.5,145.3 L171.0,144.9 L171.4,144.5 L171.9,144.1 L172.3,143.7 L172.8,143.3 L173.2,142.9 L173.6,142.6 L174.0,142.2 L174.4,141.9 L174.8,141.6 L175.2,141.3 L175.7,140.9 L176.3,140.5 L176.8,140.1 L177.2,139.9 L177.6,139.6 L178.1,139.3 L178.8,138.9 L179.2,138.7 L179.6,138.5 L180.4,138.1 L180.8,137.9 L181.5,137.7 L182.0,137.5 L182.8,137.3 L183.2,137.3 L184.0,137.2 L184.8,137.1 L185.6,137.2 L186.1,137.3 L186.8,137.5 L187.3,137.7 L187.9,138.1 L188.4,138.5 L188.7,138.9 L189.0,139.3 L189.2,139.8 L189.4,140.5 L189.5,141.3 L189.5,142.1 L189.4,142.9 L189.2,143.5 L189.0,144.1 L188.8,144.6 L188.5,145.3 L188.3,145.7 L188.0,146.2 L187.6,146.8 L187.3,147.3 L186.9,147.7 L186.6,148.1 L186.3,148.5 L185.9,148.9 L185.5,149.3 L185.2,149.7 L184.7,150.1 L184.3,150.5 L183.9,150.9 L183.4,151.3 L183.0,151.7 L182.5,152.1 L182.1,152.5 L181.6,152.9 L181.2,153.2 L180.8,153.5 L180.4,153.9 L180.0,154.2 L179.6,154.5 L179.1,154.9 L178.6,155.3 L178.1,155.7 L177.6,156.1 L177.2,156.4 L176.8,156.7 L176.4,157.0 L176.0,157.3 L175.4,157.7 L174.8,158.1 L174.4,158.3 L174.0,158.6 L173.4,158.9 L172.8,159.2 L172.4,159.4 L171.8,159.7 L171.2,160.0 L170.8,160.1 L170.0,160.4 L169.6,160.6 L168.8,160.9 L168.4,161.0 L167.6,161.3 L167.2,161.4 L166.4,161.7 L166.0,161.8 L165.2,162.1 L164.8,162.1" fill="none" stroke="#4a4a4a" stroke-width="0.45" stroke-linejoin="round"/>
<path d="M211.2,134.3 L210.6,134.4 L210.0,134.5 L209.4,134.5 L208.8,134.5 L208.2,134.3 L207.8,134.2 L207.4,133.9 L207.2,133.6 L207.0,133.1 L207.0,132.7 L207.0,132.2 L207.1,131.8 L207.3,131.2 L207.4,130.9 L207.6,130.6 L207.9,130.0 L208.1,129.7 L208.3,129.4 L208.5,129.1 L208.8,128.8 L209.1,128.4 L209.4,128.0 L209.7,127.7 L210.0,127.4 L210.3,127.1 L210.6,126.8 L210.9,126.5 L211.2,126.2 L211.5,125.9 L211.8,125.7 L212.1,125.4 L212.4,125.1 L212.7,124.9 L213.0,124.6 L213.4,124.3 L213.8,124.0 L214.2,123.7 L214.5,123.5 L214.8,123.2 L215.1,123.0 L215.4,122.8 L215.8,122.5 L216.2,122.2 L216.6,122.0 L216.9,121.7 L217.2,121.5 L217.6,121.3 L218.0,121.0 L218.4,120.8 L218.7,120.6 L219.0,120.4 L219.5,120.1 L219.9,119.9 L220.2,119.7 L220.6,119.5 L221.1,119.2 L221.4,119.1 L221.7,118.9 L222.3,118.6 L222.6,118.5 L223.1,118.3 L223.5,118.1 L223.8,118.0 L224.4,117.8 L224.7,117.7 L225.3,117.5 L225.7,117.4 L226.2,117.3 L226.8,117.2 L227.4,117.2 L228.0,117.2 L228.6,117.3 L228.9,117.4 L229.4,117.7 L229.7,118.0 L229.8,118.3 L230.0,118.9 L230.0,119.5 L229.8,120.1 L229.7,120.4 L229.5,120.9 L229.3,121.3 L229.1,121.6 L228.9,121.9 L228.6,122.4 L228.3,122.8 L228.0,123.1 L227.8,123.4 L227.5,123.7 L227.3,124.0 L227.0,124.3 L226.7,124.6 L226.4,124.9 L226.1,125.2 L225.8,125.5 L225.4,125.8 L225.1,126.1 L224.7,126.4 L224.4,126.7 L224.1,126.9 L223.8,127.2 L223.5,127.4 L223.2,127.7 L222.9,127.9 L222.5,128.2 L222.1,128.5 L221.7,128.8 L221.4,129.0 L221.1,129.2 L220.8,129.4 L220.4,129.7 L219.9,130.0 L219.6,130.2 L219.3,130.4 L219.0,130.6 L218.5,130.9 L218.1,131.2 L217.8,131.3 L217.5,131.5 L217.0,131.8 L216.6,132.0 L216.3,132.2 L215.9,132.4 L215.4,132.7 L215.1,132.8 L214.7,133.0 L214.2,133.2 L213.9,133.3 L213.3,133.6 L213.0,133.7 L212.4,133.9 L212.1,134.0 L211.5,134.2 L211.2,134.3 M166.5,160.6 L165.9,160.7 L165.3,160.7 L165.0,160.6 L164.5,160.3 L164.2,160.0 L164.1,159.7 L164.0,159.1 L163.9,158.5 L163.9,157.9 L164.0,157.3 L164.0,156.7 L164.1,156.3 L164.2,155.8 L164.3,155.2 L164.4,154.9 L164.6,154.3 L164.7,153.9 L164.9,153.4 L165.0,153.1 L165.3,152.5 L165.5,152.2 L165.6,151.9 L165.9,151.4 L166.2,151.0 L166.4,150.7 L166.6,150.4 L166.8,150.1 L167.1,149.7 L167.4,149.3 L167.7,149.0 L168.0,148.6 L168.3,148.3 L168.5,148.0 L168.8,147.7 L169.1,147.4 L169.4,147.1 L169.7,146.8 L170.0,146.5 L170.3,146.2 L170.6,145.9 L171.0,145.6 L171.3,145.3 L171.6,145.0 L171.9,144.7 L172.2,144.5 L172.5,144.2 L172.8,143.9 L173.1,143.7 L173.4,143.4 L173.7,143.2 L174.0,142.9 L174.4,142.6 L174.7,142.3 L175.1,142.0 L175.5,141.7 L175.8,141.5 L176.1,141.3 L176.4,141.0 L176.7,140.8 L177.2,140.5 L177.6,140.2 L177.9,140.0 L178.2,139.9 L178.7,139.6 L179.1,139.4 L179.4,139.2 L179.8,139.0 L180.3,138.8 L180.6,138.7 L181.2,138.4 L181.5,138.3 L182.1,138.2 L182.4,138.1 L183.0,138.0 L183.6,137.9 L184.2,137.9 L184.8,137.9 L185.4,138.0 L185.7,138.1 L186.3,138.3 L186.6,138.4 L187.0,138.7 L187.4,139.0 L187.7,139.3 L187.9,139.6 L188.1,139.9 L188.3,140.5 L188.4,140.8 L188.5,141.4 L188.5,142.0 L188.5,142.6 L188.4,143.1 L188.3,143.5 L188.1,144.1 L188.0,144.4 L187.8,144.9 L187.6,145.3 L187.5,145.6 L187.2,146.1 L186.9,146.5 L186.7,146.8 L186.5,147.1 L186.3,147.4 L186.0,147.8 L185.7,148.2 L185.4,148.5 L185.1,148.8 L184.8,149.2 L184.5,149.5 L184.2,149.8 L183.9,150.1 L183.6,150.4 L183.3,150.7 L183.0,150.9 L182.7,151.2 L182.4,151.5 L182.1,151.7 L181.8,152.0 L181.5,152.3 L181.2,152.5 L180.9,152.8 L180.5,153.1 L180.1,153.4 L179.8,153.7 L179.4,154.0 L179.1,154.3 L178.8,154.5 L178.5,154.8 L178.2,155.0 L177.9,155.2 L177.6,155.5 L177.2,155.8 L176.8,156.1 L176.4,156.4 L176.1,156.6 L175.8,156.8 L175.5,157.0 L175.1,157.3 L174.6,157.6 L174.3,157.8 L174.0,158.0 L173.6,158.2 L173.1,158.5 L172.8,158.6 L172.4,158.8 L171.9,159.0 L171.6,159.2 L171.0,159.4 L170.7,159.5 L170.2,159.7 L169.8,159.8 L169.2,160.0 L168.9,160.1 L168.3,160.2 L168.0,160.3 L167.4,160.4 L166.8,160.6 L166.5,160.6 M211.5,133.7 L210.9,133.8 L210.3,133.8 L209.7,133.8 L209.1,133.7 L208.7,133.6 L208.3,133.3 L208.0,133.0 L207.9,132.7 L207.8,132.1 L207.9,131.6 L208.0,131.2 L208.2,130.7 L208.4,130.3 L208.5,130.0 L208.8,129.6 L209.1,129.1 L209.4,128.8 L209.6,128.5 L209.8,128.2 L210.1,127.9 L210.4,127.6 L210.6,127.3 L210.9,127.0 L211.2,126.7 L211.5,126.4 L211.9,126.1 L212.2,125.8 L212.5,125.5 L212.9,125.2 L213.2,124.9 L213.6,124.6 L213.9,124.4 L214.2,124.1 L214.5,123.9 L214.8,123.7 L215.1,123.4 L215.6,123.1 L216.0,122.8 L216.3,122.6 L216.6,122.4 L216.9,122.2 L217.3,121.9 L217.7,121.6 L218.1,121.4 L218.4,121.2 L218.7,121.0 L219.2,120.7 L219.6,120.5 L219.9,120.3 L220.2,120.1 L220.8,119.8 L221.1,119.6 L221.4,119.5 L222.0,119.2 L222.3,119.1 L222.7,118.9 L223.2,118.7 L223.5,118.6 L224.1,118.3 L224.4,118.2 L225.0,118.1 L225.3,118.0 L225.9,117.9 L226.5,117.8 L227.1,117.8 L227.7,117.9 L228.2,118.0 L228.6,118.2 L228.9,118.6 L229.1,118.9 L229.2,119.5 L229.1,120.1 L228.9,120.7 L228.8,121.0 L228.6,121.4 L228.3,121.9 L228.1,122.2 L227.9,122.5 L227.7,122.8 L227.4,123.2 L227.1,123.6 L226.8,123.9 L226.5,124.2 L226.2,124.5 L225.9,124.8 L225.6,125.1 L225.3,125.4 L225.0,125.7 L224.7,126.0 L224.4,126.2 L224.1,126.5 L223.8,126.7 L223.5,127.0 L223.1,127.3 L222.7,127.6 L222.3,127.9 L222.0,128.1 L221.7,128.4 L221.4,128.6 L221.1,128.8 L220.7,129.1 L220.2,129.4 L219.9,129.6 L219.6,129.8 L219.3,130.0 L218.8,130.3 L218.4,130.6 L218.1,130.8 L217.8,130.9 L217.3,131.2 L216.9,131.4 L216.6,131.6 L216.2,131.8 L215.7,132.1 L215.4,132.2 L215.0,132.4 L214.5,132.6 L214.2,132.8 L213.6,133.0 L213.3,133.1 L212.8,133.3 L212.4,133.4 L211.8,133.6 L211.5,133.7 M169.5,159.1 L168.9,159.2 L168.3,159.3 L167.7,159.4 L167.1,159.4 L166.5,159.3 L166.0,159.1 L165.6,158.8 L165.4,158.5 L165.2,158.2 L165.1,157.6 L165.0,157.0 L165.0,156.7 L165.0,156.4 L165.0,155.8 L165.1,155.2 L165.3,154.6 L165.3,154.3 L165.5,153.7 L165.6,153.4 L165.9,152.8 L166.0,152.5 L166.2,152.2 L166.5,151.6 L166.7,151.3 L166.9,151.0 L167.1,150.7 L167.4,150.3 L167.7,149.9 L168.0,149.5 L168.2,149.2 L168.5,148.9 L168.7,148.6 L169.0,148.3 L169.3,148.0 L169.6,147.7 L169.9,147.4 L170.2,147.1 L170.5,146.8 L170.8,146.5 L171.1,146.2 L171.4,145.9 L171.7,145.6 L172.1,145.3 L172.4,145.0 L172.7,144.7 L173.1,144.4 L173.4,144.1 L173.7,143.9 L174.0,143.6 L174.3,143.3 L174.6,143.1 L174.9,142.9 L175.2,142.6 L175.6,142.3 L176.0,142.0 L176.4,141.7 L176.7,141.5 L177.0,141.3 L177.3,141.1 L177.8,140.8 L178.2,140.5 L178.5,140.4 L178.8,140.2 L179.4,139.9 L179.7,139.7 L180.0,139.6 L180.6,139.4 L180.9,139.2 L181.5,139.1 L181.8,139.0 L182.4,138.8 L183.0,138.8 L183.6,138.7 L184.2,138.7 L184.8,138.8 L185.4,139.0 L185.7,139.1 L186.0,139.3 L186.4,139.6 L186.7,139.9 L187.0,140.2 L187.2,140.6 L187.4,141.1 L187.5,141.6 L187.5,142.0 L187.5,142.6 L187.5,142.9 L187.4,143.5 L187.2,144.1 L187.1,144.4 L186.9,145.0 L186.7,145.3 L186.6,145.6 L186.3,146.1 L186.1,146.5 L185.9,146.8 L185.7,147.1 L185.4,147.4 L185.1,147.8 L184.8,148.2 L184.5,148.5 L184.2,148.9 L183.9,149.2 L183.6,149.5 L183.3,149.8 L183.0,150.1 L182.7,150.4 L182.4,150.7 L182.1,151.0 L181.8,151.2 L181.5,151.5 L181.2,151.8 L180.9,152.0 L180.6,152.3 L180.3,152.6 L180.0,152.8 L179.7,153.1 L179.3,153.4 L178.9,153.7 L178.6,154.0 L178.2,154.3 L177.9,154.5 L177.6,154.8 L177.3,155.0 L177.0,155.2 L176.7,155.5 L176.3,155.8 L175.8,156.1 L175.5,156.3 L175.2,156.5 L174.9,156.7 L174.5,157.0 L174.0,157.3 L173.7,157.5 L173.4,157.6 L172.9,157.9 L172.5,158.1 L172.2,158.2 L171.6,158.5 L171.3,158.6 L170.7,158.8 L170.4,158.9 L169.8,159.1 L169.5,159.1 M212.1,133.0 L211.5,133.2 L210.9,133.2 L210.3,133.2 L209.7,133.1 L209.4,133.0 L209.0,132.7 L208.8,132.4 L208.6,131.8 L208.7,131.2 L208.8,130.8 L209.0,130.3 L209.1,130.0 L209.4,129.5 L209.7,129.1 L209.9,128.8 L210.1,128.5 L210.4,128.2 L210.6,127.9 L210.9,127.6 L211.2,127.3 L211.5,126.9 L211.8,126.6 L212.1,126.4 L212.4,126.1 L212.7,125.8 L213.0,125.5 L213.4,125.2 L213.7,124.9 L214.1,124.6 L214.5,124.3 L214.8,124.1 L215.1,123.8 L215.4,123.6 L215.7,123.4 L216.1,123.1 L216.5,122.8 L216.9,122.5 L217.2,122.3 L217.5,122.1 L217.9,121.9 L218.3,121.6 L218.7,121.4 L219.0,121.2 L219.3,121.0 L219.8,120.7 L220.2,120.5 L220.5,120.3 L221.0,120.1 L221.4,119.9 L221.7,119.7 L222.2,119.5 L222.6,119.3 L222.9,119.2 L223.5,119.0 L223.8,118.9 L224.4,118.7 L224.8,118.6 L225.3,118.5 L225.9,118.4 L226.5,118.4 L227.1,118.4 L227.6,118.6 L228.0,118.9 L228.3,119.2 L228.4,119.5 L228.4,120.1 L228.3,120.7 L228.2,121.0 L228.0,121.5 L227.8,121.9 L227.6,122.2 L227.4,122.5 L227.1,122.9 L226.8,123.3 L226.5,123.7 L226.2,124.0 L225.9,124.3 L225.6,124.6 L225.3,124.9 L225.0,125.2 L224.7,125.5 L224.4,125.8 L224.1,126.0 L223.8,126.3 L223.5,126.6 L223.2,126.8 L222.9,127.0 L222.6,127.3 L222.2,127.6 L221.8,127.9 L221.4,128.2 L221.1,128.4 L220.8,128.6 L220.5,128.8 L220.1,129.1 L219.6,129.4 L219.3,129.6 L219.0,129.8 L218.7,130.0 L218.2,130.3 L217.8,130.6 L217.5,130.7 L217.2,130.9 L216.6,131.2 L216.3,131.4 L216.0,131.5 L215.5,131.8 L215.1,132.0 L214.8,132.1 L214.2,132.4 L213.9,132.5 L213.3,132.7 L213.0,132.8 L212.4,133.0 L212.1,133.0 M170.1,158.3 L169.5,158.4 L168.9,158.4 L168.3,158.4 L167.7,158.4 L167.2,158.2 L166.8,158.0 L166.5,157.7 L166.2,157.3 L166.1,157.0 L165.9,156.4 L165.9,155.9 L165.9,155.5 L165.9,155.2 L166.0,154.6 L166.1,154.0 L166.2,153.7 L166.4,153.1 L166.6,152.8 L166.8,152.3 L167.0,151.9 L167.2,151.6 L167.4,151.2 L167.7,150.8 L168.0,150.4 L168.2,150.1 L168.4,149.8 L168.7,149.5 L168.9,149.2 L169.2,148.9 L169.5,148.5 L169.8,148.2 L170.1,147.9 L170.4,147.6 L170.7,147.3 L171.0,147.0 L171.3,146.7 L171.6,146.4 L171.9,146.1 L172.2,145.8 L172.5,145.6 L172.8,145.3 L173.1,145.0 L173.5,144.7 L173.8,144.4 L174.2,144.1 L174.5,143.8 L174.9,143.5 L175.2,143.3 L175.5,143.0 L175.8,142.8 L176.1,142.6 L176.5,142.3 L176.9,142.0 L177.3,141.7 L177.6,141.5 L177.9,141.3 L178.3,141.1 L178.8,140.8 L179.1,140.7 L179.4,140.5 L180.0,140.2 L180.3,140.1 L180.9,139.9 L181.2,139.8 L181.8,139.6 L182.1,139.6 L182.7,139.5 L183.3,139.5 L183.9,139.5 L184.3,139.6 L184.8,139.8 L185.1,139.9 L185.6,140.2 L185.9,140.5 L186.1,140.8 L186.3,141.1 L186.5,141.7 L186.6,142.0 L186.6,142.6 L186.6,143.2 L186.6,143.5 L186.4,144.1 L186.3,144.5 L186.1,145.0 L186.0,145.3 L185.7,145.8 L185.5,146.2 L185.3,146.5 L185.1,146.8 L184.8,147.2 L184.5,147.6 L184.2,148.0 L183.9,148.3 L183.7,148.6 L183.4,148.9 L183.1,149.2 L182.8,149.5 L182.5,149.8 L182.2,150.1 L181.9,150.4 L181.6,150.7 L181.3,151.0 L180.9,151.3 L180.6,151.6 L180.3,151.9 L180.0,152.1 L179.7,152.4 L179.4,152.6 L179.1,152.9 L178.8,153.2 L178.5,153.4 L178.1,153.7 L177.8,154.0 L177.4,154.3 L177.0,154.6 L176.7,154.8 L176.4,155.1 L176.1,155.3 L175.8,155.5 L175.4,155.8 L174.9,156.1 L174.6,156.3 L174.3,156.5 L173.9,156.7 L173.4,157.0 L173.1,157.2 L172.8,157.3 L172.2,157.6 L171.9,157.7 L171.4,157.9 L171.0,158.0 L170.4,158.2 L170.1,158.3 M212.7,132.4 L212.1,132.6 L211.5,132.6 L210.9,132.6 L210.3,132.5 L210.0,132.4 L209.7,132.1 L209.4,131.5 L209.4,131.2 L209.4,130.9 L209.6,130.3 L209.7,130.0 L210.0,129.4 L210.2,129.1 L210.4,128.8 L210.6,128.5 L210.9,128.2 L211.2,127.8 L211.5,127.5 L211.8,127.1 L212.1,126.8 L212.4,126.5 L212.7,126.2 L213.0,126.0 L213.3,125.7 L213.6,125.4 L213.9,125.2 L214.2,124.9 L214.6,124.6 L215.0,124.3 L215.4,124.0 L215.7,123.8 L216.0,123.5 L216.3,123.3 L216.6,123.1 L217.0,122.8 L217.5,122.5 L217.8,122.3 L218.1,122.1 L218.4,121.9 L218.9,121.6 L219.3,121.4 L219.6,121.2 L219.9,121.0 L220.5,120.7 L220.8,120.5 L221.1,120.4 L221.7,120.1 L222.0,120.0 L222.4,119.8 L222.9,119.6 L223.2,119.5 L223.8,119.3 L224.1,119.2 L224.7,119.1 L225.3,119.0 L225.9,118.9 L226.5,119.0 L227.1,119.2 L227.4,119.5 L227.6,119.8 L227.7,120.4 L227.6,121.0 L227.4,121.5 L227.2,121.9 L227.1,122.2 L226.8,122.6 L226.5,123.0 L226.2,123.4 L226.0,123.7 L225.7,124.0 L225.4,124.3 L225.2,124.6 L224.9,124.9 L224.6,125.2 L224.2,125.5 L223.9,125.8 L223.6,126.1 L223.2,126.4 L222.9,126.7 L222.6,126.9 L222.3,127.1 L222.0,127.4 L221.7,127.6 L221.3,127.9 L220.9,128.2 L220.5,128.5 L220.2,128.7 L219.9,128.9 L219.6,129.1 L219.1,129.4 L218.7,129.7 L218.4,129.8 L218.1,130.0 L217.6,130.3 L217.2,130.5 L216.9,130.7 L216.5,130.9 L216.0,131.2 L215.7,131.3 L215.3,131.5 L214.8,131.7 L214.5,131.8 L213.9,132.1 L213.6,132.2 L213.0,132.4 L212.7,132.4 M169.5,157.6 L169.0,157.6 L168.6,157.6 L168.0,157.4 L167.7,157.2 L167.4,157.0 L167.1,156.6 L166.9,156.1 L166.8,155.8 L166.7,155.2 L166.8,154.6 L166.8,154.3 L166.9,153.7 L167.1,153.2 L167.2,152.8 L167.4,152.4 L167.7,151.9 L167.8,151.6 L168.0,151.3 L168.3,150.9 L168.6,150.4 L168.8,150.1 L169.1,149.8 L169.3,149.5 L169.6,149.2 L169.8,148.9 L170.1,148.6 L170.4,148.3 L170.7,148.0 L171.0,147.7 L171.3,147.4 L171.6,147.1 L171.9,146.8 L172.2,146.5 L172.5,146.2 L172.8,145.9 L173.2,145.6 L173.5,145.3 L173.9,145.0 L174.2,144.7 L174.6,144.4 L174.9,144.1 L175.2,143.9 L175.5,143.6 L175.8,143.4 L176.1,143.2 L176.5,142.9 L176.9,142.6 L177.3,142.3 L177.6,142.1 L177.9,141.9 L178.3,141.7 L178.8,141.4 L179.1,141.3 L179.4,141.1 L180.0,140.9 L180.3,140.7 L180.9,140.5 L181.2,140.4 L181.8,140.3 L182.4,140.2 L183.0,140.2 L183.6,140.3 L184.2,140.5 L184.5,140.6 L184.8,140.8 L185.1,141.1 L185.4,141.5 L185.6,142.0 L185.7,142.3 L185.8,142.9 L185.8,143.5 L185.7,143.8 L185.6,144.4 L185.4,144.9 L185.2,145.3 L185.1,145.6 L184.8,146.1 L184.6,146.5 L184.4,146.8 L184.2,147.1 L183.9,147.5 L183.6,147.8 L183.3,148.2 L183.0,148.5 L182.7,148.9 L182.4,149.2 L182.1,149.5 L181.8,149.8 L181.5,150.1 L181.2,150.4 L180.9,150.7 L180.6,150.9 L180.3,151.2 L180.0,151.5 L179.7,151.7 L179.4,152.0 L179.1,152.3 L178.8,152.5 L178.5,152.8 L178.1,153.1 L177.7,153.4 L177.4,153.7 L177.0,154.0 L176.7,154.2 L176.4,154.4 L176.1,154.7 L175.8,154.9 L175.3,155.2 L174.9,155.5 L174.6,155.7 L174.3,155.9 L173.9,156.1 L173.4,156.4 L173.1,156.5 L172.8,156.7 L172.2,157.0 L171.9,157.1 L171.3,157.3 L171.0,157.4 L170.4,157.5 L169.8,157.6 L169.5,157.6 M213.3,131.9 L212.7,132.0 L212.1,132.1 L211.5,132.1 L210.9,132.0 L210.6,131.8 L210.3,131.5 L210.1,130.9 L210.2,130.3 L210.3,130.0 L210.6,129.4 L210.7,129.1 L210.9,128.8 L211.2,128.4 L211.5,128.0 L211.8,127.6 L212.1,127.3 L212.4,127.0 L212.7,126.7 L213.0,126.4 L213.3,126.1 L213.6,125.8 L213.9,125.6 L214.2,125.3 L214.5,125.1 L214.8,124.8 L215.1,124.6 L215.5,124.3 L215.9,124.0 L216.3,123.7 L216.6,123.5 L216.9,123.2 L217.2,123.0 L217.6,122.8 L218.0,122.5 L218.4,122.3 L218.7,122.1 L219.0,121.9 L219.5,121.6 L219.9,121.4 L220.2,121.2 L220.6,121.0 L221.1,120.7 L221.4,120.6 L221.9,120.4 L222.3,120.2 L222.6,120.1 L223.2,119.9 L223.5,119.8 L224.1,119.6 L224.7,119.5 L225.0,119.5 L225.6,119.5 L225.9,119.5 L226.5,119.8 L226.8,120.1 L226.9,120.4 L227.0,121.0 L226.8,121.6 L226.7,121.9 L226.5,122.3 L226.2,122.8 L226.0,123.1 L225.7,123.4 L225.5,123.7 L225.2,124.0 L225.0,124.3 L224.7,124.6 L224.4,124.9 L224.1,125.2 L223.8,125.5 L223.4,125.8 L223.1,126.1 L222.7,126.4 L222.4,126.7 L222.0,127.0 L221.7,127.2 L221.4,127.5 L221.1,127.7 L220.8,127.9 L220.4,128.2 L219.9,128.5 L219.6,128.7 L219.3,128.9 L219.0,129.1 L218.6,129.4 L218.1,129.7 L217.8,129.9 L217.5,130.0 L217.0,130.3 L216.6,130.5 L216.3,130.7 L215.8,130.9 L215.4,131.1 L215.1,131.2 L214.5,131.5 L214.2,131.6 L213.6,131.8 L213.3,131.9 M170.7,156.7 L170.1,156.8 L169.5,156.8 L169.0,156.7 L168.6,156.6 L168.3,156.4 L168.0,156.1 L167.7,155.5 L167.6,155.2 L167.6,154.6 L167.6,154.0 L167.7,153.5 L167.8,153.1 L168.0,152.6 L168.2,152.2 L168.3,151.9 L168.6,151.4 L168.8,151.0 L169.0,150.7 L169.3,150.4 L169.5,150.1 L169.8,149.7 L170.1,149.3 L170.4,149.0 L170.7,148.7 L171.0,148.3 L171.3,148.0 L171.6,147.7 L171.9,147.4 L172.2,147.1 L172.5,146.8 L172.8,146.6 L173.1,146.3 L173.4,146.0 L173.7,145.8 L174.0,145.5 L174.3,145.2 L174.6,145.0 L174.9,144.7 L175.3,144.4 L175.7,144.1 L176.1,143.8 L176.4,143.5 L176.7,143.3 L177.0,143.1 L177.3,142.9 L177.8,142.6 L178.2,142.4 L178.5,142.2 L178.8,142.0 L179.4,141.7 L179.7,141.6 L180.2,141.4 L180.6,141.3 L181.2,141.1 L181.5,141.0 L182.1,141.0 L182.7,141.0 L183.3,141.1 L183.6,141.2 L184.0,141.4 L184.3,141.7 L184.6,142.0 L184.8,142.5 L184.9,142.9 L184.9,143.5 L184.9,144.1 L184.8,144.4 L184.6,145.0 L184.5,145.3 L184.2,145.9 L184.0,146.2 L183.9,146.5 L183.6,146.9 L183.3,147.3 L183.0,147.7 L182.8,148.0 L182.5,148.3 L182.3,148.6 L182.0,148.9 L181.7,149.2 L181.4,149.5 L181.1,149.8 L180.8,150.1 L180.5,150.4 L180.2,150.7 L179.8,151.0 L179.5,151.3 L179.1,151.6 L178.8,151.9 L178.5,152.2 L178.2,152.4 L177.9,152.7 L177.6,152.9 L177.3,153.1 L177.0,153.4 L176.6,153.7 L176.2,154.0 L175.8,154.3 L175.5,154.5 L175.2,154.7 L174.9,154.9 L174.4,155.2 L174.0,155.5 L173.7,155.6 L173.4,155.8 L172.8,156.1 L172.5,156.2 L172.0,156.4 L171.6,156.5 L171.0,156.7 L170.7,156.7 M212.7,131.5 L212.1,131.5 L211.8,131.5 L211.2,131.2 L211.0,130.9 L210.9,130.6 L210.9,130.0 L211.0,129.7 L211.2,129.2 L211.4,128.8 L211.6,128.5 L211.8,128.2 L212.1,127.9 L212.4,127.5 L212.7,127.2 L213.0,126.8 L213.3,126.5 L213.6,126.3 L213.9,126.0 L214.2,125.7 L214.5,125.4 L214.8,125.2 L215.2,124.9 L215.5,124.6 L215.9,124.3 L216.3,124.0 L216.6,123.8 L216.9,123.6 L217.2,123.4 L217.6,123.1 L218.1,122.8 L218.4,122.6 L218.7,122.4 L219.0,122.2 L219.6,121.9 L219.9,121.7 L220.2,121.6 L220.7,121.3 L221.1,121.1 L221.4,121.0 L222.0,120.7 L222.3,120.6 L222.8,120.4 L223.2,120.3 L223.8,120.1 L224.1,120.1 L224.7,120.0 L225.3,120.1 L225.6,120.2 L226.0,120.4 L226.2,120.8 L226.3,121.3 L226.2,121.6 L226.0,122.2 L225.8,122.5 L225.6,122.9 L225.3,123.3 L225.0,123.7 L224.8,124.0 L224.5,124.3 L224.2,124.6 L223.9,124.9 L223.6,125.2 L223.3,125.5 L223.0,125.8 L222.6,126.1 L222.3,126.4 L222.0,126.6 L221.7,126.9 L221.4,127.1 L221.1,127.3 L220.7,127.6 L220.3,127.9 L219.9,128.2 L219.6,128.4 L219.3,128.6 L219.0,128.8 L218.5,129.1 L218.1,129.3 L217.8,129.5 L217.5,129.7 L216.9,130.0 L216.6,130.2 L216.3,130.3 L215.7,130.6 L215.4,130.7 L215.0,130.9 L214.5,131.1 L214.1,131.2 L213.6,131.4 L213.0,131.5 L212.7,131.5 M171.6,155.9 L171.0,156.0 L170.4,156.0 L169.8,156.0 L169.3,155.8 L168.9,155.5 L168.7,155.2 L168.5,154.9 L168.4,154.3 L168.4,153.7 L168.5,153.1 L168.6,152.8 L168.9,152.2 L169.0,151.9 L169.2,151.5 L169.5,151.0 L169.7,150.7 L169.9,150.4 L170.1,150.1 L170.4,149.8 L170.7,149.4 L171.0,149.1 L171.3,148.7 L171.6,148.4 L171.9,148.1 L172.2,147.8 L172.5,147.5 L172.8,147.2 L173.1,146.9 L173.4,146.7 L173.7,146.4 L174.0,146.1 L174.3,145.8 L174.6,145.6 L174.9,145.3 L175.3,145.0 L175.7,144.7 L176.1,144.4 L176.4,144.2 L176.7,143.9 L177.0,143.7 L177.3,143.5 L177.8,143.2 L178.2,143.0 L178.5,142.8 L178.9,142.6 L179.4,142.3 L179.7,142.2 L180.3,142.0 L180.6,141.9 L181.2,141.8 L181.8,141.7 L182.4,141.8 L183.0,142.0 L183.3,142.1 L183.6,142.4 L183.9,142.8 L184.0,143.2 L184.1,143.8 L184.0,144.4 L183.9,144.9 L183.8,145.3 L183.6,145.7 L183.3,146.2 L183.2,146.5 L183.0,146.8 L182.7,147.2 L182.4,147.6 L182.1,148.0 L181.8,148.3 L181.6,148.6 L181.3,148.9 L181.0,149.2 L180.7,149.5 L180.4,149.8 L180.1,150.1 L179.8,150.4 L179.4,150.7 L179.1,151.0 L178.8,151.3 L178.5,151.5 L178.2,151.8 L177.9,152.0 L177.6,152.3 L177.3,152.5 L177.0,152.8 L176.6,153.1 L176.2,153.4 L175.8,153.7 L175.5,153.9 L175.2,154.1 L174.9,154.3 L174.4,154.6 L174.0,154.9 L173.7,155.0 L173.3,155.2 L172.8,155.5 L172.5,155.6 L171.9,155.8 L171.6,155.9 M213.6,130.9 L213.0,131.0 L212.4,130.9 L212.1,130.8 L211.8,130.6 L211.6,130.0 L211.7,129.4 L211.8,129.1 L212.1,128.6 L212.3,128.2 L212.6,127.9 L212.8,127.6 L213.0,127.3 L213.3,127.0 L213.6,126.7 L213.9,126.4 L214.2,126.1 L214.6,125.8 L214.9,125.5 L215.3,125.2 L215.6,124.9 L216.0,124.6 L216.3,124.4 L216.6,124.2 L216.9,123.9 L217.2,123.7 L217.7,123.4 L218.1,123.1 L218.4,122.9 L218.7,122.8 L219.1,122.5 L219.6,122.2 L219.9,122.1 L220.2,121.9 L220.8,121.6 L221.1,121.5 L221.5,121.3 L222.0,121.1 L222.3,121.0 L222.9,120.8 L223.2,120.7 L223.8,120.6 L224.4,120.6 L225.0,120.7 L225.3,120.9 L225.5,121.3 L225.5,121.9 L225.3,122.5 L225.1,122.8 L225.0,123.1 L224.7,123.5 L224.4,123.9 L224.1,124.2 L223.8,124.6 L223.5,124.9 L223.2,125.2 L222.9,125.5 L222.6,125.7 L222.3,126.0 L222.0,126.2 L221.7,126.5 L221.4,126.7 L221.1,127.0 L220.7,127.3 L220.2,127.6 L219.9,127.8 L219.6,128.0 L219.3,128.2 L218.9,128.5 L218.4,128.8 L218.1,129.0 L217.8,129.2 L217.4,129.4 L216.9,129.7 L216.6,129.8 L216.2,130.0 L215.7,130.2 L215.4,130.4 L214.8,130.6 L214.5,130.7 L213.9,130.8 L213.6,130.9 M172.5,154.9 L171.9,155.1 L171.3,155.2 L170.7,155.2 L170.1,155.0 L169.8,154.8 L169.5,154.5 L169.3,154.0 L169.3,153.4 L169.4,152.8 L169.5,152.4 L169.7,151.9 L169.9,151.6 L170.1,151.2 L170.4,150.7 L170.6,150.4 L170.8,150.1 L171.1,149.8 L171.3,149.5 L171.6,149.2 L171.9,148.8 L172.2,148.5 L172.5,148.2 L172.8,147.9 L173.1,147.6 L173.4,147.3 L173.7,147.0 L174.0,146.8 L174.3,146.5 L174.6,146.2 L175.0,145.9 L175.4,145.6 L175.7,145.3 L176.1,145.0 L176.4,144.8 L176.7,144.6 L177.0,144.3 L177.4,144.1 L177.8,143.8 L178.2,143.6 L178.5,143.4 L178.9,143.2 L179.4,143.0 L179.7,142.9 L180.3,142.7 L180.8,142.6 L181.2,142.6 L181.8,142.6 L182.1,142.7 L182.6,142.9 L182.9,143.2 L183.0,143.5 L183.2,144.1 L183.1,144.7 L183.0,145.3 L182.9,145.6 L182.7,146.0 L182.4,146.5 L182.3,146.8 L182.1,147.1 L181.8,147.5 L181.5,147.8 L181.2,148.2 L180.9,148.5 L180.6,148.9 L180.3,149.2 L180.0,149.5 L179.7,149.8 L179.4,150.1 L179.1,150.3 L178.8,150.6 L178.5,150.9 L178.2,151.1 L177.9,151.4 L177.6,151.6 L177.3,151.9 L176.9,152.2 L176.5,152.5 L176.1,152.8 L175.8,153.1 L175.5,153.3 L175.2,153.5 L174.9,153.7 L174.4,154.0 L174.0,154.2 L173.7,154.4 L173.2,154.6 L172.8,154.8 L172.5,154.9 M214.2,130.3 L213.6,130.4 L213.0,130.3 L212.7,130.2 L212.4,129.7 L212.4,129.4 L212.4,129.1 L212.7,128.5 L212.9,128.2 L213.1,127.9 L213.3,127.6 L213.6,127.2 L213.9,126.9 L214.2,126.6 L214.5,126.3 L214.8,126.0 L215.1,125.7 L215.4,125.5 L215.7,125.2 L216.1,124.9 L216.5,124.6 L216.9,124.3 L217.2,124.1 L217.5,123.9 L217.8,123.7 L218.2,123.4 L218.7,123.1 L219.0,122.9 L219.3,122.7 L219.7,122.5 L220.2,122.3 L220.5,122.1 L220.9,121.9 L221.4,121.7 L221.7,121.6 L222.3,121.4 L222.6,121.3 L223.2,121.2 L223.8,121.2 L224.3,121.3 L224.7,121.6 L224.8,121.9 L224.7,122.4 L224.6,122.8 L224.4,123.1 L224.1,123.6 L223.8,124.0 L223.6,124.3 L223.3,124.6 L223.0,124.9 L222.7,125.2 L222.4,125.5 L222.0,125.8 L221.7,126.1 L221.4,126.3 L221.1,126.6 L220.8,126.8 L220.5,127.0 L220.2,127.3 L219.7,127.6 L219.3,127.9 L219.0,128.1 L218.7,128.3 L218.3,128.5 L217.8,128.8 L217.5,129.0 L217.2,129.1 L216.7,129.4 L216.3,129.6 L216.0,129.7 L215.4,130.0 L215.1,130.1 L214.5,130.2 L214.2,130.3 M172.8,154.0 L172.2,154.2 L171.6,154.2 L171.0,154.1 L170.7,154.0 L170.4,153.6 L170.3,153.1 L170.3,152.5 L170.4,152.2 L170.6,151.6 L170.8,151.3 L171.0,150.9 L171.3,150.5 L171.6,150.1 L171.8,149.8 L172.1,149.5 L172.3,149.2 L172.6,148.9 L172.9,148.6 L173.2,148.3 L173.5,148.0 L173.8,147.7 L174.1,147.4 L174.4,147.1 L174.8,146.8 L175.1,146.5 L175.5,146.2 L175.8,145.9 L176.1,145.7 L176.4,145.5 L176.7,145.2 L177.0,145.0 L177.5,144.7 L177.9,144.4 L178.2,144.3 L178.5,144.1 L179.1,143.8 L179.4,143.7 L180.0,143.6 L180.3,143.5 L180.9,143.5 L181.2,143.5 L181.8,143.8 L182.0,144.1 L182.1,144.4 L182.2,145.0 L182.1,145.3 L181.9,145.9 L181.8,146.2 L181.5,146.7 L181.3,147.1 L181.1,147.4 L180.8,147.7 L180.6,148.0 L180.3,148.3 L180.0,148.7 L179.7,149.0 L179.4,149.3 L179.1,149.6 L178.8,149.9 L178.5,150.2 L178.2,150.4 L177.9,150.7 L177.5,151.0 L177.2,151.3 L176.8,151.6 L176.4,151.9 L176.1,152.2 L175.8,152.4 L175.5,152.6 L175.2,152.8 L174.7,153.1 L174.3,153.3 L174.0,153.5 L173.6,153.7 L173.1,153.9 L172.8,154.0 M214.5,129.7 L213.9,129.7 L213.6,129.6 L213.3,129.4 L213.2,128.8 L213.3,128.5 L213.6,128.0 L213.8,127.6 L214.1,127.3 L214.3,127.0 L214.6,126.7 L214.9,126.4 L215.2,126.1 L215.5,125.8 L215.9,125.5 L216.2,125.2 L216.6,124.9 L216.9,124.7 L217.2,124.5 L217.5,124.3 L217.9,124.0 L218.3,123.7 L218.7,123.5 L219.0,123.3 L219.3,123.1 L219.9,122.8 L220.2,122.6 L220.5,122.5 L221.1,122.2 L221.4,122.1 L222.0,121.9 L222.3,121.9 L222.9,121.8 L223.5,121.9 L223.8,122.1 L223.9,122.5 L223.8,123.1 L223.7,123.4 L223.5,123.7 L223.2,124.1 L222.9,124.5 L222.6,124.8 L222.3,125.1 L222.0,125.4 L221.7,125.7 L221.4,125.9 L221.1,126.2 L220.8,126.4 L220.4,126.7 L220.0,127.0 L219.6,127.3 L219.3,127.5 L219.0,127.7 L218.7,127.9 L218.2,128.2 L217.8,128.4 L217.5,128.6 L217.1,128.8 L216.6,129.1 L216.3,129.2 L215.8,129.4 L215.4,129.5 L214.8,129.7 L214.5,129.7 M173.7,152.8 L173.1,153.0 L172.5,153.1 L171.9,152.9 L171.6,152.6 L171.5,152.2 L171.6,151.8 L171.8,151.3 L171.9,151.0 L172.2,150.5 L172.5,150.1 L172.7,149.8 L172.9,149.5 L173.2,149.2 L173.5,148.9 L173.7,148.6 L174.0,148.3 L174.3,148.0 L174.7,147.7 L175.0,147.4 L175.3,147.1 L175.7,146.8 L176.1,146.5 L176.4,146.2 L176.7,146.0 L177.0,145.8 L177.3,145.6 L177.8,145.3 L178.2,145.1 L178.5,145.0 L179.1,144.7 L179.4,144.7 L180.0,144.6 L180.4,144.7 L180.8,145.0 L180.9,145.3 L180.9,145.8 L180.8,146.2 L180.6,146.7 L180.4,147.1 L180.2,147.4 L179.9,147.7 L179.7,148.0 L179.4,148.4 L179.1,148.7 L178.8,149.0 L178.5,149.3 L178.2,149.6 L177.9,149.9 L177.6,150.1 L177.3,150.4 L176.9,150.7 L176.6,151.0 L176.2,151.3 L175.8,151.6 L175.5,151.8 L175.2,152.0 L174.9,152.2 L174.3,152.5 L174.0,152.7 L173.7,152.8" fill="none" stroke="#333" stroke-width="0.5" stroke-linejoin="round"/>
<text x="259.60" y="93.60" font-size="11.2" fill="#111" font-weight="bold">C</text>
<path d="M323.50,158.30 L325.00,156.50 L326.50,152.00 L327.80,146.00 L328.80,140.00 L330.00,133.00 L331.30,126.00 L332.50,120.50 L333.60,117.20 L334.50,116.00 L335.30,116.40 L336.00,115.80 L336.90,117.50 L338.00,122.00 L339.00,128.00 L340.20,135.00 L341.30,142.00 L342.50,148.50 L343.80,153.50 L345.00,156.50 L346.50,158.30 Z" fill="#36465b" stroke="#2d3a4c" stroke-width="0.6"/>
<line x1="264.10" y1="158.30" x2="360.20" y2="158.30" stroke="#6e6e72" stroke-width="1.0"/>
<path d="M290.00,206.90 L293.00,202.50 L296.50,198.00 L300.00,193.50 L303.00,189.50 L305.50,186.50 L307.50,184.00 L309.00,180.50 L310.20,177.00 L311.20,174.00 L312.00,172.20 L312.80,171.60 L313.60,173.20 L314.60,175.50 L315.40,178.50 L316.00,183.00 L316.60,189.00 L317.30,195.00 L318.20,200.50 L319.30,204.50 L320.30,206.90 Z" fill="#c9c9cb" stroke="none" stroke-width="0"/>
<path d="M289.50,182.70 L292.00,181.50 L296.00,180.00 L300.00,178.00 L303.00,176.00 L305.00,174.50 L307.50,173.20 L309.00,171.00 L310.50,168.50 L311.50,166.00 L312.50,163.00 L313.30,159.50 L314.00,156.50 L315.00,152.00 L316.00,148.50 L316.80,145.00 L317.60,143.20 L318.30,144.50 L319.20,142.50 L320.30,140.80 L321.20,143.00 L322.20,145.00 L322.80,150.00 L323.40,157.00 L324.20,165.00 L325.20,172.00 L326.50,177.50 L328.00,181.00 L330.00,182.70 Z" fill="#ee8a82" stroke="#c9283f" stroke-width="0.8"/>
<line x1="264.10" y1="182.70" x2="360.20" y2="182.70" stroke="#d4546c" stroke-width="1.1"/>
<line x1="312.00" y1="158.30" x2="325.00" y2="158.30" stroke="#7a5a60" stroke-width="0.8"/>
<clipPath id="cpa"><rect x="260" y="150" width="100" height="32.9"/></clipPath>
<clipPath id="cpb"><rect x="260" y="182.8" width="100" height="30"/></clipPath>
<path d="M290.00,206.90 L293.00,202.50 L296.50,198.00 L300.00,193.50 L303.00,189.50 L305.50,186.50 L307.50,184.00 L309.00,180.50 L310.20,177.00 L311.20,174.00 L312.00,172.20 L312.80,171.60 L313.60,173.20 L314.60,175.50 L315.40,178.50 L316.00,183.00 L316.60,189.00 L317.30,195.00 L318.20,200.50 L319.30,204.50 L320.30,206.90" fill="none" stroke="#6a1a22" stroke-width="1.0" stroke-dasharray="2.2,1.6" clip-path="url(#cpa)"/>
<path d="M290.00,206.90 L293.00,202.50 L296.50,198.00 L300.00,193.50 L303.00,189.50 L305.50,186.50 L307.50,184.00 L309.00,180.50 L310.20,177.00 L311.20,174.00 L312.00,172.20 L312.80,171.60 L313.60,173.20 L314.60,175.50 L315.40,178.50 L316.00,183.00 L316.60,189.00 L317.30,195.00 L318.20,200.50 L319.30,204.50 L320.30,206.90" fill="none" stroke="#1e1e1e" stroke-width="1.0" stroke-dasharray="2.2,1.6" clip-path="url(#cpb)"/>
<rect x="264.10" y="110.40" width="96.10" height="96.50" fill="none" stroke="#333" stroke-width="1.1"/>
<path d="M292.3,206.9v3.0M317.6,206.9v3.0M338.8,206.9v3.0M273.6,206.9v1.6M277.5,206.9v1.6M280.2,206.9v1.6M282.4,206.9v1.6M284.1,206.9v1.6M285.6,206.9v1.6M286.9,206.9v1.6M288.0,206.9v1.6M298.9,206.9v1.6M302.8,206.9v1.6M305.5,206.9v1.6M307.7,206.9v1.6M309.4,206.9v1.6M310.9,206.9v1.6M312.2,206.9v1.6M313.3,206.9v1.6M324.2,206.9v1.6M328.1,206.9v1.6M330.8,206.9v1.6M333.0,206.9v1.6M334.7,206.9v1.6M336.2,206.9v1.6M337.5,206.9v1.6M338.6,206.9v1.6M345.4,206.9v1.6M349.3,206.9v1.6M352.0,206.9v1.6M354.2,206.9v1.6M355.9,206.9v1.6M357.4,206.9v1.6M358.7,206.9v1.6" fill="none" stroke="#222" stroke-width="0.7"/>
<text x="301.60" y="221.20" font-size="8.3" fill="#242424" stroke="#242424" stroke-width="0.1" textLength="16.10" lengthAdjust="spacingAndGlyphs">PD-L1</text>
<text x="366.30" y="116.90" font-size="8.2" fill="#242424" stroke="#242424" stroke-width="0.1" textLength="35.00" lengthAdjust="spacingAndGlyphs">Antibody:</text>
<text x="420.00" y="116.90" font-size="8.2" fill="#242424" stroke="#242424" stroke-width="0.1" textLength="26.90" lengthAdjust="spacingAndGlyphs">sgRNA:</text>
<text x="366.30" y="143.60" font-size="8.2" fill="#242424" stroke="#242424" stroke-width="0.1" textLength="36.40" lengthAdjust="spacingAndGlyphs">anti-PD-L1</text>
<text x="420.00" y="143.60" font-size="8.2" fill="#242424" stroke="#242424" stroke-width="0.1" textLength="23.70" lengthAdjust="spacingAndGlyphs">AAVS1</text>
<text x="366.30" y="170.50" font-size="8.2" fill="#242424" stroke="#242424" stroke-width="0.1" textLength="36.40" lengthAdjust="spacingAndGlyphs">anti-PD-L1</text>
<text x="420.00" y="170.50" font-size="8.2" fill="#242424" stroke="#242424" stroke-width="0.1" textLength="19.80" lengthAdjust="spacingAndGlyphs">PD-L1</text>
<text x="366.30" y="197.80" font-size="8.2" fill="#242424" stroke="#242424" stroke-width="0.1" textLength="25.40" lengthAdjust="spacingAndGlyphs">Isotype</text>
<text x="420.00" y="197.80" font-size="8.2" fill="#242424" stroke="#242424" stroke-width="0.1" textLength="23.70" lengthAdjust="spacingAndGlyphs">AAVS1</text>
<text x="6.80" y="247.20" font-size="11.2" fill="#111" font-weight="bold">D</text>
<text x="82.50" y="262.20" font-size="8.2" fill="#242424" stroke="#242424" stroke-width="0.1" textLength="13.80" lengthAdjust="spacingAndGlyphs">20hr</text>
<line x1="39.40" y1="267.30" x2="39.40" y2="350.50" stroke="#1a1a1a" stroke-width="1.0"/>
<line x1="36.40" y1="279.25" x2="39.40" y2="279.25" stroke="#1a1a1a" stroke-width="1.0"/>
<text x="21.30" y="282.15" font-size="8.2" fill="#242424" stroke="#242424" stroke-width="0.1" textLength="12.30" lengthAdjust="spacingAndGlyphs">100</text>
<line x1="36.40" y1="309.00" x2="39.40" y2="309.00" stroke="#1a1a1a" stroke-width="1.0"/>
<text x="25.20" y="311.90" font-size="8.2" fill="#242424" stroke="#242424" stroke-width="0.1" textLength="8.40" lengthAdjust="spacingAndGlyphs">50</text>
<line x1="36.40" y1="338.75" x2="39.40" y2="338.75" stroke="#1a1a1a" stroke-width="1.0"/>
<text x="29.40" y="341.65" font-size="8.2" fill="#242424" stroke="#242424" stroke-width="0.1" textLength="4.20" lengthAdjust="spacingAndGlyphs">0</text>
<line x1="39.40" y1="350.50" x2="139.60" y2="350.50" stroke="#1a1a1a" stroke-width="1.0"/>
<line x1="59.50" y1="350.50" x2="59.50" y2="353.50" stroke="#1a1a1a" stroke-width="1.0"/>
<line x1="89.50" y1="350.50" x2="89.50" y2="353.50" stroke="#1a1a1a" stroke-width="1.0"/>
<line x1="119.60" y1="350.50" x2="119.60" y2="353.50" stroke="#1a1a1a" stroke-width="1.0"/>
<text x="14.30" y="335.70" font-size="8.2" fill="#242424" stroke="#242424" stroke-width="0.1" textLength="54.10" lengthAdjust="spacingAndGlyphs" transform="rotate(-90 14.30 335.70)">Specific lysis (%)</text>
<text x="48.80" y="363.80" font-size="8.2" fill="#242424" stroke="#242424" stroke-width="0.1" textLength="21.60" lengthAdjust="spacingAndGlyphs">0.25:1</text>
<text x="81.20" y="363.80" font-size="8.2" fill="#242424" stroke="#242424" stroke-width="0.1" textLength="16.80" lengthAdjust="spacingAndGlyphs">0.5:1</text>
<text x="115.40" y="363.80" font-size="8.2" fill="#242424" stroke="#242424" stroke-width="0.1" textLength="8.80" lengthAdjust="spacingAndGlyphs">1:1</text>
<text x="78.00" y="376.40" font-size="8.2" fill="#242424" stroke="#242424" stroke-width="0.1" textLength="23.30" lengthAdjust="spacingAndGlyphs">ET ratio</text>
<path d="M59.5,304.7 L89.5,287.8 L119.6,282.0" fill="none" stroke="#22487a" stroke-width="1.0"/>
<line x1="59.50" y1="301.30" x2="59.50" y2="307.20" stroke="#22487a" stroke-width="0.9"/>
<line x1="57.90" y1="301.30" x2="61.10" y2="301.30" stroke="#22487a" stroke-width="0.9"/>
<line x1="57.90" y1="307.20" x2="61.10" y2="307.20" stroke="#22487a" stroke-width="0.9"/>
<circle cx="59.5" cy="304.7" r="1.9" fill="#22487a"/>
<circle cx="89.5" cy="287.8" r="1.9" fill="#22487a"/>
<circle cx="119.6" cy="282.0" r="1.9" fill="#22487a"/>
<path d="M59.5,340.2 L89.5,333.4 L119.6,331.3" fill="none" stroke="#c8102e" stroke-width="1.0"/>
<rect x="57.70" y="338.40" width="3.60" height="3.60" fill="#c8102e" stroke="none" stroke-width="1"/>
<rect x="87.70" y="331.60" width="3.60" height="3.60" fill="#c8102e" stroke="none" stroke-width="1"/>
<rect x="117.80" y="329.50" width="3.60" height="3.60" fill="#c8102e" stroke="none" stroke-width="1"/>
<rect x="57.70" y="337.50" width="3.60" height="3.60" fill="#c8102e" stroke="none" stroke-width="1"/>
<rect x="57.70" y="341.00" width="3.60" height="3.60" fill="#c8102e" stroke="none" stroke-width="1"/>
<text x="54.50" y="301.70" font-size="7.0" fill="#e02a3c" font-weight="bold" textLength="10.00" lengthAdjust="spacingAndGlyphs">***</text>
<text x="84.70" y="285.90" font-size="7.0" fill="#e02a3c" font-weight="bold" textLength="10.00" lengthAdjust="spacingAndGlyphs">***</text>
<text x="114.60" y="280.10" font-size="7.0" fill="#e02a3c" font-weight="bold" textLength="10.00" lengthAdjust="spacingAndGlyphs">***</text>
<text x="143.00" y="298.80" font-size="8.2" fill="#242424" stroke="#242424" stroke-width="0.1" textLength="27.00" lengthAdjust="spacingAndGlyphs">Effecor:</text>
<text x="180.50" y="298.80" font-size="8.2" fill="#242424" stroke="#242424" stroke-width="0.1" textLength="47.00" lengthAdjust="spacingAndGlyphs">PD-L1 CAR-T</text>
<text x="143.00" y="312.00" font-size="8.2" fill="#242424" stroke="#242424" stroke-width="0.1" textLength="24.00" lengthAdjust="spacingAndGlyphs">Target:</text>
<line x1="177.00" y1="309.30" x2="185.50" y2="309.30" stroke="#22487a" stroke-width="1.0"/>
<circle cx="181.3" cy="309.3" r="1.4" fill="#22487a"/>
<text x="192.00" y="312.30" font-size="8.2" fill="#242424" stroke="#242424" stroke-width="0.1" textLength="48.00" lengthAdjust="spacingAndGlyphs">KK1-sgAAVS1</text>
<line x1="177.00" y1="321.80" x2="185.50" y2="321.80" stroke="#c8102e" stroke-width="1.0"/>
<rect x="179.90" y="320.40" width="2.80" height="2.80" fill="#c8102e" stroke="none" stroke-width="1"/>
<text x="192.00" y="324.60" font-size="8.2" fill="#242424" stroke="#242424" stroke-width="0.1" textLength="45.50" lengthAdjust="spacingAndGlyphs">KK1-sgPD-L1</text>
<text x="254.80" y="247.20" font-size="11.2" fill="#111" font-weight="bold">E</text>
<text x="326.30" y="259.80" font-size="8.2" fill="#242424" stroke="#242424" stroke-width="0.1" textLength="14.20" lengthAdjust="spacingAndGlyphs">11hr</text>
<line x1="283.40" y1="264.90" x2="283.40" y2="350.60" stroke="#1a1a1a" stroke-width="1.0"/>
<line x1="280.40" y1="267.40" x2="283.40" y2="267.40" stroke="#1a1a1a" stroke-width="1.0"/>
<text x="269.00" y="270.30" font-size="8.2" fill="#242424" stroke="#242424" stroke-width="0.1" textLength="8.30" lengthAdjust="spacingAndGlyphs">80</text>
<line x1="280.40" y1="285.80" x2="283.40" y2="285.80" stroke="#1a1a1a" stroke-width="1.0"/>
<text x="269.00" y="288.70" font-size="8.2" fill="#242424" stroke="#242424" stroke-width="0.1" textLength="8.30" lengthAdjust="spacingAndGlyphs">60</text>
<line x1="280.40" y1="304.20" x2="283.40" y2="304.20" stroke="#1a1a1a" stroke-width="1.0"/>
<text x="269.00" y="307.10" font-size="8.2" fill="#242424" stroke="#242424" stroke-width="0.1" textLength="8.30" lengthAdjust="spacingAndGlyphs">40</text>
<line x1="280.40" y1="322.60" x2="283.40" y2="322.60" stroke="#1a1a1a" stroke-width="1.0"/>
<text x="269.00" y="325.50" font-size="8.2" fill="#242424" stroke="#242424" stroke-width="0.1" textLength="8.30" lengthAdjust="spacingAndGlyphs">20</text>
<line x1="280.40" y1="341.00" x2="283.40" y2="341.00" stroke="#1a1a1a" stroke-width="1.0"/>
<text x="273.20" y="343.90" font-size="8.2" fill="#242424" stroke="#242424" stroke-width="0.1" textLength="4.10" lengthAdjust="spacingAndGlyphs">0</text>
<line x1="283.40" y1="350.60" x2="382.70" y2="350.60" stroke="#1a1a1a" stroke-width="1.0"/>
<line x1="303.00" y1="350.60" x2="303.00" y2="353.40" stroke="#1a1a1a" stroke-width="1.0"/>
<line x1="332.90" y1="350.60" x2="332.90" y2="353.40" stroke="#1a1a1a" stroke-width="1.0"/>
<line x1="362.80" y1="350.60" x2="362.80" y2="353.40" stroke="#1a1a1a" stroke-width="1.0"/>
<text x="262.70" y="335.00" font-size="8.2" fill="#242424" stroke="#242424" stroke-width="0.1" textLength="54.60" lengthAdjust="spacingAndGlyphs" transform="rotate(-90 262.70 335.00)">Specific lysis (%)</text>
<text x="298.00" y="363.80" font-size="8.2" fill="#242424" stroke="#242424" stroke-width="0.1" textLength="10.00" lengthAdjust="spacingAndGlyphs">1:1</text>
<text x="327.90" y="363.80" font-size="8.2" fill="#242424" stroke="#242424" stroke-width="0.1" textLength="10.00" lengthAdjust="spacingAndGlyphs">2:1</text>
<text x="357.80" y="363.80" font-size="8.2" fill="#242424" stroke="#242424" stroke-width="0.1" textLength="10.00" lengthAdjust="spacingAndGlyphs">4:1</text>
<text x="322.00" y="376.40" font-size="8.2" fill="#242424" stroke="#242424" stroke-width="0.1" textLength="23.00" lengthAdjust="spacingAndGlyphs">ET ratio</text>
<path d="M303.0,346.3 L332.9,345.5 L362.8,336.3" fill="none" stroke="#c6c6c6" stroke-width="1.0"/>
<circle cx="303.0" cy="346.3" r="1.6" fill="#c6c6c6"/>
<circle cx="332.9" cy="345.5" r="1.6" fill="#c6c6c6"/>
<circle cx="362.8" cy="336.3" r="1.6" fill="#c6c6c6"/>
<path d="M303.0,342.0 L332.9,342.9 L362.8,334.2" fill="none" stroke="#2f6e52" stroke-width="1.0"/>
<circle cx="303.0" cy="342.0" r="1.6" fill="#2f6e52"/>
<circle cx="332.9" cy="342.9" r="1.6" fill="#2f6e52"/>
<circle cx="362.8" cy="334.2" r="1.6" fill="#2f6e52"/>
<line x1="303.00" y1="337.70" x2="303.00" y2="345.50" stroke="#2f6e52" stroke-width="0.8"/>
<line x1="301.50" y1="337.70" x2="304.50" y2="337.70" stroke="#2f6e52" stroke-width="0.8"/>
<line x1="301.50" y1="345.50" x2="304.50" y2="345.50" stroke="#2f6e52" stroke-width="0.8"/>
<line x1="332.90" y1="340.60" x2="332.90" y2="344.80" stroke="#2f6e52" stroke-width="0.8"/>
<line x1="331.40" y1="340.60" x2="334.40" y2="340.60" stroke="#2f6e52" stroke-width="0.8"/>
<line x1="331.40" y1="344.80" x2="334.40" y2="344.80" stroke="#2f6e52" stroke-width="0.8"/>
<line x1="362.80" y1="332.00" x2="362.80" y2="336.20" stroke="#2f6e52" stroke-width="0.8"/>
<line x1="361.30" y1="332.00" x2="364.30" y2="332.00" stroke="#2f6e52" stroke-width="0.8"/>
<line x1="361.30" y1="336.20" x2="364.30" y2="336.20" stroke="#2f6e52" stroke-width="0.8"/>
<path d="M303.0,334.2 L332.9,327.0 L362.8,325.9" fill="none" stroke="#454545" stroke-width="1.0"/>
<circle cx="303.0" cy="334.2" r="1.7" fill="#454545"/>
<circle cx="332.9" cy="327.0" r="1.7" fill="#454545"/>
<circle cx="362.8" cy="325.9" r="1.7" fill="#454545"/>
<line x1="303.00" y1="331.80" x2="303.00" y2="336.50" stroke="#454545" stroke-width="0.8"/>
<line x1="301.50" y1="331.80" x2="304.50" y2="331.80" stroke="#454545" stroke-width="0.8"/>
<line x1="301.50" y1="336.50" x2="304.50" y2="336.50" stroke="#454545" stroke-width="0.8"/>
<line x1="332.90" y1="325.00" x2="332.90" y2="329.00" stroke="#454545" stroke-width="0.8"/>
<line x1="331.40" y1="325.00" x2="334.40" y2="325.00" stroke="#454545" stroke-width="0.8"/>
<line x1="331.40" y1="329.00" x2="334.40" y2="329.00" stroke="#454545" stroke-width="0.8"/>
<path d="M303.0,313.0 L332.9,305.5 L362.8,281.8" fill="none" stroke="#c8102e" stroke-width="1.0"/>
<rect x="301.30" y="311.30" width="3.40" height="3.40" fill="#c8102e" stroke="none" stroke-width="1"/>
<rect x="331.20" y="303.80" width="3.40" height="3.40" fill="#c8102e" stroke="none" stroke-width="1"/>
<rect x="361.10" y="280.10" width="3.40" height="3.40" fill="#c8102e" stroke="none" stroke-width="1"/>
<line x1="362.80" y1="279.50" x2="362.80" y2="284.20" stroke="#c8102e" stroke-width="0.8"/>
<line x1="361.30" y1="279.50" x2="364.30" y2="279.50" stroke="#c8102e" stroke-width="0.8"/>
<line x1="361.30" y1="284.20" x2="364.30" y2="284.20" stroke="#c8102e" stroke-width="0.8"/>
<path d="M303.0,303.1 L332.9,291.3 L362.8,270.9" fill="none" stroke="#22487a" stroke-width="1.0"/>
<rect x="301.40" y="301.50" width="3.20" height="3.20" fill="#22487a" stroke="none" stroke-width="1"/>
<rect x="331.30" y="289.70" width="3.20" height="3.20" fill="#22487a" stroke="none" stroke-width="1"/>
<rect x="361.20" y="269.30" width="3.20" height="3.20" fill="#22487a" stroke="none" stroke-width="1"/>
<line x1="303.00" y1="300.30" x2="303.00" y2="305.30" stroke="#22487a" stroke-width="0.8"/>
<line x1="301.50" y1="300.30" x2="304.50" y2="300.30" stroke="#22487a" stroke-width="0.8"/>
<line x1="301.50" y1="305.30" x2="304.50" y2="305.30" stroke="#22487a" stroke-width="0.8"/>
<line x1="332.90" y1="289.30" x2="332.90" y2="293.30" stroke="#22487a" stroke-width="0.8"/>
<line x1="331.40" y1="289.30" x2="334.40" y2="289.30" stroke="#22487a" stroke-width="0.8"/>
<line x1="331.40" y1="293.30" x2="334.40" y2="293.30" stroke="#22487a" stroke-width="0.8"/>
<path d="M303.0,294.5 L332.9,285.3 L362.8,270.9" fill="none" stroke="#3a9f3a" stroke-width="1.0"/>
<rect x="301.40" y="292.90" width="3.20" height="3.20" fill="#3a9f3a" stroke="none" stroke-width="1"/>
<rect x="331.30" y="283.70" width="3.20" height="3.20" fill="#3a9f3a" stroke="none" stroke-width="1"/>
<rect x="361.20" y="269.30" width="3.20" height="3.20" fill="#3a9f3a" stroke="none" stroke-width="1"/>
<line x1="303.00" y1="291.70" x2="303.00" y2="296.60" stroke="#3a9f3a" stroke-width="0.8"/>
<line x1="301.50" y1="291.70" x2="304.50" y2="291.70" stroke="#3a9f3a" stroke-width="0.8"/>
<line x1="301.50" y1="296.60" x2="304.50" y2="296.60" stroke="#3a9f3a" stroke-width="0.8"/>
<line x1="332.90" y1="281.80" x2="332.90" y2="288.70" stroke="#3a9f3a" stroke-width="0.8"/>
<line x1="331.40" y1="281.80" x2="334.40" y2="281.80" stroke="#3a9f3a" stroke-width="0.8"/>
<line x1="331.40" y1="288.70" x2="334.40" y2="288.70" stroke="#3a9f3a" stroke-width="0.8"/>
<line x1="362.80" y1="268.40" x2="362.80" y2="272.50" stroke="#2f6e52" stroke-width="0.8"/>
<line x1="361.30" y1="268.40" x2="364.30" y2="268.40" stroke="#2f6e52" stroke-width="0.8"/>
<line x1="361.30" y1="272.50" x2="364.30" y2="272.50" stroke="#2f6e52" stroke-width="0.8"/>
<text x="300.60" y="286.90" font-size="7.0" fill="#8a8a94" font-weight="bold" textLength="5.40" lengthAdjust="spacingAndGlyphs">**</text>
<text x="301.80" y="291.50" font-size="7.0" fill="#3e4b5e" font-weight="bold" textLength="2.80" lengthAdjust="spacingAndGlyphs">*</text>
<text x="331.60" y="275.80" font-size="7.0" fill="#405a40" font-weight="bold" textLength="2.80" lengthAdjust="spacingAndGlyphs">*</text>
<text x="328.70" y="281.00" font-size="7.0" fill="#3a4a62" font-weight="bold" textLength="8.00" lengthAdjust="spacingAndGlyphs">***</text>
<text x="361.60" y="264.60" font-size="7.0" fill="#8a9a8a" font-weight="bold" textLength="2.80" lengthAdjust="spacingAndGlyphs">*</text>
<text x="361.60" y="268.40" font-size="7.0" fill="#5a6470" font-weight="bold" textLength="2.80" lengthAdjust="spacingAndGlyphs">*</text>
<text x="330.30" y="321.80" font-size="7.0" fill="#b8b8c0" font-weight="bold" textLength="5.40" lengthAdjust="spacingAndGlyphs">**</text>
<text x="330.30" y="325.60" font-size="7.0" fill="#555" font-weight="bold" textLength="5.40" lengthAdjust="spacingAndGlyphs">**</text>
<text x="359.20" y="321.10" font-size="7.0" fill="#c8c8d0" font-weight="bold" textLength="7.60" lengthAdjust="spacingAndGlyphs">***</text>
<text x="361.60" y="325.30" font-size="7.0" fill="#444" font-weight="bold" textLength="2.80" lengthAdjust="spacingAndGlyphs">*</text>
<text x="302.00" y="332.90" font-size="7.0" fill="#bbb" font-weight="bold" textLength="2.80" lengthAdjust="spacingAndGlyphs">*</text>
<text x="403.20" y="254.60" font-size="8.2" fill="#242424" stroke="#242424" stroke-width="0.1" textLength="27.40" lengthAdjust="spacingAndGlyphs">Effecor:</text>
<text x="445.60" y="254.60" font-size="8.2" fill="#242424" stroke="#242424" stroke-width="0.1" textLength="23.90" lengthAdjust="spacingAndGlyphs">Target:</text>
<line x1="383.30" y1="267.80" x2="390.90" y2="267.80" stroke="#c8102e" stroke-width="1.0"/>
<circle cx="387.1" cy="267.8" r="1.2" fill="#c8102e"/>
<line x1="383.30" y1="277.90" x2="390.90" y2="277.90" stroke="#22487a" stroke-width="1.0"/>
<circle cx="387.1" cy="277.9" r="1.2" fill="#22487a"/>
<line x1="383.30" y1="288.00" x2="390.90" y2="288.00" stroke="#3a9f3a" stroke-width="1.0"/>
<circle cx="387.1" cy="288.0" r="1.2" fill="#3a9f3a"/>
<line x1="396.60" y1="265.10" x2="396.60" y2="290.70" stroke="#1a1a1a" stroke-width="1.1"/>
<text x="406.00" y="273.80" font-size="8.2" fill="#242424" stroke="#242424" stroke-width="0.1" textLength="20.80" lengthAdjust="spacingAndGlyphs">PD-L1</text>
<text x="405.30" y="283.80" font-size="8.2" fill="#242424" stroke="#242424" stroke-width="0.1" textLength="22.50" lengthAdjust="spacingAndGlyphs">CAR-T</text>
<text x="438.60" y="270.50" font-size="8.2" fill="#242424" stroke="#242424" stroke-width="0.1" textLength="69.80" lengthAdjust="spacingAndGlyphs">KK1 unmanipulated</text>
<text x="438.60" y="280.20" font-size="8.2" fill="#242424" stroke="#242424" stroke-width="0.1" textLength="59.80" lengthAdjust="spacingAndGlyphs">KK1 PD-L1-SV#7</text>
<text x="438.60" y="290.00" font-size="8.2" fill="#242424" stroke="#242424" stroke-width="0.1" textLength="74.80" lengthAdjust="spacingAndGlyphs">KK1 PD-L1-SV#15-12</text>
<line x1="383.30" y1="318.80" x2="390.90" y2="318.80" stroke="#454545" stroke-width="1.0"/>
<circle cx="387.1" cy="318.8" r="1.2" fill="#454545"/>
<line x1="383.30" y1="328.20" x2="390.90" y2="328.20" stroke="#2f6e52" stroke-width="1.0"/>
<circle cx="387.1" cy="328.2" r="1.2" fill="#2f6e52"/>
<line x1="383.30" y1="338.20" x2="390.90" y2="338.20" stroke="#c6c6c6" stroke-width="1.0"/>
<circle cx="387.1" cy="338.2" r="1.2" fill="#c6c6c6"/>
<line x1="396.60" y1="316.00" x2="396.60" y2="341.00" stroke="#1a1a1a" stroke-width="1.1"/>
<text x="406.90" y="326.70" font-size="8.2" fill="#242424" stroke="#242424" stroke-width="0.1" textLength="19.30" lengthAdjust="spacingAndGlyphs">mock</text>
<text x="414.40" y="336.20" font-size="8.2" fill="#242424" stroke="#242424" stroke-width="0.1" textLength="4.20" lengthAdjust="spacingAndGlyphs">T</text>
<text x="438.60" y="321.00" font-size="8.2" fill="#242424" stroke="#242424" stroke-width="0.1" textLength="69.80" lengthAdjust="spacingAndGlyphs">KK1 unmanipulated</text>
<text x="438.60" y="331.00" font-size="8.2" fill="#242424" stroke="#242424" stroke-width="0.1" textLength="59.80" lengthAdjust="spacingAndGlyphs">KK1 PD-L1-SV#7</text>
<text x="438.60" y="341.00" font-size="8.2" fill="#242424" stroke="#242424" stroke-width="0.1" textLength="74.80" lengthAdjust="spacingAndGlyphs">KK1 PD-L1-SV#15-12</text>
<text x="6.40" y="401.40" font-size="11.2" fill="#111" font-weight="bold">F</text>
<text x="123.60" y="415.20" font-size="8.2" fill="#242424" stroke="#242424" stroke-width="0.1" textLength="11.60" lengthAdjust="spacingAndGlyphs">4hr</text>
<line x1="58.40" y1="425.00" x2="58.40" y2="512.40" stroke="#1a1a1a" stroke-width="1.0"/>
<line x1="55.40" y1="427.90" x2="58.40" y2="427.90" stroke="#1a1a1a" stroke-width="1.0"/>
<text x="40.20" y="430.80" font-size="8.2" fill="#242424" stroke="#242424" stroke-width="0.1" textLength="12.40" lengthAdjust="spacingAndGlyphs">100</text>
<line x1="55.40" y1="444.80" x2="58.40" y2="444.80" stroke="#1a1a1a" stroke-width="1.0"/>
<text x="44.30" y="447.70" font-size="8.2" fill="#242424" stroke="#242424" stroke-width="0.1" textLength="8.30" lengthAdjust="spacingAndGlyphs">80</text>
<line x1="55.40" y1="461.70" x2="58.40" y2="461.70" stroke="#1a1a1a" stroke-width="1.0"/>
<text x="44.30" y="464.60" font-size="8.2" fill="#242424" stroke="#242424" stroke-width="0.1" textLength="8.30" lengthAdjust="spacingAndGlyphs">60</text>
<line x1="55.40" y1="478.60" x2="58.40" y2="478.60" stroke="#1a1a1a" stroke-width="1.0"/>
<text x="44.30" y="481.50" font-size="8.2" fill="#242424" stroke="#242424" stroke-width="0.1" textLength="8.30" lengthAdjust="spacingAndGlyphs">40</text>
<line x1="55.40" y1="495.50" x2="58.40" y2="495.50" stroke="#1a1a1a" stroke-width="1.0"/>
<text x="44.30" y="498.40" font-size="8.2" fill="#242424" stroke="#242424" stroke-width="0.1" textLength="8.30" lengthAdjust="spacingAndGlyphs">20</text>
<line x1="55.40" y1="512.40" x2="58.40" y2="512.40" stroke="#1a1a1a" stroke-width="1.0"/>
<text x="48.50" y="515.30" font-size="8.2" fill="#242424" stroke="#242424" stroke-width="0.1" textLength="4.10" lengthAdjust="spacingAndGlyphs">0</text>
<text x="33.20" y="495.10" font-size="8.2" fill="#242424" stroke="#242424" stroke-width="0.1" textLength="53.80" lengthAdjust="spacingAndGlyphs" transform="rotate(-90 33.20 495.10)">Specific lysis (%)</text>
<rect x="62.00" y="463.10" width="5.70" height="49.30" fill="#4a5567" stroke="none" stroke-width="1"/>
<line x1="64.85" y1="461.50" x2="64.85" y2="463.60" stroke="#4a5567" stroke-width="0.9"/>
<line x1="63.35" y1="461.50" x2="66.35" y2="461.50" stroke="#4a5567" stroke-width="0.9"/>
<rect x="70.10" y="455.90" width="5.80" height="56.50" fill="#4a5567" stroke="none" stroke-width="1"/>
<line x1="73.00" y1="454.10" x2="73.00" y2="456.40" stroke="#4a5567" stroke-width="0.9"/>
<line x1="71.50" y1="454.10" x2="74.50" y2="454.10" stroke="#4a5567" stroke-width="0.9"/>
<rect x="85.60" y="455.10" width="5.40" height="57.30" fill="#c8102e" stroke="none" stroke-width="1"/>
<line x1="88.30" y1="453.50" x2="88.30" y2="455.60" stroke="#c8102e" stroke-width="0.9"/>
<line x1="86.80" y1="453.50" x2="89.80" y2="453.50" stroke="#c8102e" stroke-width="0.9"/>
<rect x="94.60" y="449.70" width="5.50" height="62.70" fill="#c8102e" stroke="none" stroke-width="1"/>
<line x1="97.35" y1="448.30" x2="97.35" y2="450.20" stroke="#c8102e" stroke-width="0.9"/>
<line x1="95.85" y1="448.30" x2="98.85" y2="448.30" stroke="#c8102e" stroke-width="0.9"/>
<rect x="109.80" y="462.90" width="6.10" height="49.50" fill="#c6c6ca" stroke="none" stroke-width="1"/>
<line x1="112.85" y1="460.90" x2="112.85" y2="463.40" stroke="#c6c6ca" stroke-width="0.9"/>
<line x1="111.35" y1="460.90" x2="114.35" y2="460.90" stroke="#c6c6ca" stroke-width="0.9"/>
<rect x="119.20" y="451.40" width="5.70" height="61.00" fill="#c6c6ca" stroke="none" stroke-width="1"/>
<line x1="122.05" y1="449.40" x2="122.05" y2="451.90" stroke="#c6c6ca" stroke-width="0.9"/>
<line x1="120.55" y1="449.40" x2="123.55" y2="449.40" stroke="#c6c6ca" stroke-width="0.9"/>
<rect x="134.20" y="451.00" width="5.70" height="61.40" fill="#1b4a8a" stroke="none" stroke-width="1"/>
<line x1="137.05" y1="449.30" x2="137.05" y2="451.50" stroke="#1b4a8a" stroke-width="0.9"/>
<line x1="135.55" y1="449.30" x2="138.55" y2="449.30" stroke="#1b4a8a" stroke-width="0.9"/>
<rect x="143.60" y="441.10" width="5.40" height="71.30" fill="#1b4a8a" stroke="none" stroke-width="1"/>
<line x1="146.30" y1="440.00" x2="146.30" y2="441.60" stroke="#1b4a8a" stroke-width="0.9"/>
<line x1="144.80" y1="440.00" x2="147.80" y2="440.00" stroke="#1b4a8a" stroke-width="0.9"/>
<rect x="158.80" y="463.80" width="5.50" height="48.60" fill="#8d8d9c" stroke="none" stroke-width="1"/>
<line x1="161.55" y1="460.80" x2="161.55" y2="464.30" stroke="#8d8d9c" stroke-width="0.9"/>
<line x1="160.05" y1="460.80" x2="163.05" y2="460.80" stroke="#8d8d9c" stroke-width="0.9"/>
<rect x="168.00" y="449.00" width="5.50" height="63.40" fill="#8d8d9c" stroke="none" stroke-width="1"/>
<line x1="170.75" y1="448.00" x2="170.75" y2="449.50" stroke="#8d8d9c" stroke-width="0.9"/>
<line x1="169.25" y1="448.00" x2="172.25" y2="448.00" stroke="#8d8d9c" stroke-width="0.9"/>
<rect x="183.10" y="454.50" width="5.70" height="57.90" fill="#38a838" stroke="none" stroke-width="1"/>
<line x1="185.95" y1="453.40" x2="185.95" y2="455.00" stroke="#38a838" stroke-width="0.9"/>
<line x1="184.45" y1="453.40" x2="187.45" y2="453.40" stroke="#38a838" stroke-width="0.9"/>
<rect x="192.00" y="444.50" width="6.00" height="67.90" fill="#38a838" stroke="none" stroke-width="1"/>
<line x1="195.00" y1="443.40" x2="195.00" y2="445.00" stroke="#38a838" stroke-width="0.9"/>
<line x1="193.50" y1="443.40" x2="196.50" y2="443.40" stroke="#38a838" stroke-width="0.9"/>
<line x1="58.40" y1="512.40" x2="200.60" y2="512.40" stroke="#1a1a1a" stroke-width="1.0"/>
<line x1="64.85" y1="512.40" x2="64.85" y2="515.40" stroke="#1a1a1a" stroke-width="0.9"/>
<text x="66.79" y="529.60" font-size="6.6" fill="#242424" stroke="#242424" stroke-width="0.1" textLength="9.60" lengthAdjust="spacingAndGlyphs" transform="rotate(-90 66.79 529.60)">6:1</text>
<line x1="73.00" y1="512.40" x2="73.00" y2="515.40" stroke="#1a1a1a" stroke-width="0.9"/>
<text x="74.94" y="533.20" font-size="6.6" fill="#242424" stroke="#242424" stroke-width="0.1" textLength="13.20" lengthAdjust="spacingAndGlyphs" transform="rotate(-90 74.94 533.20)">12:1</text>
<line x1="88.30" y1="512.40" x2="88.30" y2="515.40" stroke="#1a1a1a" stroke-width="0.9"/>
<text x="90.24" y="529.60" font-size="6.6" fill="#242424" stroke="#242424" stroke-width="0.1" textLength="9.60" lengthAdjust="spacingAndGlyphs" transform="rotate(-90 90.24 529.60)">6:1</text>
<line x1="97.35" y1="512.40" x2="97.35" y2="515.40" stroke="#1a1a1a" stroke-width="0.9"/>
<text x="99.29" y="533.20" font-size="6.6" fill="#242424" stroke="#242424" stroke-width="0.1" textLength="13.20" lengthAdjust="spacingAndGlyphs" transform="rotate(-90 99.29 533.20)">12:1</text>
<line x1="112.85" y1="512.40" x2="112.85" y2="515.40" stroke="#1a1a1a" stroke-width="0.9"/>
<text x="114.79" y="529.60" font-size="6.6" fill="#242424" stroke="#242424" stroke-width="0.1" textLength="9.60" lengthAdjust="spacingAndGlyphs" transform="rotate(-90 114.79 529.60)">6:1</text>
<line x1="122.05" y1="512.40" x2="122.05" y2="515.40" stroke="#1a1a1a" stroke-width="0.9"/>
<text x="123.99" y="533.20" font-size="6.6" fill="#242424" stroke="#242424" stroke-width="0.1" textLength="13.20" lengthAdjust="spacingAndGlyphs" transform="rotate(-90 123.99 533.20)">12:1</text>
<line x1="137.05" y1="512.40" x2="137.05" y2="515.40" stroke="#1a1a1a" stroke-width="0.9"/>
<text x="138.99" y="529.60" font-size="6.6" fill="#242424" stroke="#242424" stroke-width="0.1" textLength="9.60" lengthAdjust="spacingAndGlyphs" transform="rotate(-90 138.99 529.60)">6:1</text>
<line x1="146.30" y1="512.40" x2="146.30" y2="515.40" stroke="#1a1a1a" stroke-width="0.9"/>
<text x="148.24" y="533.20" font-size="6.6" fill="#242424" stroke="#242424" stroke-width="0.1" textLength="13.20" lengthAdjust="spacingAndGlyphs" transform="rotate(-90 148.24 533.20)">12:1</text>
<line x1="161.55" y1="512.40" x2="161.55" y2="515.40" stroke="#1a1a1a" stroke-width="0.9"/>
<text x="163.49" y="529.60" font-size="6.6" fill="#242424" stroke="#242424" stroke-width="0.1" textLength="9.60" lengthAdjust="spacingAndGlyphs" transform="rotate(-90 163.49 529.60)">6:1</text>
<line x1="170.75" y1="512.40" x2="170.75" y2="515.40" stroke="#1a1a1a" stroke-width="0.9"/>
<text x="172.69" y="533.20" font-size="6.6" fill="#242424" stroke="#242424" stroke-width="0.1" textLength="13.20" lengthAdjust="spacingAndGlyphs" transform="rotate(-90 172.69 533.20)">12:1</text>
<line x1="185.95" y1="512.40" x2="185.95" y2="515.40" stroke="#1a1a1a" stroke-width="0.9"/>
<text x="187.89" y="529.60" font-size="6.6" fill="#242424" stroke="#242424" stroke-width="0.1" textLength="9.60" lengthAdjust="spacingAndGlyphs" transform="rotate(-90 187.89 529.60)">6:1</text>
<line x1="195.00" y1="512.40" x2="195.00" y2="515.40" stroke="#1a1a1a" stroke-width="0.9"/>
<text x="196.94" y="533.20" font-size="6.6" fill="#242424" stroke="#242424" stroke-width="0.1" textLength="13.20" lengthAdjust="spacingAndGlyphs" transform="rotate(-90 196.94 533.20)">12:1</text>
<line x1="64.30" y1="435.40" x2="88.70" y2="435.40" stroke="#7a7a7a" stroke-width="0.9"/>
<text x="73.70" y="434.70" font-size="7.0" fill="#e0304a" font-weight="bold" textLength="5.60" lengthAdjust="spacingAndGlyphs">**</text>
<line x1="73.10" y1="426.00" x2="97.70" y2="426.00" stroke="#7a7a7a" stroke-width="0.9"/>
<text x="82.50" y="425.30" font-size="7.0" fill="#e0304a" font-weight="bold" textLength="5.60" lengthAdjust="spacingAndGlyphs">**</text>
<line x1="112.10" y1="435.40" x2="136.30" y2="435.40" stroke="#7a7a7a" stroke-width="0.9"/>
<text x="120.00" y="434.70" font-size="7.0" fill="#2f6fb8" font-weight="bold" textLength="8.40" lengthAdjust="spacingAndGlyphs">***</text>
<line x1="121.90" y1="426.00" x2="145.90" y2="426.00" stroke="#7a7a7a" stroke-width="0.9"/>
<text x="131.10" y="425.30" font-size="7.0" fill="#2f6fb8" font-weight="bold" textLength="5.60" lengthAdjust="spacingAndGlyphs">**</text>
<line x1="160.90" y1="435.40" x2="184.80" y2="435.40" stroke="#7a7a7a" stroke-width="0.9"/>
<text x="171.50" y="434.70" font-size="7.0" fill="#3aa83a" font-weight="bold" textLength="2.80" lengthAdjust="spacingAndGlyphs">*</text>
<line x1="170.40" y1="426.00" x2="194.90" y2="426.00" stroke="#7a7a7a" stroke-width="0.9"/>
<text x="181.20" y="425.30" font-size="7.0" fill="#3aa83a" font-weight="bold" textLength="2.80" lengthAdjust="spacingAndGlyphs">*</text>
<text x="17.50" y="528.80" font-size="8.2" fill="#242424" stroke="#242424" stroke-width="0.1" textLength="27.50" lengthAdjust="spacingAndGlyphs">ET ratio</text>
<text x="7.00" y="543.80" font-size="8.2" fill="#242424" stroke="#242424" stroke-width="0.1" textLength="38.00" lengthAdjust="spacingAndGlyphs">Treatment:</text>
<text x="57.00" y="543.80" font-size="8.2" fill="#242424" stroke="#242424" stroke-width="0.1" textLength="23.80" lengthAdjust="spacingAndGlyphs">DMSO</text>
<text x="83.80" y="543.80" font-size="8.2" fill="#242424" stroke="#242424" stroke-width="0.1" textLength="18.20" lengthAdjust="spacingAndGlyphs">Pevo</text>
<text x="105.50" y="543.80" font-size="8.2" fill="#242424" stroke="#242424" stroke-width="0.1" textLength="24.00" lengthAdjust="spacingAndGlyphs">DMSO</text>
<text x="132.00" y="543.80" font-size="8.2" fill="#242424" stroke="#242424" stroke-width="0.1" textLength="18.00" lengthAdjust="spacingAndGlyphs">Pevo</text>
<text x="153.80" y="543.80" font-size="8.2" fill="#242424" stroke="#242424" stroke-width="0.1" textLength="24.20" lengthAdjust="spacingAndGlyphs">DMSO</text>
<text x="181.30" y="543.80" font-size="8.2" fill="#242424" stroke="#242424" stroke-width="0.1" textLength="18.20" lengthAdjust="spacingAndGlyphs">Pevo</text>
<line x1="59.30" y1="549.00" x2="78.80" y2="549.00" stroke="#858585" stroke-width="1.0"/>
<line x1="83.30" y1="549.00" x2="103.00" y2="549.00" stroke="#858585" stroke-width="1.0"/>
<line x1="107.50" y1="549.00" x2="128.00" y2="549.00" stroke="#858585" stroke-width="1.0"/>
<line x1="132.00" y1="549.00" x2="151.30" y2="549.00" stroke="#858585" stroke-width="1.0"/>
<line x1="156.30" y1="549.00" x2="176.30" y2="549.00" stroke="#858585" stroke-width="1.0"/>
<line x1="180.50" y1="549.00" x2="200.50" y2="549.00" stroke="#858585" stroke-width="1.0"/>
<text x="15.00" y="561.30" font-size="8.2" fill="#242424" stroke="#242424" stroke-width="0.1" textLength="30.00" lengthAdjust="spacingAndGlyphs">Effector:</text>
<text x="103.80" y="561.30" font-size="8.2" fill="#242424" stroke="#242424" stroke-width="0.1" textLength="47.50" lengthAdjust="spacingAndGlyphs">PD-L1 CAR-T</text>
<line x1="58.30" y1="566.50" x2="197.00" y2="566.50" stroke="#383838" stroke-width="1.0"/>
<text x="20.50" y="587.00" font-size="8.2" fill="#242424" stroke="#242424" stroke-width="0.1" textLength="24.50" lengthAdjust="spacingAndGlyphs">Target:</text>
<text x="72.90" y="575.80" font-size="8.2" fill="#242424" stroke="#242424" stroke-width="0.1" textLength="15.00" lengthAdjust="spacingAndGlyphs">KK1</text>
<text x="67.00" y="585.60" font-size="8.2" fill="#242424" stroke="#242424" stroke-width="0.1" textLength="26.80" lengthAdjust="spacingAndGlyphs">unmani</text>
<text x="66.65" y="594.60" font-size="8.2" fill="#242424" stroke="#242424" stroke-width="0.1" textLength="27.50" lengthAdjust="spacingAndGlyphs">-pulated</text>
<text x="121.30" y="575.80" font-size="8.2" fill="#242424" stroke="#242424" stroke-width="0.1" textLength="13.80" lengthAdjust="spacingAndGlyphs">KK1</text>
<text x="117.55" y="585.60" font-size="8.2" fill="#242424" stroke="#242424" stroke-width="0.1" textLength="21.30" lengthAdjust="spacingAndGlyphs">PD-L1</text>
<text x="117.80" y="594.60" font-size="8.2" fill="#242424" stroke="#242424" stroke-width="0.1" textLength="20.80" lengthAdjust="spacingAndGlyphs">-SV#7</text>
<text x="169.40" y="575.80" font-size="8.2" fill="#242424" stroke="#242424" stroke-width="0.1" textLength="13.80" lengthAdjust="spacingAndGlyphs">KK1</text>
<text x="165.55" y="585.60" font-size="8.2" fill="#242424" stroke="#242424" stroke-width="0.1" textLength="21.50" lengthAdjust="spacingAndGlyphs">PD-L1</text>
<text x="157.80" y="594.60" font-size="8.2" fill="#242424" stroke="#242424" stroke-width="0.1" textLength="37.00" lengthAdjust="spacingAndGlyphs">-SV#15-12</text>
<line x1="60.00" y1="600.50" x2="100.50" y2="600.50" stroke="#404040" stroke-width="1.0"/>
<line x1="108.80" y1="600.50" x2="148.80" y2="600.50" stroke="#404040" stroke-width="1.0"/>
<line x1="157.00" y1="600.50" x2="197.00" y2="600.50" stroke="#404040" stroke-width="1.0"/>
<text x="228.40" y="401.80" font-size="11.2" fill="#111" font-weight="bold">G</text>
<text x="303.80" y="415.70" font-size="8.2" fill="#242424" stroke="#242424" stroke-width="0.1" textLength="9.40" lengthAdjust="spacingAndGlyphs">3hr</text>
<line x1="285.00" y1="425.30" x2="285.00" y2="512.40" stroke="#1a1a1a" stroke-width="1.0"/>
<line x1="282.00" y1="428.10" x2="285.00" y2="428.10" stroke="#1a1a1a" stroke-width="1.0"/>
<text x="268.30" y="431.00" font-size="8.2" fill="#242424" stroke="#242424" stroke-width="0.1" textLength="12.40" lengthAdjust="spacingAndGlyphs">100</text>
<line x1="282.00" y1="444.96" x2="285.00" y2="444.96" stroke="#1a1a1a" stroke-width="1.0"/>
<text x="272.40" y="447.86" font-size="8.2" fill="#242424" stroke="#242424" stroke-width="0.1" textLength="8.30" lengthAdjust="spacingAndGlyphs">80</text>
<line x1="282.00" y1="461.82" x2="285.00" y2="461.82" stroke="#1a1a1a" stroke-width="1.0"/>
<text x="272.40" y="464.72" font-size="8.2" fill="#242424" stroke="#242424" stroke-width="0.1" textLength="8.30" lengthAdjust="spacingAndGlyphs">60</text>
<line x1="282.00" y1="478.68" x2="285.00" y2="478.68" stroke="#1a1a1a" stroke-width="1.0"/>
<text x="272.40" y="481.58" font-size="8.2" fill="#242424" stroke="#242424" stroke-width="0.1" textLength="8.30" lengthAdjust="spacingAndGlyphs">40</text>
<line x1="282.00" y1="495.54" x2="285.00" y2="495.54" stroke="#1a1a1a" stroke-width="1.0"/>
<text x="272.40" y="498.44" font-size="8.2" fill="#242424" stroke="#242424" stroke-width="0.1" textLength="8.30" lengthAdjust="spacingAndGlyphs">20</text>
<line x1="282.00" y1="512.40" x2="285.00" y2="512.40" stroke="#1a1a1a" stroke-width="1.0"/>
<text x="276.60" y="515.30" font-size="8.2" fill="#242424" stroke="#242424" stroke-width="0.1" textLength="4.10" lengthAdjust="spacingAndGlyphs">0</text>
<text x="260.10" y="495.10" font-size="8.2" fill="#242424" stroke="#242424" stroke-width="0.1" textLength="53.30" lengthAdjust="spacingAndGlyphs" transform="rotate(-90 260.10 495.10)">Specific lysis (%)</text>
<rect x="289.30" y="463.90" width="5.30" height="48.50" fill="#4a5567" stroke="none" stroke-width="1"/>
<line x1="291.95" y1="462.20" x2="291.95" y2="464.40" stroke="#4a5567" stroke-width="0.9"/>
<line x1="290.45" y1="462.20" x2="293.45" y2="462.20" stroke="#4a5567" stroke-width="0.9"/>
<rect x="298.50" y="453.60" width="5.30" height="58.80" fill="#4a5567" stroke="none" stroke-width="1"/>
<line x1="301.15" y1="452.60" x2="301.15" y2="454.10" stroke="#4a5567" stroke-width="0.9"/>
<line x1="299.65" y1="452.60" x2="302.65" y2="452.60" stroke="#4a5567" stroke-width="0.9"/>
<rect x="314.30" y="451.70" width="5.40" height="60.70" fill="#c8102e" stroke="none" stroke-width="1"/>
<line x1="317.00" y1="450.80" x2="317.00" y2="452.20" stroke="#c8102e" stroke-width="0.9"/>
<line x1="315.50" y1="450.80" x2="318.50" y2="450.80" stroke="#c8102e" stroke-width="0.9"/>
<rect x="323.50" y="440.70" width="5.80" height="71.70" fill="#c8102e" stroke="none" stroke-width="1"/>
<line x1="326.40" y1="439.60" x2="326.40" y2="441.20" stroke="#c8102e" stroke-width="0.9"/>
<line x1="324.90" y1="439.60" x2="327.90" y2="439.60" stroke="#c8102e" stroke-width="0.9"/>
<line x1="285.00" y1="512.40" x2="331.70" y2="512.40" stroke="#1a1a1a" stroke-width="1.0"/>
<line x1="291.95" y1="512.40" x2="291.95" y2="515.40" stroke="#1a1a1a" stroke-width="0.9"/>
<text x="293.89" y="529.00" font-size="6.6" fill="#242424" stroke="#242424" stroke-width="0.1" textLength="9.60" lengthAdjust="spacingAndGlyphs" transform="rotate(-90 293.89 529.00)">6:1</text>
<line x1="301.15" y1="512.40" x2="301.15" y2="515.40" stroke="#1a1a1a" stroke-width="0.9"/>
<text x="303.09" y="532.60" font-size="6.6" fill="#242424" stroke="#242424" stroke-width="0.1" textLength="13.20" lengthAdjust="spacingAndGlyphs" transform="rotate(-90 303.09 532.60)">12:1</text>
<line x1="317.00" y1="512.40" x2="317.00" y2="515.40" stroke="#1a1a1a" stroke-width="0.9"/>
<text x="318.94" y="529.00" font-size="6.6" fill="#242424" stroke="#242424" stroke-width="0.1" textLength="9.60" lengthAdjust="spacingAndGlyphs" transform="rotate(-90 318.94 529.00)">6:1</text>
<line x1="326.40" y1="512.40" x2="326.40" y2="515.40" stroke="#1a1a1a" stroke-width="0.9"/>
<text x="328.34" y="532.60" font-size="6.6" fill="#242424" stroke="#242424" stroke-width="0.1" textLength="13.20" lengthAdjust="spacingAndGlyphs" transform="rotate(-90 328.34 532.60)">12:1</text>
<line x1="291.80" y1="426.80" x2="314.50" y2="426.80" stroke="#7a7a7a" stroke-width="0.9"/>
<text x="299.50" y="426.10" font-size="7.0" fill="#e0304a" font-weight="bold" textLength="8.40" lengthAdjust="spacingAndGlyphs">***</text>
<line x1="303.80" y1="431.80" x2="327.80" y2="431.80" stroke="#7a7a7a" stroke-width="0.9"/>
<text x="311.30" y="431.10" font-size="7.0" fill="#e0304a" font-weight="bold" textLength="8.40" lengthAdjust="spacingAndGlyphs">***</text>
<text x="244.40" y="530.80" font-size="8.2" fill="#242424" stroke="#242424" stroke-width="0.1" textLength="30.00" lengthAdjust="spacingAndGlyphs">ET ratio:</text>
<text x="235.90" y="543.10" font-size="8.2" fill="#242424" stroke="#242424" stroke-width="0.1" textLength="38.50" lengthAdjust="spacingAndGlyphs">Treatment:</text>
<text x="284.00" y="543.10" font-size="8.2" fill="#242424" stroke="#242424" stroke-width="0.1" textLength="23.20" lengthAdjust="spacingAndGlyphs">DMSO</text>
<text x="312.50" y="543.10" font-size="8.2" fill="#242424" stroke="#242424" stroke-width="0.1" textLength="18.00" lengthAdjust="spacingAndGlyphs">Pevo</text>
<text x="243.80" y="560.00" font-size="8.2" fill="#242424" stroke="#242424" stroke-width="0.1" textLength="30.60" lengthAdjust="spacingAndGlyphs">Effector:</text>
<text x="284.60" y="560.00" font-size="8.2" fill="#242424" stroke="#242424" stroke-width="0.1" textLength="47.40" lengthAdjust="spacingAndGlyphs">PD-L1 CAR-T</text>
<text x="250.10" y="575.20" font-size="8.2" fill="#242424" stroke="#242424" stroke-width="0.1" textLength="24.30" lengthAdjust="spacingAndGlyphs">Target:</text>
<text x="301.90" y="575.20" font-size="8.2" fill="#242424" stroke="#242424" stroke-width="0.1" textLength="12.70" lengthAdjust="spacingAndGlyphs">ST1</text>
<line x1="285.60" y1="546.50" x2="306.00" y2="546.50" stroke="#404040" stroke-width="1.0"/>
<line x1="311.60" y1="546.50" x2="332.40" y2="546.50" stroke="#404040" stroke-width="1.0"/>
<line x1="284.20" y1="565.50" x2="332.90" y2="565.50" stroke="#404040" stroke-width="1.0"/>
<text x="360.60" y="402.00" font-size="11.2" fill="#111" font-weight="bold">H</text>
<text x="427.80" y="416.00" font-size="8.2" fill="#242424" stroke="#242424" stroke-width="0.1" textLength="11.90" lengthAdjust="spacingAndGlyphs">3hr</text>
<line x1="410.50" y1="425.50" x2="410.50" y2="512.60" stroke="#1a1a1a" stroke-width="1.0"/>
<line x1="407.50" y1="428.00" x2="410.50" y2="428.00" stroke="#1a1a1a" stroke-width="1.0"/>
<text x="395.90" y="430.90" font-size="8.2" fill="#242424" stroke="#242424" stroke-width="0.1" textLength="8.50" lengthAdjust="spacingAndGlyphs">60</text>
<line x1="407.50" y1="456.20" x2="410.50" y2="456.20" stroke="#1a1a1a" stroke-width="1.0"/>
<text x="395.90" y="459.10" font-size="8.2" fill="#242424" stroke="#242424" stroke-width="0.1" textLength="8.50" lengthAdjust="spacingAndGlyphs">40</text>
<line x1="407.50" y1="484.40" x2="410.50" y2="484.40" stroke="#1a1a1a" stroke-width="1.0"/>
<text x="395.90" y="487.30" font-size="8.2" fill="#242424" stroke="#242424" stroke-width="0.1" textLength="8.50" lengthAdjust="spacingAndGlyphs">20</text>
<line x1="407.50" y1="512.60" x2="410.50" y2="512.60" stroke="#1a1a1a" stroke-width="1.0"/>
<text x="400.20" y="515.50" font-size="8.2" fill="#242424" stroke="#242424" stroke-width="0.1" textLength="4.20" lengthAdjust="spacingAndGlyphs">0</text>
<text x="389.50" y="494.60" font-size="8.2" fill="#242424" stroke="#242424" stroke-width="0.1" textLength="52.80" lengthAdjust="spacingAndGlyphs" transform="rotate(-90 389.50 494.60)">Specific lysis (%)</text>
<rect x="413.60" y="504.10" width="5.90" height="8.50" fill="#4a5567" stroke="none" stroke-width="1"/>
<line x1="416.55" y1="494.30" x2="416.55" y2="504.60" stroke="#4a5567" stroke-width="0.9"/>
<line x1="415.05" y1="494.30" x2="418.05" y2="494.30" stroke="#4a5567" stroke-width="0.9"/>
<rect x="422.80" y="507.20" width="6.20" height="5.40" fill="#4a5567" stroke="none" stroke-width="1"/>
<line x1="425.90" y1="502.10" x2="425.90" y2="507.70" stroke="#4a5567" stroke-width="0.9"/>
<line x1="424.40" y1="502.10" x2="427.40" y2="502.10" stroke="#4a5567" stroke-width="0.9"/>
<rect x="439.10" y="447.50" width="5.80" height="65.10" fill="#c8102e" stroke="none" stroke-width="1"/>
<line x1="442.00" y1="436.20" x2="442.00" y2="448.00" stroke="#c8102e" stroke-width="0.9"/>
<line x1="440.50" y1="436.20" x2="443.50" y2="436.20" stroke="#c8102e" stroke-width="0.9"/>
<rect x="448.40" y="436.20" width="5.70" height="76.40" fill="#c8102e" stroke="none" stroke-width="1"/>
<line x1="451.25" y1="433.10" x2="451.25" y2="436.70" stroke="#c8102e" stroke-width="0.9"/>
<line x1="449.75" y1="433.10" x2="452.75" y2="433.10" stroke="#c8102e" stroke-width="0.9"/>
<line x1="410.50" y1="512.60" x2="457.20" y2="512.60" stroke="#1a1a1a" stroke-width="1.0"/>
<line x1="416.55" y1="512.60" x2="416.55" y2="515.60" stroke="#1a1a1a" stroke-width="0.9"/>
<text x="418.49" y="529.00" font-size="6.6" fill="#242424" stroke="#242424" stroke-width="0.1" textLength="9.60" lengthAdjust="spacingAndGlyphs" transform="rotate(-90 418.49 529.00)">6:1</text>
<line x1="425.90" y1="512.60" x2="425.90" y2="515.60" stroke="#1a1a1a" stroke-width="0.9"/>
<text x="427.84" y="532.60" font-size="6.6" fill="#242424" stroke="#242424" stroke-width="0.1" textLength="13.20" lengthAdjust="spacingAndGlyphs" transform="rotate(-90 427.84 532.60)">12:1</text>
<line x1="442.00" y1="512.60" x2="442.00" y2="515.60" stroke="#1a1a1a" stroke-width="0.9"/>
<text x="443.94" y="529.00" font-size="6.6" fill="#242424" stroke="#242424" stroke-width="0.1" textLength="9.60" lengthAdjust="spacingAndGlyphs" transform="rotate(-90 443.94 529.00)">6:1</text>
<line x1="451.25" y1="512.60" x2="451.25" y2="515.60" stroke="#1a1a1a" stroke-width="0.9"/>
<text x="453.19" y="532.60" font-size="6.6" fill="#242424" stroke="#242424" stroke-width="0.1" textLength="13.20" lengthAdjust="spacingAndGlyphs" transform="rotate(-90 453.19 532.60)">12:1</text>
<line x1="417.10" y1="426.50" x2="439.70" y2="426.50" stroke="#7a7a7a" stroke-width="0.9"/>
<text x="426.60" y="425.80" font-size="7.0" fill="#e0304a" font-weight="bold" textLength="5.60" lengthAdjust="spacingAndGlyphs">**</text>
<line x1="427.80" y1="432.10" x2="450.00" y2="432.10" stroke="#7a7a7a" stroke-width="0.9"/>
<text x="435.70" y="431.40" font-size="7.0" fill="#e0304a" font-weight="bold" textLength="8.40" lengthAdjust="spacingAndGlyphs">***</text>
<text x="369.40" y="530.80" font-size="8.2" fill="#242424" stroke="#242424" stroke-width="0.1" textLength="30.00" lengthAdjust="spacingAndGlyphs">ET ratio:</text>
<text x="360.90" y="543.10" font-size="8.2" fill="#242424" stroke="#242424" stroke-width="0.1" textLength="38.50" lengthAdjust="spacingAndGlyphs">Treatment:</text>
<text x="408.90" y="543.10" font-size="8.2" fill="#242424" stroke="#242424" stroke-width="0.1" textLength="23.30" lengthAdjust="spacingAndGlyphs">DMSO</text>
<text x="437.50" y="543.10" font-size="8.2" fill="#242424" stroke="#242424" stroke-width="0.1" textLength="18.00" lengthAdjust="spacingAndGlyphs">Pevo</text>
<text x="368.80" y="560.00" font-size="8.2" fill="#242424" stroke="#242424" stroke-width="0.1" textLength="30.60" lengthAdjust="spacingAndGlyphs">Effector:</text>
<text x="409.60" y="560.00" font-size="8.2" fill="#242424" stroke="#242424" stroke-width="0.1" textLength="47.40" lengthAdjust="spacingAndGlyphs">PD-L1 CAR-T</text>
<text x="375.10" y="575.20" font-size="8.2" fill="#242424" stroke="#242424" stroke-width="0.1" textLength="24.30" lengthAdjust="spacingAndGlyphs">Target:</text>
<text x="419.50" y="575.20" font-size="8.2" fill="#242424" stroke="#242424" stroke-width="0.1" textLength="28.60" lengthAdjust="spacingAndGlyphs">TL-Om1</text>
<line x1="410.40" y1="546.50" x2="430.10" y2="546.50" stroke="#404040" stroke-width="1.0"/>
<line x1="437.10" y1="546.50" x2="456.30" y2="546.50" stroke="#404040" stroke-width="1.0"/>
<line x1="409.60" y1="565.50" x2="457.80" y2="565.50" stroke="#404040" stroke-width="1.0"/>
</svg>
</body></html>
